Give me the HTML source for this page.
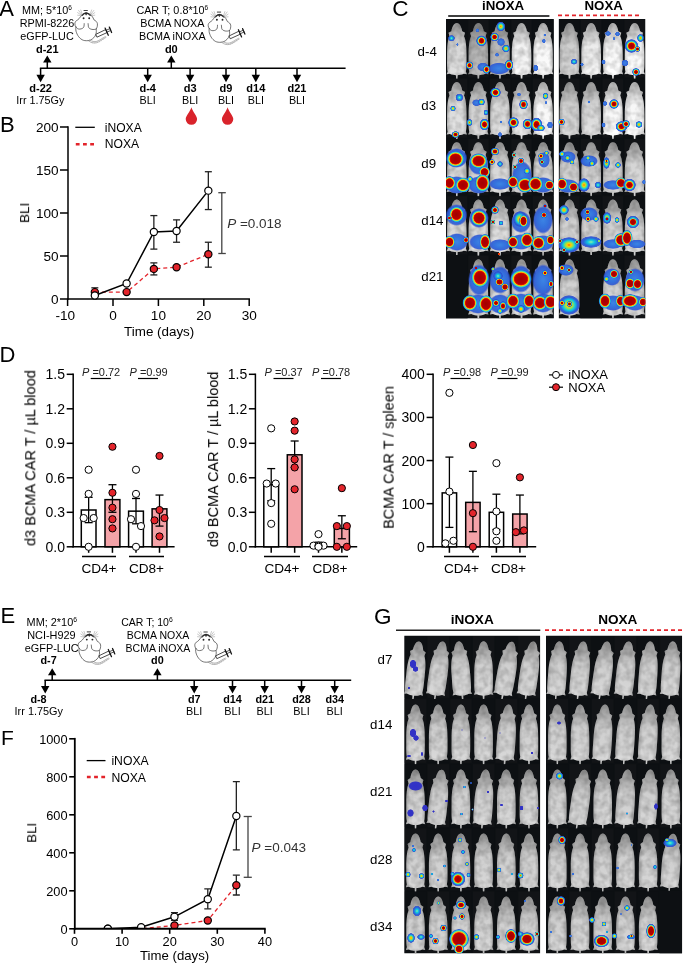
<!DOCTYPE html>
<html><head><meta charset="utf-8"><style>html,body{margin:0;padding:0;background:#fff;}svg{display:block;font-family:"Liberation Sans",sans-serif;-webkit-font-smoothing:antialiased;}text{will-change:transform;}</style></head><body>
<svg width="685" height="963" viewBox="0 0 685 963" font-family='"Liberation Sans", sans-serif'>
<rect width="685" height="963" fill="#fff"/>
<defs>
<filter id="tex" x="0" y="0" width="1" height="1"><feTurbulence type="fractalNoise" baseFrequency="0.16" numOctaves="2" seed="3" result="n"/><feColorMatrix in="n" type="matrix" values="0 0 0 0 0  0 0 0 0 0  0 0 0 0 0  0 0 0 -1.6 1.05" result="a"/><feComposite in="a" in2="SourceGraphic" operator="in"/></filter>
<radialGradient id="hr"><stop offset="0" stop-color="#980000"/><stop offset="0.36" stop-color="#c00000"/><stop offset="0.46" stop-color="#f02000"/><stop offset="0.54" stop-color="#ffd000"/><stop offset="0.61" stop-color="#80e060"/><stop offset="0.68" stop-color="#10c8e0"/><stop offset="0.8" stop-color="#2a60d8"/><stop offset="0.92" stop-color="#2a4ad0" stop-opacity="0.85"/><stop offset="1" stop-color="#2a4ad0" stop-opacity="0"/></radialGradient>
<radialGradient id="hy"><stop offset="0" stop-color="#ff6000"/><stop offset="0.18" stop-color="#ffd000"/><stop offset="0.38" stop-color="#80e060"/><stop offset="0.55" stop-color="#10c8e0"/><stop offset="0.78" stop-color="#2a60d8"/><stop offset="0.92" stop-color="#2a4ad0" stop-opacity="0.85"/><stop offset="1" stop-color="#2a4ad0" stop-opacity="0"/></radialGradient>
<radialGradient id="hc"><stop offset="0" stop-color="#90f0a0"/><stop offset="0.3" stop-color="#10c8e0"/><stop offset="0.7" stop-color="#2a60d8"/><stop offset="0.9" stop-color="#2a4ad0" stop-opacity="0.8"/><stop offset="1" stop-color="#2a4ad0" stop-opacity="0"/></radialGradient>
<radialGradient id="hb"><stop offset="0" stop-color="#3c84e4"/><stop offset="0.55" stop-color="#3470dc"/><stop offset="0.85" stop-color="#2c58d4" stop-opacity="0.9"/><stop offset="1" stop-color="#2a4ad0" stop-opacity="0"/></radialGradient>
<radialGradient id="hB"><stop offset="0" stop-color="#3030c8"/><stop offset="0.8" stop-color="#3234c4"/><stop offset="1" stop-color="#3234c4" stop-opacity="0"/></radialGradient>
<radialGradient id="hR"><stop offset="0" stop-color="#a00000"/><stop offset="0.55" stop-color="#b80000"/><stop offset="0.64" stop-color="#e81800"/><stop offset="0.71" stop-color="#ffc000"/><stop offset="0.79" stop-color="#80e070"/><stop offset="0.87" stop-color="#18c0e0"/><stop offset="0.95" stop-color="#2a60d8"/><stop offset="1" stop-color="#2a50d0" stop-opacity="0.4"/></radialGradient>
<linearGradient id="mg" x1="0" y1="0" x2="0" y2="1"><stop offset="0" stop-color="#000" stop-opacity="0.32"/><stop offset="0.2" stop-color="#000" stop-opacity="0.18"/><stop offset="0.4" stop-color="#000" stop-opacity="0.03"/><stop offset="0.85" stop-color="#fff" stop-opacity="0.06"/><stop offset="1" stop-color="#000" stop-opacity="0.15"/></linearGradient>
<linearGradient id="mh" x1="0" y1="0" x2="1" y2="0"><stop offset="0" stop-color="#000" stop-opacity="0.18"/><stop offset="0.2" stop-color="#000" stop-opacity="0"/><stop offset="0.8" stop-color="#000" stop-opacity="0"/><stop offset="1" stop-color="#000" stop-opacity="0.18"/></linearGradient>
</defs>
<text x="-0.80" y="16.00" font-size="22" text-anchor="start" font-weight="normal" font-style="normal" fill="#000" >A</text>
<text x="47.00" y="14.00" font-size="10.8" text-anchor="middle" font-weight="normal" font-style="normal" fill="#000" >MM; 5*10<tspan font-size="6.5" dy="-4">6</tspan></text>
<text x="47.00" y="26.80" font-size="10.8" text-anchor="middle" font-weight="normal" font-style="normal" fill="#000" >RPMI-8226</text>
<text x="47.00" y="39.60" font-size="10.8" text-anchor="middle" font-weight="normal" font-style="normal" fill="#000" >eGFP-LUC</text>
<text x="172.30" y="14.00" font-size="10.8" text-anchor="middle" font-weight="normal" font-style="normal" fill="#000" >CAR T; 0.8*10<tspan font-size="6.5" dy="-4">6</tspan></text>
<text x="172.30" y="26.80" font-size="10.8" text-anchor="middle" font-weight="normal" font-style="normal" fill="#000" >BCMA NOXA</text>
<text x="172.30" y="39.60" font-size="10.8" text-anchor="middle" font-weight="normal" font-style="normal" fill="#000" >BCMA iNOXA</text>
<g transform="translate(0.00,0.00)" fill="none" stroke="#2a2a2a" stroke-width="0.65" stroke-linecap="round" stroke-linejoin="round">
<path fill="#fff" d="M86.1,12.8 C84,12.8 81.8,15 80.3,17 C79.5,18.3 78.6,19.2 77.8,19.8 C75.6,20.8 74.8,22.5 74.9,23.8 C74.9,25.2 75.3,26.2 75.9,26.8 C75.6,29 75.8,31 76.5,32.6 C77.8,36.5 81,40.2 84.8,40.6 C87,40.9 89,40.6 90.6,40 C93,38.8 95,36.8 95.8,34.5 C96.5,32.5 96.4,30.5 96.1,29 C97.2,27.8 97.6,25.5 97.4,23.6 C97,21.8 95.6,20.6 94.2,20.1 C93.6,19 93.2,18 92.6,17 C90.8,14.6 88.4,12.8 86.1,12.8 Z"/>
<path d="M75.9,26.8 C76.6,28.3 78,29.2 79.7,29.1 C81.8,29 83.6,28 83.9,26.6 C84.2,25.5 84.2,24.4 84.2,23.6"/>
<path d="M96.1,29 C95,29.6 93.4,29.6 91.9,29.4 C90,29 88.6,28 88.4,26.8 C88.2,25.6 88.2,24.5 88.1,23.6"/>
<path d="M82.2,15.2 C83.5,13.8 84.8,13.1 86.1,13.1 C87.4,13.1 88.8,13.8 90.2,15.2" stroke-width="1.3"/>
<path d="M85.2,13.6 L86.1,15.2 L87,13.6 Z" fill="#222" stroke-width="0.5"/>
<path d="M84,10.5 L87.4,10.5" stroke-width="0.9"/>
<circle cx="83.6" cy="18.2" r="0.95" fill="#222" stroke="none"/>
<circle cx="89.2" cy="18.2" r="0.95" fill="#222" stroke="none"/>
<path stroke="#777" stroke-width="0.4" d="M82,15 L78.6,10.4 M81.6,15.3 L77.6,12.6 M81.4,15.6 L77.6,15.2 M82.4,14.6 L80.8,10"/>
<path stroke="#777" stroke-width="0.4" d="M90.4,15 L93.8,10.4 M90.8,15.3 L94.8,12.6 M91,15.6 L94.8,15.2 M90,14.6 L91.6,10"/>
<path d="M96.1,34.2 L105.6,29.6 L107.0,32.6 L97.3,37.0 Z" fill="#fff" stroke-width="0.85"/>
<path d="M105.1,28.1 L108.3,35.3 M109.3,27.1 L111.6,32.5" stroke-width="1.25" stroke="#111"/>
<path d="M106.4,30.2 L110.2,28.5 M107.2,32.0 L110.9,30.4" stroke-width="0.8"/>
<path stroke="#888" stroke-width="0.6" d="M88.2,40.6 C90.5,42.8 93.5,43.4 96.4,42.8 C99.5,42 102.5,39 106,37.4"/>
<path stroke="#888" stroke-width="0.6" d="M89.8,40.0 C92,41.6 94.5,41.9 96.6,41.4 C99.5,40.5 102,38.2 105.4,36.6"/>
<path stroke="#aaa" stroke-width="0.45" d="M93,41.6 L92.6,42.9 M95,41.6 L94.8,43 M97,41.3 L97.2,42.6 M99,40.6 L99.4,41.9 M101,39.6 L101.4,40.8 M103,38.3 L103.4,39.5"/>
</g>
<g transform="translate(133.30,1.60)" fill="none" stroke="#2a2a2a" stroke-width="0.65" stroke-linecap="round" stroke-linejoin="round">
<path fill="#fff" d="M86.1,12.8 C84,12.8 81.8,15 80.3,17 C79.5,18.3 78.6,19.2 77.8,19.8 C75.6,20.8 74.8,22.5 74.9,23.8 C74.9,25.2 75.3,26.2 75.9,26.8 C75.6,29 75.8,31 76.5,32.6 C77.8,36.5 81,40.2 84.8,40.6 C87,40.9 89,40.6 90.6,40 C93,38.8 95,36.8 95.8,34.5 C96.5,32.5 96.4,30.5 96.1,29 C97.2,27.8 97.6,25.5 97.4,23.6 C97,21.8 95.6,20.6 94.2,20.1 C93.6,19 93.2,18 92.6,17 C90.8,14.6 88.4,12.8 86.1,12.8 Z"/>
<path d="M75.9,26.8 C76.6,28.3 78,29.2 79.7,29.1 C81.8,29 83.6,28 83.9,26.6 C84.2,25.5 84.2,24.4 84.2,23.6"/>
<path d="M96.1,29 C95,29.6 93.4,29.6 91.9,29.4 C90,29 88.6,28 88.4,26.8 C88.2,25.6 88.2,24.5 88.1,23.6"/>
<path d="M82.2,15.2 C83.5,13.8 84.8,13.1 86.1,13.1 C87.4,13.1 88.8,13.8 90.2,15.2" stroke-width="1.3"/>
<path d="M85.2,13.6 L86.1,15.2 L87,13.6 Z" fill="#222" stroke-width="0.5"/>
<path d="M84,10.5 L87.4,10.5" stroke-width="0.9"/>
<circle cx="83.6" cy="18.2" r="0.95" fill="#222" stroke="none"/>
<circle cx="89.2" cy="18.2" r="0.95" fill="#222" stroke="none"/>
<path stroke="#777" stroke-width="0.4" d="M82,15 L78.6,10.4 M81.6,15.3 L77.6,12.6 M81.4,15.6 L77.6,15.2 M82.4,14.6 L80.8,10"/>
<path stroke="#777" stroke-width="0.4" d="M90.4,15 L93.8,10.4 M90.8,15.3 L94.8,12.6 M91,15.6 L94.8,15.2 M90,14.6 L91.6,10"/>
<path d="M96.1,34.2 L105.6,29.6 L107.0,32.6 L97.3,37.0 Z" fill="#fff" stroke-width="0.85"/>
<path d="M105.1,28.1 L108.3,35.3 M109.3,27.1 L111.6,32.5" stroke-width="1.25" stroke="#111"/>
<path d="M106.4,30.2 L110.2,28.5 M107.2,32.0 L110.9,30.4" stroke-width="0.8"/>
<path stroke="#888" stroke-width="0.6" d="M88.2,40.6 C90.5,42.8 93.5,43.4 96.4,42.8 C99.5,42 102.5,39 106,37.4"/>
<path stroke="#888" stroke-width="0.6" d="M89.8,40.0 C92,41.6 94.5,41.9 96.6,41.4 C99.5,40.5 102,38.2 105.4,36.6"/>
<path stroke="#aaa" stroke-width="0.45" d="M93,41.6 L92.6,42.9 M95,41.6 L94.8,43 M97,41.3 L97.2,42.6 M99,40.6 L99.4,41.9 M101,39.6 L101.4,40.8 M103,38.3 L103.4,39.5"/>
</g>
<line x1="39.85" y1="68.20" x2="345.60" y2="68.20" stroke="#000" stroke-width="1.5" />
<line x1="47.30" y1="68.20" x2="47.30" y2="61.40" stroke="#000" stroke-width="1.5" />
<path d="M43.10,62.40 L51.50,62.40 L47.30,55.40 Z" fill="#000"/>
<line x1="171.30" y1="68.20" x2="171.30" y2="61.40" stroke="#000" stroke-width="1.5" />
<path d="M167.10,62.40 L175.50,62.40 L171.30,55.40 Z" fill="#000"/>
<text x="47.30" y="53.10" font-size="11" text-anchor="middle" font-weight="bold" font-style="normal" fill="#000" >d-21</text>
<text x="171.30" y="53.10" font-size="11" text-anchor="middle" font-weight="bold" font-style="normal" fill="#000" >d0</text>
<line x1="40.60" y1="68.20" x2="40.60" y2="75.70" stroke="#000" stroke-width="1.5" />
<path d="M36.40,74.70 L44.80,74.70 L40.60,82.20 Z" fill="#000"/>
<text x="40.60" y="91.60" font-size="11" text-anchor="middle" font-weight="bold" font-style="normal" fill="#000" >d-22</text>
<text x="40.30" y="104.00" font-size="10.8" text-anchor="middle" font-weight="normal" font-style="normal" fill="#000" >Irr 1.75Gy</text>
<line x1="147.70" y1="68.20" x2="147.70" y2="75.70" stroke="#000" stroke-width="1.5" />
<path d="M143.50,74.70 L151.90,74.70 L147.70,82.20 Z" fill="#000"/>
<text x="147.70" y="91.60" font-size="11" text-anchor="middle" font-weight="bold" font-style="normal" fill="#000" >d-4</text>
<text x="147.70" y="104.00" font-size="10.8" text-anchor="middle" font-weight="normal" font-style="normal" fill="#000" >BLI</text>
<line x1="190.10" y1="68.20" x2="190.10" y2="75.70" stroke="#000" stroke-width="1.5" />
<path d="M185.90,74.70 L194.30,74.70 L190.10,82.20 Z" fill="#000"/>
<text x="190.10" y="91.60" font-size="11" text-anchor="middle" font-weight="bold" font-style="normal" fill="#000" >d3</text>
<text x="190.10" y="104.00" font-size="10.8" text-anchor="middle" font-weight="normal" font-style="normal" fill="#000" >BLI</text>
<line x1="226.00" y1="68.20" x2="226.00" y2="75.70" stroke="#000" stroke-width="1.5" />
<path d="M221.80,74.70 L230.20,74.70 L226.00,82.20 Z" fill="#000"/>
<text x="226.00" y="91.60" font-size="11" text-anchor="middle" font-weight="bold" font-style="normal" fill="#000" >d9</text>
<text x="226.00" y="104.00" font-size="10.8" text-anchor="middle" font-weight="normal" font-style="normal" fill="#000" >BLI</text>
<line x1="255.80" y1="68.20" x2="255.80" y2="75.70" stroke="#000" stroke-width="1.5" />
<path d="M251.60,74.70 L260.00,74.70 L255.80,82.20 Z" fill="#000"/>
<text x="255.80" y="91.60" font-size="11" text-anchor="middle" font-weight="bold" font-style="normal" fill="#000" >d14</text>
<text x="255.80" y="104.00" font-size="10.8" text-anchor="middle" font-weight="normal" font-style="normal" fill="#000" >BLI</text>
<line x1="297.00" y1="68.20" x2="297.00" y2="75.70" stroke="#000" stroke-width="1.5" />
<path d="M292.80,74.70 L301.20,74.70 L297.00,82.20 Z" fill="#000"/>
<text x="297.00" y="91.60" font-size="11" text-anchor="middle" font-weight="bold" font-style="normal" fill="#000" >d21</text>
<text x="297.00" y="104.00" font-size="10.8" text-anchor="middle" font-weight="normal" font-style="normal" fill="#000" >BLI</text>
<path d="M191.40,107.30 C192.40,111.30 197.10,116.10 197.10,119.10 A5.70,5.70 0 0 1 185.70,119.10 C185.70,116.10 190.40,111.30 191.40,107.30 Z" fill="#d9232b"/>
<path d="M227.60,107.30 C228.60,111.30 233.30,116.10 233.30,119.10 A5.70,5.70 0 0 1 221.90,119.10 C221.90,116.10 226.60,111.30 227.60,107.30 Z" fill="#d9232b"/>
<text x="0.00" y="131.60" font-size="22" text-anchor="start" font-weight="normal" font-style="normal" fill="#000" >B</text>
<line x1="68.00" y1="126.25" x2="68.00" y2="299.75" stroke="#000" stroke-width="1.5" />
<line x1="67.25" y1="299.00" x2="249.95" y2="299.00" stroke="#000" stroke-width="1.5" />
<line x1="60.00" y1="299.00" x2="68.00" y2="299.00" stroke="#000" stroke-width="1.5" />
<text x="58.60" y="303.90" font-size="13.6" text-anchor="end" font-weight="normal" font-style="normal" fill="#000" >0</text>
<line x1="60.00" y1="256.00" x2="68.00" y2="256.00" stroke="#000" stroke-width="1.5" />
<text x="58.60" y="260.90" font-size="13.6" text-anchor="end" font-weight="normal" font-style="normal" fill="#000" >50</text>
<line x1="60.00" y1="213.00" x2="68.00" y2="213.00" stroke="#000" stroke-width="1.5" />
<text x="58.60" y="217.90" font-size="13.6" text-anchor="end" font-weight="normal" font-style="normal" fill="#000" >100</text>
<line x1="60.00" y1="170.00" x2="68.00" y2="170.00" stroke="#000" stroke-width="1.5" />
<text x="58.60" y="174.90" font-size="13.6" text-anchor="end" font-weight="normal" font-style="normal" fill="#000" >150</text>
<line x1="60.00" y1="127.00" x2="68.00" y2="127.00" stroke="#000" stroke-width="1.5" />
<text x="58.60" y="131.90" font-size="13.6" text-anchor="end" font-weight="normal" font-style="normal" fill="#000" >200</text>
<line x1="67.60" y1="299.00" x2="67.60" y2="306.00" stroke="#000" stroke-width="1.5" />
<text x="65.30" y="319.70" font-size="13.6" text-anchor="middle" font-weight="normal" font-style="normal" fill="#000" >-10</text>
<line x1="113.00" y1="299.00" x2="113.00" y2="306.00" stroke="#000" stroke-width="1.5" />
<text x="113.00" y="319.70" font-size="13.6" text-anchor="middle" font-weight="normal" font-style="normal" fill="#000" >0</text>
<line x1="158.40" y1="299.00" x2="158.40" y2="306.00" stroke="#000" stroke-width="1.5" />
<text x="158.40" y="319.70" font-size="13.6" text-anchor="middle" font-weight="normal" font-style="normal" fill="#000" >10</text>
<line x1="203.80" y1="299.00" x2="203.80" y2="306.00" stroke="#000" stroke-width="1.5" />
<text x="203.80" y="319.70" font-size="13.6" text-anchor="middle" font-weight="normal" font-style="normal" fill="#000" >20</text>
<line x1="249.20" y1="299.00" x2="249.20" y2="306.00" stroke="#000" stroke-width="1.5" />
<text x="249.20" y="319.70" font-size="13.6" text-anchor="middle" font-weight="normal" font-style="normal" fill="#000" >30</text>
<text x="159.20" y="335.80" font-size="13.4" text-anchor="middle" font-weight="normal" font-style="normal" fill="#000" >Time (days)</text>
<text x="28.90" y="212.80" font-size="13.6" text-anchor="middle" font-weight="normal" font-style="normal" fill="#000" transform="rotate(-90 28.9 212.8)">BLI</text>
<line x1="75.30" y1="127.30" x2="94.80" y2="127.30" stroke="#000" stroke-width="1.3" />
<line x1="75.80" y1="144.30" x2="94.50" y2="144.30" stroke="#e3242b" stroke-width="2.6" stroke-dasharray="3.8 3.4"/>
<text x="104.80" y="132.40" font-size="12.1" text-anchor="start" font-weight="normal" font-style="normal" fill="#000" >iNOXA</text>
<text x="104.80" y="147.80" font-size="12.1" text-anchor="start" font-weight="normal" font-style="normal" fill="#000" >NOXA</text>
<line x1="94.84" y1="287.82" x2="94.84" y2="296.42" stroke="#222" stroke-width="1.3" />
<line x1="91.34" y1="287.82" x2="98.34" y2="287.82" stroke="#222" stroke-width="1.3" />
<line x1="91.34" y1="296.42" x2="98.34" y2="296.42" stroke="#222" stroke-width="1.3" />
<line x1="153.86" y1="262.88" x2="153.86" y2="274.92" stroke="#222" stroke-width="1.3" />
<line x1="150.36" y1="262.88" x2="157.36" y2="262.88" stroke="#222" stroke-width="1.3" />
<line x1="150.36" y1="274.92" x2="157.36" y2="274.92" stroke="#222" stroke-width="1.3" />
<line x1="208.34" y1="242.24" x2="208.34" y2="267.18" stroke="#222" stroke-width="1.3" />
<line x1="204.84" y1="242.24" x2="211.84" y2="242.24" stroke="#222" stroke-width="1.3" />
<line x1="204.84" y1="267.18" x2="211.84" y2="267.18" stroke="#222" stroke-width="1.3" />
<line x1="153.86" y1="215.58" x2="153.86" y2="249.12" stroke="#222" stroke-width="1.3" />
<line x1="150.36" y1="215.58" x2="157.36" y2="215.58" stroke="#222" stroke-width="1.3" />
<line x1="150.36" y1="249.12" x2="157.36" y2="249.12" stroke="#222" stroke-width="1.3" />
<line x1="176.56" y1="219.88" x2="176.56" y2="242.24" stroke="#222" stroke-width="1.3" />
<line x1="173.06" y1="219.88" x2="180.06" y2="219.88" stroke="#222" stroke-width="1.3" />
<line x1="173.06" y1="242.24" x2="180.06" y2="242.24" stroke="#222" stroke-width="1.3" />
<line x1="208.34" y1="171.72" x2="208.34" y2="209.56" stroke="#222" stroke-width="1.3" />
<line x1="204.84" y1="171.72" x2="211.84" y2="171.72" stroke="#222" stroke-width="1.3" />
<line x1="204.84" y1="209.56" x2="211.84" y2="209.56" stroke="#222" stroke-width="1.3" />
<polyline points="94.84,292.12 126.62,292.12 153.86,268.90 176.56,267.18 208.34,254.28" fill="none" stroke="#e3242b" stroke-width="1.3" stroke-dasharray="4 3"/>
<polyline points="94.84,295.56 126.62,283.52 153.86,231.92 176.56,231.06 208.34,190.64" fill="none" stroke="#000" stroke-width="1.5"/>
<circle cx="94.84" cy="292.12" r="3.6" fill="#e3242b" stroke="#000" stroke-width="1.2"/>
<circle cx="126.62" cy="292.12" r="3.6" fill="#e3242b" stroke="#000" stroke-width="1.2"/>
<circle cx="153.86" cy="268.90" r="3.6" fill="#e3242b" stroke="#000" stroke-width="1.2"/>
<circle cx="176.56" cy="267.18" r="3.6" fill="#e3242b" stroke="#000" stroke-width="1.2"/>
<circle cx="208.34" cy="254.28" r="3.6" fill="#e3242b" stroke="#000" stroke-width="1.2"/>
<circle cx="94.84" cy="295.56" r="3.6" fill="#fff" stroke="#000" stroke-width="1.2"/>
<circle cx="126.62" cy="283.52" r="3.6" fill="#fff" stroke="#000" stroke-width="1.2"/>
<circle cx="153.86" cy="231.92" r="3.6" fill="#fff" stroke="#000" stroke-width="1.2"/>
<circle cx="176.56" cy="231.06" r="3.6" fill="#fff" stroke="#000" stroke-width="1.2"/>
<circle cx="208.34" cy="190.64" r="3.6" fill="#fff" stroke="#000" stroke-width="1.2"/>
<line x1="221.80" y1="192.70" x2="221.80" y2="253.50" stroke="#444" stroke-width="1.3" />
<line x1="218.30" y1="192.70" x2="225.80" y2="192.70" stroke="#444" stroke-width="1.3" />
<line x1="218.30" y1="253.50" x2="225.80" y2="253.50" stroke="#444" stroke-width="1.3" />
<text x="227.20" y="228.20" font-size="13.5" text-anchor="start" font-weight="normal" font-style="normal" fill="#333" ><tspan font-style="italic">P</tspan> =0.018</text>
<text x="-0.60" y="361.60" font-size="22" text-anchor="start" font-weight="normal" font-style="normal" fill="#000" >D</text>
<line x1="73.20" y1="373.55" x2="73.20" y2="547.55" stroke="#000" stroke-width="1.5" />
<line x1="72.45" y1="546.80" x2="174.60" y2="546.80" stroke="#000" stroke-width="1.5" />
<line x1="66.70" y1="546.80" x2="73.20" y2="546.80" stroke="#000" stroke-width="1.5" />
<text x="65.00" y="551.80" font-size="14" text-anchor="end" font-weight="normal" font-style="normal" fill="#000" >0.0</text>
<line x1="66.70" y1="512.30" x2="73.20" y2="512.30" stroke="#000" stroke-width="1.5" />
<text x="65.00" y="517.30" font-size="14" text-anchor="end" font-weight="normal" font-style="normal" fill="#000" >0.3</text>
<line x1="66.70" y1="477.80" x2="73.20" y2="477.80" stroke="#000" stroke-width="1.5" />
<text x="65.00" y="482.80" font-size="14" text-anchor="end" font-weight="normal" font-style="normal" fill="#000" >0.6</text>
<line x1="66.70" y1="443.30" x2="73.20" y2="443.30" stroke="#000" stroke-width="1.5" />
<text x="65.00" y="448.30" font-size="14" text-anchor="end" font-weight="normal" font-style="normal" fill="#000" >0.9</text>
<line x1="66.70" y1="408.80" x2="73.20" y2="408.80" stroke="#000" stroke-width="1.5" />
<text x="65.00" y="413.80" font-size="14" text-anchor="end" font-weight="normal" font-style="normal" fill="#000" >1.2</text>
<line x1="66.70" y1="374.30" x2="73.20" y2="374.30" stroke="#000" stroke-width="1.5" />
<text x="65.00" y="379.30" font-size="14" text-anchor="end" font-weight="normal" font-style="normal" fill="#000" >1.5</text>
<text x="35.40" y="458.10" font-size="14.5" text-anchor="middle" font-weight="normal" font-style="normal" fill="#000" transform="rotate(-90 35.4 458.1)">d3 BCMA CAR T / µL blood</text>
<rect x="81.30" y="510.00" width="14.70" height="36.80" fill="#fff" stroke="#000" stroke-width="1.5" />
<line x1="88.65" y1="497.35" x2="88.65" y2="522.65" stroke="#000" stroke-width="1.3" />
<line x1="84.65" y1="497.35" x2="92.65" y2="497.35" stroke="#000" stroke-width="1.3" />
<line x1="84.65" y1="522.65" x2="92.65" y2="522.65" stroke="#000" stroke-width="1.3" />
<line x1="88.65" y1="546.80" x2="88.65" y2="552.80" stroke="#000" stroke-width="1.5" />
<circle cx="88.65" cy="469.75" r="3.6" fill="#fff" stroke="#000" stroke-width="1"/>
<circle cx="88.65" cy="493.90" r="3.6" fill="#fff" stroke="#000" stroke-width="1"/>
<circle cx="83.65" cy="518.05" r="3.6" fill="#fff" stroke="#000" stroke-width="1"/>
<circle cx="93.65" cy="518.05" r="3.6" fill="#fff" stroke="#000" stroke-width="1"/>
<circle cx="88.65" cy="546.80" r="3.6" fill="#fff" stroke="#000" stroke-width="1"/>
<rect x="105.00" y="499.65" width="14.90" height="47.15" fill="#f4a3a8" stroke="#000" stroke-width="1.5" />
<line x1="112.45" y1="484.70" x2="112.45" y2="512.30" stroke="#000" stroke-width="1.3" />
<line x1="108.45" y1="484.70" x2="116.45" y2="484.70" stroke="#000" stroke-width="1.3" />
<line x1="108.45" y1="512.30" x2="116.45" y2="512.30" stroke="#000" stroke-width="1.3" />
<line x1="112.45" y1="546.80" x2="112.45" y2="552.80" stroke="#000" stroke-width="1.5" />
<circle cx="112.45" cy="446.75" r="3.6" fill="#e3242b" stroke="#000" stroke-width="1"/>
<circle cx="112.45" cy="492.75" r="3.6" fill="#e3242b" stroke="#000" stroke-width="1"/>
<circle cx="112.45" cy="507.70" r="3.6" fill="#e3242b" stroke="#000" stroke-width="1"/>
<circle cx="112.45" cy="519.20" r="3.6" fill="#e3242b" stroke="#000" stroke-width="1"/>
<circle cx="112.45" cy="528.40" r="3.6" fill="#e3242b" stroke="#000" stroke-width="1"/>
<rect x="128.60" y="511.15" width="14.80" height="35.65" fill="#fff" stroke="#000" stroke-width="1.5" />
<line x1="136.00" y1="498.50" x2="136.00" y2="523.80" stroke="#000" stroke-width="1.3" />
<line x1="132.00" y1="498.50" x2="140.00" y2="498.50" stroke="#000" stroke-width="1.3" />
<line x1="132.00" y1="523.80" x2="140.00" y2="523.80" stroke="#000" stroke-width="1.3" />
<line x1="136.00" y1="546.80" x2="136.00" y2="552.80" stroke="#000" stroke-width="1.5" />
<circle cx="136.00" cy="469.75" r="3.6" fill="#fff" stroke="#000" stroke-width="1"/>
<circle cx="136.00" cy="493.90" r="3.6" fill="#fff" stroke="#000" stroke-width="1"/>
<circle cx="131.00" cy="519.20" r="3.6" fill="#fff" stroke="#000" stroke-width="1"/>
<circle cx="141.00" cy="526.10" r="3.6" fill="#fff" stroke="#000" stroke-width="1"/>
<circle cx="136.00" cy="546.80" r="3.6" fill="#fff" stroke="#000" stroke-width="1"/>
<rect x="152.10" y="508.85" width="14.80" height="37.95" fill="#f4a3a8" stroke="#000" stroke-width="1.5" />
<line x1="159.50" y1="495.05" x2="159.50" y2="526.10" stroke="#000" stroke-width="1.3" />
<line x1="155.50" y1="495.05" x2="163.50" y2="495.05" stroke="#000" stroke-width="1.3" />
<line x1="155.50" y1="526.10" x2="163.50" y2="526.10" stroke="#000" stroke-width="1.3" />
<line x1="159.50" y1="546.80" x2="159.50" y2="552.80" stroke="#000" stroke-width="1.5" />
<circle cx="159.50" cy="455.95" r="3.6" fill="#e3242b" stroke="#000" stroke-width="1"/>
<circle cx="159.50" cy="510.00" r="3.6" fill="#e3242b" stroke="#000" stroke-width="1"/>
<circle cx="154.50" cy="520.35" r="3.6" fill="#e3242b" stroke="#000" stroke-width="1"/>
<circle cx="164.50" cy="518.05" r="3.6" fill="#e3242b" stroke="#000" stroke-width="1"/>
<circle cx="159.50" cy="536.45" r="3.6" fill="#e3242b" stroke="#000" stroke-width="1"/>
<line x1="82.00" y1="556.60" x2="116.00" y2="556.60" stroke="#000" stroke-width="1.5" />
<text x="99.00" y="573.40" font-size="13.6" text-anchor="middle" font-weight="normal" font-style="normal" fill="#000" >CD4+</text>
<line x1="129.00" y1="556.60" x2="164.00" y2="556.60" stroke="#000" stroke-width="1.5" />
<text x="146.50" y="573.40" font-size="13.6" text-anchor="middle" font-weight="normal" font-style="normal" fill="#000" >CD8+</text>
<text x="82.00" y="376.30" font-size="11" text-anchor="start" font-weight="normal" font-style="normal" fill="#222" ><tspan font-style="italic">P</tspan> =0.72</text>
<line x1="90.70" y1="378.50" x2="110.80" y2="378.50" stroke="#000" stroke-width="1.2" />
<text x="129.50" y="376.30" font-size="11" text-anchor="start" font-weight="normal" font-style="normal" fill="#222" ><tspan font-style="italic">P</tspan> =0.99</text>
<line x1="138.00" y1="378.50" x2="158.00" y2="378.50" stroke="#000" stroke-width="1.2" />
<line x1="255.40" y1="373.55" x2="255.40" y2="547.55" stroke="#000" stroke-width="1.5" />
<line x1="254.65" y1="546.80" x2="357.20" y2="546.80" stroke="#000" stroke-width="1.5" />
<line x1="248.90" y1="546.80" x2="255.40" y2="546.80" stroke="#000" stroke-width="1.5" />
<text x="247.20" y="551.80" font-size="14" text-anchor="end" font-weight="normal" font-style="normal" fill="#000" >0.0</text>
<line x1="248.90" y1="512.30" x2="255.40" y2="512.30" stroke="#000" stroke-width="1.5" />
<text x="247.20" y="517.30" font-size="14" text-anchor="end" font-weight="normal" font-style="normal" fill="#000" >0.3</text>
<line x1="248.90" y1="477.80" x2="255.40" y2="477.80" stroke="#000" stroke-width="1.5" />
<text x="247.20" y="482.80" font-size="14" text-anchor="end" font-weight="normal" font-style="normal" fill="#000" >0.6</text>
<line x1="248.90" y1="443.30" x2="255.40" y2="443.30" stroke="#000" stroke-width="1.5" />
<text x="247.20" y="448.30" font-size="14" text-anchor="end" font-weight="normal" font-style="normal" fill="#000" >0.9</text>
<line x1="248.90" y1="408.80" x2="255.40" y2="408.80" stroke="#000" stroke-width="1.5" />
<text x="247.20" y="413.80" font-size="14" text-anchor="end" font-weight="normal" font-style="normal" fill="#000" >1.2</text>
<line x1="248.90" y1="374.30" x2="255.40" y2="374.30" stroke="#000" stroke-width="1.5" />
<text x="247.20" y="379.30" font-size="14" text-anchor="end" font-weight="normal" font-style="normal" fill="#000" >1.5</text>
<text x="218.50" y="459.40" font-size="14.5" text-anchor="middle" font-weight="normal" font-style="normal" fill="#000" transform="rotate(-90 218.5 459.4)">d9 BCMA CAR T / µL blood</text>
<rect x="263.80" y="484.70" width="14.80" height="62.10" fill="#fff" stroke="#000" stroke-width="1.5" />
<line x1="271.20" y1="468.60" x2="271.20" y2="500.80" stroke="#000" stroke-width="1.3" />
<line x1="267.20" y1="468.60" x2="275.20" y2="468.60" stroke="#000" stroke-width="1.3" />
<line x1="267.20" y1="500.80" x2="275.20" y2="500.80" stroke="#000" stroke-width="1.3" />
<line x1="271.20" y1="546.80" x2="271.20" y2="552.80" stroke="#000" stroke-width="1.5" />
<circle cx="271.20" cy="428.35" r="3.6" fill="#fff" stroke="#000" stroke-width="1"/>
<circle cx="266.70" cy="483.55" r="3.6" fill="#fff" stroke="#000" stroke-width="1"/>
<circle cx="275.70" cy="483.55" r="3.6" fill="#fff" stroke="#000" stroke-width="1"/>
<circle cx="271.20" cy="503.10" r="3.6" fill="#fff" stroke="#000" stroke-width="1"/>
<circle cx="271.20" cy="523.80" r="3.6" fill="#fff" stroke="#000" stroke-width="1"/>
<rect x="287.30" y="454.80" width="14.70" height="92.00" fill="#f4a3a8" stroke="#000" stroke-width="1.5" />
<line x1="294.65" y1="441.00" x2="294.65" y2="467.45" stroke="#000" stroke-width="1.3" />
<line x1="290.65" y1="441.00" x2="298.65" y2="441.00" stroke="#000" stroke-width="1.3" />
<line x1="290.65" y1="467.45" x2="298.65" y2="467.45" stroke="#000" stroke-width="1.3" />
<line x1="294.65" y1="546.80" x2="294.65" y2="552.80" stroke="#000" stroke-width="1.5" />
<circle cx="294.65" cy="421.45" r="3.6" fill="#e3242b" stroke="#000" stroke-width="1"/>
<circle cx="294.65" cy="430.65" r="3.6" fill="#e3242b" stroke="#000" stroke-width="1"/>
<circle cx="294.65" cy="459.40" r="3.6" fill="#e3242b" stroke="#000" stroke-width="1"/>
<circle cx="294.65" cy="467.45" r="3.6" fill="#e3242b" stroke="#000" stroke-width="1"/>
<circle cx="294.65" cy="489.30" r="3.6" fill="#e3242b" stroke="#000" stroke-width="1"/>
<rect x="311.00" y="544.50" width="15.00" height="2.30" fill="#fff" stroke="#000" stroke-width="1.5" />
<line x1="318.50" y1="542.20" x2="318.50" y2="546.80" stroke="#000" stroke-width="1.3" />
<line x1="314.50" y1="542.20" x2="322.50" y2="542.20" stroke="#000" stroke-width="1.3" />
<line x1="314.50" y1="546.80" x2="322.50" y2="546.80" stroke="#000" stroke-width="1.3" />
<line x1="318.50" y1="546.80" x2="318.50" y2="552.80" stroke="#000" stroke-width="1.5" />
<circle cx="318.50" cy="534.15" r="3.6" fill="#fff" stroke="#000" stroke-width="1"/>
<circle cx="313.50" cy="545.65" r="3.6" fill="#fff" stroke="#000" stroke-width="1"/>
<circle cx="323.50" cy="545.65" r="3.6" fill="#fff" stroke="#000" stroke-width="1"/>
<circle cx="318.50" cy="545.65" r="3.6" fill="#fff" stroke="#000" stroke-width="1"/>
<circle cx="318.50" cy="546.80" r="3.6" fill="#fff" stroke="#000" stroke-width="1"/>
<rect x="334.30" y="528.40" width="15.10" height="18.40" fill="#f4a3a8" stroke="#000" stroke-width="1.5" />
<line x1="341.85" y1="515.75" x2="341.85" y2="538.75" stroke="#000" stroke-width="1.3" />
<line x1="337.85" y1="515.75" x2="345.85" y2="515.75" stroke="#000" stroke-width="1.3" />
<line x1="337.85" y1="538.75" x2="345.85" y2="538.75" stroke="#000" stroke-width="1.3" />
<line x1="341.85" y1="546.80" x2="341.85" y2="552.80" stroke="#000" stroke-width="1.5" />
<circle cx="341.85" cy="488.15" r="3.6" fill="#e3242b" stroke="#000" stroke-width="1"/>
<circle cx="336.85" cy="526.10" r="3.6" fill="#e3242b" stroke="#000" stroke-width="1"/>
<circle cx="346.85" cy="526.10" r="3.6" fill="#e3242b" stroke="#000" stroke-width="1"/>
<circle cx="336.85" cy="546.80" r="3.6" fill="#e3242b" stroke="#000" stroke-width="1"/>
<circle cx="346.85" cy="546.80" r="3.6" fill="#e3242b" stroke="#000" stroke-width="1"/>
<line x1="264.00" y1="556.60" x2="300.00" y2="556.60" stroke="#000" stroke-width="1.5" />
<text x="282.00" y="573.40" font-size="13.6" text-anchor="middle" font-weight="normal" font-style="normal" fill="#000" >CD4+</text>
<line x1="312.00" y1="556.60" x2="348.00" y2="556.60" stroke="#000" stroke-width="1.5" />
<text x="330.00" y="573.40" font-size="13.6" text-anchor="middle" font-weight="normal" font-style="normal" fill="#000" >CD8+</text>
<text x="264.50" y="376.30" font-size="11" text-anchor="start" font-weight="normal" font-style="normal" fill="#222" ><tspan font-style="italic">P</tspan> =0.37</text>
<line x1="273.50" y1="378.50" x2="293.50" y2="378.50" stroke="#000" stroke-width="1.2" />
<text x="312.00" y="376.30" font-size="11" text-anchor="start" font-weight="normal" font-style="normal" fill="#222" ><tspan font-style="italic">P</tspan> =0.78</text>
<line x1="321.00" y1="378.50" x2="341.00" y2="378.50" stroke="#000" stroke-width="1.2" />
<line x1="433.10" y1="373.55" x2="433.10" y2="547.55" stroke="#000" stroke-width="1.5" />
<line x1="432.35" y1="546.80" x2="536.20" y2="546.80" stroke="#000" stroke-width="1.5" />
<line x1="426.60" y1="546.80" x2="433.10" y2="546.80" stroke="#000" stroke-width="1.5" />
<text x="424.90" y="551.80" font-size="14" text-anchor="end" font-weight="normal" font-style="normal" fill="#000" >0</text>
<line x1="426.60" y1="503.67" x2="433.10" y2="503.67" stroke="#000" stroke-width="1.5" />
<text x="424.90" y="508.67" font-size="14" text-anchor="end" font-weight="normal" font-style="normal" fill="#000" >100</text>
<line x1="426.60" y1="460.55" x2="433.10" y2="460.55" stroke="#000" stroke-width="1.5" />
<text x="424.90" y="465.55" font-size="14" text-anchor="end" font-weight="normal" font-style="normal" fill="#000" >200</text>
<line x1="426.60" y1="417.43" x2="433.10" y2="417.43" stroke="#000" stroke-width="1.5" />
<text x="424.90" y="422.43" font-size="14" text-anchor="end" font-weight="normal" font-style="normal" fill="#000" >300</text>
<line x1="426.60" y1="374.30" x2="433.10" y2="374.30" stroke="#000" stroke-width="1.5" />
<text x="424.90" y="379.30" font-size="14" text-anchor="end" font-weight="normal" font-style="normal" fill="#000" >400</text>
<text x="393.10" y="457.50" font-size="14.5" text-anchor="middle" font-weight="normal" font-style="normal" fill="#000" transform="rotate(-90 393.1 457.5)">BCMA CAR T / spleen</text>
<rect x="442.20" y="492.89" width="14.40" height="53.91" fill="#fff" stroke="#000" stroke-width="1.5" />
<line x1="449.40" y1="457.10" x2="449.40" y2="527.39" stroke="#000" stroke-width="1.3" />
<line x1="445.40" y1="457.10" x2="453.40" y2="457.10" stroke="#000" stroke-width="1.3" />
<line x1="445.40" y1="527.39" x2="453.40" y2="527.39" stroke="#000" stroke-width="1.3" />
<line x1="449.40" y1="546.80" x2="449.40" y2="552.80" stroke="#000" stroke-width="1.5" />
<circle cx="449.40" cy="392.84" r="3.6" fill="#fff" stroke="#000" stroke-width="1"/>
<circle cx="449.40" cy="491.60" r="3.6" fill="#fff" stroke="#000" stroke-width="1"/>
<circle cx="445.40" cy="543.35" r="3.6" fill="#fff" stroke="#000" stroke-width="1"/>
<circle cx="453.40" cy="540.76" r="3.6" fill="#fff" stroke="#000" stroke-width="1"/>
<rect x="465.70" y="502.38" width="14.40" height="44.42" fill="#f4a3a8" stroke="#000" stroke-width="1.5" />
<line x1="472.90" y1="471.33" x2="472.90" y2="531.71" stroke="#000" stroke-width="1.3" />
<line x1="468.90" y1="471.33" x2="476.90" y2="471.33" stroke="#000" stroke-width="1.3" />
<line x1="468.90" y1="531.71" x2="476.90" y2="531.71" stroke="#000" stroke-width="1.3" />
<line x1="472.90" y1="546.80" x2="472.90" y2="552.80" stroke="#000" stroke-width="1.5" />
<circle cx="472.90" cy="445.02" r="3.6" fill="#e3242b" stroke="#000" stroke-width="1"/>
<circle cx="472.90" cy="513.16" r="3.6" fill="#e3242b" stroke="#000" stroke-width="1"/>
<circle cx="472.90" cy="546.80" r="3.6" fill="#e3242b" stroke="#000" stroke-width="1"/>
<rect x="489.20" y="512.30" width="14.40" height="34.50" fill="#fff" stroke="#000" stroke-width="1.5" />
<line x1="496.40" y1="494.19" x2="496.40" y2="529.55" stroke="#000" stroke-width="1.3" />
<line x1="492.40" y1="494.19" x2="500.40" y2="494.19" stroke="#000" stroke-width="1.3" />
<line x1="492.40" y1="529.55" x2="500.40" y2="529.55" stroke="#000" stroke-width="1.3" />
<line x1="496.40" y1="546.80" x2="496.40" y2="552.80" stroke="#000" stroke-width="1.5" />
<circle cx="496.40" cy="463.14" r="3.6" fill="#fff" stroke="#000" stroke-width="1"/>
<circle cx="496.40" cy="511.44" r="3.6" fill="#fff" stroke="#000" stroke-width="1"/>
<circle cx="496.40" cy="531.27" r="3.6" fill="#fff" stroke="#000" stroke-width="1"/>
<circle cx="496.40" cy="540.76" r="3.6" fill="#fff" stroke="#000" stroke-width="1"/>
<rect x="512.70" y="514.02" width="14.40" height="32.77" fill="#f4a3a8" stroke="#000" stroke-width="1.5" />
<line x1="519.90" y1="495.05" x2="519.90" y2="533.86" stroke="#000" stroke-width="1.3" />
<line x1="515.90" y1="495.05" x2="523.90" y2="495.05" stroke="#000" stroke-width="1.3" />
<line x1="515.90" y1="533.86" x2="523.90" y2="533.86" stroke="#000" stroke-width="1.3" />
<line x1="519.90" y1="546.80" x2="519.90" y2="552.80" stroke="#000" stroke-width="1.5" />
<circle cx="519.90" cy="477.37" r="3.6" fill="#e3242b" stroke="#000" stroke-width="1"/>
<circle cx="515.90" cy="532.14" r="3.6" fill="#e3242b" stroke="#000" stroke-width="1"/>
<circle cx="523.90" cy="530.41" r="3.6" fill="#e3242b" stroke="#000" stroke-width="1"/>
<line x1="444.00" y1="556.60" x2="479.00" y2="556.60" stroke="#000" stroke-width="1.5" />
<text x="461.50" y="573.40" font-size="13.6" text-anchor="middle" font-weight="normal" font-style="normal" fill="#000" >CD4+</text>
<line x1="491.00" y1="556.60" x2="526.00" y2="556.60" stroke="#000" stroke-width="1.5" />
<text x="508.50" y="573.40" font-size="13.6" text-anchor="middle" font-weight="normal" font-style="normal" fill="#000" >CD8+</text>
<text x="443.00" y="376.30" font-size="11" text-anchor="start" font-weight="normal" font-style="normal" fill="#222" ><tspan font-style="italic">P</tspan> =0.98</text>
<line x1="450.50" y1="378.50" x2="470.50" y2="378.50" stroke="#000" stroke-width="1.2" />
<text x="490.50" y="376.30" font-size="11" text-anchor="start" font-weight="normal" font-style="normal" fill="#222" ><tspan font-style="italic">P</tspan> =0.99</text>
<line x1="497.50" y1="378.50" x2="517.50" y2="378.50" stroke="#000" stroke-width="1.2" />
<line x1="549.00" y1="374.90" x2="563.00" y2="374.90" stroke="#000" stroke-width="1.2" />
<circle cx="556.00" cy="374.90" r="3.5" fill="#fff" stroke="#000" stroke-width="1"/>
<line x1="549.00" y1="387.20" x2="563.00" y2="387.20" stroke="#000" stroke-width="1.2" />
<circle cx="556.00" cy="387.20" r="3.5" fill="#e3242b" stroke="#000" stroke-width="1"/>
<text x="568.30" y="379.40" font-size="13" text-anchor="start" font-weight="normal" font-style="normal" fill="#000" >iNOXA</text>
<text x="568.30" y="391.70" font-size="13" text-anchor="start" font-weight="normal" font-style="normal" fill="#000" >NOXA</text>
<text x="0.50" y="623.00" font-size="22" text-anchor="start" font-weight="normal" font-style="normal" fill="#000" >E</text>
<text x="51.80" y="626.20" font-size="10.9" text-anchor="middle" font-weight="normal" font-style="normal" fill="#000" >MM; 2*10<tspan font-size="6.8" dy="-4.2">6</tspan></text>
<text x="51.40" y="638.80" font-size="10.9" text-anchor="middle" font-weight="normal" font-style="normal" fill="#000" >NCI-H929</text>
<text x="51.70" y="652.00" font-size="10.9" text-anchor="middle" font-weight="normal" font-style="normal" fill="#000" >eGFP-LUC</text>
<text x="147.00" y="626.20" font-size="10.5" text-anchor="middle" font-weight="normal" font-style="normal" fill="#000" >CAR T; 10<tspan font-size="6.8" dy="-4.2">6</tspan></text>
<text x="158.00" y="638.80" font-size="10.5" text-anchor="middle" font-weight="normal" font-style="normal" fill="#000" >BCMA NOXA</text>
<text x="158.00" y="652.00" font-size="10.5" text-anchor="middle" font-weight="normal" font-style="normal" fill="#000" >BCMA iNOXA</text>
<g transform="translate(3.20,621.40)" fill="none" stroke="#2a2a2a" stroke-width="0.65" stroke-linecap="round" stroke-linejoin="round">
<path fill="#fff" d="M86.1,12.8 C84,12.8 81.8,15 80.3,17 C79.5,18.3 78.6,19.2 77.8,19.8 C75.6,20.8 74.8,22.5 74.9,23.8 C74.9,25.2 75.3,26.2 75.9,26.8 C75.6,29 75.8,31 76.5,32.6 C77.8,36.5 81,40.2 84.8,40.6 C87,40.9 89,40.6 90.6,40 C93,38.8 95,36.8 95.8,34.5 C96.5,32.5 96.4,30.5 96.1,29 C97.2,27.8 97.6,25.5 97.4,23.6 C97,21.8 95.6,20.6 94.2,20.1 C93.6,19 93.2,18 92.6,17 C90.8,14.6 88.4,12.8 86.1,12.8 Z"/>
<path d="M75.9,26.8 C76.6,28.3 78,29.2 79.7,29.1 C81.8,29 83.6,28 83.9,26.6 C84.2,25.5 84.2,24.4 84.2,23.6"/>
<path d="M96.1,29 C95,29.6 93.4,29.6 91.9,29.4 C90,29 88.6,28 88.4,26.8 C88.2,25.6 88.2,24.5 88.1,23.6"/>
<path d="M82.2,15.2 C83.5,13.8 84.8,13.1 86.1,13.1 C87.4,13.1 88.8,13.8 90.2,15.2" stroke-width="1.3"/>
<path d="M85.2,13.6 L86.1,15.2 L87,13.6 Z" fill="#222" stroke-width="0.5"/>
<path d="M84,10.5 L87.4,10.5" stroke-width="0.9"/>
<circle cx="83.6" cy="18.2" r="0.95" fill="#222" stroke="none"/>
<circle cx="89.2" cy="18.2" r="0.95" fill="#222" stroke="none"/>
<path stroke="#777" stroke-width="0.4" d="M82,15 L78.6,10.4 M81.6,15.3 L77.6,12.6 M81.4,15.6 L77.6,15.2 M82.4,14.6 L80.8,10"/>
<path stroke="#777" stroke-width="0.4" d="M90.4,15 L93.8,10.4 M90.8,15.3 L94.8,12.6 M91,15.6 L94.8,15.2 M90,14.6 L91.6,10"/>
<path d="M96.1,34.2 L105.6,29.6 L107.0,32.6 L97.3,37.0 Z" fill="#fff" stroke-width="0.85"/>
<path d="M105.1,28.1 L108.3,35.3 M109.3,27.1 L111.6,32.5" stroke-width="1.25" stroke="#111"/>
<path d="M106.4,30.2 L110.2,28.5 M107.2,32.0 L110.9,30.4" stroke-width="0.8"/>
<path stroke="#888" stroke-width="0.6" d="M88.2,40.6 C90.5,42.8 93.5,43.4 96.4,42.8 C99.5,42 102.5,39 106,37.4"/>
<path stroke="#888" stroke-width="0.6" d="M89.8,40.0 C92,41.6 94.5,41.9 96.6,41.4 C99.5,40.5 102,38.2 105.4,36.6"/>
<path stroke="#aaa" stroke-width="0.45" d="M93,41.6 L92.6,42.9 M95,41.6 L94.8,43 M97,41.3 L97.2,42.6 M99,40.6 L99.4,41.9 M101,39.6 L101.4,40.8 M103,38.3 L103.4,39.5"/>
</g>
<g transform="translate(119.90,621.50)" fill="none" stroke="#2a2a2a" stroke-width="0.65" stroke-linecap="round" stroke-linejoin="round">
<path fill="#fff" d="M86.1,12.8 C84,12.8 81.8,15 80.3,17 C79.5,18.3 78.6,19.2 77.8,19.8 C75.6,20.8 74.8,22.5 74.9,23.8 C74.9,25.2 75.3,26.2 75.9,26.8 C75.6,29 75.8,31 76.5,32.6 C77.8,36.5 81,40.2 84.8,40.6 C87,40.9 89,40.6 90.6,40 C93,38.8 95,36.8 95.8,34.5 C96.5,32.5 96.4,30.5 96.1,29 C97.2,27.8 97.6,25.5 97.4,23.6 C97,21.8 95.6,20.6 94.2,20.1 C93.6,19 93.2,18 92.6,17 C90.8,14.6 88.4,12.8 86.1,12.8 Z"/>
<path d="M75.9,26.8 C76.6,28.3 78,29.2 79.7,29.1 C81.8,29 83.6,28 83.9,26.6 C84.2,25.5 84.2,24.4 84.2,23.6"/>
<path d="M96.1,29 C95,29.6 93.4,29.6 91.9,29.4 C90,29 88.6,28 88.4,26.8 C88.2,25.6 88.2,24.5 88.1,23.6"/>
<path d="M82.2,15.2 C83.5,13.8 84.8,13.1 86.1,13.1 C87.4,13.1 88.8,13.8 90.2,15.2" stroke-width="1.3"/>
<path d="M85.2,13.6 L86.1,15.2 L87,13.6 Z" fill="#222" stroke-width="0.5"/>
<path d="M84,10.5 L87.4,10.5" stroke-width="0.9"/>
<circle cx="83.6" cy="18.2" r="0.95" fill="#222" stroke="none"/>
<circle cx="89.2" cy="18.2" r="0.95" fill="#222" stroke="none"/>
<path stroke="#777" stroke-width="0.4" d="M82,15 L78.6,10.4 M81.6,15.3 L77.6,12.6 M81.4,15.6 L77.6,15.2 M82.4,14.6 L80.8,10"/>
<path stroke="#777" stroke-width="0.4" d="M90.4,15 L93.8,10.4 M90.8,15.3 L94.8,12.6 M91,15.6 L94.8,15.2 M90,14.6 L91.6,10"/>
<path d="M96.1,34.2 L105.6,29.6 L107.0,32.6 L97.3,37.0 Z" fill="#fff" stroke-width="0.85"/>
<path d="M105.1,28.1 L108.3,35.3 M109.3,27.1 L111.6,32.5" stroke-width="1.25" stroke="#111"/>
<path d="M106.4,30.2 L110.2,28.5 M107.2,32.0 L110.9,30.4" stroke-width="0.8"/>
<path stroke="#888" stroke-width="0.6" d="M88.2,40.6 C90.5,42.8 93.5,43.4 96.4,42.8 C99.5,42 102.5,39 106,37.4"/>
<path stroke="#888" stroke-width="0.6" d="M89.8,40.0 C92,41.6 94.5,41.9 96.6,41.4 C99.5,40.5 102,38.2 105.4,36.6"/>
<path stroke="#aaa" stroke-width="0.45" d="M93,41.6 L92.6,42.9 M95,41.6 L94.8,43 M97,41.3 L97.2,42.6 M99,40.6 L99.4,41.9 M101,39.6 L101.4,40.8 M103,38.3 L103.4,39.5"/>
</g>
<line x1="44.45" y1="680.30" x2="351.20" y2="680.30" stroke="#000" stroke-width="1.5" />
<line x1="52.20" y1="680.30" x2="52.20" y2="674.20" stroke="#000" stroke-width="1.5" />
<path d="M48.00,675.20 L56.40,675.20 L52.20,668.20 Z" fill="#000"/>
<line x1="157.40" y1="680.30" x2="157.40" y2="674.20" stroke="#000" stroke-width="1.5" />
<path d="M153.20,675.20 L161.60,675.20 L157.40,668.20 Z" fill="#000"/>
<text x="48.60" y="664.20" font-size="10.8" text-anchor="middle" font-weight="bold" font-style="normal" fill="#000" >d-7</text>
<text x="157.40" y="664.20" font-size="10.8" text-anchor="middle" font-weight="bold" font-style="normal" fill="#000" >d0</text>
<line x1="45.20" y1="680.30" x2="45.20" y2="687.00" stroke="#000" stroke-width="1.5" />
<path d="M41.00,686.00 L49.40,686.00 L45.20,693.50 Z" fill="#000"/>
<text x="38.50" y="703.30" font-size="10.8" text-anchor="middle" font-weight="bold" font-style="normal" fill="#000" >d-8</text>
<text x="38.80" y="714.50" font-size="10.9" text-anchor="middle" font-weight="normal" font-style="normal" fill="#000" >Irr 1.75Gy</text>
<line x1="194.20" y1="680.30" x2="194.20" y2="687.00" stroke="#000" stroke-width="1.5" />
<path d="M190.00,686.00 L198.40,686.00 L194.20,693.50 Z" fill="#000"/>
<text x="194.20" y="703.30" font-size="10.8" text-anchor="middle" font-weight="bold" font-style="normal" fill="#000" >d7</text>
<text x="194.20" y="714.50" font-size="10.9" text-anchor="middle" font-weight="normal" font-style="normal" fill="#000" >BLI</text>
<line x1="232.50" y1="680.30" x2="232.50" y2="687.00" stroke="#000" stroke-width="1.5" />
<path d="M228.30,686.00 L236.70,686.00 L232.50,693.50 Z" fill="#000"/>
<text x="232.50" y="703.30" font-size="10.8" text-anchor="middle" font-weight="bold" font-style="normal" fill="#000" >d14</text>
<text x="232.50" y="714.50" font-size="10.9" text-anchor="middle" font-weight="normal" font-style="normal" fill="#000" >BLI</text>
<line x1="264.70" y1="680.30" x2="264.70" y2="687.00" stroke="#000" stroke-width="1.5" />
<path d="M260.50,686.00 L268.90,686.00 L264.70,693.50 Z" fill="#000"/>
<text x="264.70" y="703.30" font-size="10.8" text-anchor="middle" font-weight="bold" font-style="normal" fill="#000" >d21</text>
<text x="264.70" y="714.50" font-size="10.9" text-anchor="middle" font-weight="normal" font-style="normal" fill="#000" >BLI</text>
<line x1="301.50" y1="680.30" x2="301.50" y2="687.00" stroke="#000" stroke-width="1.5" />
<path d="M297.30,686.00 L305.70,686.00 L301.50,693.50 Z" fill="#000"/>
<text x="301.50" y="703.30" font-size="10.8" text-anchor="middle" font-weight="bold" font-style="normal" fill="#000" >d28</text>
<text x="301.50" y="714.50" font-size="10.9" text-anchor="middle" font-weight="normal" font-style="normal" fill="#000" >BLI</text>
<line x1="334.70" y1="680.30" x2="334.70" y2="687.00" stroke="#000" stroke-width="1.5" />
<path d="M330.50,686.00 L338.90,686.00 L334.70,693.50 Z" fill="#000"/>
<text x="334.70" y="703.30" font-size="10.8" text-anchor="middle" font-weight="bold" font-style="normal" fill="#000" >d34</text>
<text x="334.70" y="714.50" font-size="10.9" text-anchor="middle" font-weight="normal" font-style="normal" fill="#000" >BLI</text>
<text x="1.00" y="744.60" font-size="21" text-anchor="start" font-weight="normal" font-style="normal" fill="#000" >F</text>
<clipPath id="fclip"><rect x="60" y="700" width="300" height="228.2"/></clipPath>
<line x1="74.80" y1="737.90" x2="74.80" y2="929.70" stroke="#000" stroke-width="1.8" />
<line x1="69.20" y1="928.80" x2="74.80" y2="928.80" stroke="#000" stroke-width="1.6" />
<text x="67.60" y="933.50" font-size="12.8" text-anchor="end" font-weight="normal" font-style="normal" fill="#000" >0</text>
<line x1="69.20" y1="890.80" x2="74.80" y2="890.80" stroke="#000" stroke-width="1.6" />
<text x="67.60" y="895.50" font-size="12.8" text-anchor="end" font-weight="normal" font-style="normal" fill="#000" >200</text>
<line x1="69.20" y1="852.80" x2="74.80" y2="852.80" stroke="#000" stroke-width="1.6" />
<text x="67.60" y="857.50" font-size="12.8" text-anchor="end" font-weight="normal" font-style="normal" fill="#000" >400</text>
<line x1="69.20" y1="814.80" x2="74.80" y2="814.80" stroke="#000" stroke-width="1.6" />
<text x="67.60" y="819.50" font-size="12.8" text-anchor="end" font-weight="normal" font-style="normal" fill="#000" >600</text>
<line x1="69.20" y1="776.80" x2="74.80" y2="776.80" stroke="#000" stroke-width="1.6" />
<text x="67.60" y="781.50" font-size="12.8" text-anchor="end" font-weight="normal" font-style="normal" fill="#000" >800</text>
<line x1="69.20" y1="738.80" x2="74.80" y2="738.80" stroke="#000" stroke-width="1.6" />
<text x="67.60" y="743.50" font-size="12.8" text-anchor="end" font-weight="normal" font-style="normal" fill="#000" >1000</text>
<line x1="74.50" y1="928.80" x2="74.50" y2="933.80" stroke="#000" stroke-width="1.6" />
<text x="74.50" y="946.00" font-size="12.8" text-anchor="middle" font-weight="normal" font-style="normal" fill="#000" >0</text>
<line x1="122.10" y1="928.80" x2="122.10" y2="933.80" stroke="#000" stroke-width="1.6" />
<text x="122.10" y="946.00" font-size="12.8" text-anchor="middle" font-weight="normal" font-style="normal" fill="#000" >10</text>
<line x1="169.70" y1="928.80" x2="169.70" y2="933.80" stroke="#000" stroke-width="1.6" />
<text x="169.70" y="946.00" font-size="12.8" text-anchor="middle" font-weight="normal" font-style="normal" fill="#000" >20</text>
<line x1="217.30" y1="928.80" x2="217.30" y2="933.80" stroke="#000" stroke-width="1.6" />
<text x="217.30" y="946.00" font-size="12.8" text-anchor="middle" font-weight="normal" font-style="normal" fill="#000" >30</text>
<line x1="264.90" y1="928.80" x2="264.90" y2="933.80" stroke="#000" stroke-width="1.6" />
<text x="264.90" y="946.00" font-size="12.8" text-anchor="middle" font-weight="normal" font-style="normal" fill="#000" >40</text>
<text x="174.60" y="959.60" font-size="13.2" text-anchor="middle" font-weight="normal" font-style="normal" fill="#000" >Time (days)</text>
<text x="36.00" y="832.80" font-size="13.3" text-anchor="middle" font-weight="normal" font-style="normal" fill="#000" transform="rotate(-90 36 832.8)">BLI</text>
<line x1="86.70" y1="760.60" x2="105.50" y2="760.60" stroke="#000" stroke-width="1.3" />
<line x1="86.90" y1="777.00" x2="105.50" y2="777.00" stroke="#e3242b" stroke-width="2.6" stroke-dasharray="3.8 3.4"/>
<text x="111.40" y="765.20" font-size="12.2" text-anchor="start" font-weight="normal" font-style="normal" fill="#000" >iNOXA</text>
<text x="111.40" y="781.50" font-size="12.2" text-anchor="start" font-weight="normal" font-style="normal" fill="#000" >NOXA</text>
<g clip-path="url(#fclip)">
<line x1="236.34" y1="875.22" x2="236.34" y2="894.98" stroke="#222" stroke-width="1.3" />
<line x1="232.84" y1="875.22" x2="239.84" y2="875.22" stroke="#222" stroke-width="1.3" />
<line x1="232.84" y1="894.98" x2="239.84" y2="894.98" stroke="#222" stroke-width="1.3" />
<line x1="174.46" y1="912.65" x2="174.46" y2="920.25" stroke="#222" stroke-width="1.3" />
<line x1="170.96" y1="912.65" x2="177.96" y2="912.65" stroke="#222" stroke-width="1.3" />
<line x1="170.96" y1="920.25" x2="177.96" y2="920.25" stroke="#222" stroke-width="1.3" />
<line x1="207.78" y1="888.90" x2="207.78" y2="908.85" stroke="#222" stroke-width="1.3" />
<line x1="204.28" y1="888.90" x2="211.28" y2="888.90" stroke="#222" stroke-width="1.3" />
<line x1="204.28" y1="908.85" x2="211.28" y2="908.85" stroke="#222" stroke-width="1.3" />
<line x1="236.34" y1="781.55" x2="236.34" y2="849.95" stroke="#222" stroke-width="1.3" />
<line x1="232.84" y1="781.55" x2="239.84" y2="781.55" stroke="#222" stroke-width="1.3" />
<line x1="232.84" y1="849.95" x2="239.84" y2="849.95" stroke="#222" stroke-width="1.3" />
<polyline points="107.82,928.80 141.14,928.80 174.46,925.38 207.78,920.44 236.34,885.29" fill="none" stroke="#e3242b" stroke-width="1.3" stroke-dasharray="4 3"/>
<polyline points="107.82,928.80 141.14,927.28 174.46,916.83 207.78,899.16 236.34,815.94" fill="none" stroke="#000" stroke-width="1.5"/>
<circle cx="107.82" cy="928.80" r="3.6" fill="#e3242b" stroke="#000" stroke-width="1.2"/>
<circle cx="141.14" cy="928.80" r="3.6" fill="#e3242b" stroke="#000" stroke-width="1.2"/>
<circle cx="174.46" cy="925.38" r="3.6" fill="#e3242b" stroke="#000" stroke-width="1.2"/>
<circle cx="207.78" cy="920.44" r="3.6" fill="#e3242b" stroke="#000" stroke-width="1.2"/>
<circle cx="236.34" cy="885.29" r="3.6" fill="#e3242b" stroke="#000" stroke-width="1.2"/>
<circle cx="107.82" cy="928.80" r="3.6" fill="#fff" stroke="#000" stroke-width="1.2"/>
<circle cx="141.14" cy="927.28" r="3.6" fill="#fff" stroke="#000" stroke-width="1.2"/>
<circle cx="174.46" cy="916.83" r="3.6" fill="#fff" stroke="#000" stroke-width="1.2"/>
<circle cx="207.78" cy="899.16" r="3.6" fill="#fff" stroke="#000" stroke-width="1.2"/>
<circle cx="236.34" cy="815.94" r="3.6" fill="#fff" stroke="#000" stroke-width="1.2"/>
</g>
<line x1="73.90" y1="928.80" x2="265.70" y2="928.80" stroke="#000" stroke-width="1.9" />
<line x1="248.00" y1="816.50" x2="248.00" y2="877.30" stroke="#444" stroke-width="1.3" />
<line x1="243.70" y1="816.50" x2="251.80" y2="816.50" stroke="#444" stroke-width="1.3" />
<line x1="243.70" y1="877.30" x2="251.80" y2="877.30" stroke="#444" stroke-width="1.3" />
<text x="251.60" y="852.40" font-size="13.5" text-anchor="start" font-weight="normal" font-style="normal" fill="#333" ><tspan font-style="italic">P</tspan> =0.043</text>
<text x="392.20" y="16.40" font-size="22.5" text-anchor="start" font-weight="normal" font-style="normal" fill="#000" >C</text>
<text x="503.10" y="10.20" font-size="13.3" text-anchor="middle" font-weight="bold" font-style="normal" fill="#000" >iNOXA</text>
<text x="603.70" y="10.20" font-size="13.3" text-anchor="middle" font-weight="bold" font-style="normal" fill="#000" >NOXA</text>
<line x1="448.20" y1="15.90" x2="549.40" y2="15.90" stroke="#000" stroke-width="1.5" />
<line x1="558.00" y1="15.40" x2="642.00" y2="15.40" stroke="#e3242b" stroke-width="1.8" stroke-dasharray="4 3"/>
<clipPath id="blk1"><rect x="446.0" y="19.0" width="107.9" height="299.6"/></clipPath>
<g clip-path="url(#blk1)">
<rect x="446.0" y="19.0" width="107.9" height="299.6" fill="#0d1013"/>
<rect x="446.6" y="19.6" width="20.4" height="57.8" fill="#0d1013"/>
<g transform="rotate(0.0 456.8 54.7)">
<path d="M456.8,23.0 C459.7,23.0 461.3,26.7 462.2,31.2 L465.1,32.8 L464.0,36.2 C465.9,40.1 466.5,46.3 466.5,54.7 C466.5,63.1 466.7,68.1 465.9,71.5 L466.9,74.3 L463.8,73.8 C461.3,74.9 458.9,75.2 457.7,75.2 L457.4,80.5 L456.2,80.5 L455.9,75.2 C454.7,75.2 452.2,74.9 449.7,73.8 L446.6,74.3 L447.7,71.5 C446.8,68.1 447.1,63.1 447.1,54.7 C447.1,46.3 447.7,40.1 449.5,36.2 L448.5,32.8 L451.4,31.2 C452.2,26.7 453.9,23.0 456.8,23.0 Z" fill="#dedede"/>
<path d="M456.8,23.0 C459.7,23.0 461.3,26.7 462.2,31.2 L465.1,32.8 L464.0,36.2 C465.9,40.1 466.5,46.3 466.5,54.7 C466.5,63.1 466.7,68.1 465.9,71.5 L466.9,74.3 L463.8,73.8 C461.3,74.9 458.9,75.2 457.7,75.2 L457.4,80.5 L456.2,80.5 L455.9,75.2 C454.7,75.2 452.2,74.9 449.7,73.8 L446.6,74.3 L447.7,71.5 C446.8,68.1 447.1,63.1 447.1,54.7 C447.1,46.3 447.7,40.1 449.5,36.2 L448.5,32.8 L451.4,31.2 C452.2,26.7 453.9,23.0 456.8,23.0 Z" fill="url(#mg)"/>
<path d="M456.8,23.0 C459.7,23.0 461.3,26.7 462.2,31.2 L465.1,32.8 L464.0,36.2 C465.9,40.1 466.5,46.3 466.5,54.7 C466.5,63.1 466.7,68.1 465.9,71.5 L466.9,74.3 L463.8,73.8 C461.3,74.9 458.9,75.2 457.7,75.2 L457.4,80.5 L456.2,80.5 L455.9,75.2 C454.7,75.2 452.2,74.9 449.7,73.8 L446.6,74.3 L447.7,71.5 C446.8,68.1 447.1,63.1 447.1,54.7 C447.1,46.3 447.7,40.1 449.5,36.2 L448.5,32.8 L451.4,31.2 C452.2,26.7 453.9,23.0 456.8,23.0 Z" fill="url(#mh)"/>
<path d="M456.8,23.0 C459.7,23.0 461.3,26.7 462.2,31.2 L465.1,32.8 L464.0,36.2 C465.9,40.1 466.5,46.3 466.5,54.7 C466.5,63.1 466.7,68.1 465.9,71.5 L466.9,74.3 L463.8,73.8 C461.3,74.9 458.9,75.2 457.7,75.2 L457.4,80.5 L456.2,80.5 L455.9,75.2 C454.7,75.2 452.2,74.9 449.7,73.8 L446.6,74.3 L447.7,71.5 C446.8,68.1 447.1,63.1 447.1,54.7 C447.1,46.3 447.7,40.1 449.5,36.2 L448.5,32.8 L451.4,31.2 C452.2,26.7 453.9,23.0 456.8,23.0 Z" fill="#000" filter="url(#tex)" opacity="0.22"/>
</g>
<rect x="468.2" y="19.6" width="20.4" height="57.8" fill="#121417"/>
<g transform="rotate(0.0 478.4 54.7)">
<path d="M478.4,23.0 C481.3,23.0 482.9,26.7 483.8,31.2 L486.7,32.8 L485.6,36.2 C487.5,40.1 488.1,46.3 488.1,54.7 C488.1,63.1 488.3,68.1 487.5,71.5 L488.5,74.3 L485.4,73.8 C482.9,74.9 480.4,75.2 479.3,75.2 L479.0,80.5 L477.7,80.5 L477.4,75.2 C476.3,75.2 473.8,74.9 471.3,73.8 L468.2,74.3 L469.3,71.5 C468.4,68.1 468.6,63.1 468.6,54.7 C468.6,46.3 469.3,40.1 471.1,36.2 L470.1,32.8 L473.0,31.2 C473.8,26.7 475.5,23.0 478.4,23.0 Z" fill="#b8b8b8"/>
<path d="M478.4,23.0 C481.3,23.0 482.9,26.7 483.8,31.2 L486.7,32.8 L485.6,36.2 C487.5,40.1 488.1,46.3 488.1,54.7 C488.1,63.1 488.3,68.1 487.5,71.5 L488.5,74.3 L485.4,73.8 C482.9,74.9 480.4,75.2 479.3,75.2 L479.0,80.5 L477.7,80.5 L477.4,75.2 C476.3,75.2 473.8,74.9 471.3,73.8 L468.2,74.3 L469.3,71.5 C468.4,68.1 468.6,63.1 468.6,54.7 C468.6,46.3 469.3,40.1 471.1,36.2 L470.1,32.8 L473.0,31.2 C473.8,26.7 475.5,23.0 478.4,23.0 Z" fill="url(#mg)"/>
<path d="M478.4,23.0 C481.3,23.0 482.9,26.7 483.8,31.2 L486.7,32.8 L485.6,36.2 C487.5,40.1 488.1,46.3 488.1,54.7 C488.1,63.1 488.3,68.1 487.5,71.5 L488.5,74.3 L485.4,73.8 C482.9,74.9 480.4,75.2 479.3,75.2 L479.0,80.5 L477.7,80.5 L477.4,75.2 C476.3,75.2 473.8,74.9 471.3,73.8 L468.2,74.3 L469.3,71.5 C468.4,68.1 468.6,63.1 468.6,54.7 C468.6,46.3 469.3,40.1 471.1,36.2 L470.1,32.8 L473.0,31.2 C473.8,26.7 475.5,23.0 478.4,23.0 Z" fill="url(#mh)"/>
<path d="M478.4,23.0 C481.3,23.0 482.9,26.7 483.8,31.2 L486.7,32.8 L485.6,36.2 C487.5,40.1 488.1,46.3 488.1,54.7 C488.1,63.1 488.3,68.1 487.5,71.5 L488.5,74.3 L485.4,73.8 C482.9,74.9 480.4,75.2 479.3,75.2 L479.0,80.5 L477.7,80.5 L477.4,75.2 C476.3,75.2 473.8,74.9 471.3,73.8 L468.2,74.3 L469.3,71.5 C468.4,68.1 468.6,63.1 468.6,54.7 C468.6,46.3 469.3,40.1 471.1,36.2 L470.1,32.8 L473.0,31.2 C473.8,26.7 475.5,23.0 478.4,23.0 Z" fill="#000" filter="url(#tex)" opacity="0.22"/>
</g>
<rect x="489.8" y="19.6" width="20.4" height="57.8" fill="#0d1013"/>
<g transform="rotate(0.0 499.9 54.7)">
<path d="M499.9,23.0 C502.9,23.0 504.5,26.7 505.3,31.2 L508.2,32.8 L507.2,36.2 C509.1,40.1 509.7,46.3 509.7,54.7 C509.7,63.1 509.9,68.1 509.1,71.5 L510.1,74.3 L507.0,73.8 C504.5,74.9 502.0,75.2 500.9,75.2 L500.6,80.5 L499.3,80.5 L499.0,75.2 C497.9,75.2 495.4,74.9 492.9,73.8 L489.8,74.3 L490.8,71.5 C490.0,68.1 490.2,63.1 490.2,54.7 C490.2,46.3 490.8,40.1 492.7,36.2 L491.7,32.8 L494.6,31.2 C495.4,26.7 497.0,23.0 499.9,23.0 Z" fill="#c0c0c0"/>
<path d="M499.9,23.0 C502.9,23.0 504.5,26.7 505.3,31.2 L508.2,32.8 L507.2,36.2 C509.1,40.1 509.7,46.3 509.7,54.7 C509.7,63.1 509.9,68.1 509.1,71.5 L510.1,74.3 L507.0,73.8 C504.5,74.9 502.0,75.2 500.9,75.2 L500.6,80.5 L499.3,80.5 L499.0,75.2 C497.9,75.2 495.4,74.9 492.9,73.8 L489.8,74.3 L490.8,71.5 C490.0,68.1 490.2,63.1 490.2,54.7 C490.2,46.3 490.8,40.1 492.7,36.2 L491.7,32.8 L494.6,31.2 C495.4,26.7 497.0,23.0 499.9,23.0 Z" fill="url(#mg)"/>
<path d="M499.9,23.0 C502.9,23.0 504.5,26.7 505.3,31.2 L508.2,32.8 L507.2,36.2 C509.1,40.1 509.7,46.3 509.7,54.7 C509.7,63.1 509.9,68.1 509.1,71.5 L510.1,74.3 L507.0,73.8 C504.5,74.9 502.0,75.2 500.9,75.2 L500.6,80.5 L499.3,80.5 L499.0,75.2 C497.9,75.2 495.4,74.9 492.9,73.8 L489.8,74.3 L490.8,71.5 C490.0,68.1 490.2,63.1 490.2,54.7 C490.2,46.3 490.8,40.1 492.7,36.2 L491.7,32.8 L494.6,31.2 C495.4,26.7 497.0,23.0 499.9,23.0 Z" fill="url(#mh)"/>
<path d="M499.9,23.0 C502.9,23.0 504.5,26.7 505.3,31.2 L508.2,32.8 L507.2,36.2 C509.1,40.1 509.7,46.3 509.7,54.7 C509.7,63.1 509.9,68.1 509.1,71.5 L510.1,74.3 L507.0,73.8 C504.5,74.9 502.0,75.2 500.9,75.2 L500.6,80.5 L499.3,80.5 L499.0,75.2 C497.9,75.2 495.4,74.9 492.9,73.8 L489.8,74.3 L490.8,71.5 C490.0,68.1 490.2,63.1 490.2,54.7 C490.2,46.3 490.8,40.1 492.7,36.2 L491.7,32.8 L494.6,31.2 C495.4,26.7 497.0,23.0 499.9,23.0 Z" fill="#000" filter="url(#tex)" opacity="0.22"/>
</g>
<rect x="511.3" y="19.6" width="20.4" height="57.8" fill="#121417"/>
<g transform="rotate(0.0 521.5 54.7)">
<path d="M521.5,23.0 C524.4,23.0 526.1,26.7 526.9,31.2 L529.8,32.8 L528.8,36.2 C530.6,40.1 531.3,46.3 531.3,54.7 C531.3,63.1 531.5,68.1 530.6,71.5 L531.7,74.3 L528.6,73.8 C526.1,74.9 523.6,75.2 522.5,75.2 L522.2,80.5 L520.9,80.5 L520.6,75.2 C519.5,75.2 517.0,74.9 514.5,73.8 L511.4,74.3 L512.4,71.5 C511.6,68.1 511.8,63.1 511.8,54.7 C511.8,46.3 512.4,40.1 514.3,36.2 L513.2,32.8 L516.1,31.2 C517.0,26.7 518.6,23.0 521.5,23.0 Z" fill="#fafafa"/>
<path d="M521.5,23.0 C524.4,23.0 526.1,26.7 526.9,31.2 L529.8,32.8 L528.8,36.2 C530.6,40.1 531.3,46.3 531.3,54.7 C531.3,63.1 531.5,68.1 530.6,71.5 L531.7,74.3 L528.6,73.8 C526.1,74.9 523.6,75.2 522.5,75.2 L522.2,80.5 L520.9,80.5 L520.6,75.2 C519.5,75.2 517.0,74.9 514.5,73.8 L511.4,74.3 L512.4,71.5 C511.6,68.1 511.8,63.1 511.8,54.7 C511.8,46.3 512.4,40.1 514.3,36.2 L513.2,32.8 L516.1,31.2 C517.0,26.7 518.6,23.0 521.5,23.0 Z" fill="url(#mg)"/>
<path d="M521.5,23.0 C524.4,23.0 526.1,26.7 526.9,31.2 L529.8,32.8 L528.8,36.2 C530.6,40.1 531.3,46.3 531.3,54.7 C531.3,63.1 531.5,68.1 530.6,71.5 L531.7,74.3 L528.6,73.8 C526.1,74.9 523.6,75.2 522.5,75.2 L522.2,80.5 L520.9,80.5 L520.6,75.2 C519.5,75.2 517.0,74.9 514.5,73.8 L511.4,74.3 L512.4,71.5 C511.6,68.1 511.8,63.1 511.8,54.7 C511.8,46.3 512.4,40.1 514.3,36.2 L513.2,32.8 L516.1,31.2 C517.0,26.7 518.6,23.0 521.5,23.0 Z" fill="url(#mh)"/>
<path d="M521.5,23.0 C524.4,23.0 526.1,26.7 526.9,31.2 L529.8,32.8 L528.8,36.2 C530.6,40.1 531.3,46.3 531.3,54.7 C531.3,63.1 531.5,68.1 530.6,71.5 L531.7,74.3 L528.6,73.8 C526.1,74.9 523.6,75.2 522.5,75.2 L522.2,80.5 L520.9,80.5 L520.6,75.2 C519.5,75.2 517.0,74.9 514.5,73.8 L511.4,74.3 L512.4,71.5 C511.6,68.1 511.8,63.1 511.8,54.7 C511.8,46.3 512.4,40.1 514.3,36.2 L513.2,32.8 L516.1,31.2 C517.0,26.7 518.6,23.0 521.5,23.0 Z" fill="#000" filter="url(#tex)" opacity="0.22"/>
</g>
<rect x="532.9" y="19.6" width="20.4" height="57.8" fill="#0d1013"/>
<g transform="rotate(0.0 543.1 54.7)">
<path d="M543.1,23.0 C546.0,23.0 547.7,26.7 548.5,31.2 L551.4,32.8 L550.4,36.2 C552.2,40.1 552.8,46.3 552.8,54.7 C552.8,63.1 553.1,68.1 552.2,71.5 L553.3,74.3 L550.2,73.8 C547.7,74.9 545.2,75.2 544.0,75.2 L543.7,80.5 L542.5,80.5 L542.2,75.2 C541.0,75.2 538.6,74.9 536.1,73.8 L533.0,74.3 L534.0,71.5 C533.2,68.1 533.4,63.1 533.4,54.7 C533.4,46.3 534.0,40.1 535.9,36.2 L534.8,32.8 L537.7,31.2 C538.6,26.7 540.2,23.0 543.1,23.0 Z" fill="#ffffff"/>
<path d="M543.1,23.0 C546.0,23.0 547.7,26.7 548.5,31.2 L551.4,32.8 L550.4,36.2 C552.2,40.1 552.8,46.3 552.8,54.7 C552.8,63.1 553.1,68.1 552.2,71.5 L553.3,74.3 L550.2,73.8 C547.7,74.9 545.2,75.2 544.0,75.2 L543.7,80.5 L542.5,80.5 L542.2,75.2 C541.0,75.2 538.6,74.9 536.1,73.8 L533.0,74.3 L534.0,71.5 C533.2,68.1 533.4,63.1 533.4,54.7 C533.4,46.3 534.0,40.1 535.9,36.2 L534.8,32.8 L537.7,31.2 C538.6,26.7 540.2,23.0 543.1,23.0 Z" fill="url(#mg)"/>
<path d="M543.1,23.0 C546.0,23.0 547.7,26.7 548.5,31.2 L551.4,32.8 L550.4,36.2 C552.2,40.1 552.8,46.3 552.8,54.7 C552.8,63.1 553.1,68.1 552.2,71.5 L553.3,74.3 L550.2,73.8 C547.7,74.9 545.2,75.2 544.0,75.2 L543.7,80.5 L542.5,80.5 L542.2,75.2 C541.0,75.2 538.6,74.9 536.1,73.8 L533.0,74.3 L534.0,71.5 C533.2,68.1 533.4,63.1 533.4,54.7 C533.4,46.3 534.0,40.1 535.9,36.2 L534.8,32.8 L537.7,31.2 C538.6,26.7 540.2,23.0 543.1,23.0 Z" fill="url(#mh)"/>
<path d="M543.1,23.0 C546.0,23.0 547.7,26.7 548.5,31.2 L551.4,32.8 L550.4,36.2 C552.2,40.1 552.8,46.3 552.8,54.7 C552.8,63.1 553.1,68.1 552.2,71.5 L553.3,74.3 L550.2,73.8 C547.7,74.9 545.2,75.2 544.0,75.2 L543.7,80.5 L542.5,80.5 L542.2,75.2 C541.0,75.2 538.6,74.9 536.1,73.8 L533.0,74.3 L534.0,71.5 C533.2,68.1 533.4,63.1 533.4,54.7 C533.4,46.3 534.0,40.1 535.9,36.2 L534.8,32.8 L537.7,31.2 C538.6,26.7 540.2,23.0 543.1,23.0 Z" fill="#000" filter="url(#tex)" opacity="0.22"/>
</g>
<rect x="446.6" y="78.6" width="20.4" height="59.1" fill="#121417"/>
<g transform="rotate(0.0 456.8 114.5)">
<path d="M456.8,82.1 C459.7,82.1 461.3,85.8 462.2,90.4 L465.1,92.1 L464.0,95.6 C465.9,99.6 466.5,105.9 466.5,114.5 C466.5,123.1 466.7,128.2 465.9,131.7 L466.9,134.5 L463.8,134.0 C461.3,135.1 458.9,135.4 457.7,135.4 L457.4,140.8 L456.2,140.8 L455.9,135.4 C454.7,135.4 452.2,135.1 449.7,134.0 L446.6,134.5 L447.7,131.7 C446.8,128.2 447.1,123.1 447.1,114.5 C447.1,105.9 447.7,99.6 449.5,95.6 L448.5,92.1 L451.4,90.4 C452.2,85.8 453.9,82.1 456.8,82.1 Z" fill="#e4e4e4"/>
<path d="M456.8,82.1 C459.7,82.1 461.3,85.8 462.2,90.4 L465.1,92.1 L464.0,95.6 C465.9,99.6 466.5,105.9 466.5,114.5 C466.5,123.1 466.7,128.2 465.9,131.7 L466.9,134.5 L463.8,134.0 C461.3,135.1 458.9,135.4 457.7,135.4 L457.4,140.8 L456.2,140.8 L455.9,135.4 C454.7,135.4 452.2,135.1 449.7,134.0 L446.6,134.5 L447.7,131.7 C446.8,128.2 447.1,123.1 447.1,114.5 C447.1,105.9 447.7,99.6 449.5,95.6 L448.5,92.1 L451.4,90.4 C452.2,85.8 453.9,82.1 456.8,82.1 Z" fill="url(#mg)"/>
<path d="M456.8,82.1 C459.7,82.1 461.3,85.8 462.2,90.4 L465.1,92.1 L464.0,95.6 C465.9,99.6 466.5,105.9 466.5,114.5 C466.5,123.1 466.7,128.2 465.9,131.7 L466.9,134.5 L463.8,134.0 C461.3,135.1 458.9,135.4 457.7,135.4 L457.4,140.8 L456.2,140.8 L455.9,135.4 C454.7,135.4 452.2,135.1 449.7,134.0 L446.6,134.5 L447.7,131.7 C446.8,128.2 447.1,123.1 447.1,114.5 C447.1,105.9 447.7,99.6 449.5,95.6 L448.5,92.1 L451.4,90.4 C452.2,85.8 453.9,82.1 456.8,82.1 Z" fill="url(#mh)"/>
<path d="M456.8,82.1 C459.7,82.1 461.3,85.8 462.2,90.4 L465.1,92.1 L464.0,95.6 C465.9,99.6 466.5,105.9 466.5,114.5 C466.5,123.1 466.7,128.2 465.9,131.7 L466.9,134.5 L463.8,134.0 C461.3,135.1 458.9,135.4 457.7,135.4 L457.4,140.8 L456.2,140.8 L455.9,135.4 C454.7,135.4 452.2,135.1 449.7,134.0 L446.6,134.5 L447.7,131.7 C446.8,128.2 447.1,123.1 447.1,114.5 C447.1,105.9 447.7,99.6 449.5,95.6 L448.5,92.1 L451.4,90.4 C452.2,85.8 453.9,82.1 456.8,82.1 Z" fill="#000" filter="url(#tex)" opacity="0.22"/>
</g>
<rect x="468.2" y="78.6" width="20.4" height="59.1" fill="#0d1013"/>
<g transform="rotate(0.0 478.4 114.5)">
<path d="M478.4,82.1 C481.3,82.1 482.9,85.8 483.8,90.4 L486.7,92.1 L485.6,95.6 C487.5,99.6 488.1,105.9 488.1,114.5 C488.1,123.1 488.3,128.2 487.5,131.7 L488.5,134.5 L485.4,134.0 C482.9,135.1 480.4,135.4 479.3,135.4 L479.0,140.8 L477.7,140.8 L477.4,135.4 C476.3,135.4 473.8,135.1 471.3,134.0 L468.2,134.5 L469.3,131.7 C468.4,128.2 468.6,123.1 468.6,114.5 C468.6,105.9 469.3,99.6 471.1,95.6 L470.1,92.1 L473.0,90.4 C473.8,85.8 475.5,82.1 478.4,82.1 Z" fill="#d8d8d8"/>
<path d="M478.4,82.1 C481.3,82.1 482.9,85.8 483.8,90.4 L486.7,92.1 L485.6,95.6 C487.5,99.6 488.1,105.9 488.1,114.5 C488.1,123.1 488.3,128.2 487.5,131.7 L488.5,134.5 L485.4,134.0 C482.9,135.1 480.4,135.4 479.3,135.4 L479.0,140.8 L477.7,140.8 L477.4,135.4 C476.3,135.4 473.8,135.1 471.3,134.0 L468.2,134.5 L469.3,131.7 C468.4,128.2 468.6,123.1 468.6,114.5 C468.6,105.9 469.3,99.6 471.1,95.6 L470.1,92.1 L473.0,90.4 C473.8,85.8 475.5,82.1 478.4,82.1 Z" fill="url(#mg)"/>
<path d="M478.4,82.1 C481.3,82.1 482.9,85.8 483.8,90.4 L486.7,92.1 L485.6,95.6 C487.5,99.6 488.1,105.9 488.1,114.5 C488.1,123.1 488.3,128.2 487.5,131.7 L488.5,134.5 L485.4,134.0 C482.9,135.1 480.4,135.4 479.3,135.4 L479.0,140.8 L477.7,140.8 L477.4,135.4 C476.3,135.4 473.8,135.1 471.3,134.0 L468.2,134.5 L469.3,131.7 C468.4,128.2 468.6,123.1 468.6,114.5 C468.6,105.9 469.3,99.6 471.1,95.6 L470.1,92.1 L473.0,90.4 C473.8,85.8 475.5,82.1 478.4,82.1 Z" fill="url(#mh)"/>
<path d="M478.4,82.1 C481.3,82.1 482.9,85.8 483.8,90.4 L486.7,92.1 L485.6,95.6 C487.5,99.6 488.1,105.9 488.1,114.5 C488.1,123.1 488.3,128.2 487.5,131.7 L488.5,134.5 L485.4,134.0 C482.9,135.1 480.4,135.4 479.3,135.4 L479.0,140.8 L477.7,140.8 L477.4,135.4 C476.3,135.4 473.8,135.1 471.3,134.0 L468.2,134.5 L469.3,131.7 C468.4,128.2 468.6,123.1 468.6,114.5 C468.6,105.9 469.3,99.6 471.1,95.6 L470.1,92.1 L473.0,90.4 C473.8,85.8 475.5,82.1 478.4,82.1 Z" fill="#000" filter="url(#tex)" opacity="0.22"/>
</g>
<rect x="489.8" y="78.6" width="20.4" height="59.1" fill="#121417"/>
<g transform="rotate(0.0 499.9 114.5)">
<path d="M499.9,82.1 C502.9,82.1 504.5,85.8 505.3,90.4 L508.2,92.1 L507.2,95.6 C509.1,99.6 509.7,105.9 509.7,114.5 C509.7,123.1 509.9,128.2 509.1,131.7 L510.1,134.5 L507.0,134.0 C504.5,135.1 502.0,135.4 500.9,135.4 L500.6,140.8 L499.3,140.8 L499.0,135.4 C497.9,135.4 495.4,135.1 492.9,134.0 L489.8,134.5 L490.8,131.7 C490.0,128.2 490.2,123.1 490.2,114.5 C490.2,105.9 490.8,99.6 492.7,95.6 L491.7,92.1 L494.6,90.4 C495.4,85.8 497.0,82.1 499.9,82.1 Z" fill="#e0e0e0"/>
<path d="M499.9,82.1 C502.9,82.1 504.5,85.8 505.3,90.4 L508.2,92.1 L507.2,95.6 C509.1,99.6 509.7,105.9 509.7,114.5 C509.7,123.1 509.9,128.2 509.1,131.7 L510.1,134.5 L507.0,134.0 C504.5,135.1 502.0,135.4 500.9,135.4 L500.6,140.8 L499.3,140.8 L499.0,135.4 C497.9,135.4 495.4,135.1 492.9,134.0 L489.8,134.5 L490.8,131.7 C490.0,128.2 490.2,123.1 490.2,114.5 C490.2,105.9 490.8,99.6 492.7,95.6 L491.7,92.1 L494.6,90.4 C495.4,85.8 497.0,82.1 499.9,82.1 Z" fill="url(#mg)"/>
<path d="M499.9,82.1 C502.9,82.1 504.5,85.8 505.3,90.4 L508.2,92.1 L507.2,95.6 C509.1,99.6 509.7,105.9 509.7,114.5 C509.7,123.1 509.9,128.2 509.1,131.7 L510.1,134.5 L507.0,134.0 C504.5,135.1 502.0,135.4 500.9,135.4 L500.6,140.8 L499.3,140.8 L499.0,135.4 C497.9,135.4 495.4,135.1 492.9,134.0 L489.8,134.5 L490.8,131.7 C490.0,128.2 490.2,123.1 490.2,114.5 C490.2,105.9 490.8,99.6 492.7,95.6 L491.7,92.1 L494.6,90.4 C495.4,85.8 497.0,82.1 499.9,82.1 Z" fill="url(#mh)"/>
<path d="M499.9,82.1 C502.9,82.1 504.5,85.8 505.3,90.4 L508.2,92.1 L507.2,95.6 C509.1,99.6 509.7,105.9 509.7,114.5 C509.7,123.1 509.9,128.2 509.1,131.7 L510.1,134.5 L507.0,134.0 C504.5,135.1 502.0,135.4 500.9,135.4 L500.6,140.8 L499.3,140.8 L499.0,135.4 C497.9,135.4 495.4,135.1 492.9,134.0 L489.8,134.5 L490.8,131.7 C490.0,128.2 490.2,123.1 490.2,114.5 C490.2,105.9 490.8,99.6 492.7,95.6 L491.7,92.1 L494.6,90.4 C495.4,85.8 497.0,82.1 499.9,82.1 Z" fill="#000" filter="url(#tex)" opacity="0.22"/>
</g>
<rect x="511.3" y="78.6" width="20.4" height="59.1" fill="#0d1013"/>
<g transform="rotate(0.0 521.5 114.5)">
<path d="M521.5,82.1 C524.4,82.1 526.1,85.8 526.9,90.4 L529.8,92.1 L528.8,95.6 C530.6,99.6 531.3,105.9 531.3,114.5 C531.3,123.1 531.5,128.2 530.6,131.7 L531.7,134.5 L528.6,134.0 C526.1,135.1 523.6,135.4 522.5,135.4 L522.2,140.8 L520.9,140.8 L520.6,135.4 C519.5,135.4 517.0,135.1 514.5,134.0 L511.4,134.5 L512.4,131.7 C511.6,128.2 511.8,123.1 511.8,114.5 C511.8,105.9 512.4,99.6 514.3,95.6 L513.2,92.1 L516.1,90.4 C517.0,85.8 518.6,82.1 521.5,82.1 Z" fill="#e6e6e6"/>
<path d="M521.5,82.1 C524.4,82.1 526.1,85.8 526.9,90.4 L529.8,92.1 L528.8,95.6 C530.6,99.6 531.3,105.9 531.3,114.5 C531.3,123.1 531.5,128.2 530.6,131.7 L531.7,134.5 L528.6,134.0 C526.1,135.1 523.6,135.4 522.5,135.4 L522.2,140.8 L520.9,140.8 L520.6,135.4 C519.5,135.4 517.0,135.1 514.5,134.0 L511.4,134.5 L512.4,131.7 C511.6,128.2 511.8,123.1 511.8,114.5 C511.8,105.9 512.4,99.6 514.3,95.6 L513.2,92.1 L516.1,90.4 C517.0,85.8 518.6,82.1 521.5,82.1 Z" fill="url(#mg)"/>
<path d="M521.5,82.1 C524.4,82.1 526.1,85.8 526.9,90.4 L529.8,92.1 L528.8,95.6 C530.6,99.6 531.3,105.9 531.3,114.5 C531.3,123.1 531.5,128.2 530.6,131.7 L531.7,134.5 L528.6,134.0 C526.1,135.1 523.6,135.4 522.5,135.4 L522.2,140.8 L520.9,140.8 L520.6,135.4 C519.5,135.4 517.0,135.1 514.5,134.0 L511.4,134.5 L512.4,131.7 C511.6,128.2 511.8,123.1 511.8,114.5 C511.8,105.9 512.4,99.6 514.3,95.6 L513.2,92.1 L516.1,90.4 C517.0,85.8 518.6,82.1 521.5,82.1 Z" fill="url(#mh)"/>
<path d="M521.5,82.1 C524.4,82.1 526.1,85.8 526.9,90.4 L529.8,92.1 L528.8,95.6 C530.6,99.6 531.3,105.9 531.3,114.5 C531.3,123.1 531.5,128.2 530.6,131.7 L531.7,134.5 L528.6,134.0 C526.1,135.1 523.6,135.4 522.5,135.4 L522.2,140.8 L520.9,140.8 L520.6,135.4 C519.5,135.4 517.0,135.1 514.5,134.0 L511.4,134.5 L512.4,131.7 C511.6,128.2 511.8,123.1 511.8,114.5 C511.8,105.9 512.4,99.6 514.3,95.6 L513.2,92.1 L516.1,90.4 C517.0,85.8 518.6,82.1 521.5,82.1 Z" fill="#000" filter="url(#tex)" opacity="0.22"/>
</g>
<rect x="532.9" y="78.6" width="20.4" height="59.1" fill="#121417"/>
<g transform="rotate(0.0 543.1 114.5)">
<path d="M543.1,82.1 C546.0,82.1 547.7,85.8 548.5,90.4 L551.4,92.1 L550.4,95.6 C552.2,99.6 552.8,105.9 552.8,114.5 C552.8,123.1 553.1,128.2 552.2,131.7 L553.3,134.5 L550.2,134.0 C547.7,135.1 545.2,135.4 544.0,135.4 L543.7,140.8 L542.5,140.8 L542.2,135.4 C541.0,135.4 538.6,135.1 536.1,134.0 L533.0,134.5 L534.0,131.7 C533.2,128.2 533.4,123.1 533.4,114.5 C533.4,105.9 534.0,99.6 535.9,95.6 L534.8,92.1 L537.7,90.4 C538.6,85.8 540.2,82.1 543.1,82.1 Z" fill="#ffffff"/>
<path d="M543.1,82.1 C546.0,82.1 547.7,85.8 548.5,90.4 L551.4,92.1 L550.4,95.6 C552.2,99.6 552.8,105.9 552.8,114.5 C552.8,123.1 553.1,128.2 552.2,131.7 L553.3,134.5 L550.2,134.0 C547.7,135.1 545.2,135.4 544.0,135.4 L543.7,140.8 L542.5,140.8 L542.2,135.4 C541.0,135.4 538.6,135.1 536.1,134.0 L533.0,134.5 L534.0,131.7 C533.2,128.2 533.4,123.1 533.4,114.5 C533.4,105.9 534.0,99.6 535.9,95.6 L534.8,92.1 L537.7,90.4 C538.6,85.8 540.2,82.1 543.1,82.1 Z" fill="url(#mg)"/>
<path d="M543.1,82.1 C546.0,82.1 547.7,85.8 548.5,90.4 L551.4,92.1 L550.4,95.6 C552.2,99.6 552.8,105.9 552.8,114.5 C552.8,123.1 553.1,128.2 552.2,131.7 L553.3,134.5 L550.2,134.0 C547.7,135.1 545.2,135.4 544.0,135.4 L543.7,140.8 L542.5,140.8 L542.2,135.4 C541.0,135.4 538.6,135.1 536.1,134.0 L533.0,134.5 L534.0,131.7 C533.2,128.2 533.4,123.1 533.4,114.5 C533.4,105.9 534.0,99.6 535.9,95.6 L534.8,92.1 L537.7,90.4 C538.6,85.8 540.2,82.1 543.1,82.1 Z" fill="url(#mh)"/>
<path d="M543.1,82.1 C546.0,82.1 547.7,85.8 548.5,90.4 L551.4,92.1 L550.4,95.6 C552.2,99.6 552.8,105.9 552.8,114.5 C552.8,123.1 553.1,128.2 552.2,131.7 L553.3,134.5 L550.2,134.0 C547.7,135.1 545.2,135.4 544.0,135.4 L543.7,140.8 L542.5,140.8 L542.2,135.4 C541.0,135.4 538.6,135.1 536.1,134.0 L533.0,134.5 L534.0,131.7 C533.2,128.2 533.4,123.1 533.4,114.5 C533.4,105.9 534.0,99.6 535.9,95.6 L534.8,92.1 L537.7,90.4 C538.6,85.8 540.2,82.1 543.1,82.1 Z" fill="#000" filter="url(#tex)" opacity="0.22"/>
</g>
<rect x="446.6" y="138.9" width="20.4" height="56.0" fill="#0d1013"/>
<g transform="rotate(0.0 456.8 172.9)">
<path d="M456.8,142.2 C459.7,142.2 461.3,145.7 462.2,150.1 L465.1,151.7 L464.0,155.0 C465.9,158.8 466.5,164.8 466.5,172.9 C466.5,181.1 466.7,185.9 465.9,189.2 L466.9,191.9 L463.8,191.4 C461.3,192.5 458.9,192.7 457.7,192.7 L457.4,197.9 L456.2,197.9 L455.9,192.7 C454.7,192.7 452.2,192.5 449.7,191.4 L446.6,191.9 L447.7,189.2 C446.8,185.9 447.1,181.1 447.1,172.9 C447.1,164.8 447.7,158.8 449.5,155.0 L448.5,151.7 L451.4,150.1 C452.2,145.7 453.9,142.2 456.8,142.2 Z" fill="#dcdcdc"/>
<path d="M456.8,142.2 C459.7,142.2 461.3,145.7 462.2,150.1 L465.1,151.7 L464.0,155.0 C465.9,158.8 466.5,164.8 466.5,172.9 C466.5,181.1 466.7,185.9 465.9,189.2 L466.9,191.9 L463.8,191.4 C461.3,192.5 458.9,192.7 457.7,192.7 L457.4,197.9 L456.2,197.9 L455.9,192.7 C454.7,192.7 452.2,192.5 449.7,191.4 L446.6,191.9 L447.7,189.2 C446.8,185.9 447.1,181.1 447.1,172.9 C447.1,164.8 447.7,158.8 449.5,155.0 L448.5,151.7 L451.4,150.1 C452.2,145.7 453.9,142.2 456.8,142.2 Z" fill="url(#mg)"/>
<path d="M456.8,142.2 C459.7,142.2 461.3,145.7 462.2,150.1 L465.1,151.7 L464.0,155.0 C465.9,158.8 466.5,164.8 466.5,172.9 C466.5,181.1 466.7,185.9 465.9,189.2 L466.9,191.9 L463.8,191.4 C461.3,192.5 458.9,192.7 457.7,192.7 L457.4,197.9 L456.2,197.9 L455.9,192.7 C454.7,192.7 452.2,192.5 449.7,191.4 L446.6,191.9 L447.7,189.2 C446.8,185.9 447.1,181.1 447.1,172.9 C447.1,164.8 447.7,158.8 449.5,155.0 L448.5,151.7 L451.4,150.1 C452.2,145.7 453.9,142.2 456.8,142.2 Z" fill="url(#mh)"/>
<path d="M456.8,142.2 C459.7,142.2 461.3,145.7 462.2,150.1 L465.1,151.7 L464.0,155.0 C465.9,158.8 466.5,164.8 466.5,172.9 C466.5,181.1 466.7,185.9 465.9,189.2 L466.9,191.9 L463.8,191.4 C461.3,192.5 458.9,192.7 457.7,192.7 L457.4,197.9 L456.2,197.9 L455.9,192.7 C454.7,192.7 452.2,192.5 449.7,191.4 L446.6,191.9 L447.7,189.2 C446.8,185.9 447.1,181.1 447.1,172.9 C447.1,164.8 447.7,158.8 449.5,155.0 L448.5,151.7 L451.4,150.1 C452.2,145.7 453.9,142.2 456.8,142.2 Z" fill="#000" filter="url(#tex)" opacity="0.22"/>
</g>
<rect x="468.2" y="138.9" width="20.4" height="56.0" fill="#121417"/>
<g transform="rotate(0.0 478.4 172.9)">
<path d="M478.4,142.2 C481.3,142.2 482.9,145.7 483.8,150.1 L486.7,151.7 L485.6,155.0 C487.5,158.8 488.1,164.8 488.1,172.9 C488.1,181.1 488.3,185.9 487.5,189.2 L488.5,191.9 L485.4,191.4 C482.9,192.5 480.4,192.7 479.3,192.7 L479.0,197.9 L477.7,197.9 L477.4,192.7 C476.3,192.7 473.8,192.5 471.3,191.4 L468.2,191.9 L469.3,189.2 C468.4,185.9 468.6,181.1 468.6,172.9 C468.6,164.8 469.3,158.8 471.1,155.0 L470.1,151.7 L473.0,150.1 C473.8,145.7 475.5,142.2 478.4,142.2 Z" fill="#dadada"/>
<path d="M478.4,142.2 C481.3,142.2 482.9,145.7 483.8,150.1 L486.7,151.7 L485.6,155.0 C487.5,158.8 488.1,164.8 488.1,172.9 C488.1,181.1 488.3,185.9 487.5,189.2 L488.5,191.9 L485.4,191.4 C482.9,192.5 480.4,192.7 479.3,192.7 L479.0,197.9 L477.7,197.9 L477.4,192.7 C476.3,192.7 473.8,192.5 471.3,191.4 L468.2,191.9 L469.3,189.2 C468.4,185.9 468.6,181.1 468.6,172.9 C468.6,164.8 469.3,158.8 471.1,155.0 L470.1,151.7 L473.0,150.1 C473.8,145.7 475.5,142.2 478.4,142.2 Z" fill="url(#mg)"/>
<path d="M478.4,142.2 C481.3,142.2 482.9,145.7 483.8,150.1 L486.7,151.7 L485.6,155.0 C487.5,158.8 488.1,164.8 488.1,172.9 C488.1,181.1 488.3,185.9 487.5,189.2 L488.5,191.9 L485.4,191.4 C482.9,192.5 480.4,192.7 479.3,192.7 L479.0,197.9 L477.7,197.9 L477.4,192.7 C476.3,192.7 473.8,192.5 471.3,191.4 L468.2,191.9 L469.3,189.2 C468.4,185.9 468.6,181.1 468.6,172.9 C468.6,164.8 469.3,158.8 471.1,155.0 L470.1,151.7 L473.0,150.1 C473.8,145.7 475.5,142.2 478.4,142.2 Z" fill="url(#mh)"/>
<path d="M478.4,142.2 C481.3,142.2 482.9,145.7 483.8,150.1 L486.7,151.7 L485.6,155.0 C487.5,158.8 488.1,164.8 488.1,172.9 C488.1,181.1 488.3,185.9 487.5,189.2 L488.5,191.9 L485.4,191.4 C482.9,192.5 480.4,192.7 479.3,192.7 L479.0,197.9 L477.7,197.9 L477.4,192.7 C476.3,192.7 473.8,192.5 471.3,191.4 L468.2,191.9 L469.3,189.2 C468.4,185.9 468.6,181.1 468.6,172.9 C468.6,164.8 469.3,158.8 471.1,155.0 L470.1,151.7 L473.0,150.1 C473.8,145.7 475.5,142.2 478.4,142.2 Z" fill="#000" filter="url(#tex)" opacity="0.22"/>
</g>
<rect x="489.8" y="138.9" width="20.4" height="56.0" fill="#0d1013"/>
<g transform="rotate(0.0 499.9 172.9)">
<path d="M499.9,142.2 C502.9,142.2 504.5,145.7 505.3,150.1 L508.2,151.7 L507.2,155.0 C509.1,158.8 509.7,164.8 509.7,172.9 C509.7,181.1 509.9,185.9 509.1,189.2 L510.1,191.9 L507.0,191.4 C504.5,192.5 502.0,192.7 500.9,192.7 L500.6,197.9 L499.3,197.9 L499.0,192.7 C497.9,192.7 495.4,192.5 492.9,191.4 L489.8,191.9 L490.8,189.2 C490.0,185.9 490.2,181.1 490.2,172.9 C490.2,164.8 490.8,158.8 492.7,155.0 L491.7,151.7 L494.6,150.1 C495.4,145.7 497.0,142.2 499.9,142.2 Z" fill="#dedede"/>
<path d="M499.9,142.2 C502.9,142.2 504.5,145.7 505.3,150.1 L508.2,151.7 L507.2,155.0 C509.1,158.8 509.7,164.8 509.7,172.9 C509.7,181.1 509.9,185.9 509.1,189.2 L510.1,191.9 L507.0,191.4 C504.5,192.5 502.0,192.7 500.9,192.7 L500.6,197.9 L499.3,197.9 L499.0,192.7 C497.9,192.7 495.4,192.5 492.9,191.4 L489.8,191.9 L490.8,189.2 C490.0,185.9 490.2,181.1 490.2,172.9 C490.2,164.8 490.8,158.8 492.7,155.0 L491.7,151.7 L494.6,150.1 C495.4,145.7 497.0,142.2 499.9,142.2 Z" fill="url(#mg)"/>
<path d="M499.9,142.2 C502.9,142.2 504.5,145.7 505.3,150.1 L508.2,151.7 L507.2,155.0 C509.1,158.8 509.7,164.8 509.7,172.9 C509.7,181.1 509.9,185.9 509.1,189.2 L510.1,191.9 L507.0,191.4 C504.5,192.5 502.0,192.7 500.9,192.7 L500.6,197.9 L499.3,197.9 L499.0,192.7 C497.9,192.7 495.4,192.5 492.9,191.4 L489.8,191.9 L490.8,189.2 C490.0,185.9 490.2,181.1 490.2,172.9 C490.2,164.8 490.8,158.8 492.7,155.0 L491.7,151.7 L494.6,150.1 C495.4,145.7 497.0,142.2 499.9,142.2 Z" fill="url(#mh)"/>
<path d="M499.9,142.2 C502.9,142.2 504.5,145.7 505.3,150.1 L508.2,151.7 L507.2,155.0 C509.1,158.8 509.7,164.8 509.7,172.9 C509.7,181.1 509.9,185.9 509.1,189.2 L510.1,191.9 L507.0,191.4 C504.5,192.5 502.0,192.7 500.9,192.7 L500.6,197.9 L499.3,197.9 L499.0,192.7 C497.9,192.7 495.4,192.5 492.9,191.4 L489.8,191.9 L490.8,189.2 C490.0,185.9 490.2,181.1 490.2,172.9 C490.2,164.8 490.8,158.8 492.7,155.0 L491.7,151.7 L494.6,150.1 C495.4,145.7 497.0,142.2 499.9,142.2 Z" fill="#000" filter="url(#tex)" opacity="0.22"/>
</g>
<rect x="511.3" y="138.9" width="20.4" height="56.0" fill="#121417"/>
<g transform="rotate(0.0 521.5 172.9)">
<path d="M521.5,142.2 C524.4,142.2 526.1,145.7 526.9,150.1 L529.8,151.7 L528.8,155.0 C530.6,158.8 531.3,164.8 531.3,172.9 C531.3,181.1 531.5,185.9 530.6,189.2 L531.7,191.9 L528.6,191.4 C526.1,192.5 523.6,192.7 522.5,192.7 L522.2,197.9 L520.9,197.9 L520.6,192.7 C519.5,192.7 517.0,192.5 514.5,191.4 L511.4,191.9 L512.4,189.2 C511.6,185.9 511.8,181.1 511.8,172.9 C511.8,164.8 512.4,158.8 514.3,155.0 L513.2,151.7 L516.1,150.1 C517.0,145.7 518.6,142.2 521.5,142.2 Z" fill="#dadada"/>
<path d="M521.5,142.2 C524.4,142.2 526.1,145.7 526.9,150.1 L529.8,151.7 L528.8,155.0 C530.6,158.8 531.3,164.8 531.3,172.9 C531.3,181.1 531.5,185.9 530.6,189.2 L531.7,191.9 L528.6,191.4 C526.1,192.5 523.6,192.7 522.5,192.7 L522.2,197.9 L520.9,197.9 L520.6,192.7 C519.5,192.7 517.0,192.5 514.5,191.4 L511.4,191.9 L512.4,189.2 C511.6,185.9 511.8,181.1 511.8,172.9 C511.8,164.8 512.4,158.8 514.3,155.0 L513.2,151.7 L516.1,150.1 C517.0,145.7 518.6,142.2 521.5,142.2 Z" fill="url(#mg)"/>
<path d="M521.5,142.2 C524.4,142.2 526.1,145.7 526.9,150.1 L529.8,151.7 L528.8,155.0 C530.6,158.8 531.3,164.8 531.3,172.9 C531.3,181.1 531.5,185.9 530.6,189.2 L531.7,191.9 L528.6,191.4 C526.1,192.5 523.6,192.7 522.5,192.7 L522.2,197.9 L520.9,197.9 L520.6,192.7 C519.5,192.7 517.0,192.5 514.5,191.4 L511.4,191.9 L512.4,189.2 C511.6,185.9 511.8,181.1 511.8,172.9 C511.8,164.8 512.4,158.8 514.3,155.0 L513.2,151.7 L516.1,150.1 C517.0,145.7 518.6,142.2 521.5,142.2 Z" fill="url(#mh)"/>
<path d="M521.5,142.2 C524.4,142.2 526.1,145.7 526.9,150.1 L529.8,151.7 L528.8,155.0 C530.6,158.8 531.3,164.8 531.3,172.9 C531.3,181.1 531.5,185.9 530.6,189.2 L531.7,191.9 L528.6,191.4 C526.1,192.5 523.6,192.7 522.5,192.7 L522.2,197.9 L520.9,197.9 L520.6,192.7 C519.5,192.7 517.0,192.5 514.5,191.4 L511.4,191.9 L512.4,189.2 C511.6,185.9 511.8,181.1 511.8,172.9 C511.8,164.8 512.4,158.8 514.3,155.0 L513.2,151.7 L516.1,150.1 C517.0,145.7 518.6,142.2 521.5,142.2 Z" fill="#000" filter="url(#tex)" opacity="0.22"/>
</g>
<rect x="532.9" y="138.9" width="20.4" height="56.0" fill="#0d1013"/>
<g transform="rotate(0.0 543.1 172.9)">
<path d="M543.1,142.2 C546.0,142.2 547.7,145.7 548.5,150.1 L551.4,151.7 L550.4,155.0 C552.2,158.8 552.8,164.8 552.8,172.9 C552.8,181.1 553.1,185.9 552.2,189.2 L553.3,191.9 L550.2,191.4 C547.7,192.5 545.2,192.7 544.0,192.7 L543.7,197.9 L542.5,197.9 L542.2,192.7 C541.0,192.7 538.6,192.5 536.1,191.4 L533.0,191.9 L534.0,189.2 C533.2,185.9 533.4,181.1 533.4,172.9 C533.4,164.8 534.0,158.8 535.9,155.0 L534.8,151.7 L537.7,150.1 C538.6,145.7 540.2,142.2 543.1,142.2 Z" fill="#d8d8d8"/>
<path d="M543.1,142.2 C546.0,142.2 547.7,145.7 548.5,150.1 L551.4,151.7 L550.4,155.0 C552.2,158.8 552.8,164.8 552.8,172.9 C552.8,181.1 553.1,185.9 552.2,189.2 L553.3,191.9 L550.2,191.4 C547.7,192.5 545.2,192.7 544.0,192.7 L543.7,197.9 L542.5,197.9 L542.2,192.7 C541.0,192.7 538.6,192.5 536.1,191.4 L533.0,191.9 L534.0,189.2 C533.2,185.9 533.4,181.1 533.4,172.9 C533.4,164.8 534.0,158.8 535.9,155.0 L534.8,151.7 L537.7,150.1 C538.6,145.7 540.2,142.2 543.1,142.2 Z" fill="url(#mg)"/>
<path d="M543.1,142.2 C546.0,142.2 547.7,145.7 548.5,150.1 L551.4,151.7 L550.4,155.0 C552.2,158.8 552.8,164.8 552.8,172.9 C552.8,181.1 553.1,185.9 552.2,189.2 L553.3,191.9 L550.2,191.4 C547.7,192.5 545.2,192.7 544.0,192.7 L543.7,197.9 L542.5,197.9 L542.2,192.7 C541.0,192.7 538.6,192.5 536.1,191.4 L533.0,191.9 L534.0,189.2 C533.2,185.9 533.4,181.1 533.4,172.9 C533.4,164.8 534.0,158.8 535.9,155.0 L534.8,151.7 L537.7,150.1 C538.6,145.7 540.2,142.2 543.1,142.2 Z" fill="url(#mh)"/>
<path d="M543.1,142.2 C546.0,142.2 547.7,145.7 548.5,150.1 L551.4,151.7 L550.4,155.0 C552.2,158.8 552.8,164.8 552.8,172.9 C552.8,181.1 553.1,185.9 552.2,189.2 L553.3,191.9 L550.2,191.4 C547.7,192.5 545.2,192.7 544.0,192.7 L543.7,197.9 L542.5,197.9 L542.2,192.7 C541.0,192.7 538.6,192.5 536.1,191.4 L533.0,191.9 L534.0,189.2 C533.2,185.9 533.4,181.1 533.4,172.9 C533.4,164.8 534.0,158.8 535.9,155.0 L534.8,151.7 L537.7,150.1 C538.6,145.7 540.2,142.2 543.1,142.2 Z" fill="#000" filter="url(#tex)" opacity="0.22"/>
</g>
<rect x="446.6" y="196.1" width="20.4" height="58.3" fill="#121417"/>
<g transform="rotate(0.0 456.8 231.5)">
<path d="M456.8,199.6 C459.7,199.6 461.3,203.2 462.2,207.8 L465.1,209.5 L464.0,212.8 C465.9,216.8 466.5,223.0 466.5,231.5 C466.5,240.0 466.7,245.1 465.9,248.5 L466.9,251.3 L463.8,250.7 C461.3,251.8 458.9,252.1 457.7,252.1 L457.4,257.5 L456.2,257.5 L455.9,252.1 C454.7,252.1 452.2,251.8 449.7,250.7 L446.6,251.3 L447.7,248.5 C446.8,245.1 447.1,240.0 447.1,231.5 C447.1,223.0 447.7,216.8 449.5,212.8 L448.5,209.5 L451.4,207.8 C452.2,203.2 453.9,199.6 456.8,199.6 Z" fill="#dedede"/>
<path d="M456.8,199.6 C459.7,199.6 461.3,203.2 462.2,207.8 L465.1,209.5 L464.0,212.8 C465.9,216.8 466.5,223.0 466.5,231.5 C466.5,240.0 466.7,245.1 465.9,248.5 L466.9,251.3 L463.8,250.7 C461.3,251.8 458.9,252.1 457.7,252.1 L457.4,257.5 L456.2,257.5 L455.9,252.1 C454.7,252.1 452.2,251.8 449.7,250.7 L446.6,251.3 L447.7,248.5 C446.8,245.1 447.1,240.0 447.1,231.5 C447.1,223.0 447.7,216.8 449.5,212.8 L448.5,209.5 L451.4,207.8 C452.2,203.2 453.9,199.6 456.8,199.6 Z" fill="url(#mg)"/>
<path d="M456.8,199.6 C459.7,199.6 461.3,203.2 462.2,207.8 L465.1,209.5 L464.0,212.8 C465.9,216.8 466.5,223.0 466.5,231.5 C466.5,240.0 466.7,245.1 465.9,248.5 L466.9,251.3 L463.8,250.7 C461.3,251.8 458.9,252.1 457.7,252.1 L457.4,257.5 L456.2,257.5 L455.9,252.1 C454.7,252.1 452.2,251.8 449.7,250.7 L446.6,251.3 L447.7,248.5 C446.8,245.1 447.1,240.0 447.1,231.5 C447.1,223.0 447.7,216.8 449.5,212.8 L448.5,209.5 L451.4,207.8 C452.2,203.2 453.9,199.6 456.8,199.6 Z" fill="url(#mh)"/>
<path d="M456.8,199.6 C459.7,199.6 461.3,203.2 462.2,207.8 L465.1,209.5 L464.0,212.8 C465.9,216.8 466.5,223.0 466.5,231.5 C466.5,240.0 466.7,245.1 465.9,248.5 L466.9,251.3 L463.8,250.7 C461.3,251.8 458.9,252.1 457.7,252.1 L457.4,257.5 L456.2,257.5 L455.9,252.1 C454.7,252.1 452.2,251.8 449.7,250.7 L446.6,251.3 L447.7,248.5 C446.8,245.1 447.1,240.0 447.1,231.5 C447.1,223.0 447.7,216.8 449.5,212.8 L448.5,209.5 L451.4,207.8 C452.2,203.2 453.9,199.6 456.8,199.6 Z" fill="#000" filter="url(#tex)" opacity="0.22"/>
</g>
<rect x="468.2" y="196.1" width="20.4" height="58.3" fill="#0d1013"/>
<g transform="rotate(0.0 478.4 231.5)">
<path d="M478.4,199.6 C481.3,199.6 482.9,203.2 483.8,207.8 L486.7,209.5 L485.6,212.8 C487.5,216.8 488.1,223.0 488.1,231.5 C488.1,240.0 488.3,245.1 487.5,248.5 L488.5,251.3 L485.4,250.7 C482.9,251.8 480.4,252.1 479.3,252.1 L479.0,257.5 L477.7,257.5 L477.4,252.1 C476.3,252.1 473.8,251.8 471.3,250.7 L468.2,251.3 L469.3,248.5 C468.4,245.1 468.6,240.0 468.6,231.5 C468.6,223.0 469.3,216.8 471.1,212.8 L470.1,209.5 L473.0,207.8 C473.8,203.2 475.5,199.6 478.4,199.6 Z" fill="#dedede"/>
<path d="M478.4,199.6 C481.3,199.6 482.9,203.2 483.8,207.8 L486.7,209.5 L485.6,212.8 C487.5,216.8 488.1,223.0 488.1,231.5 C488.1,240.0 488.3,245.1 487.5,248.5 L488.5,251.3 L485.4,250.7 C482.9,251.8 480.4,252.1 479.3,252.1 L479.0,257.5 L477.7,257.5 L477.4,252.1 C476.3,252.1 473.8,251.8 471.3,250.7 L468.2,251.3 L469.3,248.5 C468.4,245.1 468.6,240.0 468.6,231.5 C468.6,223.0 469.3,216.8 471.1,212.8 L470.1,209.5 L473.0,207.8 C473.8,203.2 475.5,199.6 478.4,199.6 Z" fill="url(#mg)"/>
<path d="M478.4,199.6 C481.3,199.6 482.9,203.2 483.8,207.8 L486.7,209.5 L485.6,212.8 C487.5,216.8 488.1,223.0 488.1,231.5 C488.1,240.0 488.3,245.1 487.5,248.5 L488.5,251.3 L485.4,250.7 C482.9,251.8 480.4,252.1 479.3,252.1 L479.0,257.5 L477.7,257.5 L477.4,252.1 C476.3,252.1 473.8,251.8 471.3,250.7 L468.2,251.3 L469.3,248.5 C468.4,245.1 468.6,240.0 468.6,231.5 C468.6,223.0 469.3,216.8 471.1,212.8 L470.1,209.5 L473.0,207.8 C473.8,203.2 475.5,199.6 478.4,199.6 Z" fill="url(#mh)"/>
<path d="M478.4,199.6 C481.3,199.6 482.9,203.2 483.8,207.8 L486.7,209.5 L485.6,212.8 C487.5,216.8 488.1,223.0 488.1,231.5 C488.1,240.0 488.3,245.1 487.5,248.5 L488.5,251.3 L485.4,250.7 C482.9,251.8 480.4,252.1 479.3,252.1 L479.0,257.5 L477.7,257.5 L477.4,252.1 C476.3,252.1 473.8,251.8 471.3,250.7 L468.2,251.3 L469.3,248.5 C468.4,245.1 468.6,240.0 468.6,231.5 C468.6,223.0 469.3,216.8 471.1,212.8 L470.1,209.5 L473.0,207.8 C473.8,203.2 475.5,199.6 478.4,199.6 Z" fill="#000" filter="url(#tex)" opacity="0.22"/>
</g>
<rect x="489.8" y="196.1" width="20.4" height="58.3" fill="#121417"/>
<g transform="rotate(0.0 499.9 231.5)">
<path d="M499.9,199.6 C502.9,199.6 504.5,203.2 505.3,207.8 L508.2,209.5 L507.2,212.8 C509.1,216.8 509.7,223.0 509.7,231.5 C509.7,240.0 509.9,245.1 509.1,248.5 L510.1,251.3 L507.0,250.7 C504.5,251.8 502.0,252.1 500.9,252.1 L500.6,257.5 L499.3,257.5 L499.0,252.1 C497.9,252.1 495.4,251.8 492.9,250.7 L489.8,251.3 L490.8,248.5 C490.0,245.1 490.2,240.0 490.2,231.5 C490.2,223.0 490.8,216.8 492.7,212.8 L491.7,209.5 L494.6,207.8 C495.4,203.2 497.0,199.6 499.9,199.6 Z" fill="#e2e2e2"/>
<path d="M499.9,199.6 C502.9,199.6 504.5,203.2 505.3,207.8 L508.2,209.5 L507.2,212.8 C509.1,216.8 509.7,223.0 509.7,231.5 C509.7,240.0 509.9,245.1 509.1,248.5 L510.1,251.3 L507.0,250.7 C504.5,251.8 502.0,252.1 500.9,252.1 L500.6,257.5 L499.3,257.5 L499.0,252.1 C497.9,252.1 495.4,251.8 492.9,250.7 L489.8,251.3 L490.8,248.5 C490.0,245.1 490.2,240.0 490.2,231.5 C490.2,223.0 490.8,216.8 492.7,212.8 L491.7,209.5 L494.6,207.8 C495.4,203.2 497.0,199.6 499.9,199.6 Z" fill="url(#mg)"/>
<path d="M499.9,199.6 C502.9,199.6 504.5,203.2 505.3,207.8 L508.2,209.5 L507.2,212.8 C509.1,216.8 509.7,223.0 509.7,231.5 C509.7,240.0 509.9,245.1 509.1,248.5 L510.1,251.3 L507.0,250.7 C504.5,251.8 502.0,252.1 500.9,252.1 L500.6,257.5 L499.3,257.5 L499.0,252.1 C497.9,252.1 495.4,251.8 492.9,250.7 L489.8,251.3 L490.8,248.5 C490.0,245.1 490.2,240.0 490.2,231.5 C490.2,223.0 490.8,216.8 492.7,212.8 L491.7,209.5 L494.6,207.8 C495.4,203.2 497.0,199.6 499.9,199.6 Z" fill="url(#mh)"/>
<path d="M499.9,199.6 C502.9,199.6 504.5,203.2 505.3,207.8 L508.2,209.5 L507.2,212.8 C509.1,216.8 509.7,223.0 509.7,231.5 C509.7,240.0 509.9,245.1 509.1,248.5 L510.1,251.3 L507.0,250.7 C504.5,251.8 502.0,252.1 500.9,252.1 L500.6,257.5 L499.3,257.5 L499.0,252.1 C497.9,252.1 495.4,251.8 492.9,250.7 L489.8,251.3 L490.8,248.5 C490.0,245.1 490.2,240.0 490.2,231.5 C490.2,223.0 490.8,216.8 492.7,212.8 L491.7,209.5 L494.6,207.8 C495.4,203.2 497.0,199.6 499.9,199.6 Z" fill="#000" filter="url(#tex)" opacity="0.22"/>
</g>
<rect x="511.3" y="196.1" width="20.4" height="58.3" fill="#0d1013"/>
<g transform="rotate(0.0 521.5 231.5)">
<path d="M521.5,199.6 C524.4,199.6 526.1,203.2 526.9,207.8 L529.8,209.5 L528.8,212.8 C530.6,216.8 531.3,223.0 531.3,231.5 C531.3,240.0 531.5,245.1 530.6,248.5 L531.7,251.3 L528.6,250.7 C526.1,251.8 523.6,252.1 522.5,252.1 L522.2,257.5 L520.9,257.5 L520.6,252.1 C519.5,252.1 517.0,251.8 514.5,250.7 L511.4,251.3 L512.4,248.5 C511.6,245.1 511.8,240.0 511.8,231.5 C511.8,223.0 512.4,216.8 514.3,212.8 L513.2,209.5 L516.1,207.8 C517.0,203.2 518.6,199.6 521.5,199.6 Z" fill="#dedede"/>
<path d="M521.5,199.6 C524.4,199.6 526.1,203.2 526.9,207.8 L529.8,209.5 L528.8,212.8 C530.6,216.8 531.3,223.0 531.3,231.5 C531.3,240.0 531.5,245.1 530.6,248.5 L531.7,251.3 L528.6,250.7 C526.1,251.8 523.6,252.1 522.5,252.1 L522.2,257.5 L520.9,257.5 L520.6,252.1 C519.5,252.1 517.0,251.8 514.5,250.7 L511.4,251.3 L512.4,248.5 C511.6,245.1 511.8,240.0 511.8,231.5 C511.8,223.0 512.4,216.8 514.3,212.8 L513.2,209.5 L516.1,207.8 C517.0,203.2 518.6,199.6 521.5,199.6 Z" fill="url(#mg)"/>
<path d="M521.5,199.6 C524.4,199.6 526.1,203.2 526.9,207.8 L529.8,209.5 L528.8,212.8 C530.6,216.8 531.3,223.0 531.3,231.5 C531.3,240.0 531.5,245.1 530.6,248.5 L531.7,251.3 L528.6,250.7 C526.1,251.8 523.6,252.1 522.5,252.1 L522.2,257.5 L520.9,257.5 L520.6,252.1 C519.5,252.1 517.0,251.8 514.5,250.7 L511.4,251.3 L512.4,248.5 C511.6,245.1 511.8,240.0 511.8,231.5 C511.8,223.0 512.4,216.8 514.3,212.8 L513.2,209.5 L516.1,207.8 C517.0,203.2 518.6,199.6 521.5,199.6 Z" fill="url(#mh)"/>
<path d="M521.5,199.6 C524.4,199.6 526.1,203.2 526.9,207.8 L529.8,209.5 L528.8,212.8 C530.6,216.8 531.3,223.0 531.3,231.5 C531.3,240.0 531.5,245.1 530.6,248.5 L531.7,251.3 L528.6,250.7 C526.1,251.8 523.6,252.1 522.5,252.1 L522.2,257.5 L520.9,257.5 L520.6,252.1 C519.5,252.1 517.0,251.8 514.5,250.7 L511.4,251.3 L512.4,248.5 C511.6,245.1 511.8,240.0 511.8,231.5 C511.8,223.0 512.4,216.8 514.3,212.8 L513.2,209.5 L516.1,207.8 C517.0,203.2 518.6,199.6 521.5,199.6 Z" fill="#000" filter="url(#tex)" opacity="0.22"/>
</g>
<rect x="532.9" y="196.1" width="20.4" height="58.3" fill="#121417"/>
<g transform="rotate(0.0 543.1 231.5)">
<path d="M543.1,199.6 C546.0,199.6 547.7,203.2 548.5,207.8 L551.4,209.5 L550.4,212.8 C552.2,216.8 552.8,223.0 552.8,231.5 C552.8,240.0 553.1,245.1 552.2,248.5 L553.3,251.3 L550.2,250.7 C547.7,251.8 545.2,252.1 544.0,252.1 L543.7,257.5 L542.5,257.5 L542.2,252.1 C541.0,252.1 538.6,251.8 536.1,250.7 L533.0,251.3 L534.0,248.5 C533.2,245.1 533.4,240.0 533.4,231.5 C533.4,223.0 534.0,216.8 535.9,212.8 L534.8,209.5 L537.7,207.8 C538.6,203.2 540.2,199.6 543.1,199.6 Z" fill="#dadada"/>
<path d="M543.1,199.6 C546.0,199.6 547.7,203.2 548.5,207.8 L551.4,209.5 L550.4,212.8 C552.2,216.8 552.8,223.0 552.8,231.5 C552.8,240.0 553.1,245.1 552.2,248.5 L553.3,251.3 L550.2,250.7 C547.7,251.8 545.2,252.1 544.0,252.1 L543.7,257.5 L542.5,257.5 L542.2,252.1 C541.0,252.1 538.6,251.8 536.1,250.7 L533.0,251.3 L534.0,248.5 C533.2,245.1 533.4,240.0 533.4,231.5 C533.4,223.0 534.0,216.8 535.9,212.8 L534.8,209.5 L537.7,207.8 C538.6,203.2 540.2,199.6 543.1,199.6 Z" fill="url(#mg)"/>
<path d="M543.1,199.6 C546.0,199.6 547.7,203.2 548.5,207.8 L551.4,209.5 L550.4,212.8 C552.2,216.8 552.8,223.0 552.8,231.5 C552.8,240.0 553.1,245.1 552.2,248.5 L553.3,251.3 L550.2,250.7 C547.7,251.8 545.2,252.1 544.0,252.1 L543.7,257.5 L542.5,257.5 L542.2,252.1 C541.0,252.1 538.6,251.8 536.1,250.7 L533.0,251.3 L534.0,248.5 C533.2,245.1 533.4,240.0 533.4,231.5 C533.4,223.0 534.0,216.8 535.9,212.8 L534.8,209.5 L537.7,207.8 C538.6,203.2 540.2,199.6 543.1,199.6 Z" fill="url(#mh)"/>
<path d="M543.1,199.6 C546.0,199.6 547.7,203.2 548.5,207.8 L551.4,209.5 L550.4,212.8 C552.2,216.8 552.8,223.0 552.8,231.5 C552.8,240.0 553.1,245.1 552.2,248.5 L553.3,251.3 L550.2,250.7 C547.7,251.8 545.2,252.1 544.0,252.1 L543.7,257.5 L542.5,257.5 L542.2,252.1 C541.0,252.1 538.6,251.8 536.1,250.7 L533.0,251.3 L534.0,248.5 C533.2,245.1 533.4,240.0 533.4,231.5 C533.4,223.0 534.0,216.8 535.9,212.8 L534.8,209.5 L537.7,207.8 C538.6,203.2 540.2,199.6 543.1,199.6 Z" fill="#000" filter="url(#tex)" opacity="0.22"/>
</g>
<rect x="446.6" y="255.6" width="20.4" height="62.4" fill="#0d1013"/>
<rect x="446.0" y="255.0" width="21.6" height="63.6" fill="#0d1013"/>
<rect x="468.2" y="255.6" width="20.4" height="62.4" fill="#121417"/>
<g transform="rotate(0.0 478.4 293.5)">
<path d="M478.4,259.3 C481.3,259.3 482.9,263.3 483.8,268.1 L486.7,269.9 L485.6,273.5 C487.5,277.8 488.1,284.4 488.1,293.5 C488.1,302.5 488.3,308.0 487.5,311.6 L488.5,314.6 L485.4,314.0 C482.9,315.2 480.4,315.5 479.3,315.5 L479.0,321.3 L477.7,321.3 L477.4,315.5 C476.3,315.5 473.8,315.2 471.3,314.0 L468.2,314.6 L469.3,311.6 C468.4,308.0 468.6,302.5 468.6,293.5 C468.6,284.4 469.3,277.8 471.1,273.5 L470.1,269.9 L473.0,268.1 C473.8,263.3 475.5,259.3 478.4,259.3 Z" fill="#dcdcdc"/>
<path d="M478.4,259.3 C481.3,259.3 482.9,263.3 483.8,268.1 L486.7,269.9 L485.6,273.5 C487.5,277.8 488.1,284.4 488.1,293.5 C488.1,302.5 488.3,308.0 487.5,311.6 L488.5,314.6 L485.4,314.0 C482.9,315.2 480.4,315.5 479.3,315.5 L479.0,321.3 L477.7,321.3 L477.4,315.5 C476.3,315.5 473.8,315.2 471.3,314.0 L468.2,314.6 L469.3,311.6 C468.4,308.0 468.6,302.5 468.6,293.5 C468.6,284.4 469.3,277.8 471.1,273.5 L470.1,269.9 L473.0,268.1 C473.8,263.3 475.5,259.3 478.4,259.3 Z" fill="url(#mg)"/>
<path d="M478.4,259.3 C481.3,259.3 482.9,263.3 483.8,268.1 L486.7,269.9 L485.6,273.5 C487.5,277.8 488.1,284.4 488.1,293.5 C488.1,302.5 488.3,308.0 487.5,311.6 L488.5,314.6 L485.4,314.0 C482.9,315.2 480.4,315.5 479.3,315.5 L479.0,321.3 L477.7,321.3 L477.4,315.5 C476.3,315.5 473.8,315.2 471.3,314.0 L468.2,314.6 L469.3,311.6 C468.4,308.0 468.6,302.5 468.6,293.5 C468.6,284.4 469.3,277.8 471.1,273.5 L470.1,269.9 L473.0,268.1 C473.8,263.3 475.5,259.3 478.4,259.3 Z" fill="url(#mh)"/>
<path d="M478.4,259.3 C481.3,259.3 482.9,263.3 483.8,268.1 L486.7,269.9 L485.6,273.5 C487.5,277.8 488.1,284.4 488.1,293.5 C488.1,302.5 488.3,308.0 487.5,311.6 L488.5,314.6 L485.4,314.0 C482.9,315.2 480.4,315.5 479.3,315.5 L479.0,321.3 L477.7,321.3 L477.4,315.5 C476.3,315.5 473.8,315.2 471.3,314.0 L468.2,314.6 L469.3,311.6 C468.4,308.0 468.6,302.5 468.6,293.5 C468.6,284.4 469.3,277.8 471.1,273.5 L470.1,269.9 L473.0,268.1 C473.8,263.3 475.5,259.3 478.4,259.3 Z" fill="#000" filter="url(#tex)" opacity="0.22"/>
</g>
<rect x="489.8" y="255.6" width="20.4" height="62.4" fill="#0d1013"/>
<g transform="rotate(0.0 499.9 293.5)">
<path d="M499.9,259.3 C502.9,259.3 504.5,263.3 505.3,268.1 L508.2,269.9 L507.2,273.5 C509.1,277.8 509.7,284.4 509.7,293.5 C509.7,302.5 509.9,308.0 509.1,311.6 L510.1,314.6 L507.0,314.0 C504.5,315.2 502.0,315.5 500.9,315.5 L500.6,321.3 L499.3,321.3 L499.0,315.5 C497.9,315.5 495.4,315.2 492.9,314.0 L489.8,314.6 L490.8,311.6 C490.0,308.0 490.2,302.5 490.2,293.5 C490.2,284.4 490.8,277.8 492.7,273.5 L491.7,269.9 L494.6,268.1 C495.4,263.3 497.0,259.3 499.9,259.3 Z" fill="#dcdcdc"/>
<path d="M499.9,259.3 C502.9,259.3 504.5,263.3 505.3,268.1 L508.2,269.9 L507.2,273.5 C509.1,277.8 509.7,284.4 509.7,293.5 C509.7,302.5 509.9,308.0 509.1,311.6 L510.1,314.6 L507.0,314.0 C504.5,315.2 502.0,315.5 500.9,315.5 L500.6,321.3 L499.3,321.3 L499.0,315.5 C497.9,315.5 495.4,315.2 492.9,314.0 L489.8,314.6 L490.8,311.6 C490.0,308.0 490.2,302.5 490.2,293.5 C490.2,284.4 490.8,277.8 492.7,273.5 L491.7,269.9 L494.6,268.1 C495.4,263.3 497.0,259.3 499.9,259.3 Z" fill="url(#mg)"/>
<path d="M499.9,259.3 C502.9,259.3 504.5,263.3 505.3,268.1 L508.2,269.9 L507.2,273.5 C509.1,277.8 509.7,284.4 509.7,293.5 C509.7,302.5 509.9,308.0 509.1,311.6 L510.1,314.6 L507.0,314.0 C504.5,315.2 502.0,315.5 500.9,315.5 L500.6,321.3 L499.3,321.3 L499.0,315.5 C497.9,315.5 495.4,315.2 492.9,314.0 L489.8,314.6 L490.8,311.6 C490.0,308.0 490.2,302.5 490.2,293.5 C490.2,284.4 490.8,277.8 492.7,273.5 L491.7,269.9 L494.6,268.1 C495.4,263.3 497.0,259.3 499.9,259.3 Z" fill="url(#mh)"/>
<path d="M499.9,259.3 C502.9,259.3 504.5,263.3 505.3,268.1 L508.2,269.9 L507.2,273.5 C509.1,277.8 509.7,284.4 509.7,293.5 C509.7,302.5 509.9,308.0 509.1,311.6 L510.1,314.6 L507.0,314.0 C504.5,315.2 502.0,315.5 500.9,315.5 L500.6,321.3 L499.3,321.3 L499.0,315.5 C497.9,315.5 495.4,315.2 492.9,314.0 L489.8,314.6 L490.8,311.6 C490.0,308.0 490.2,302.5 490.2,293.5 C490.2,284.4 490.8,277.8 492.7,273.5 L491.7,269.9 L494.6,268.1 C495.4,263.3 497.0,259.3 499.9,259.3 Z" fill="#000" filter="url(#tex)" opacity="0.22"/>
</g>
<rect x="511.3" y="255.6" width="20.4" height="62.4" fill="#121417"/>
<g transform="rotate(0.0 521.5 293.5)">
<path d="M521.5,259.3 C524.4,259.3 526.1,263.3 526.9,268.1 L529.8,269.9 L528.8,273.5 C530.6,277.8 531.3,284.4 531.3,293.5 C531.3,302.5 531.5,308.0 530.6,311.6 L531.7,314.6 L528.6,314.0 C526.1,315.2 523.6,315.5 522.5,315.5 L522.2,321.3 L520.9,321.3 L520.6,315.5 C519.5,315.5 517.0,315.2 514.5,314.0 L511.4,314.6 L512.4,311.6 C511.6,308.0 511.8,302.5 511.8,293.5 C511.8,284.4 512.4,277.8 514.3,273.5 L513.2,269.9 L516.1,268.1 C517.0,263.3 518.6,259.3 521.5,259.3 Z" fill="#dcdcdc"/>
<path d="M521.5,259.3 C524.4,259.3 526.1,263.3 526.9,268.1 L529.8,269.9 L528.8,273.5 C530.6,277.8 531.3,284.4 531.3,293.5 C531.3,302.5 531.5,308.0 530.6,311.6 L531.7,314.6 L528.6,314.0 C526.1,315.2 523.6,315.5 522.5,315.5 L522.2,321.3 L520.9,321.3 L520.6,315.5 C519.5,315.5 517.0,315.2 514.5,314.0 L511.4,314.6 L512.4,311.6 C511.6,308.0 511.8,302.5 511.8,293.5 C511.8,284.4 512.4,277.8 514.3,273.5 L513.2,269.9 L516.1,268.1 C517.0,263.3 518.6,259.3 521.5,259.3 Z" fill="url(#mg)"/>
<path d="M521.5,259.3 C524.4,259.3 526.1,263.3 526.9,268.1 L529.8,269.9 L528.8,273.5 C530.6,277.8 531.3,284.4 531.3,293.5 C531.3,302.5 531.5,308.0 530.6,311.6 L531.7,314.6 L528.6,314.0 C526.1,315.2 523.6,315.5 522.5,315.5 L522.2,321.3 L520.9,321.3 L520.6,315.5 C519.5,315.5 517.0,315.2 514.5,314.0 L511.4,314.6 L512.4,311.6 C511.6,308.0 511.8,302.5 511.8,293.5 C511.8,284.4 512.4,277.8 514.3,273.5 L513.2,269.9 L516.1,268.1 C517.0,263.3 518.6,259.3 521.5,259.3 Z" fill="url(#mh)"/>
<path d="M521.5,259.3 C524.4,259.3 526.1,263.3 526.9,268.1 L529.8,269.9 L528.8,273.5 C530.6,277.8 531.3,284.4 531.3,293.5 C531.3,302.5 531.5,308.0 530.6,311.6 L531.7,314.6 L528.6,314.0 C526.1,315.2 523.6,315.5 522.5,315.5 L522.2,321.3 L520.9,321.3 L520.6,315.5 C519.5,315.5 517.0,315.2 514.5,314.0 L511.4,314.6 L512.4,311.6 C511.6,308.0 511.8,302.5 511.8,293.5 C511.8,284.4 512.4,277.8 514.3,273.5 L513.2,269.9 L516.1,268.1 C517.0,263.3 518.6,259.3 521.5,259.3 Z" fill="#000" filter="url(#tex)" opacity="0.22"/>
</g>
<rect x="532.9" y="255.6" width="20.4" height="62.4" fill="#0d1013"/>
<g transform="rotate(0.0 543.1 293.5)">
<path d="M543.1,259.3 C546.0,259.3 547.7,263.3 548.5,268.1 L551.4,269.9 L550.4,273.5 C552.2,277.8 552.8,284.4 552.8,293.5 C552.8,302.5 553.1,308.0 552.2,311.6 L553.3,314.6 L550.2,314.0 C547.7,315.2 545.2,315.5 544.0,315.5 L543.7,321.3 L542.5,321.3 L542.2,315.5 C541.0,315.5 538.6,315.2 536.1,314.0 L533.0,314.6 L534.0,311.6 C533.2,308.0 533.4,302.5 533.4,293.5 C533.4,284.4 534.0,277.8 535.9,273.5 L534.8,269.9 L537.7,268.1 C538.6,263.3 540.2,259.3 543.1,259.3 Z" fill="#dadada"/>
<path d="M543.1,259.3 C546.0,259.3 547.7,263.3 548.5,268.1 L551.4,269.9 L550.4,273.5 C552.2,277.8 552.8,284.4 552.8,293.5 C552.8,302.5 553.1,308.0 552.2,311.6 L553.3,314.6 L550.2,314.0 C547.7,315.2 545.2,315.5 544.0,315.5 L543.7,321.3 L542.5,321.3 L542.2,315.5 C541.0,315.5 538.6,315.2 536.1,314.0 L533.0,314.6 L534.0,311.6 C533.2,308.0 533.4,302.5 533.4,293.5 C533.4,284.4 534.0,277.8 535.9,273.5 L534.8,269.9 L537.7,268.1 C538.6,263.3 540.2,259.3 543.1,259.3 Z" fill="url(#mg)"/>
<path d="M543.1,259.3 C546.0,259.3 547.7,263.3 548.5,268.1 L551.4,269.9 L550.4,273.5 C552.2,277.8 552.8,284.4 552.8,293.5 C552.8,302.5 553.1,308.0 552.2,311.6 L553.3,314.6 L550.2,314.0 C547.7,315.2 545.2,315.5 544.0,315.5 L543.7,321.3 L542.5,321.3 L542.2,315.5 C541.0,315.5 538.6,315.2 536.1,314.0 L533.0,314.6 L534.0,311.6 C533.2,308.0 533.4,302.5 533.4,293.5 C533.4,284.4 534.0,277.8 535.9,273.5 L534.8,269.9 L537.7,268.1 C538.6,263.3 540.2,259.3 543.1,259.3 Z" fill="url(#mh)"/>
<path d="M543.1,259.3 C546.0,259.3 547.7,263.3 548.5,268.1 L551.4,269.9 L550.4,273.5 C552.2,277.8 552.8,284.4 552.8,293.5 C552.8,302.5 553.1,308.0 552.2,311.6 L553.3,314.6 L550.2,314.0 C547.7,315.2 545.2,315.5 544.0,315.5 L543.7,321.3 L542.5,321.3 L542.2,315.5 C541.0,315.5 538.6,315.2 536.1,314.0 L533.0,314.6 L534.0,311.6 C533.2,308.0 533.4,302.5 533.4,293.5 C533.4,284.4 534.0,277.8 535.9,273.5 L534.8,269.9 L537.7,268.1 C538.6,263.3 540.2,259.3 543.1,259.3 Z" fill="#000" filter="url(#tex)" opacity="0.22"/>
</g>
<ellipse cx="451.5" cy="38.2" rx="3.5" ry="3.2" fill="url(#hc)"/>
<ellipse cx="457.4" cy="44.5" rx="1.2" ry="1.5" fill="url(#hb)"/>
<ellipse cx="477.4" cy="30.3" rx="2.0" ry="2.0" fill="url(#hb)"/>
<ellipse cx="481.5" cy="40.8" rx="5.5" ry="5.5" fill="url(#hr)"/>
<ellipse cx="469.5" cy="65.3" rx="4.0" ry="4.0" fill="url(#hr)"/>
<ellipse cx="483.0" cy="67.0" rx="6.0" ry="4.5" fill="url(#hb)"/>
<ellipse cx="486.5" cy="69.4" rx="4.0" ry="4.5" fill="url(#hr)"/>
<ellipse cx="500.8" cy="26.5" rx="4.5" ry="5.0" fill="url(#hy)"/>
<ellipse cx="494.6" cy="37.0" rx="4.5" ry="4.5" fill="url(#hr)"/>
<ellipse cx="501.0" cy="42.0" rx="4.0" ry="4.0" fill="url(#hb)"/>
<ellipse cx="506.0" cy="48.5" rx="4.0" ry="4.0" fill="url(#hy)"/>
<ellipse cx="497.0" cy="54.7" rx="2.0" ry="2.0" fill="url(#hb)"/>
<ellipse cx="499.0" cy="68.5" rx="11.0" ry="6.0" fill="url(#hb)"/>
<ellipse cx="509.0" cy="65.0" rx="4.5" ry="5.5" fill="url(#hr)"/>
<ellipse cx="544.8" cy="35.0" rx="1.5" ry="1.2" fill="url(#hb)"/>
<ellipse cx="543.8" cy="41.0" rx="2.0" ry="2.2" fill="url(#hb)"/>
<ellipse cx="535.7" cy="68.0" rx="2.5" ry="3.5" fill="url(#hb)"/>
<ellipse cx="459.4" cy="97.5" rx="4.0" ry="4.0" fill="url(#hc)"/>
<ellipse cx="453.0" cy="108.5" rx="2.8" ry="2.8" fill="url(#hy)"/>
<ellipse cx="455.5" cy="134.5" rx="4.0" ry="3.5" fill="url(#hr)"/>
<ellipse cx="476.5" cy="102.7" rx="4.5" ry="3.5" fill="url(#hb)"/>
<ellipse cx="481.5" cy="102.0" rx="3.5" ry="3.5" fill="url(#hy)"/>
<ellipse cx="486.0" cy="112.5" rx="2.5" ry="3.0" fill="url(#hc)"/>
<ellipse cx="469.5" cy="122.5" rx="3.0" ry="3.5" fill="url(#hy)"/>
<ellipse cx="484.5" cy="124.5" rx="5.0" ry="6.0" fill="url(#hr)"/>
<ellipse cx="495.5" cy="92.5" rx="5.5" ry="5.0" fill="url(#hr)"/>
<ellipse cx="501.0" cy="122.0" rx="1.5" ry="1.5" fill="url(#hb)"/>
<ellipse cx="500.0" cy="134.5" rx="2.0" ry="2.5" fill="url(#hb)"/>
<ellipse cx="519.0" cy="94.5" rx="2.0" ry="2.0" fill="url(#hb)"/>
<ellipse cx="523.5" cy="104.5" rx="4.5" ry="5.0" fill="url(#hr)"/>
<ellipse cx="513.5" cy="122.5" rx="5.5" ry="5.5" fill="url(#hr)"/>
<ellipse cx="527.5" cy="124.0" rx="5.0" ry="5.5" fill="url(#hr)"/>
<ellipse cx="545.5" cy="96.0" rx="3.0" ry="3.5" fill="url(#hy)"/>
<ellipse cx="546.0" cy="102.5" rx="1.5" ry="1.5" fill="url(#hb)"/>
<ellipse cx="536.5" cy="124.5" rx="6.0" ry="7.0" fill="url(#hr)"/>
<ellipse cx="541.0" cy="128.0" rx="4.0" ry="3.5" fill="url(#hy)"/>
<ellipse cx="550.0" cy="125.0" rx="3.0" ry="3.5" fill="url(#hb)"/>
<ellipse cx="456.5" cy="158.0" rx="11.0" ry="10.0" fill="url(#hb)"/>
<ellipse cx="456.5" cy="185.0" rx="11.0" ry="9.0" fill="url(#hb)"/>
<ellipse cx="478.5" cy="164.0" rx="10.0" ry="11.0" fill="url(#hb)"/>
<ellipse cx="479.0" cy="185.0" rx="11.0" ry="9.0" fill="url(#hb)"/>
<ellipse cx="500.0" cy="184.0" rx="11.0" ry="6.0" fill="url(#hb)"/>
<ellipse cx="522.0" cy="175.0" rx="10.0" ry="14.0" fill="url(#hb)"/>
<ellipse cx="543.0" cy="185.0" rx="11.0" ry="8.0" fill="url(#hb)"/>
<ellipse cx="544.0" cy="160.0" rx="6.0" ry="8.0" fill="url(#hb)"/>
<ellipse cx="455.5" cy="159.0" rx="8.8" ry="8.1" fill="url(#hR)"/>
<ellipse cx="449.5" cy="183.0" rx="6.2" ry="6.9" fill="url(#hR)"/>
<ellipse cx="463.0" cy="185.0" rx="7.5" ry="7.5" fill="url(#hR)"/>
<ellipse cx="478.5" cy="161.0" rx="8.8" ry="7.5" fill="url(#hR)"/>
<ellipse cx="484.5" cy="172.0" rx="5.6" ry="5.6" fill="url(#hR)"/>
<ellipse cx="482.5" cy="183.0" rx="7.5" ry="8.8" fill="url(#hR)"/>
<ellipse cx="470.0" cy="179.0" rx="3.0" ry="3.0" fill="url(#hy)"/>
<ellipse cx="495.0" cy="151.5" rx="4.5" ry="4.0" fill="url(#hr)"/>
<ellipse cx="492.0" cy="162.0" rx="3.0" ry="3.0" fill="url(#hr)"/>
<ellipse cx="500.0" cy="164.0" rx="3.0" ry="3.0" fill="url(#hc)"/>
<ellipse cx="514.0" cy="155.0" rx="2.5" ry="2.5" fill="url(#hr)"/>
<ellipse cx="521.0" cy="161.0" rx="3.5" ry="3.5" fill="url(#hr)"/>
<ellipse cx="515.0" cy="167.0" rx="2.5" ry="2.5" fill="url(#hr)"/>
<ellipse cx="527.0" cy="171.0" rx="3.5" ry="3.5" fill="url(#hy)"/>
<ellipse cx="513.0" cy="182.0" rx="5.6" ry="6.2" fill="url(#hR)"/>
<ellipse cx="525.0" cy="185.0" rx="8.1" ry="7.5" fill="url(#hR)"/>
<ellipse cx="541.0" cy="156.0" rx="3.0" ry="3.0" fill="url(#hr)"/>
<ellipse cx="542.0" cy="162.0" rx="2.5" ry="2.5" fill="url(#hr)"/>
<ellipse cx="546.5" cy="153.0" rx="2.5" ry="2.5" fill="url(#hy)"/>
<ellipse cx="535.5" cy="184.0" rx="7.5" ry="7.5" fill="url(#hR)"/>
<ellipse cx="549.5" cy="185.0" rx="5.0" ry="5.0" fill="url(#hR)"/>
<ellipse cx="456.5" cy="215.0" rx="11.0" ry="11.0" fill="url(#hb)"/>
<ellipse cx="457.0" cy="242.0" rx="11.0" ry="9.0" fill="url(#hb)"/>
<ellipse cx="479.0" cy="218.0" rx="10.0" ry="10.0" fill="url(#hb)"/>
<ellipse cx="480.0" cy="242.0" rx="11.0" ry="8.0" fill="url(#hb)"/>
<ellipse cx="500.0" cy="245.0" rx="11.0" ry="6.0" fill="url(#hb)"/>
<ellipse cx="521.0" cy="222.0" rx="10.0" ry="11.0" fill="url(#hb)"/>
<ellipse cx="521.0" cy="242.0" rx="11.0" ry="8.0" fill="url(#hb)"/>
<ellipse cx="543.0" cy="220.0" rx="10.0" ry="14.0" fill="url(#hb)"/>
<ellipse cx="543.0" cy="243.0" rx="11.0" ry="8.0" fill="url(#hb)"/>
<ellipse cx="456.5" cy="214.5" rx="7.5" ry="8.1" fill="url(#hR)"/>
<ellipse cx="449.5" cy="218.0" rx="2.5" ry="2.5" fill="url(#hr)"/>
<ellipse cx="449.5" cy="242.0" rx="5.6" ry="6.2" fill="url(#hR)"/>
<ellipse cx="466.0" cy="240.0" rx="3.5" ry="3.5" fill="url(#hr)"/>
<ellipse cx="479.0" cy="218.0" rx="8.1" ry="8.1" fill="url(#hR)"/>
<ellipse cx="485.0" cy="242.0" rx="5.6" ry="8.1" fill="url(#hR)"/>
<ellipse cx="495.0" cy="210.0" rx="4.0" ry="4.0" fill="url(#hr)"/>
<ellipse cx="493.0" cy="222.0" rx="2.5" ry="2.5" fill="url(#hr)"/>
<ellipse cx="501.0" cy="223.0" rx="2.5" ry="2.5" fill="url(#hc)"/>
<ellipse cx="499.0" cy="254.0" rx="1.5" ry="1.5" fill="url(#hr)"/>
<ellipse cx="520.0" cy="219.0" rx="7.0" ry="8.0" fill="url(#hy)"/>
<ellipse cx="523.5" cy="221.0" rx="4.4" ry="6.2" fill="url(#hR)"/>
<ellipse cx="513.0" cy="242.0" rx="5.6" ry="6.2" fill="url(#hR)"/>
<ellipse cx="527.0" cy="240.0" rx="6.9" ry="7.5" fill="url(#hR)"/>
<ellipse cx="545.0" cy="206.0" rx="2.0" ry="2.0" fill="url(#hr)"/>
<ellipse cx="544.0" cy="215.0" rx="3.5" ry="3.5" fill="url(#hr)"/>
<ellipse cx="538.5" cy="243.0" rx="6.9" ry="6.9" fill="url(#hR)"/>
<ellipse cx="550.5" cy="240.0" rx="4.4" ry="5.0" fill="url(#hR)"/>
<ellipse cx="479.0" cy="280.0" rx="11.0" ry="16.0" fill="url(#hb)"/>
<ellipse cx="478.0" cy="304.0" rx="12.0" ry="10.0" fill="url(#hb)"/>
<ellipse cx="500.0" cy="280.0" rx="11.0" ry="14.0" fill="url(#hb)"/>
<ellipse cx="500.0" cy="304.0" rx="11.0" ry="10.0" fill="url(#hb)"/>
<ellipse cx="521.0" cy="279.0" rx="11.0" ry="14.0" fill="url(#hb)"/>
<ellipse cx="521.0" cy="303.0" rx="11.0" ry="10.0" fill="url(#hb)"/>
<ellipse cx="543.0" cy="280.0" rx="11.0" ry="16.0" fill="url(#hb)"/>
<ellipse cx="543.0" cy="303.0" rx="11.0" ry="10.0" fill="url(#hb)"/>
<ellipse cx="480.0" cy="277.5" rx="8.8" ry="10.0" fill="url(#hR)"/>
<ellipse cx="470.0" cy="303.0" rx="7.5" ry="8.1" fill="url(#hR)"/>
<ellipse cx="486.0" cy="304.0" rx="7.5" ry="8.8" fill="url(#hR)"/>
<ellipse cx="476.0" cy="268.0" rx="2.0" ry="2.0" fill="url(#hr)"/>
<ellipse cx="498.0" cy="276.0" rx="5.0" ry="5.0" fill="url(#hc)"/>
<ellipse cx="499.5" cy="282.0" rx="4.4" ry="3.8" fill="url(#hR)"/>
<ellipse cx="493.0" cy="269.0" rx="2.0" ry="2.0" fill="url(#hy)"/>
<ellipse cx="505.0" cy="287.0" rx="3.8" ry="3.8" fill="url(#hR)"/>
<ellipse cx="496.0" cy="303.0" rx="4.0" ry="4.0" fill="url(#hr)"/>
<ellipse cx="503.0" cy="306.0" rx="4.0" ry="5.0" fill="url(#hr)"/>
<ellipse cx="500.0" cy="311.0" rx="3.0" ry="3.0" fill="url(#hy)"/>
<ellipse cx="521.0" cy="279.0" rx="10.6" ry="9.4" fill="url(#hR)"/>
<ellipse cx="513.0" cy="301.0" rx="6.9" ry="7.5" fill="url(#hR)"/>
<ellipse cx="529.0" cy="301.0" rx="6.2" ry="7.5" fill="url(#hR)"/>
<ellipse cx="521.0" cy="309.0" rx="4.0" ry="4.0" fill="url(#hy)"/>
<ellipse cx="545.0" cy="273.0" rx="3.0" ry="3.0" fill="url(#hr)"/>
<ellipse cx="551.0" cy="284.0" rx="3.0" ry="4.0" fill="url(#hr)"/>
<ellipse cx="540.0" cy="303.0" rx="7.5" ry="7.5" fill="url(#hR)"/>
<ellipse cx="550.5" cy="302.0" rx="6.9" ry="7.5" fill="url(#hR)"/>
</g>
<clipPath id="blk2"><rect x="558.6" y="19.0" width="86.9" height="299.6"/></clipPath>
<g clip-path="url(#blk2)">
<rect x="558.6" y="19.0" width="86.9" height="299.6" fill="#0d1013"/>
<rect x="559.2" y="19.6" width="20.5" height="57.8" fill="#0d1013"/>
<g transform="rotate(0.0 569.5 54.7)">
<path d="M569.5,23.0 C572.4,23.0 574.1,26.7 574.9,31.2 L577.8,32.8 L576.8,36.2 C578.6,40.1 579.3,46.3 579.3,54.7 C579.3,63.1 579.5,68.1 578.6,71.5 L579.7,74.3 L576.6,73.8 C574.1,74.9 571.5,75.2 570.4,75.2 L570.1,80.5 L568.8,80.5 L568.5,75.2 C567.4,75.2 564.9,74.9 562.4,73.8 L559.2,74.3 L560.3,71.5 C559.5,68.1 559.7,63.1 559.7,54.7 C559.7,46.3 560.3,40.1 562.2,36.2 L561.1,32.8 L564.0,31.2 C564.9,26.7 566.5,23.0 569.5,23.0 Z" fill="#d6d6d6"/>
<path d="M569.5,23.0 C572.4,23.0 574.1,26.7 574.9,31.2 L577.8,32.8 L576.8,36.2 C578.6,40.1 579.3,46.3 579.3,54.7 C579.3,63.1 579.5,68.1 578.6,71.5 L579.7,74.3 L576.6,73.8 C574.1,74.9 571.5,75.2 570.4,75.2 L570.1,80.5 L568.8,80.5 L568.5,75.2 C567.4,75.2 564.9,74.9 562.4,73.8 L559.2,74.3 L560.3,71.5 C559.5,68.1 559.7,63.1 559.7,54.7 C559.7,46.3 560.3,40.1 562.2,36.2 L561.1,32.8 L564.0,31.2 C564.9,26.7 566.5,23.0 569.5,23.0 Z" fill="url(#mg)"/>
<path d="M569.5,23.0 C572.4,23.0 574.1,26.7 574.9,31.2 L577.8,32.8 L576.8,36.2 C578.6,40.1 579.3,46.3 579.3,54.7 C579.3,63.1 579.5,68.1 578.6,71.5 L579.7,74.3 L576.6,73.8 C574.1,74.9 571.5,75.2 570.4,75.2 L570.1,80.5 L568.8,80.5 L568.5,75.2 C567.4,75.2 564.9,74.9 562.4,73.8 L559.2,74.3 L560.3,71.5 C559.5,68.1 559.7,63.1 559.7,54.7 C559.7,46.3 560.3,40.1 562.2,36.2 L561.1,32.8 L564.0,31.2 C564.9,26.7 566.5,23.0 569.5,23.0 Z" fill="url(#mh)"/>
<path d="M569.5,23.0 C572.4,23.0 574.1,26.7 574.9,31.2 L577.8,32.8 L576.8,36.2 C578.6,40.1 579.3,46.3 579.3,54.7 C579.3,63.1 579.5,68.1 578.6,71.5 L579.7,74.3 L576.6,73.8 C574.1,74.9 571.5,75.2 570.4,75.2 L570.1,80.5 L568.8,80.5 L568.5,75.2 C567.4,75.2 564.9,74.9 562.4,73.8 L559.2,74.3 L560.3,71.5 C559.5,68.1 559.7,63.1 559.7,54.7 C559.7,46.3 560.3,40.1 562.2,36.2 L561.1,32.8 L564.0,31.2 C564.9,26.7 566.5,23.0 569.5,23.0 Z" fill="#000" filter="url(#tex)" opacity="0.22"/>
</g>
<rect x="580.9" y="19.6" width="20.5" height="57.8" fill="#121417"/>
<g transform="rotate(0.0 591.2 54.7)">
<path d="M591.2,23.0 C594.1,23.0 595.8,26.7 596.6,31.2 L599.5,32.8 L598.5,36.2 C600.4,40.1 601.0,46.3 601.0,54.7 C601.0,63.1 601.2,68.1 600.4,71.5 L601.4,74.3 L598.3,73.8 C595.8,74.9 593.3,75.2 592.1,75.2 L591.8,80.5 L590.6,80.5 L590.2,75.2 C589.1,75.2 586.6,74.9 584.1,73.8 L581.0,74.3 L582.0,71.5 C581.2,68.1 581.4,63.1 581.4,54.7 C581.4,46.3 582.0,40.1 583.9,36.2 L582.8,32.8 L585.8,31.2 C586.6,26.7 588.3,23.0 591.2,23.0 Z" fill="#f4f4f4"/>
<path d="M591.2,23.0 C594.1,23.0 595.8,26.7 596.6,31.2 L599.5,32.8 L598.5,36.2 C600.4,40.1 601.0,46.3 601.0,54.7 C601.0,63.1 601.2,68.1 600.4,71.5 L601.4,74.3 L598.3,73.8 C595.8,74.9 593.3,75.2 592.1,75.2 L591.8,80.5 L590.6,80.5 L590.2,75.2 C589.1,75.2 586.6,74.9 584.1,73.8 L581.0,74.3 L582.0,71.5 C581.2,68.1 581.4,63.1 581.4,54.7 C581.4,46.3 582.0,40.1 583.9,36.2 L582.8,32.8 L585.8,31.2 C586.6,26.7 588.3,23.0 591.2,23.0 Z" fill="url(#mg)"/>
<path d="M591.2,23.0 C594.1,23.0 595.8,26.7 596.6,31.2 L599.5,32.8 L598.5,36.2 C600.4,40.1 601.0,46.3 601.0,54.7 C601.0,63.1 601.2,68.1 600.4,71.5 L601.4,74.3 L598.3,73.8 C595.8,74.9 593.3,75.2 592.1,75.2 L591.8,80.5 L590.6,80.5 L590.2,75.2 C589.1,75.2 586.6,74.9 584.1,73.8 L581.0,74.3 L582.0,71.5 C581.2,68.1 581.4,63.1 581.4,54.7 C581.4,46.3 582.0,40.1 583.9,36.2 L582.8,32.8 L585.8,31.2 C586.6,26.7 588.3,23.0 591.2,23.0 Z" fill="url(#mh)"/>
<path d="M591.2,23.0 C594.1,23.0 595.8,26.7 596.6,31.2 L599.5,32.8 L598.5,36.2 C600.4,40.1 601.0,46.3 601.0,54.7 C601.0,63.1 601.2,68.1 600.4,71.5 L601.4,74.3 L598.3,73.8 C595.8,74.9 593.3,75.2 592.1,75.2 L591.8,80.5 L590.6,80.5 L590.2,75.2 C589.1,75.2 586.6,74.9 584.1,73.8 L581.0,74.3 L582.0,71.5 C581.2,68.1 581.4,63.1 581.4,54.7 C581.4,46.3 582.0,40.1 583.9,36.2 L582.8,32.8 L585.8,31.2 C586.6,26.7 588.3,23.0 591.2,23.0 Z" fill="#000" filter="url(#tex)" opacity="0.22"/>
</g>
<rect x="602.6" y="19.6" width="20.5" height="57.8" fill="#0d1013"/>
<g transform="rotate(0.0 612.9 54.7)">
<path d="M612.9,23.0 C615.8,23.0 617.5,26.7 618.3,31.2 L621.3,32.8 L620.2,36.2 C622.1,40.1 622.7,46.3 622.7,54.7 C622.7,63.1 622.9,68.1 622.1,71.5 L623.1,74.3 L620.0,73.8 C617.5,74.9 615.0,75.2 613.9,75.2 L613.5,80.5 L612.3,80.5 L612.0,75.2 C610.8,75.2 608.3,74.9 605.8,73.8 L602.7,74.3 L603.7,71.5 C602.9,68.1 603.1,63.1 603.1,54.7 C603.1,46.3 603.7,40.1 605.6,36.2 L604.6,32.8 L607.5,31.2 C608.3,26.7 610.0,23.0 612.9,23.0 Z" fill="#ffffff"/>
<path d="M612.9,23.0 C615.8,23.0 617.5,26.7 618.3,31.2 L621.3,32.8 L620.2,36.2 C622.1,40.1 622.7,46.3 622.7,54.7 C622.7,63.1 622.9,68.1 622.1,71.5 L623.1,74.3 L620.0,73.8 C617.5,74.9 615.0,75.2 613.9,75.2 L613.5,80.5 L612.3,80.5 L612.0,75.2 C610.8,75.2 608.3,74.9 605.8,73.8 L602.7,74.3 L603.7,71.5 C602.9,68.1 603.1,63.1 603.1,54.7 C603.1,46.3 603.7,40.1 605.6,36.2 L604.6,32.8 L607.5,31.2 C608.3,26.7 610.0,23.0 612.9,23.0 Z" fill="url(#mg)"/>
<path d="M612.9,23.0 C615.8,23.0 617.5,26.7 618.3,31.2 L621.3,32.8 L620.2,36.2 C622.1,40.1 622.7,46.3 622.7,54.7 C622.7,63.1 622.9,68.1 622.1,71.5 L623.1,74.3 L620.0,73.8 C617.5,74.9 615.0,75.2 613.9,75.2 L613.5,80.5 L612.3,80.5 L612.0,75.2 C610.8,75.2 608.3,74.9 605.8,73.8 L602.7,74.3 L603.7,71.5 C602.9,68.1 603.1,63.1 603.1,54.7 C603.1,46.3 603.7,40.1 605.6,36.2 L604.6,32.8 L607.5,31.2 C608.3,26.7 610.0,23.0 612.9,23.0 Z" fill="url(#mh)"/>
<path d="M612.9,23.0 C615.8,23.0 617.5,26.7 618.3,31.2 L621.3,32.8 L620.2,36.2 C622.1,40.1 622.7,46.3 622.7,54.7 C622.7,63.1 622.9,68.1 622.1,71.5 L623.1,74.3 L620.0,73.8 C617.5,74.9 615.0,75.2 613.9,75.2 L613.5,80.5 L612.3,80.5 L612.0,75.2 C610.8,75.2 608.3,74.9 605.8,73.8 L602.7,74.3 L603.7,71.5 C602.9,68.1 603.1,63.1 603.1,54.7 C603.1,46.3 603.7,40.1 605.6,36.2 L604.6,32.8 L607.5,31.2 C608.3,26.7 610.0,23.0 612.9,23.0 Z" fill="#000" filter="url(#tex)" opacity="0.22"/>
</g>
<rect x="624.4" y="19.6" width="20.5" height="57.8" fill="#121417"/>
<g transform="rotate(0.0 634.6 54.7)">
<path d="M634.6,23.0 C637.6,23.0 639.2,26.7 640.1,31.2 L643.0,32.8 L641.9,36.2 C643.8,40.1 644.4,46.3 644.4,54.7 C644.4,63.1 644.6,68.1 643.8,71.5 L644.9,74.3 L641.7,73.8 C639.2,74.9 636.7,75.2 635.6,75.2 L635.3,80.5 L634.0,80.5 L633.7,75.2 C632.6,75.2 630.0,74.9 627.5,73.8 L624.4,74.3 L625.5,71.5 C624.6,68.1 624.8,63.1 624.8,54.7 C624.8,46.3 625.5,40.1 627.3,36.2 L626.3,32.8 L629.2,31.2 C630.0,26.7 631.7,23.0 634.6,23.0 Z" fill="#ffffff"/>
<path d="M634.6,23.0 C637.6,23.0 639.2,26.7 640.1,31.2 L643.0,32.8 L641.9,36.2 C643.8,40.1 644.4,46.3 644.4,54.7 C644.4,63.1 644.6,68.1 643.8,71.5 L644.9,74.3 L641.7,73.8 C639.2,74.9 636.7,75.2 635.6,75.2 L635.3,80.5 L634.0,80.5 L633.7,75.2 C632.6,75.2 630.0,74.9 627.5,73.8 L624.4,74.3 L625.5,71.5 C624.6,68.1 624.8,63.1 624.8,54.7 C624.8,46.3 625.5,40.1 627.3,36.2 L626.3,32.8 L629.2,31.2 C630.0,26.7 631.7,23.0 634.6,23.0 Z" fill="url(#mg)"/>
<path d="M634.6,23.0 C637.6,23.0 639.2,26.7 640.1,31.2 L643.0,32.8 L641.9,36.2 C643.8,40.1 644.4,46.3 644.4,54.7 C644.4,63.1 644.6,68.1 643.8,71.5 L644.9,74.3 L641.7,73.8 C639.2,74.9 636.7,75.2 635.6,75.2 L635.3,80.5 L634.0,80.5 L633.7,75.2 C632.6,75.2 630.0,74.9 627.5,73.8 L624.4,74.3 L625.5,71.5 C624.6,68.1 624.8,63.1 624.8,54.7 C624.8,46.3 625.5,40.1 627.3,36.2 L626.3,32.8 L629.2,31.2 C630.0,26.7 631.7,23.0 634.6,23.0 Z" fill="url(#mh)"/>
<path d="M634.6,23.0 C637.6,23.0 639.2,26.7 640.1,31.2 L643.0,32.8 L641.9,36.2 C643.8,40.1 644.4,46.3 644.4,54.7 C644.4,63.1 644.6,68.1 643.8,71.5 L644.9,74.3 L641.7,73.8 C639.2,74.9 636.7,75.2 635.6,75.2 L635.3,80.5 L634.0,80.5 L633.7,75.2 C632.6,75.2 630.0,74.9 627.5,73.8 L624.4,74.3 L625.5,71.5 C624.6,68.1 624.8,63.1 624.8,54.7 C624.8,46.3 625.5,40.1 627.3,36.2 L626.3,32.8 L629.2,31.2 C630.0,26.7 631.7,23.0 634.6,23.0 Z" fill="#000" filter="url(#tex)" opacity="0.22"/>
</g>
<rect x="559.2" y="78.6" width="20.5" height="59.1" fill="#121417"/>
<g transform="rotate(0.0 569.5 114.5)">
<path d="M569.5,82.1 C572.4,82.1 574.1,85.8 574.9,90.4 L577.8,92.1 L576.8,95.6 C578.6,99.6 579.3,105.9 579.3,114.5 C579.3,123.1 579.5,128.2 578.6,131.7 L579.7,134.5 L576.6,134.0 C574.1,135.1 571.5,135.4 570.4,135.4 L570.1,140.8 L568.8,140.8 L568.5,135.4 C567.4,135.4 564.9,135.1 562.4,134.0 L559.2,134.5 L560.3,131.7 C559.5,128.2 559.7,123.1 559.7,114.5 C559.7,105.9 560.3,99.6 562.2,95.6 L561.1,92.1 L564.0,90.4 C564.9,85.8 566.5,82.1 569.5,82.1 Z" fill="#d8d8d8"/>
<path d="M569.5,82.1 C572.4,82.1 574.1,85.8 574.9,90.4 L577.8,92.1 L576.8,95.6 C578.6,99.6 579.3,105.9 579.3,114.5 C579.3,123.1 579.5,128.2 578.6,131.7 L579.7,134.5 L576.6,134.0 C574.1,135.1 571.5,135.4 570.4,135.4 L570.1,140.8 L568.8,140.8 L568.5,135.4 C567.4,135.4 564.9,135.1 562.4,134.0 L559.2,134.5 L560.3,131.7 C559.5,128.2 559.7,123.1 559.7,114.5 C559.7,105.9 560.3,99.6 562.2,95.6 L561.1,92.1 L564.0,90.4 C564.9,85.8 566.5,82.1 569.5,82.1 Z" fill="url(#mg)"/>
<path d="M569.5,82.1 C572.4,82.1 574.1,85.8 574.9,90.4 L577.8,92.1 L576.8,95.6 C578.6,99.6 579.3,105.9 579.3,114.5 C579.3,123.1 579.5,128.2 578.6,131.7 L579.7,134.5 L576.6,134.0 C574.1,135.1 571.5,135.4 570.4,135.4 L570.1,140.8 L568.8,140.8 L568.5,135.4 C567.4,135.4 564.9,135.1 562.4,134.0 L559.2,134.5 L560.3,131.7 C559.5,128.2 559.7,123.1 559.7,114.5 C559.7,105.9 560.3,99.6 562.2,95.6 L561.1,92.1 L564.0,90.4 C564.9,85.8 566.5,82.1 569.5,82.1 Z" fill="url(#mh)"/>
<path d="M569.5,82.1 C572.4,82.1 574.1,85.8 574.9,90.4 L577.8,92.1 L576.8,95.6 C578.6,99.6 579.3,105.9 579.3,114.5 C579.3,123.1 579.5,128.2 578.6,131.7 L579.7,134.5 L576.6,134.0 C574.1,135.1 571.5,135.4 570.4,135.4 L570.1,140.8 L568.8,140.8 L568.5,135.4 C567.4,135.4 564.9,135.1 562.4,134.0 L559.2,134.5 L560.3,131.7 C559.5,128.2 559.7,123.1 559.7,114.5 C559.7,105.9 560.3,99.6 562.2,95.6 L561.1,92.1 L564.0,90.4 C564.9,85.8 566.5,82.1 569.5,82.1 Z" fill="#000" filter="url(#tex)" opacity="0.22"/>
</g>
<rect x="580.9" y="78.6" width="20.5" height="59.1" fill="#0d1013"/>
<g transform="rotate(0.0 591.2 114.5)">
<path d="M591.2,82.1 C594.1,82.1 595.8,85.8 596.6,90.4 L599.5,92.1 L598.5,95.6 C600.4,99.6 601.0,105.9 601.0,114.5 C601.0,123.1 601.2,128.2 600.4,131.7 L601.4,134.5 L598.3,134.0 C595.8,135.1 593.3,135.4 592.1,135.4 L591.8,140.8 L590.6,140.8 L590.2,135.4 C589.1,135.4 586.6,135.1 584.1,134.0 L581.0,134.5 L582.0,131.7 C581.2,128.2 581.4,123.1 581.4,114.5 C581.4,105.9 582.0,99.6 583.9,95.6 L582.8,92.1 L585.8,90.4 C586.6,85.8 588.3,82.1 591.2,82.1 Z" fill="#e0e0e0"/>
<path d="M591.2,82.1 C594.1,82.1 595.8,85.8 596.6,90.4 L599.5,92.1 L598.5,95.6 C600.4,99.6 601.0,105.9 601.0,114.5 C601.0,123.1 601.2,128.2 600.4,131.7 L601.4,134.5 L598.3,134.0 C595.8,135.1 593.3,135.4 592.1,135.4 L591.8,140.8 L590.6,140.8 L590.2,135.4 C589.1,135.4 586.6,135.1 584.1,134.0 L581.0,134.5 L582.0,131.7 C581.2,128.2 581.4,123.1 581.4,114.5 C581.4,105.9 582.0,99.6 583.9,95.6 L582.8,92.1 L585.8,90.4 C586.6,85.8 588.3,82.1 591.2,82.1 Z" fill="url(#mg)"/>
<path d="M591.2,82.1 C594.1,82.1 595.8,85.8 596.6,90.4 L599.5,92.1 L598.5,95.6 C600.4,99.6 601.0,105.9 601.0,114.5 C601.0,123.1 601.2,128.2 600.4,131.7 L601.4,134.5 L598.3,134.0 C595.8,135.1 593.3,135.4 592.1,135.4 L591.8,140.8 L590.6,140.8 L590.2,135.4 C589.1,135.4 586.6,135.1 584.1,134.0 L581.0,134.5 L582.0,131.7 C581.2,128.2 581.4,123.1 581.4,114.5 C581.4,105.9 582.0,99.6 583.9,95.6 L582.8,92.1 L585.8,90.4 C586.6,85.8 588.3,82.1 591.2,82.1 Z" fill="url(#mh)"/>
<path d="M591.2,82.1 C594.1,82.1 595.8,85.8 596.6,90.4 L599.5,92.1 L598.5,95.6 C600.4,99.6 601.0,105.9 601.0,114.5 C601.0,123.1 601.2,128.2 600.4,131.7 L601.4,134.5 L598.3,134.0 C595.8,135.1 593.3,135.4 592.1,135.4 L591.8,140.8 L590.6,140.8 L590.2,135.4 C589.1,135.4 586.6,135.1 584.1,134.0 L581.0,134.5 L582.0,131.7 C581.2,128.2 581.4,123.1 581.4,114.5 C581.4,105.9 582.0,99.6 583.9,95.6 L582.8,92.1 L585.8,90.4 C586.6,85.8 588.3,82.1 591.2,82.1 Z" fill="#000" filter="url(#tex)" opacity="0.22"/>
</g>
<rect x="602.6" y="78.6" width="20.5" height="59.1" fill="#121417"/>
<g transform="rotate(0.0 612.9 114.5)">
<path d="M612.9,82.1 C615.8,82.1 617.5,85.8 618.3,90.4 L621.3,92.1 L620.2,95.6 C622.1,99.6 622.7,105.9 622.7,114.5 C622.7,123.1 622.9,128.2 622.1,131.7 L623.1,134.5 L620.0,134.0 C617.5,135.1 615.0,135.4 613.9,135.4 L613.5,140.8 L612.3,140.8 L612.0,135.4 C610.8,135.4 608.3,135.1 605.8,134.0 L602.7,134.5 L603.7,131.7 C602.9,128.2 603.1,123.1 603.1,114.5 C603.1,105.9 603.7,99.6 605.6,95.6 L604.6,92.1 L607.5,90.4 C608.3,85.8 610.0,82.1 612.9,82.1 Z" fill="#ffffff"/>
<path d="M612.9,82.1 C615.8,82.1 617.5,85.8 618.3,90.4 L621.3,92.1 L620.2,95.6 C622.1,99.6 622.7,105.9 622.7,114.5 C622.7,123.1 622.9,128.2 622.1,131.7 L623.1,134.5 L620.0,134.0 C617.5,135.1 615.0,135.4 613.9,135.4 L613.5,140.8 L612.3,140.8 L612.0,135.4 C610.8,135.4 608.3,135.1 605.8,134.0 L602.7,134.5 L603.7,131.7 C602.9,128.2 603.1,123.1 603.1,114.5 C603.1,105.9 603.7,99.6 605.6,95.6 L604.6,92.1 L607.5,90.4 C608.3,85.8 610.0,82.1 612.9,82.1 Z" fill="url(#mg)"/>
<path d="M612.9,82.1 C615.8,82.1 617.5,85.8 618.3,90.4 L621.3,92.1 L620.2,95.6 C622.1,99.6 622.7,105.9 622.7,114.5 C622.7,123.1 622.9,128.2 622.1,131.7 L623.1,134.5 L620.0,134.0 C617.5,135.1 615.0,135.4 613.9,135.4 L613.5,140.8 L612.3,140.8 L612.0,135.4 C610.8,135.4 608.3,135.1 605.8,134.0 L602.7,134.5 L603.7,131.7 C602.9,128.2 603.1,123.1 603.1,114.5 C603.1,105.9 603.7,99.6 605.6,95.6 L604.6,92.1 L607.5,90.4 C608.3,85.8 610.0,82.1 612.9,82.1 Z" fill="url(#mh)"/>
<path d="M612.9,82.1 C615.8,82.1 617.5,85.8 618.3,90.4 L621.3,92.1 L620.2,95.6 C622.1,99.6 622.7,105.9 622.7,114.5 C622.7,123.1 622.9,128.2 622.1,131.7 L623.1,134.5 L620.0,134.0 C617.5,135.1 615.0,135.4 613.9,135.4 L613.5,140.8 L612.3,140.8 L612.0,135.4 C610.8,135.4 608.3,135.1 605.8,134.0 L602.7,134.5 L603.7,131.7 C602.9,128.2 603.1,123.1 603.1,114.5 C603.1,105.9 603.7,99.6 605.6,95.6 L604.6,92.1 L607.5,90.4 C608.3,85.8 610.0,82.1 612.9,82.1 Z" fill="#000" filter="url(#tex)" opacity="0.22"/>
</g>
<rect x="624.4" y="78.6" width="20.5" height="59.1" fill="#0d1013"/>
<g transform="rotate(0.0 634.6 114.5)">
<path d="M634.6,82.1 C637.6,82.1 639.2,85.8 640.1,90.4 L643.0,92.1 L641.9,95.6 C643.8,99.6 644.4,105.9 644.4,114.5 C644.4,123.1 644.6,128.2 643.8,131.7 L644.9,134.5 L641.7,134.0 C639.2,135.1 636.7,135.4 635.6,135.4 L635.3,140.8 L634.0,140.8 L633.7,135.4 C632.6,135.4 630.0,135.1 627.5,134.0 L624.4,134.5 L625.5,131.7 C624.6,128.2 624.8,123.1 624.8,114.5 C624.8,105.9 625.5,99.6 627.3,95.6 L626.3,92.1 L629.2,90.4 C630.0,85.8 631.7,82.1 634.6,82.1 Z" fill="#ffffff"/>
<path d="M634.6,82.1 C637.6,82.1 639.2,85.8 640.1,90.4 L643.0,92.1 L641.9,95.6 C643.8,99.6 644.4,105.9 644.4,114.5 C644.4,123.1 644.6,128.2 643.8,131.7 L644.9,134.5 L641.7,134.0 C639.2,135.1 636.7,135.4 635.6,135.4 L635.3,140.8 L634.0,140.8 L633.7,135.4 C632.6,135.4 630.0,135.1 627.5,134.0 L624.4,134.5 L625.5,131.7 C624.6,128.2 624.8,123.1 624.8,114.5 C624.8,105.9 625.5,99.6 627.3,95.6 L626.3,92.1 L629.2,90.4 C630.0,85.8 631.7,82.1 634.6,82.1 Z" fill="url(#mg)"/>
<path d="M634.6,82.1 C637.6,82.1 639.2,85.8 640.1,90.4 L643.0,92.1 L641.9,95.6 C643.8,99.6 644.4,105.9 644.4,114.5 C644.4,123.1 644.6,128.2 643.8,131.7 L644.9,134.5 L641.7,134.0 C639.2,135.1 636.7,135.4 635.6,135.4 L635.3,140.8 L634.0,140.8 L633.7,135.4 C632.6,135.4 630.0,135.1 627.5,134.0 L624.4,134.5 L625.5,131.7 C624.6,128.2 624.8,123.1 624.8,114.5 C624.8,105.9 625.5,99.6 627.3,95.6 L626.3,92.1 L629.2,90.4 C630.0,85.8 631.7,82.1 634.6,82.1 Z" fill="url(#mh)"/>
<path d="M634.6,82.1 C637.6,82.1 639.2,85.8 640.1,90.4 L643.0,92.1 L641.9,95.6 C643.8,99.6 644.4,105.9 644.4,114.5 C644.4,123.1 644.6,128.2 643.8,131.7 L644.9,134.5 L641.7,134.0 C639.2,135.1 636.7,135.4 635.6,135.4 L635.3,140.8 L634.0,140.8 L633.7,135.4 C632.6,135.4 630.0,135.1 627.5,134.0 L624.4,134.5 L625.5,131.7 C624.6,128.2 624.8,123.1 624.8,114.5 C624.8,105.9 625.5,99.6 627.3,95.6 L626.3,92.1 L629.2,90.4 C630.0,85.8 631.7,82.1 634.6,82.1 Z" fill="#000" filter="url(#tex)" opacity="0.22"/>
</g>
<rect x="559.2" y="138.9" width="20.5" height="56.0" fill="#0d1013"/>
<g transform="rotate(0.0 569.5 172.9)">
<path d="M569.5,142.2 C572.4,142.2 574.1,145.7 574.9,150.1 L577.8,151.7 L576.8,155.0 C578.6,158.8 579.3,164.8 579.3,172.9 C579.3,181.1 579.5,185.9 578.6,189.2 L579.7,191.9 L576.6,191.4 C574.1,192.5 571.5,192.7 570.4,192.7 L570.1,197.9 L568.8,197.9 L568.5,192.7 C567.4,192.7 564.9,192.5 562.4,191.4 L559.2,191.9 L560.3,189.2 C559.5,185.9 559.7,181.1 559.7,172.9 C559.7,164.8 560.3,158.8 562.2,155.0 L561.1,151.7 L564.0,150.1 C564.9,145.7 566.5,142.2 569.5,142.2 Z" fill="#d4d4d4"/>
<path d="M569.5,142.2 C572.4,142.2 574.1,145.7 574.9,150.1 L577.8,151.7 L576.8,155.0 C578.6,158.8 579.3,164.8 579.3,172.9 C579.3,181.1 579.5,185.9 578.6,189.2 L579.7,191.9 L576.6,191.4 C574.1,192.5 571.5,192.7 570.4,192.7 L570.1,197.9 L568.8,197.9 L568.5,192.7 C567.4,192.7 564.9,192.5 562.4,191.4 L559.2,191.9 L560.3,189.2 C559.5,185.9 559.7,181.1 559.7,172.9 C559.7,164.8 560.3,158.8 562.2,155.0 L561.1,151.7 L564.0,150.1 C564.9,145.7 566.5,142.2 569.5,142.2 Z" fill="url(#mg)"/>
<path d="M569.5,142.2 C572.4,142.2 574.1,145.7 574.9,150.1 L577.8,151.7 L576.8,155.0 C578.6,158.8 579.3,164.8 579.3,172.9 C579.3,181.1 579.5,185.9 578.6,189.2 L579.7,191.9 L576.6,191.4 C574.1,192.5 571.5,192.7 570.4,192.7 L570.1,197.9 L568.8,197.9 L568.5,192.7 C567.4,192.7 564.9,192.5 562.4,191.4 L559.2,191.9 L560.3,189.2 C559.5,185.9 559.7,181.1 559.7,172.9 C559.7,164.8 560.3,158.8 562.2,155.0 L561.1,151.7 L564.0,150.1 C564.9,145.7 566.5,142.2 569.5,142.2 Z" fill="url(#mh)"/>
<path d="M569.5,142.2 C572.4,142.2 574.1,145.7 574.9,150.1 L577.8,151.7 L576.8,155.0 C578.6,158.8 579.3,164.8 579.3,172.9 C579.3,181.1 579.5,185.9 578.6,189.2 L579.7,191.9 L576.6,191.4 C574.1,192.5 571.5,192.7 570.4,192.7 L570.1,197.9 L568.8,197.9 L568.5,192.7 C567.4,192.7 564.9,192.5 562.4,191.4 L559.2,191.9 L560.3,189.2 C559.5,185.9 559.7,181.1 559.7,172.9 C559.7,164.8 560.3,158.8 562.2,155.0 L561.1,151.7 L564.0,150.1 C564.9,145.7 566.5,142.2 569.5,142.2 Z" fill="#000" filter="url(#tex)" opacity="0.22"/>
</g>
<rect x="580.9" y="138.9" width="20.5" height="56.0" fill="#121417"/>
<g transform="rotate(0.0 591.2 172.9)">
<path d="M591.2,142.2 C594.1,142.2 595.8,145.7 596.6,150.1 L599.5,151.7 L598.5,155.0 C600.4,158.8 601.0,164.8 601.0,172.9 C601.0,181.1 601.2,185.9 600.4,189.2 L601.4,191.9 L598.3,191.4 C595.8,192.5 593.3,192.7 592.1,192.7 L591.8,197.9 L590.6,197.9 L590.2,192.7 C589.1,192.7 586.6,192.5 584.1,191.4 L581.0,191.9 L582.0,189.2 C581.2,185.9 581.4,181.1 581.4,172.9 C581.4,164.8 582.0,158.8 583.9,155.0 L582.8,151.7 L585.8,150.1 C586.6,145.7 588.3,142.2 591.2,142.2 Z" fill="#d4d4d4"/>
<path d="M591.2,142.2 C594.1,142.2 595.8,145.7 596.6,150.1 L599.5,151.7 L598.5,155.0 C600.4,158.8 601.0,164.8 601.0,172.9 C601.0,181.1 601.2,185.9 600.4,189.2 L601.4,191.9 L598.3,191.4 C595.8,192.5 593.3,192.7 592.1,192.7 L591.8,197.9 L590.6,197.9 L590.2,192.7 C589.1,192.7 586.6,192.5 584.1,191.4 L581.0,191.9 L582.0,189.2 C581.2,185.9 581.4,181.1 581.4,172.9 C581.4,164.8 582.0,158.8 583.9,155.0 L582.8,151.7 L585.8,150.1 C586.6,145.7 588.3,142.2 591.2,142.2 Z" fill="url(#mg)"/>
<path d="M591.2,142.2 C594.1,142.2 595.8,145.7 596.6,150.1 L599.5,151.7 L598.5,155.0 C600.4,158.8 601.0,164.8 601.0,172.9 C601.0,181.1 601.2,185.9 600.4,189.2 L601.4,191.9 L598.3,191.4 C595.8,192.5 593.3,192.7 592.1,192.7 L591.8,197.9 L590.6,197.9 L590.2,192.7 C589.1,192.7 586.6,192.5 584.1,191.4 L581.0,191.9 L582.0,189.2 C581.2,185.9 581.4,181.1 581.4,172.9 C581.4,164.8 582.0,158.8 583.9,155.0 L582.8,151.7 L585.8,150.1 C586.6,145.7 588.3,142.2 591.2,142.2 Z" fill="url(#mh)"/>
<path d="M591.2,142.2 C594.1,142.2 595.8,145.7 596.6,150.1 L599.5,151.7 L598.5,155.0 C600.4,158.8 601.0,164.8 601.0,172.9 C601.0,181.1 601.2,185.9 600.4,189.2 L601.4,191.9 L598.3,191.4 C595.8,192.5 593.3,192.7 592.1,192.7 L591.8,197.9 L590.6,197.9 L590.2,192.7 C589.1,192.7 586.6,192.5 584.1,191.4 L581.0,191.9 L582.0,189.2 C581.2,185.9 581.4,181.1 581.4,172.9 C581.4,164.8 582.0,158.8 583.9,155.0 L582.8,151.7 L585.8,150.1 C586.6,145.7 588.3,142.2 591.2,142.2 Z" fill="#000" filter="url(#tex)" opacity="0.22"/>
</g>
<rect x="602.6" y="138.9" width="20.5" height="56.0" fill="#0d1013"/>
<g transform="rotate(0.0 612.9 172.9)">
<path d="M612.9,142.2 C615.8,142.2 617.5,145.7 618.3,150.1 L621.3,151.7 L620.2,155.0 C622.1,158.8 622.7,164.8 622.7,172.9 C622.7,181.1 622.9,185.9 622.1,189.2 L623.1,191.9 L620.0,191.4 C617.5,192.5 615.0,192.7 613.9,192.7 L613.5,197.9 L612.3,197.9 L612.0,192.7 C610.8,192.7 608.3,192.5 605.8,191.4 L602.7,191.9 L603.7,189.2 C602.9,185.9 603.1,181.1 603.1,172.9 C603.1,164.8 603.7,158.8 605.6,155.0 L604.6,151.7 L607.5,150.1 C608.3,145.7 610.0,142.2 612.9,142.2 Z" fill="#d6d6d6"/>
<path d="M612.9,142.2 C615.8,142.2 617.5,145.7 618.3,150.1 L621.3,151.7 L620.2,155.0 C622.1,158.8 622.7,164.8 622.7,172.9 C622.7,181.1 622.9,185.9 622.1,189.2 L623.1,191.9 L620.0,191.4 C617.5,192.5 615.0,192.7 613.9,192.7 L613.5,197.9 L612.3,197.9 L612.0,192.7 C610.8,192.7 608.3,192.5 605.8,191.4 L602.7,191.9 L603.7,189.2 C602.9,185.9 603.1,181.1 603.1,172.9 C603.1,164.8 603.7,158.8 605.6,155.0 L604.6,151.7 L607.5,150.1 C608.3,145.7 610.0,142.2 612.9,142.2 Z" fill="url(#mg)"/>
<path d="M612.9,142.2 C615.8,142.2 617.5,145.7 618.3,150.1 L621.3,151.7 L620.2,155.0 C622.1,158.8 622.7,164.8 622.7,172.9 C622.7,181.1 622.9,185.9 622.1,189.2 L623.1,191.9 L620.0,191.4 C617.5,192.5 615.0,192.7 613.9,192.7 L613.5,197.9 L612.3,197.9 L612.0,192.7 C610.8,192.7 608.3,192.5 605.8,191.4 L602.7,191.9 L603.7,189.2 C602.9,185.9 603.1,181.1 603.1,172.9 C603.1,164.8 603.7,158.8 605.6,155.0 L604.6,151.7 L607.5,150.1 C608.3,145.7 610.0,142.2 612.9,142.2 Z" fill="url(#mh)"/>
<path d="M612.9,142.2 C615.8,142.2 617.5,145.7 618.3,150.1 L621.3,151.7 L620.2,155.0 C622.1,158.8 622.7,164.8 622.7,172.9 C622.7,181.1 622.9,185.9 622.1,189.2 L623.1,191.9 L620.0,191.4 C617.5,192.5 615.0,192.7 613.9,192.7 L613.5,197.9 L612.3,197.9 L612.0,192.7 C610.8,192.7 608.3,192.5 605.8,191.4 L602.7,191.9 L603.7,189.2 C602.9,185.9 603.1,181.1 603.1,172.9 C603.1,164.8 603.7,158.8 605.6,155.0 L604.6,151.7 L607.5,150.1 C608.3,145.7 610.0,142.2 612.9,142.2 Z" fill="#000" filter="url(#tex)" opacity="0.22"/>
</g>
<rect x="624.4" y="138.9" width="20.5" height="56.0" fill="#121417"/>
<g transform="rotate(0.0 634.6 172.9)">
<path d="M634.6,142.2 C637.6,142.2 639.2,145.7 640.1,150.1 L643.0,151.7 L641.9,155.0 C643.8,158.8 644.4,164.8 644.4,172.9 C644.4,181.1 644.6,185.9 643.8,189.2 L644.9,191.9 L641.7,191.4 C639.2,192.5 636.7,192.7 635.6,192.7 L635.3,197.9 L634.0,197.9 L633.7,192.7 C632.6,192.7 630.0,192.5 627.5,191.4 L624.4,191.9 L625.5,189.2 C624.6,185.9 624.8,181.1 624.8,172.9 C624.8,164.8 625.5,158.8 627.3,155.0 L626.3,151.7 L629.2,150.1 C630.0,145.7 631.7,142.2 634.6,142.2 Z" fill="#dcdcdc"/>
<path d="M634.6,142.2 C637.6,142.2 639.2,145.7 640.1,150.1 L643.0,151.7 L641.9,155.0 C643.8,158.8 644.4,164.8 644.4,172.9 C644.4,181.1 644.6,185.9 643.8,189.2 L644.9,191.9 L641.7,191.4 C639.2,192.5 636.7,192.7 635.6,192.7 L635.3,197.9 L634.0,197.9 L633.7,192.7 C632.6,192.7 630.0,192.5 627.5,191.4 L624.4,191.9 L625.5,189.2 C624.6,185.9 624.8,181.1 624.8,172.9 C624.8,164.8 625.5,158.8 627.3,155.0 L626.3,151.7 L629.2,150.1 C630.0,145.7 631.7,142.2 634.6,142.2 Z" fill="url(#mg)"/>
<path d="M634.6,142.2 C637.6,142.2 639.2,145.7 640.1,150.1 L643.0,151.7 L641.9,155.0 C643.8,158.8 644.4,164.8 644.4,172.9 C644.4,181.1 644.6,185.9 643.8,189.2 L644.9,191.9 L641.7,191.4 C639.2,192.5 636.7,192.7 635.6,192.7 L635.3,197.9 L634.0,197.9 L633.7,192.7 C632.6,192.7 630.0,192.5 627.5,191.4 L624.4,191.9 L625.5,189.2 C624.6,185.9 624.8,181.1 624.8,172.9 C624.8,164.8 625.5,158.8 627.3,155.0 L626.3,151.7 L629.2,150.1 C630.0,145.7 631.7,142.2 634.6,142.2 Z" fill="url(#mh)"/>
<path d="M634.6,142.2 C637.6,142.2 639.2,145.7 640.1,150.1 L643.0,151.7 L641.9,155.0 C643.8,158.8 644.4,164.8 644.4,172.9 C644.4,181.1 644.6,185.9 643.8,189.2 L644.9,191.9 L641.7,191.4 C639.2,192.5 636.7,192.7 635.6,192.7 L635.3,197.9 L634.0,197.9 L633.7,192.7 C632.6,192.7 630.0,192.5 627.5,191.4 L624.4,191.9 L625.5,189.2 C624.6,185.9 624.8,181.1 624.8,172.9 C624.8,164.8 625.5,158.8 627.3,155.0 L626.3,151.7 L629.2,150.1 C630.0,145.7 631.7,142.2 634.6,142.2 Z" fill="#000" filter="url(#tex)" opacity="0.22"/>
</g>
<rect x="559.2" y="196.1" width="20.5" height="58.3" fill="#121417"/>
<g transform="rotate(0.0 569.5 231.5)">
<path d="M569.5,199.6 C572.4,199.6 574.1,203.2 574.9,207.8 L577.8,209.5 L576.8,212.8 C578.6,216.8 579.3,223.0 579.3,231.5 C579.3,240.0 579.5,245.1 578.6,248.5 L579.7,251.3 L576.6,250.7 C574.1,251.8 571.5,252.1 570.4,252.1 L570.1,257.5 L568.8,257.5 L568.5,252.1 C567.4,252.1 564.9,251.8 562.4,250.7 L559.2,251.3 L560.3,248.5 C559.5,245.1 559.7,240.0 559.7,231.5 C559.7,223.0 560.3,216.8 562.2,212.8 L561.1,209.5 L564.0,207.8 C564.9,203.2 566.5,199.6 569.5,199.6 Z" fill="#d8d8d8"/>
<path d="M569.5,199.6 C572.4,199.6 574.1,203.2 574.9,207.8 L577.8,209.5 L576.8,212.8 C578.6,216.8 579.3,223.0 579.3,231.5 C579.3,240.0 579.5,245.1 578.6,248.5 L579.7,251.3 L576.6,250.7 C574.1,251.8 571.5,252.1 570.4,252.1 L570.1,257.5 L568.8,257.5 L568.5,252.1 C567.4,252.1 564.9,251.8 562.4,250.7 L559.2,251.3 L560.3,248.5 C559.5,245.1 559.7,240.0 559.7,231.5 C559.7,223.0 560.3,216.8 562.2,212.8 L561.1,209.5 L564.0,207.8 C564.9,203.2 566.5,199.6 569.5,199.6 Z" fill="url(#mg)"/>
<path d="M569.5,199.6 C572.4,199.6 574.1,203.2 574.9,207.8 L577.8,209.5 L576.8,212.8 C578.6,216.8 579.3,223.0 579.3,231.5 C579.3,240.0 579.5,245.1 578.6,248.5 L579.7,251.3 L576.6,250.7 C574.1,251.8 571.5,252.1 570.4,252.1 L570.1,257.5 L568.8,257.5 L568.5,252.1 C567.4,252.1 564.9,251.8 562.4,250.7 L559.2,251.3 L560.3,248.5 C559.5,245.1 559.7,240.0 559.7,231.5 C559.7,223.0 560.3,216.8 562.2,212.8 L561.1,209.5 L564.0,207.8 C564.9,203.2 566.5,199.6 569.5,199.6 Z" fill="url(#mh)"/>
<path d="M569.5,199.6 C572.4,199.6 574.1,203.2 574.9,207.8 L577.8,209.5 L576.8,212.8 C578.6,216.8 579.3,223.0 579.3,231.5 C579.3,240.0 579.5,245.1 578.6,248.5 L579.7,251.3 L576.6,250.7 C574.1,251.8 571.5,252.1 570.4,252.1 L570.1,257.5 L568.8,257.5 L568.5,252.1 C567.4,252.1 564.9,251.8 562.4,250.7 L559.2,251.3 L560.3,248.5 C559.5,245.1 559.7,240.0 559.7,231.5 C559.7,223.0 560.3,216.8 562.2,212.8 L561.1,209.5 L564.0,207.8 C564.9,203.2 566.5,199.6 569.5,199.6 Z" fill="#000" filter="url(#tex)" opacity="0.22"/>
</g>
<rect x="580.9" y="196.1" width="20.5" height="58.3" fill="#0d1013"/>
<g transform="rotate(0.0 591.2 231.5)">
<path d="M591.2,199.6 C594.1,199.6 595.8,203.2 596.6,207.8 L599.5,209.5 L598.5,212.8 C600.4,216.8 601.0,223.0 601.0,231.5 C601.0,240.0 601.2,245.1 600.4,248.5 L601.4,251.3 L598.3,250.7 C595.8,251.8 593.3,252.1 592.1,252.1 L591.8,257.5 L590.6,257.5 L590.2,252.1 C589.1,252.1 586.6,251.8 584.1,250.7 L581.0,251.3 L582.0,248.5 C581.2,245.1 581.4,240.0 581.4,231.5 C581.4,223.0 582.0,216.8 583.9,212.8 L582.8,209.5 L585.8,207.8 C586.6,203.2 588.3,199.6 591.2,199.6 Z" fill="#d8d8d8"/>
<path d="M591.2,199.6 C594.1,199.6 595.8,203.2 596.6,207.8 L599.5,209.5 L598.5,212.8 C600.4,216.8 601.0,223.0 601.0,231.5 C601.0,240.0 601.2,245.1 600.4,248.5 L601.4,251.3 L598.3,250.7 C595.8,251.8 593.3,252.1 592.1,252.1 L591.8,257.5 L590.6,257.5 L590.2,252.1 C589.1,252.1 586.6,251.8 584.1,250.7 L581.0,251.3 L582.0,248.5 C581.2,245.1 581.4,240.0 581.4,231.5 C581.4,223.0 582.0,216.8 583.9,212.8 L582.8,209.5 L585.8,207.8 C586.6,203.2 588.3,199.6 591.2,199.6 Z" fill="url(#mg)"/>
<path d="M591.2,199.6 C594.1,199.6 595.8,203.2 596.6,207.8 L599.5,209.5 L598.5,212.8 C600.4,216.8 601.0,223.0 601.0,231.5 C601.0,240.0 601.2,245.1 600.4,248.5 L601.4,251.3 L598.3,250.7 C595.8,251.8 593.3,252.1 592.1,252.1 L591.8,257.5 L590.6,257.5 L590.2,252.1 C589.1,252.1 586.6,251.8 584.1,250.7 L581.0,251.3 L582.0,248.5 C581.2,245.1 581.4,240.0 581.4,231.5 C581.4,223.0 582.0,216.8 583.9,212.8 L582.8,209.5 L585.8,207.8 C586.6,203.2 588.3,199.6 591.2,199.6 Z" fill="url(#mh)"/>
<path d="M591.2,199.6 C594.1,199.6 595.8,203.2 596.6,207.8 L599.5,209.5 L598.5,212.8 C600.4,216.8 601.0,223.0 601.0,231.5 C601.0,240.0 601.2,245.1 600.4,248.5 L601.4,251.3 L598.3,250.7 C595.8,251.8 593.3,252.1 592.1,252.1 L591.8,257.5 L590.6,257.5 L590.2,252.1 C589.1,252.1 586.6,251.8 584.1,250.7 L581.0,251.3 L582.0,248.5 C581.2,245.1 581.4,240.0 581.4,231.5 C581.4,223.0 582.0,216.8 583.9,212.8 L582.8,209.5 L585.8,207.8 C586.6,203.2 588.3,199.6 591.2,199.6 Z" fill="#000" filter="url(#tex)" opacity="0.22"/>
</g>
<rect x="602.6" y="196.1" width="20.5" height="58.3" fill="#121417"/>
<g transform="rotate(0.0 612.9 231.5)">
<path d="M612.9,199.6 C615.8,199.6 617.5,203.2 618.3,207.8 L621.3,209.5 L620.2,212.8 C622.1,216.8 622.7,223.0 622.7,231.5 C622.7,240.0 622.9,245.1 622.1,248.5 L623.1,251.3 L620.0,250.7 C617.5,251.8 615.0,252.1 613.9,252.1 L613.5,257.5 L612.3,257.5 L612.0,252.1 C610.8,252.1 608.3,251.8 605.8,250.7 L602.7,251.3 L603.7,248.5 C602.9,245.1 603.1,240.0 603.1,231.5 C603.1,223.0 603.7,216.8 605.6,212.8 L604.6,209.5 L607.5,207.8 C608.3,203.2 610.0,199.6 612.9,199.6 Z" fill="#d8d8d8"/>
<path d="M612.9,199.6 C615.8,199.6 617.5,203.2 618.3,207.8 L621.3,209.5 L620.2,212.8 C622.1,216.8 622.7,223.0 622.7,231.5 C622.7,240.0 622.9,245.1 622.1,248.5 L623.1,251.3 L620.0,250.7 C617.5,251.8 615.0,252.1 613.9,252.1 L613.5,257.5 L612.3,257.5 L612.0,252.1 C610.8,252.1 608.3,251.8 605.8,250.7 L602.7,251.3 L603.7,248.5 C602.9,245.1 603.1,240.0 603.1,231.5 C603.1,223.0 603.7,216.8 605.6,212.8 L604.6,209.5 L607.5,207.8 C608.3,203.2 610.0,199.6 612.9,199.6 Z" fill="url(#mg)"/>
<path d="M612.9,199.6 C615.8,199.6 617.5,203.2 618.3,207.8 L621.3,209.5 L620.2,212.8 C622.1,216.8 622.7,223.0 622.7,231.5 C622.7,240.0 622.9,245.1 622.1,248.5 L623.1,251.3 L620.0,250.7 C617.5,251.8 615.0,252.1 613.9,252.1 L613.5,257.5 L612.3,257.5 L612.0,252.1 C610.8,252.1 608.3,251.8 605.8,250.7 L602.7,251.3 L603.7,248.5 C602.9,245.1 603.1,240.0 603.1,231.5 C603.1,223.0 603.7,216.8 605.6,212.8 L604.6,209.5 L607.5,207.8 C608.3,203.2 610.0,199.6 612.9,199.6 Z" fill="url(#mh)"/>
<path d="M612.9,199.6 C615.8,199.6 617.5,203.2 618.3,207.8 L621.3,209.5 L620.2,212.8 C622.1,216.8 622.7,223.0 622.7,231.5 C622.7,240.0 622.9,245.1 622.1,248.5 L623.1,251.3 L620.0,250.7 C617.5,251.8 615.0,252.1 613.9,252.1 L613.5,257.5 L612.3,257.5 L612.0,252.1 C610.8,252.1 608.3,251.8 605.8,250.7 L602.7,251.3 L603.7,248.5 C602.9,245.1 603.1,240.0 603.1,231.5 C603.1,223.0 603.7,216.8 605.6,212.8 L604.6,209.5 L607.5,207.8 C608.3,203.2 610.0,199.6 612.9,199.6 Z" fill="#000" filter="url(#tex)" opacity="0.22"/>
</g>
<rect x="624.4" y="196.1" width="20.5" height="58.3" fill="#0d1013"/>
<g transform="rotate(0.0 634.6 231.5)">
<path d="M634.6,199.6 C637.6,199.6 639.2,203.2 640.1,207.8 L643.0,209.5 L641.9,212.8 C643.8,216.8 644.4,223.0 644.4,231.5 C644.4,240.0 644.6,245.1 643.8,248.5 L644.9,251.3 L641.7,250.7 C639.2,251.8 636.7,252.1 635.6,252.1 L635.3,257.5 L634.0,257.5 L633.7,252.1 C632.6,252.1 630.0,251.8 627.5,250.7 L624.4,251.3 L625.5,248.5 C624.6,245.1 624.8,240.0 624.8,231.5 C624.8,223.0 625.5,216.8 627.3,212.8 L626.3,209.5 L629.2,207.8 C630.0,203.2 631.7,199.6 634.6,199.6 Z" fill="#dcdcdc"/>
<path d="M634.6,199.6 C637.6,199.6 639.2,203.2 640.1,207.8 L643.0,209.5 L641.9,212.8 C643.8,216.8 644.4,223.0 644.4,231.5 C644.4,240.0 644.6,245.1 643.8,248.5 L644.9,251.3 L641.7,250.7 C639.2,251.8 636.7,252.1 635.6,252.1 L635.3,257.5 L634.0,257.5 L633.7,252.1 C632.6,252.1 630.0,251.8 627.5,250.7 L624.4,251.3 L625.5,248.5 C624.6,245.1 624.8,240.0 624.8,231.5 C624.8,223.0 625.5,216.8 627.3,212.8 L626.3,209.5 L629.2,207.8 C630.0,203.2 631.7,199.6 634.6,199.6 Z" fill="url(#mg)"/>
<path d="M634.6,199.6 C637.6,199.6 639.2,203.2 640.1,207.8 L643.0,209.5 L641.9,212.8 C643.8,216.8 644.4,223.0 644.4,231.5 C644.4,240.0 644.6,245.1 643.8,248.5 L644.9,251.3 L641.7,250.7 C639.2,251.8 636.7,252.1 635.6,252.1 L635.3,257.5 L634.0,257.5 L633.7,252.1 C632.6,252.1 630.0,251.8 627.5,250.7 L624.4,251.3 L625.5,248.5 C624.6,245.1 624.8,240.0 624.8,231.5 C624.8,223.0 625.5,216.8 627.3,212.8 L626.3,209.5 L629.2,207.8 C630.0,203.2 631.7,199.6 634.6,199.6 Z" fill="url(#mh)"/>
<path d="M634.6,199.6 C637.6,199.6 639.2,203.2 640.1,207.8 L643.0,209.5 L641.9,212.8 C643.8,216.8 644.4,223.0 644.4,231.5 C644.4,240.0 644.6,245.1 643.8,248.5 L644.9,251.3 L641.7,250.7 C639.2,251.8 636.7,252.1 635.6,252.1 L635.3,257.5 L634.0,257.5 L633.7,252.1 C632.6,252.1 630.0,251.8 627.5,250.7 L624.4,251.3 L625.5,248.5 C624.6,245.1 624.8,240.0 624.8,231.5 C624.8,223.0 625.5,216.8 627.3,212.8 L626.3,209.5 L629.2,207.8 C630.0,203.2 631.7,199.6 634.6,199.6 Z" fill="#000" filter="url(#tex)" opacity="0.22"/>
</g>
<rect x="559.2" y="255.6" width="20.5" height="62.4" fill="#0d1013"/>
<g transform="rotate(0.0 569.5 293.5)">
<path d="M569.5,259.3 C572.4,259.3 574.1,263.3 574.9,268.1 L577.8,269.9 L576.8,273.5 C578.6,277.8 579.3,284.4 579.3,293.5 C579.3,302.5 579.5,308.0 578.6,311.6 L579.7,314.6 L576.6,314.0 C574.1,315.2 571.5,315.5 570.4,315.5 L570.1,321.3 L568.8,321.3 L568.5,315.5 C567.4,315.5 564.9,315.2 562.4,314.0 L559.2,314.6 L560.3,311.6 C559.5,308.0 559.7,302.5 559.7,293.5 C559.7,284.4 560.3,277.8 562.2,273.5 L561.1,269.9 L564.0,268.1 C564.9,263.3 566.5,259.3 569.5,259.3 Z" fill="#d8d8d8"/>
<path d="M569.5,259.3 C572.4,259.3 574.1,263.3 574.9,268.1 L577.8,269.9 L576.8,273.5 C578.6,277.8 579.3,284.4 579.3,293.5 C579.3,302.5 579.5,308.0 578.6,311.6 L579.7,314.6 L576.6,314.0 C574.1,315.2 571.5,315.5 570.4,315.5 L570.1,321.3 L568.8,321.3 L568.5,315.5 C567.4,315.5 564.9,315.2 562.4,314.0 L559.2,314.6 L560.3,311.6 C559.5,308.0 559.7,302.5 559.7,293.5 C559.7,284.4 560.3,277.8 562.2,273.5 L561.1,269.9 L564.0,268.1 C564.9,263.3 566.5,259.3 569.5,259.3 Z" fill="url(#mg)"/>
<path d="M569.5,259.3 C572.4,259.3 574.1,263.3 574.9,268.1 L577.8,269.9 L576.8,273.5 C578.6,277.8 579.3,284.4 579.3,293.5 C579.3,302.5 579.5,308.0 578.6,311.6 L579.7,314.6 L576.6,314.0 C574.1,315.2 571.5,315.5 570.4,315.5 L570.1,321.3 L568.8,321.3 L568.5,315.5 C567.4,315.5 564.9,315.2 562.4,314.0 L559.2,314.6 L560.3,311.6 C559.5,308.0 559.7,302.5 559.7,293.5 C559.7,284.4 560.3,277.8 562.2,273.5 L561.1,269.9 L564.0,268.1 C564.9,263.3 566.5,259.3 569.5,259.3 Z" fill="url(#mh)"/>
<path d="M569.5,259.3 C572.4,259.3 574.1,263.3 574.9,268.1 L577.8,269.9 L576.8,273.5 C578.6,277.8 579.3,284.4 579.3,293.5 C579.3,302.5 579.5,308.0 578.6,311.6 L579.7,314.6 L576.6,314.0 C574.1,315.2 571.5,315.5 570.4,315.5 L570.1,321.3 L568.8,321.3 L568.5,315.5 C567.4,315.5 564.9,315.2 562.4,314.0 L559.2,314.6 L560.3,311.6 C559.5,308.0 559.7,302.5 559.7,293.5 C559.7,284.4 560.3,277.8 562.2,273.5 L561.1,269.9 L564.0,268.1 C564.9,263.3 566.5,259.3 569.5,259.3 Z" fill="#000" filter="url(#tex)" opacity="0.22"/>
</g>
<rect x="580.9" y="255.6" width="20.5" height="62.4" fill="#121417"/>
<rect x="580.3" y="255.0" width="21.7" height="63.6" fill="#0d1013"/>
<rect x="602.6" y="255.6" width="20.5" height="62.4" fill="#0d1013"/>
<g transform="rotate(0.0 612.9 293.5)">
<path d="M612.9,259.3 C615.8,259.3 617.5,263.3 618.3,268.1 L621.3,269.9 L620.2,273.5 C622.1,277.8 622.7,284.4 622.7,293.5 C622.7,302.5 622.9,308.0 622.1,311.6 L623.1,314.6 L620.0,314.0 C617.5,315.2 615.0,315.5 613.9,315.5 L613.5,321.3 L612.3,321.3 L612.0,315.5 C610.8,315.5 608.3,315.2 605.8,314.0 L602.7,314.6 L603.7,311.6 C602.9,308.0 603.1,302.5 603.1,293.5 C603.1,284.4 603.7,277.8 605.6,273.5 L604.6,269.9 L607.5,268.1 C608.3,263.3 610.0,259.3 612.9,259.3 Z" fill="#d8d8d8"/>
<path d="M612.9,259.3 C615.8,259.3 617.5,263.3 618.3,268.1 L621.3,269.9 L620.2,273.5 C622.1,277.8 622.7,284.4 622.7,293.5 C622.7,302.5 622.9,308.0 622.1,311.6 L623.1,314.6 L620.0,314.0 C617.5,315.2 615.0,315.5 613.9,315.5 L613.5,321.3 L612.3,321.3 L612.0,315.5 C610.8,315.5 608.3,315.2 605.8,314.0 L602.7,314.6 L603.7,311.6 C602.9,308.0 603.1,302.5 603.1,293.5 C603.1,284.4 603.7,277.8 605.6,273.5 L604.6,269.9 L607.5,268.1 C608.3,263.3 610.0,259.3 612.9,259.3 Z" fill="url(#mg)"/>
<path d="M612.9,259.3 C615.8,259.3 617.5,263.3 618.3,268.1 L621.3,269.9 L620.2,273.5 C622.1,277.8 622.7,284.4 622.7,293.5 C622.7,302.5 622.9,308.0 622.1,311.6 L623.1,314.6 L620.0,314.0 C617.5,315.2 615.0,315.5 613.9,315.5 L613.5,321.3 L612.3,321.3 L612.0,315.5 C610.8,315.5 608.3,315.2 605.8,314.0 L602.7,314.6 L603.7,311.6 C602.9,308.0 603.1,302.5 603.1,293.5 C603.1,284.4 603.7,277.8 605.6,273.5 L604.6,269.9 L607.5,268.1 C608.3,263.3 610.0,259.3 612.9,259.3 Z" fill="url(#mh)"/>
<path d="M612.9,259.3 C615.8,259.3 617.5,263.3 618.3,268.1 L621.3,269.9 L620.2,273.5 C622.1,277.8 622.7,284.4 622.7,293.5 C622.7,302.5 622.9,308.0 622.1,311.6 L623.1,314.6 L620.0,314.0 C617.5,315.2 615.0,315.5 613.9,315.5 L613.5,321.3 L612.3,321.3 L612.0,315.5 C610.8,315.5 608.3,315.2 605.8,314.0 L602.7,314.6 L603.7,311.6 C602.9,308.0 603.1,302.5 603.1,293.5 C603.1,284.4 603.7,277.8 605.6,273.5 L604.6,269.9 L607.5,268.1 C608.3,263.3 610.0,259.3 612.9,259.3 Z" fill="#000" filter="url(#tex)" opacity="0.22"/>
</g>
<rect x="624.4" y="255.6" width="20.5" height="62.4" fill="#121417"/>
<g transform="rotate(0.0 634.6 293.5)">
<path d="M634.6,259.3 C637.6,259.3 639.2,263.3 640.1,268.1 L643.0,269.9 L641.9,273.5 C643.8,277.8 644.4,284.4 644.4,293.5 C644.4,302.5 644.6,308.0 643.8,311.6 L644.9,314.6 L641.7,314.0 C639.2,315.2 636.7,315.5 635.6,315.5 L635.3,321.3 L634.0,321.3 L633.7,315.5 C632.6,315.5 630.0,315.2 627.5,314.0 L624.4,314.6 L625.5,311.6 C624.6,308.0 624.8,302.5 624.8,293.5 C624.8,284.4 625.5,277.8 627.3,273.5 L626.3,269.9 L629.2,268.1 C630.0,263.3 631.7,259.3 634.6,259.3 Z" fill="#d8d8d8"/>
<path d="M634.6,259.3 C637.6,259.3 639.2,263.3 640.1,268.1 L643.0,269.9 L641.9,273.5 C643.8,277.8 644.4,284.4 644.4,293.5 C644.4,302.5 644.6,308.0 643.8,311.6 L644.9,314.6 L641.7,314.0 C639.2,315.2 636.7,315.5 635.6,315.5 L635.3,321.3 L634.0,321.3 L633.7,315.5 C632.6,315.5 630.0,315.2 627.5,314.0 L624.4,314.6 L625.5,311.6 C624.6,308.0 624.8,302.5 624.8,293.5 C624.8,284.4 625.5,277.8 627.3,273.5 L626.3,269.9 L629.2,268.1 C630.0,263.3 631.7,259.3 634.6,259.3 Z" fill="url(#mg)"/>
<path d="M634.6,259.3 C637.6,259.3 639.2,263.3 640.1,268.1 L643.0,269.9 L641.9,273.5 C643.8,277.8 644.4,284.4 644.4,293.5 C644.4,302.5 644.6,308.0 643.8,311.6 L644.9,314.6 L641.7,314.0 C639.2,315.2 636.7,315.5 635.6,315.5 L635.3,321.3 L634.0,321.3 L633.7,315.5 C632.6,315.5 630.0,315.2 627.5,314.0 L624.4,314.6 L625.5,311.6 C624.6,308.0 624.8,302.5 624.8,293.5 C624.8,284.4 625.5,277.8 627.3,273.5 L626.3,269.9 L629.2,268.1 C630.0,263.3 631.7,259.3 634.6,259.3 Z" fill="url(#mh)"/>
<path d="M634.6,259.3 C637.6,259.3 639.2,263.3 640.1,268.1 L643.0,269.9 L641.9,273.5 C643.8,277.8 644.4,284.4 644.4,293.5 C644.4,302.5 644.6,308.0 643.8,311.6 L644.9,314.6 L641.7,314.0 C639.2,315.2 636.7,315.5 635.6,315.5 L635.3,321.3 L634.0,321.3 L633.7,315.5 C632.6,315.5 630.0,315.2 627.5,314.0 L624.4,314.6 L625.5,311.6 C624.6,308.0 624.8,302.5 624.8,293.5 C624.8,284.4 625.5,277.8 627.3,273.5 L626.3,269.9 L629.2,268.1 C630.0,263.3 631.7,259.3 634.6,259.3 Z" fill="#000" filter="url(#tex)" opacity="0.22"/>
</g>
<ellipse cx="574.0" cy="61.7" rx="3.5" ry="3.0" fill="url(#hc)"/>
<ellipse cx="582.0" cy="64.5" rx="1.8" ry="1.8" fill="url(#hb)"/>
<ellipse cx="608.0" cy="33.5" rx="3.0" ry="2.5" fill="url(#hb)"/>
<ellipse cx="617.5" cy="34.0" rx="2.5" ry="2.5" fill="url(#hb)"/>
<ellipse cx="614.0" cy="38.5" rx="1.5" ry="1.5" fill="url(#hb)"/>
<ellipse cx="603.5" cy="62.0" rx="2.2" ry="2.5" fill="url(#hb)"/>
<ellipse cx="631.5" cy="46.0" rx="7.0" ry="7.0" fill="url(#hr)"/>
<ellipse cx="640.5" cy="38.0" rx="3.5" ry="4.0" fill="url(#hy)"/>
<ellipse cx="637.5" cy="49.0" rx="3.0" ry="3.0" fill="url(#hr)"/>
<ellipse cx="625.0" cy="63.0" rx="3.5" ry="3.5" fill="url(#hb)"/>
<ellipse cx="636.0" cy="72.0" rx="4.0" ry="4.0" fill="url(#hr)"/>
<ellipse cx="561.5" cy="122.0" rx="3.5" ry="3.5" fill="url(#hr)"/>
<ellipse cx="589.0" cy="102.0" rx="1.6" ry="1.6" fill="url(#hb)"/>
<ellipse cx="614.0" cy="104.0" rx="5.0" ry="5.0" fill="url(#hr)"/>
<ellipse cx="605.0" cy="103.5" rx="2.5" ry="2.5" fill="url(#hb)"/>
<ellipse cx="621.5" cy="126.5" rx="6.0" ry="5.5" fill="url(#hr)"/>
<ellipse cx="603.5" cy="125.0" rx="2.2" ry="2.5" fill="url(#hb)"/>
<ellipse cx="626.0" cy="124.0" rx="4.0" ry="4.0" fill="url(#hr)"/>
<ellipse cx="639.0" cy="124.5" rx="3.5" ry="3.5" fill="url(#hy)"/>
<ellipse cx="568.0" cy="157.0" rx="8.0" ry="6.0" fill="url(#hb)"/>
<ellipse cx="562.0" cy="154.0" rx="3.0" ry="3.0" fill="url(#hy)"/>
<ellipse cx="567.5" cy="158.0" rx="3.0" ry="3.0" fill="url(#hy)"/>
<ellipse cx="572.0" cy="162.0" rx="2.5" ry="2.5" fill="url(#hy)"/>
<ellipse cx="568.0" cy="186.0" rx="11.0" ry="7.0" fill="url(#hb)"/>
<ellipse cx="562.0" cy="184.0" rx="5.6" ry="6.2" fill="url(#hR)"/>
<ellipse cx="573.5" cy="187.0" rx="5.0" ry="5.0" fill="url(#hR)"/>
<ellipse cx="589.0" cy="161.0" rx="9.0" ry="6.0" fill="url(#hb)"/>
<ellipse cx="592.0" cy="163.5" rx="3.0" ry="3.0" fill="url(#hy)"/>
<ellipse cx="588.0" cy="158.0" rx="2.5" ry="2.5" fill="url(#hy)"/>
<ellipse cx="584.0" cy="185.0" rx="6.0" ry="7.0" fill="url(#hy)"/>
<ellipse cx="598.0" cy="185.0" rx="3.5" ry="3.5" fill="url(#hc)"/>
<ellipse cx="606.5" cy="163.0" rx="3.5" ry="6.0" fill="url(#hy)"/>
<ellipse cx="606.5" cy="161.0" rx="2.0" ry="2.0" fill="url(#hr)"/>
<ellipse cx="618.0" cy="165.0" rx="3.0" ry="3.0" fill="url(#hy)"/>
<ellipse cx="613.0" cy="185.0" rx="10.0" ry="5.0" fill="url(#hb)"/>
<ellipse cx="621.0" cy="183.0" rx="5.6" ry="5.6" fill="url(#hR)"/>
<ellipse cx="629.5" cy="185.0" rx="6.5" ry="6.5" fill="url(#hr)"/>
<ellipse cx="644.0" cy="182.0" rx="2.0" ry="2.5" fill="url(#hb)"/>
<ellipse cx="564.0" cy="210.0" rx="5.0" ry="5.0" fill="url(#hy)"/>
<ellipse cx="567.0" cy="219.0" rx="2.0" ry="2.0" fill="url(#hb)"/>
<ellipse cx="569.0" cy="245.0" rx="11.0" ry="8.0" fill="url(#hy)"/>
<ellipse cx="560.0" cy="241.0" rx="2.5" ry="2.5" fill="url(#hr)"/>
<ellipse cx="577.0" cy="242.0" rx="2.5" ry="2.5" fill="url(#hr)"/>
<ellipse cx="564.0" cy="250.0" rx="2.5" ry="2.5" fill="url(#hr)"/>
<ellipse cx="589.0" cy="214.0" rx="9.0" ry="7.0" fill="url(#hb)"/>
<ellipse cx="587.5" cy="212.0" rx="3.0" ry="3.0" fill="url(#hr)"/>
<ellipse cx="588.0" cy="219.0" rx="3.0" ry="3.0" fill="url(#hr)"/>
<ellipse cx="596.0" cy="219.0" rx="3.0" ry="3.0" fill="url(#hy)"/>
<ellipse cx="591.0" cy="242.0" rx="11.0" ry="6.0" fill="url(#hc)"/>
<ellipse cx="599.0" cy="241.0" rx="2.0" ry="2.0" fill="url(#hy)"/>
<ellipse cx="607.0" cy="218.0" rx="4.5" ry="6.0" fill="url(#hy)"/>
<ellipse cx="607.0" cy="219.0" rx="2.0" ry="2.0" fill="url(#hr)"/>
<ellipse cx="617.0" cy="220.0" rx="2.5" ry="3.0" fill="url(#hy)"/>
<ellipse cx="613.0" cy="244.0" rx="10.0" ry="5.0" fill="url(#hb)"/>
<ellipse cx="621.0" cy="240.0" rx="6.9" ry="6.9" fill="url(#hR)"/>
<ellipse cx="633.0" cy="222.0" rx="6.5" ry="6.5" fill="url(#hr)"/>
<ellipse cx="633.0" cy="222.0" rx="4.4" ry="4.4" fill="url(#hR)"/>
<ellipse cx="627.0" cy="238.0" rx="5.6" ry="8.1" fill="url(#hR)"/>
<ellipse cx="637.0" cy="244.0" rx="9.0" ry="4.5" fill="url(#hb)"/>
<ellipse cx="566.0" cy="270.0" rx="8.0" ry="6.0" fill="url(#hb)"/>
<ellipse cx="562.0" cy="268.0" rx="3.0" ry="3.0" fill="url(#hr)"/>
<ellipse cx="569.0" cy="270.0" rx="2.5" ry="2.5" fill="url(#hr)"/>
<ellipse cx="569.0" cy="305.0" rx="11.0" ry="10.0" fill="url(#hy)"/>
<ellipse cx="562.0" cy="303.0" rx="3.0" ry="3.0" fill="url(#hr)"/>
<ellipse cx="569.5" cy="304.0" rx="3.0" ry="3.0" fill="url(#hr)"/>
<ellipse cx="612.0" cy="277.0" rx="9.0" ry="9.0" fill="url(#hb)"/>
<ellipse cx="614.0" cy="274.0" rx="4.4" ry="4.4" fill="url(#hR)"/>
<ellipse cx="606.5" cy="279.0" rx="3.0" ry="3.0" fill="url(#hy)"/>
<ellipse cx="613.0" cy="303.0" rx="11.0" ry="8.0" fill="url(#hb)"/>
<ellipse cx="605.0" cy="301.0" rx="6.2" ry="7.5" fill="url(#hR)"/>
<ellipse cx="620.5" cy="301.0" rx="5.0" ry="6.2" fill="url(#hR)"/>
<ellipse cx="635.0" cy="280.0" rx="10.0" ry="12.0" fill="url(#hb)"/>
<ellipse cx="631.0" cy="272.0" rx="2.5" ry="2.5" fill="url(#hr)"/>
<ellipse cx="630.0" cy="283.5" rx="5.0" ry="5.6" fill="url(#hR)"/>
<ellipse cx="637.5" cy="284.0" rx="5.0" ry="5.6" fill="url(#hR)"/>
<ellipse cx="635.0" cy="303.0" rx="11.0" ry="8.0" fill="url(#hb)"/>
<ellipse cx="630.0" cy="301.0" rx="8.8" ry="6.9" fill="url(#hR)"/>
<ellipse cx="643.0" cy="302.0" rx="4.4" ry="5.0" fill="url(#hR)"/>
</g>
<text x="417.60" y="55.80" font-size="13.3" text-anchor="start" font-weight="normal" font-style="normal" fill="#000" >d-4</text>
<text x="421.30" y="109.90" font-size="13.3" text-anchor="start" font-weight="normal" font-style="normal" fill="#000" >d3</text>
<text x="421.30" y="167.90" font-size="13.3" text-anchor="start" font-weight="normal" font-style="normal" fill="#000" >d9</text>
<text x="421.30" y="224.80" font-size="13.3" text-anchor="start" font-weight="normal" font-style="normal" fill="#000" >d14</text>
<text x="421.30" y="280.90" font-size="13.3" text-anchor="start" font-weight="normal" font-style="normal" fill="#000" >d21</text>
<text x="374.00" y="623.60" font-size="22.5" text-anchor="start" font-weight="normal" font-style="normal" fill="#000" >G</text>
<text x="472.20" y="623.60" font-size="13.6" text-anchor="middle" font-weight="bold" font-style="normal" fill="#000" >iNOXA</text>
<text x="617.80" y="623.60" font-size="13.6" text-anchor="middle" font-weight="bold" font-style="normal" fill="#000" >NOXA</text>
<line x1="396.00" y1="630.20" x2="540.30" y2="630.20" stroke="#222" stroke-width="1.5" />
<line x1="545.00" y1="630.20" x2="685.00" y2="630.20" stroke="#e3242b" stroke-width="1.8" stroke-dasharray="4 3"/>
<clipPath id="blk3"><rect x="404.2" y="635.5" width="136.1" height="318.0"/></clipPath>
<g clip-path="url(#blk3)">
<rect x="404.2" y="635.5" width="136.1" height="318.0" fill="#0d1013"/>
<rect x="404.8" y="636.1" width="21.5" height="61.7" fill="#0d1013"/>
<g transform="rotate(6.0 415.5 674.4)">
<path d="M415.5,641.3 C418.3,641.3 419.9,645.1 420.7,649.8 L423.4,651.6 L422.4,655.1 C424.2,659.2 424.8,665.6 424.8,674.4 C424.8,683.1 425.0,688.4 424.2,691.9 L425.2,694.8 L422.3,694.3 C419.9,695.4 417.5,695.7 416.4,695.7 L416.1,701.3 L414.9,701.3 L414.7,695.7 C413.6,695.7 411.2,695.4 408.8,694.3 L405.9,694.8 L406.9,691.9 C406.1,688.4 406.3,683.1 406.3,674.4 C406.3,665.6 406.9,659.2 408.6,655.1 L407.6,651.6 L410.4,649.8 C411.2,645.1 412.8,641.3 415.5,641.3 Z" fill="#d6d6d6"/>
<path d="M415.5,641.3 C418.3,641.3 419.9,645.1 420.7,649.8 L423.4,651.6 L422.4,655.1 C424.2,659.2 424.8,665.6 424.8,674.4 C424.8,683.1 425.0,688.4 424.2,691.9 L425.2,694.8 L422.3,694.3 C419.9,695.4 417.5,695.7 416.4,695.7 L416.1,701.3 L414.9,701.3 L414.7,695.7 C413.6,695.7 411.2,695.4 408.8,694.3 L405.9,694.8 L406.9,691.9 C406.1,688.4 406.3,683.1 406.3,674.4 C406.3,665.6 406.9,659.2 408.6,655.1 L407.6,651.6 L410.4,649.8 C411.2,645.1 412.8,641.3 415.5,641.3 Z" fill="url(#mg)"/>
<path d="M415.5,641.3 C418.3,641.3 419.9,645.1 420.7,649.8 L423.4,651.6 L422.4,655.1 C424.2,659.2 424.8,665.6 424.8,674.4 C424.8,683.1 425.0,688.4 424.2,691.9 L425.2,694.8 L422.3,694.3 C419.9,695.4 417.5,695.7 416.4,695.7 L416.1,701.3 L414.9,701.3 L414.7,695.7 C413.6,695.7 411.2,695.4 408.8,694.3 L405.9,694.8 L406.9,691.9 C406.1,688.4 406.3,683.1 406.3,674.4 C406.3,665.6 406.9,659.2 408.6,655.1 L407.6,651.6 L410.4,649.8 C411.2,645.1 412.8,641.3 415.5,641.3 Z" fill="url(#mh)"/>
<path d="M415.5,641.3 C418.3,641.3 419.9,645.1 420.7,649.8 L423.4,651.6 L422.4,655.1 C424.2,659.2 424.8,665.6 424.8,674.4 C424.8,683.1 425.0,688.4 424.2,691.9 L425.2,694.8 L422.3,694.3 C419.9,695.4 417.5,695.7 416.4,695.7 L416.1,701.3 L414.9,701.3 L414.7,695.7 C413.6,695.7 411.2,695.4 408.8,694.3 L405.9,694.8 L406.9,691.9 C406.1,688.4 406.3,683.1 406.3,674.4 C406.3,665.6 406.9,659.2 408.6,655.1 L407.6,651.6 L410.4,649.8 C411.2,645.1 412.8,641.3 415.5,641.3 Z" fill="#000" filter="url(#tex)" opacity="0.22"/>
</g>
<rect x="427.5" y="636.1" width="21.5" height="61.7" fill="#121417"/>
<g transform="rotate(8.0 438.2 674.4)">
<path d="M438.2,641.3 C441.0,641.3 442.6,645.1 443.4,649.8 L446.1,651.6 L445.1,655.1 C446.9,659.2 447.5,665.6 447.5,674.4 C447.5,683.1 447.7,688.4 446.9,691.9 L447.9,694.8 L444.9,694.3 C442.6,695.4 440.2,695.7 439.1,695.7 L438.8,701.3 L437.6,701.3 L437.3,695.7 C436.3,695.7 433.9,695.4 431.5,694.3 L428.6,694.8 L429.5,691.9 C428.8,688.4 428.9,683.1 428.9,674.4 C428.9,665.6 429.5,659.2 431.3,655.1 L430.3,651.6 L433.1,649.8 C433.9,645.1 435.5,641.3 438.2,641.3 Z" fill="#d6d6d6"/>
<path d="M438.2,641.3 C441.0,641.3 442.6,645.1 443.4,649.8 L446.1,651.6 L445.1,655.1 C446.9,659.2 447.5,665.6 447.5,674.4 C447.5,683.1 447.7,688.4 446.9,691.9 L447.9,694.8 L444.9,694.3 C442.6,695.4 440.2,695.7 439.1,695.7 L438.8,701.3 L437.6,701.3 L437.3,695.7 C436.3,695.7 433.9,695.4 431.5,694.3 L428.6,694.8 L429.5,691.9 C428.8,688.4 428.9,683.1 428.9,674.4 C428.9,665.6 429.5,659.2 431.3,655.1 L430.3,651.6 L433.1,649.8 C433.9,645.1 435.5,641.3 438.2,641.3 Z" fill="url(#mg)"/>
<path d="M438.2,641.3 C441.0,641.3 442.6,645.1 443.4,649.8 L446.1,651.6 L445.1,655.1 C446.9,659.2 447.5,665.6 447.5,674.4 C447.5,683.1 447.7,688.4 446.9,691.9 L447.9,694.8 L444.9,694.3 C442.6,695.4 440.2,695.7 439.1,695.7 L438.8,701.3 L437.6,701.3 L437.3,695.7 C436.3,695.7 433.9,695.4 431.5,694.3 L428.6,694.8 L429.5,691.9 C428.8,688.4 428.9,683.1 428.9,674.4 C428.9,665.6 429.5,659.2 431.3,655.1 L430.3,651.6 L433.1,649.8 C433.9,645.1 435.5,641.3 438.2,641.3 Z" fill="url(#mh)"/>
<path d="M438.2,641.3 C441.0,641.3 442.6,645.1 443.4,649.8 L446.1,651.6 L445.1,655.1 C446.9,659.2 447.5,665.6 447.5,674.4 C447.5,683.1 447.7,688.4 446.9,691.9 L447.9,694.8 L444.9,694.3 C442.6,695.4 440.2,695.7 439.1,695.7 L438.8,701.3 L437.6,701.3 L437.3,695.7 C436.3,695.7 433.9,695.4 431.5,694.3 L428.6,694.8 L429.5,691.9 C428.8,688.4 428.9,683.1 428.9,674.4 C428.9,665.6 429.5,659.2 431.3,655.1 L430.3,651.6 L433.1,649.8 C433.9,645.1 435.5,641.3 438.2,641.3 Z" fill="#000" filter="url(#tex)" opacity="0.22"/>
</g>
<rect x="450.2" y="636.1" width="21.5" height="61.7" fill="#0d1013"/>
<g transform="rotate(-4.0 460.9 674.4)">
<path d="M460.9,641.3 C463.7,641.3 465.2,645.1 466.0,649.8 L468.8,651.6 L467.8,655.1 C469.6,659.2 470.2,665.6 470.2,674.4 C470.2,683.1 470.4,688.4 469.6,691.9 L470.6,694.8 L467.6,694.3 C465.2,695.4 462.9,695.7 461.8,695.7 L461.5,701.3 L460.3,701.3 L460.0,695.7 C458.9,695.7 456.6,695.4 454.2,694.3 L451.2,694.8 L452.2,691.9 C451.4,688.4 451.6,683.1 451.6,674.4 C451.6,665.6 452.2,659.2 454.0,655.1 L453.0,651.6 L455.8,649.8 C456.6,645.1 458.1,641.3 460.9,641.3 Z" fill="#d6d6d6"/>
<path d="M460.9,641.3 C463.7,641.3 465.2,645.1 466.0,649.8 L468.8,651.6 L467.8,655.1 C469.6,659.2 470.2,665.6 470.2,674.4 C470.2,683.1 470.4,688.4 469.6,691.9 L470.6,694.8 L467.6,694.3 C465.2,695.4 462.9,695.7 461.8,695.7 L461.5,701.3 L460.3,701.3 L460.0,695.7 C458.9,695.7 456.6,695.4 454.2,694.3 L451.2,694.8 L452.2,691.9 C451.4,688.4 451.6,683.1 451.6,674.4 C451.6,665.6 452.2,659.2 454.0,655.1 L453.0,651.6 L455.8,649.8 C456.6,645.1 458.1,641.3 460.9,641.3 Z" fill="url(#mg)"/>
<path d="M460.9,641.3 C463.7,641.3 465.2,645.1 466.0,649.8 L468.8,651.6 L467.8,655.1 C469.6,659.2 470.2,665.6 470.2,674.4 C470.2,683.1 470.4,688.4 469.6,691.9 L470.6,694.8 L467.6,694.3 C465.2,695.4 462.9,695.7 461.8,695.7 L461.5,701.3 L460.3,701.3 L460.0,695.7 C458.9,695.7 456.6,695.4 454.2,694.3 L451.2,694.8 L452.2,691.9 C451.4,688.4 451.6,683.1 451.6,674.4 C451.6,665.6 452.2,659.2 454.0,655.1 L453.0,651.6 L455.8,649.8 C456.6,645.1 458.1,641.3 460.9,641.3 Z" fill="url(#mh)"/>
<path d="M460.9,641.3 C463.7,641.3 465.2,645.1 466.0,649.8 L468.8,651.6 L467.8,655.1 C469.6,659.2 470.2,665.6 470.2,674.4 C470.2,683.1 470.4,688.4 469.6,691.9 L470.6,694.8 L467.6,694.3 C465.2,695.4 462.9,695.7 461.8,695.7 L461.5,701.3 L460.3,701.3 L460.0,695.7 C458.9,695.7 456.6,695.4 454.2,694.3 L451.2,694.8 L452.2,691.9 C451.4,688.4 451.6,683.1 451.6,674.4 C451.6,665.6 452.2,659.2 454.0,655.1 L453.0,651.6 L455.8,649.8 C456.6,645.1 458.1,641.3 460.9,641.3 Z" fill="#000" filter="url(#tex)" opacity="0.22"/>
</g>
<rect x="472.9" y="636.1" width="21.5" height="61.7" fill="#121417"/>
<g transform="rotate(0.0 483.6 674.4)">
<path d="M483.6,641.3 C486.4,641.3 487.9,645.1 488.7,649.8 L491.5,651.6 L490.5,655.1 C492.3,659.2 492.9,665.6 492.9,674.4 C492.9,683.1 493.1,688.4 492.3,691.9 L493.3,694.8 L490.3,694.3 C487.9,695.4 485.6,695.7 484.5,695.7 L484.2,701.3 L483.0,701.3 L482.7,695.7 C481.6,695.7 479.3,695.4 476.9,694.3 L473.9,694.8 L474.9,691.9 C474.1,688.4 474.3,683.1 474.3,674.4 C474.3,665.6 474.9,659.2 476.7,655.1 L475.7,651.6 L478.5,649.8 C479.3,645.1 480.8,641.3 483.6,641.3 Z" fill="#d6d6d6"/>
<path d="M483.6,641.3 C486.4,641.3 487.9,645.1 488.7,649.8 L491.5,651.6 L490.5,655.1 C492.3,659.2 492.9,665.6 492.9,674.4 C492.9,683.1 493.1,688.4 492.3,691.9 L493.3,694.8 L490.3,694.3 C487.9,695.4 485.6,695.7 484.5,695.7 L484.2,701.3 L483.0,701.3 L482.7,695.7 C481.6,695.7 479.3,695.4 476.9,694.3 L473.9,694.8 L474.9,691.9 C474.1,688.4 474.3,683.1 474.3,674.4 C474.3,665.6 474.9,659.2 476.7,655.1 L475.7,651.6 L478.5,649.8 C479.3,645.1 480.8,641.3 483.6,641.3 Z" fill="url(#mg)"/>
<path d="M483.6,641.3 C486.4,641.3 487.9,645.1 488.7,649.8 L491.5,651.6 L490.5,655.1 C492.3,659.2 492.9,665.6 492.9,674.4 C492.9,683.1 493.1,688.4 492.3,691.9 L493.3,694.8 L490.3,694.3 C487.9,695.4 485.6,695.7 484.5,695.7 L484.2,701.3 L483.0,701.3 L482.7,695.7 C481.6,695.7 479.3,695.4 476.9,694.3 L473.9,694.8 L474.9,691.9 C474.1,688.4 474.3,683.1 474.3,674.4 C474.3,665.6 474.9,659.2 476.7,655.1 L475.7,651.6 L478.5,649.8 C479.3,645.1 480.8,641.3 483.6,641.3 Z" fill="url(#mh)"/>
<path d="M483.6,641.3 C486.4,641.3 487.9,645.1 488.7,649.8 L491.5,651.6 L490.5,655.1 C492.3,659.2 492.9,665.6 492.9,674.4 C492.9,683.1 493.1,688.4 492.3,691.9 L493.3,694.8 L490.3,694.3 C487.9,695.4 485.6,695.7 484.5,695.7 L484.2,701.3 L483.0,701.3 L482.7,695.7 C481.6,695.7 479.3,695.4 476.9,694.3 L473.9,694.8 L474.9,691.9 C474.1,688.4 474.3,683.1 474.3,674.4 C474.3,665.6 474.9,659.2 476.7,655.1 L475.7,651.6 L478.5,649.8 C479.3,645.1 480.8,641.3 483.6,641.3 Z" fill="#000" filter="url(#tex)" opacity="0.22"/>
</g>
<rect x="495.5" y="636.1" width="21.5" height="61.7" fill="#0d1013"/>
<g transform="rotate(10.0 506.3 674.4)">
<path d="M506.3,641.3 C509.0,641.3 510.6,645.1 511.4,649.8 L514.2,651.6 L513.2,655.1 C515.0,659.2 515.6,665.6 515.6,674.4 C515.6,683.1 515.7,688.4 515.0,691.9 L515.9,694.8 L513.0,694.3 C510.6,695.4 508.2,695.7 507.2,695.7 L506.9,701.3 L505.7,701.3 L505.4,695.7 C504.3,695.7 501.9,695.4 499.6,694.3 L496.6,694.8 L497.6,691.9 C496.8,688.4 497.0,683.1 497.0,674.4 C497.0,665.6 497.6,659.2 499.4,655.1 L498.4,651.6 L501.1,649.8 C501.9,645.1 503.5,641.3 506.3,641.3 Z" fill="#d6d6d6"/>
<path d="M506.3,641.3 C509.0,641.3 510.6,645.1 511.4,649.8 L514.2,651.6 L513.2,655.1 C515.0,659.2 515.6,665.6 515.6,674.4 C515.6,683.1 515.7,688.4 515.0,691.9 L515.9,694.8 L513.0,694.3 C510.6,695.4 508.2,695.7 507.2,695.7 L506.9,701.3 L505.7,701.3 L505.4,695.7 C504.3,695.7 501.9,695.4 499.6,694.3 L496.6,694.8 L497.6,691.9 C496.8,688.4 497.0,683.1 497.0,674.4 C497.0,665.6 497.6,659.2 499.4,655.1 L498.4,651.6 L501.1,649.8 C501.9,645.1 503.5,641.3 506.3,641.3 Z" fill="url(#mg)"/>
<path d="M506.3,641.3 C509.0,641.3 510.6,645.1 511.4,649.8 L514.2,651.6 L513.2,655.1 C515.0,659.2 515.6,665.6 515.6,674.4 C515.6,683.1 515.7,688.4 515.0,691.9 L515.9,694.8 L513.0,694.3 C510.6,695.4 508.2,695.7 507.2,695.7 L506.9,701.3 L505.7,701.3 L505.4,695.7 C504.3,695.7 501.9,695.4 499.6,694.3 L496.6,694.8 L497.6,691.9 C496.8,688.4 497.0,683.1 497.0,674.4 C497.0,665.6 497.6,659.2 499.4,655.1 L498.4,651.6 L501.1,649.8 C501.9,645.1 503.5,641.3 506.3,641.3 Z" fill="url(#mh)"/>
<path d="M506.3,641.3 C509.0,641.3 510.6,645.1 511.4,649.8 L514.2,651.6 L513.2,655.1 C515.0,659.2 515.6,665.6 515.6,674.4 C515.6,683.1 515.7,688.4 515.0,691.9 L515.9,694.8 L513.0,694.3 C510.6,695.4 508.2,695.7 507.2,695.7 L506.9,701.3 L505.7,701.3 L505.4,695.7 C504.3,695.7 501.9,695.4 499.6,694.3 L496.6,694.8 L497.6,691.9 C496.8,688.4 497.0,683.1 497.0,674.4 C497.0,665.6 497.6,659.2 499.4,655.1 L498.4,651.6 L501.1,649.8 C501.9,645.1 503.5,641.3 506.3,641.3 Z" fill="#000" filter="url(#tex)" opacity="0.22"/>
</g>
<rect x="518.2" y="636.1" width="21.5" height="61.7" fill="#121417"/>
<g transform="rotate(8.0 529.0 674.4)">
<path d="M529.0,641.3 C531.7,641.3 533.3,645.1 534.1,649.8 L536.9,651.6 L535.9,655.1 C537.6,659.2 538.2,665.6 538.2,674.4 C538.2,683.1 538.4,688.4 537.6,691.9 L538.6,694.8 L535.7,694.3 C533.3,695.4 530.9,695.7 529.8,695.7 L529.6,701.3 L528.4,701.3 L528.1,695.7 C527.0,695.7 524.6,695.4 522.2,694.3 L519.3,694.8 L520.3,691.9 C519.5,688.4 519.7,683.1 519.7,674.4 C519.7,665.6 520.3,659.2 522.1,655.1 L521.1,651.6 L523.8,649.8 C524.6,645.1 526.2,641.3 529.0,641.3 Z" fill="#d6d6d6"/>
<path d="M529.0,641.3 C531.7,641.3 533.3,645.1 534.1,649.8 L536.9,651.6 L535.9,655.1 C537.6,659.2 538.2,665.6 538.2,674.4 C538.2,683.1 538.4,688.4 537.6,691.9 L538.6,694.8 L535.7,694.3 C533.3,695.4 530.9,695.7 529.8,695.7 L529.6,701.3 L528.4,701.3 L528.1,695.7 C527.0,695.7 524.6,695.4 522.2,694.3 L519.3,694.8 L520.3,691.9 C519.5,688.4 519.7,683.1 519.7,674.4 C519.7,665.6 520.3,659.2 522.1,655.1 L521.1,651.6 L523.8,649.8 C524.6,645.1 526.2,641.3 529.0,641.3 Z" fill="url(#mg)"/>
<path d="M529.0,641.3 C531.7,641.3 533.3,645.1 534.1,649.8 L536.9,651.6 L535.9,655.1 C537.6,659.2 538.2,665.6 538.2,674.4 C538.2,683.1 538.4,688.4 537.6,691.9 L538.6,694.8 L535.7,694.3 C533.3,695.4 530.9,695.7 529.8,695.7 L529.6,701.3 L528.4,701.3 L528.1,695.7 C527.0,695.7 524.6,695.4 522.2,694.3 L519.3,694.8 L520.3,691.9 C519.5,688.4 519.7,683.1 519.7,674.4 C519.7,665.6 520.3,659.2 522.1,655.1 L521.1,651.6 L523.8,649.8 C524.6,645.1 526.2,641.3 529.0,641.3 Z" fill="url(#mh)"/>
<path d="M529.0,641.3 C531.7,641.3 533.3,645.1 534.1,649.8 L536.9,651.6 L535.9,655.1 C537.6,659.2 538.2,665.6 538.2,674.4 C538.2,683.1 538.4,688.4 537.6,691.9 L538.6,694.8 L535.7,694.3 C533.3,695.4 530.9,695.7 529.8,695.7 L529.6,701.3 L528.4,701.3 L528.1,695.7 C527.0,695.7 524.6,695.4 522.2,694.3 L519.3,694.8 L520.3,691.9 C519.5,688.4 519.7,683.1 519.7,674.4 C519.7,665.6 520.3,659.2 522.1,655.1 L521.1,651.6 L523.8,649.8 C524.6,645.1 526.2,641.3 529.0,641.3 Z" fill="#000" filter="url(#tex)" opacity="0.22"/>
</g>
<rect x="404.8" y="699.0" width="21.5" height="63.9" fill="#121417"/>
<g transform="rotate(0.0 415.5 738.6)">
<path d="M415.5,704.4 C418.3,704.4 419.9,708.4 420.7,713.2 L423.4,715.0 L422.4,718.7 C424.2,722.9 424.8,729.6 424.8,738.6 C424.8,747.7 425.0,753.2 424.2,756.8 L425.2,759.8 L422.3,759.2 C419.9,760.4 417.5,760.7 416.4,760.7 L416.1,766.5 L414.9,766.5 L414.7,760.7 C413.6,760.7 411.2,760.4 408.8,759.2 L405.9,759.8 L406.9,756.8 C406.1,753.2 406.3,747.7 406.3,738.6 C406.3,729.6 406.9,722.9 408.6,718.7 L407.6,715.0 L410.4,713.2 C411.2,708.4 412.8,704.4 415.5,704.4 Z" fill="#d6d6d6"/>
<path d="M415.5,704.4 C418.3,704.4 419.9,708.4 420.7,713.2 L423.4,715.0 L422.4,718.7 C424.2,722.9 424.8,729.6 424.8,738.6 C424.8,747.7 425.0,753.2 424.2,756.8 L425.2,759.8 L422.3,759.2 C419.9,760.4 417.5,760.7 416.4,760.7 L416.1,766.5 L414.9,766.5 L414.7,760.7 C413.6,760.7 411.2,760.4 408.8,759.2 L405.9,759.8 L406.9,756.8 C406.1,753.2 406.3,747.7 406.3,738.6 C406.3,729.6 406.9,722.9 408.6,718.7 L407.6,715.0 L410.4,713.2 C411.2,708.4 412.8,704.4 415.5,704.4 Z" fill="url(#mg)"/>
<path d="M415.5,704.4 C418.3,704.4 419.9,708.4 420.7,713.2 L423.4,715.0 L422.4,718.7 C424.2,722.9 424.8,729.6 424.8,738.6 C424.8,747.7 425.0,753.2 424.2,756.8 L425.2,759.8 L422.3,759.2 C419.9,760.4 417.5,760.7 416.4,760.7 L416.1,766.5 L414.9,766.5 L414.7,760.7 C413.6,760.7 411.2,760.4 408.8,759.2 L405.9,759.8 L406.9,756.8 C406.1,753.2 406.3,747.7 406.3,738.6 C406.3,729.6 406.9,722.9 408.6,718.7 L407.6,715.0 L410.4,713.2 C411.2,708.4 412.8,704.4 415.5,704.4 Z" fill="url(#mh)"/>
<path d="M415.5,704.4 C418.3,704.4 419.9,708.4 420.7,713.2 L423.4,715.0 L422.4,718.7 C424.2,722.9 424.8,729.6 424.8,738.6 C424.8,747.7 425.0,753.2 424.2,756.8 L425.2,759.8 L422.3,759.2 C419.9,760.4 417.5,760.7 416.4,760.7 L416.1,766.5 L414.9,766.5 L414.7,760.7 C413.6,760.7 411.2,760.4 408.8,759.2 L405.9,759.8 L406.9,756.8 C406.1,753.2 406.3,747.7 406.3,738.6 C406.3,729.6 406.9,722.9 408.6,718.7 L407.6,715.0 L410.4,713.2 C411.2,708.4 412.8,704.4 415.5,704.4 Z" fill="#000" filter="url(#tex)" opacity="0.22"/>
</g>
<rect x="427.5" y="699.0" width="21.5" height="63.9" fill="#0d1013"/>
<g transform="rotate(0.0 438.2 738.6)">
<path d="M438.2,704.4 C441.0,704.4 442.6,708.4 443.4,713.2 L446.1,715.0 L445.1,718.7 C446.9,722.9 447.5,729.6 447.5,738.6 C447.5,747.7 447.7,753.2 446.9,756.8 L447.9,759.8 L444.9,759.2 C442.6,760.4 440.2,760.7 439.1,760.7 L438.8,766.5 L437.6,766.5 L437.3,760.7 C436.3,760.7 433.9,760.4 431.5,759.2 L428.6,759.8 L429.5,756.8 C428.8,753.2 428.9,747.7 428.9,738.6 C428.9,729.6 429.5,722.9 431.3,718.7 L430.3,715.0 L433.1,713.2 C433.9,708.4 435.5,704.4 438.2,704.4 Z" fill="#d6d6d6"/>
<path d="M438.2,704.4 C441.0,704.4 442.6,708.4 443.4,713.2 L446.1,715.0 L445.1,718.7 C446.9,722.9 447.5,729.6 447.5,738.6 C447.5,747.7 447.7,753.2 446.9,756.8 L447.9,759.8 L444.9,759.2 C442.6,760.4 440.2,760.7 439.1,760.7 L438.8,766.5 L437.6,766.5 L437.3,760.7 C436.3,760.7 433.9,760.4 431.5,759.2 L428.6,759.8 L429.5,756.8 C428.8,753.2 428.9,747.7 428.9,738.6 C428.9,729.6 429.5,722.9 431.3,718.7 L430.3,715.0 L433.1,713.2 C433.9,708.4 435.5,704.4 438.2,704.4 Z" fill="url(#mg)"/>
<path d="M438.2,704.4 C441.0,704.4 442.6,708.4 443.4,713.2 L446.1,715.0 L445.1,718.7 C446.9,722.9 447.5,729.6 447.5,738.6 C447.5,747.7 447.7,753.2 446.9,756.8 L447.9,759.8 L444.9,759.2 C442.6,760.4 440.2,760.7 439.1,760.7 L438.8,766.5 L437.6,766.5 L437.3,760.7 C436.3,760.7 433.9,760.4 431.5,759.2 L428.6,759.8 L429.5,756.8 C428.8,753.2 428.9,747.7 428.9,738.6 C428.9,729.6 429.5,722.9 431.3,718.7 L430.3,715.0 L433.1,713.2 C433.9,708.4 435.5,704.4 438.2,704.4 Z" fill="url(#mh)"/>
<path d="M438.2,704.4 C441.0,704.4 442.6,708.4 443.4,713.2 L446.1,715.0 L445.1,718.7 C446.9,722.9 447.5,729.6 447.5,738.6 C447.5,747.7 447.7,753.2 446.9,756.8 L447.9,759.8 L444.9,759.2 C442.6,760.4 440.2,760.7 439.1,760.7 L438.8,766.5 L437.6,766.5 L437.3,760.7 C436.3,760.7 433.9,760.4 431.5,759.2 L428.6,759.8 L429.5,756.8 C428.8,753.2 428.9,747.7 428.9,738.6 C428.9,729.6 429.5,722.9 431.3,718.7 L430.3,715.0 L433.1,713.2 C433.9,708.4 435.5,704.4 438.2,704.4 Z" fill="#000" filter="url(#tex)" opacity="0.22"/>
</g>
<rect x="450.2" y="699.0" width="21.5" height="63.9" fill="#121417"/>
<g transform="rotate(0.0 460.9 738.6)">
<path d="M460.9,704.4 C463.7,704.4 465.2,708.4 466.0,713.2 L468.8,715.0 L467.8,718.7 C469.6,722.9 470.2,729.6 470.2,738.6 C470.2,747.7 470.4,753.2 469.6,756.8 L470.6,759.8 L467.6,759.2 C465.2,760.4 462.9,760.7 461.8,760.7 L461.5,766.5 L460.3,766.5 L460.0,760.7 C458.9,760.7 456.6,760.4 454.2,759.2 L451.2,759.8 L452.2,756.8 C451.4,753.2 451.6,747.7 451.6,738.6 C451.6,729.6 452.2,722.9 454.0,718.7 L453.0,715.0 L455.8,713.2 C456.6,708.4 458.1,704.4 460.9,704.4 Z" fill="#d6d6d6"/>
<path d="M460.9,704.4 C463.7,704.4 465.2,708.4 466.0,713.2 L468.8,715.0 L467.8,718.7 C469.6,722.9 470.2,729.6 470.2,738.6 C470.2,747.7 470.4,753.2 469.6,756.8 L470.6,759.8 L467.6,759.2 C465.2,760.4 462.9,760.7 461.8,760.7 L461.5,766.5 L460.3,766.5 L460.0,760.7 C458.9,760.7 456.6,760.4 454.2,759.2 L451.2,759.8 L452.2,756.8 C451.4,753.2 451.6,747.7 451.6,738.6 C451.6,729.6 452.2,722.9 454.0,718.7 L453.0,715.0 L455.8,713.2 C456.6,708.4 458.1,704.4 460.9,704.4 Z" fill="url(#mg)"/>
<path d="M460.9,704.4 C463.7,704.4 465.2,708.4 466.0,713.2 L468.8,715.0 L467.8,718.7 C469.6,722.9 470.2,729.6 470.2,738.6 C470.2,747.7 470.4,753.2 469.6,756.8 L470.6,759.8 L467.6,759.2 C465.2,760.4 462.9,760.7 461.8,760.7 L461.5,766.5 L460.3,766.5 L460.0,760.7 C458.9,760.7 456.6,760.4 454.2,759.2 L451.2,759.8 L452.2,756.8 C451.4,753.2 451.6,747.7 451.6,738.6 C451.6,729.6 452.2,722.9 454.0,718.7 L453.0,715.0 L455.8,713.2 C456.6,708.4 458.1,704.4 460.9,704.4 Z" fill="url(#mh)"/>
<path d="M460.9,704.4 C463.7,704.4 465.2,708.4 466.0,713.2 L468.8,715.0 L467.8,718.7 C469.6,722.9 470.2,729.6 470.2,738.6 C470.2,747.7 470.4,753.2 469.6,756.8 L470.6,759.8 L467.6,759.2 C465.2,760.4 462.9,760.7 461.8,760.7 L461.5,766.5 L460.3,766.5 L460.0,760.7 C458.9,760.7 456.6,760.4 454.2,759.2 L451.2,759.8 L452.2,756.8 C451.4,753.2 451.6,747.7 451.6,738.6 C451.6,729.6 452.2,722.9 454.0,718.7 L453.0,715.0 L455.8,713.2 C456.6,708.4 458.1,704.4 460.9,704.4 Z" fill="#000" filter="url(#tex)" opacity="0.22"/>
</g>
<rect x="472.9" y="699.0" width="21.5" height="63.9" fill="#0d1013"/>
<g transform="rotate(0.0 483.6 738.6)">
<path d="M483.6,704.4 C486.4,704.4 487.9,708.4 488.7,713.2 L491.5,715.0 L490.5,718.7 C492.3,722.9 492.9,729.6 492.9,738.6 C492.9,747.7 493.1,753.2 492.3,756.8 L493.3,759.8 L490.3,759.2 C487.9,760.4 485.6,760.7 484.5,760.7 L484.2,766.5 L483.0,766.5 L482.7,760.7 C481.6,760.7 479.3,760.4 476.9,759.2 L473.9,759.8 L474.9,756.8 C474.1,753.2 474.3,747.7 474.3,738.6 C474.3,729.6 474.9,722.9 476.7,718.7 L475.7,715.0 L478.5,713.2 C479.3,708.4 480.8,704.4 483.6,704.4 Z" fill="#d6d6d6"/>
<path d="M483.6,704.4 C486.4,704.4 487.9,708.4 488.7,713.2 L491.5,715.0 L490.5,718.7 C492.3,722.9 492.9,729.6 492.9,738.6 C492.9,747.7 493.1,753.2 492.3,756.8 L493.3,759.8 L490.3,759.2 C487.9,760.4 485.6,760.7 484.5,760.7 L484.2,766.5 L483.0,766.5 L482.7,760.7 C481.6,760.7 479.3,760.4 476.9,759.2 L473.9,759.8 L474.9,756.8 C474.1,753.2 474.3,747.7 474.3,738.6 C474.3,729.6 474.9,722.9 476.7,718.7 L475.7,715.0 L478.5,713.2 C479.3,708.4 480.8,704.4 483.6,704.4 Z" fill="url(#mg)"/>
<path d="M483.6,704.4 C486.4,704.4 487.9,708.4 488.7,713.2 L491.5,715.0 L490.5,718.7 C492.3,722.9 492.9,729.6 492.9,738.6 C492.9,747.7 493.1,753.2 492.3,756.8 L493.3,759.8 L490.3,759.2 C487.9,760.4 485.6,760.7 484.5,760.7 L484.2,766.5 L483.0,766.5 L482.7,760.7 C481.6,760.7 479.3,760.4 476.9,759.2 L473.9,759.8 L474.9,756.8 C474.1,753.2 474.3,747.7 474.3,738.6 C474.3,729.6 474.9,722.9 476.7,718.7 L475.7,715.0 L478.5,713.2 C479.3,708.4 480.8,704.4 483.6,704.4 Z" fill="url(#mh)"/>
<path d="M483.6,704.4 C486.4,704.4 487.9,708.4 488.7,713.2 L491.5,715.0 L490.5,718.7 C492.3,722.9 492.9,729.6 492.9,738.6 C492.9,747.7 493.1,753.2 492.3,756.8 L493.3,759.8 L490.3,759.2 C487.9,760.4 485.6,760.7 484.5,760.7 L484.2,766.5 L483.0,766.5 L482.7,760.7 C481.6,760.7 479.3,760.4 476.9,759.2 L473.9,759.8 L474.9,756.8 C474.1,753.2 474.3,747.7 474.3,738.6 C474.3,729.6 474.9,722.9 476.7,718.7 L475.7,715.0 L478.5,713.2 C479.3,708.4 480.8,704.4 483.6,704.4 Z" fill="#000" filter="url(#tex)" opacity="0.22"/>
</g>
<rect x="495.5" y="699.0" width="21.5" height="63.9" fill="#121417"/>
<g transform="rotate(4.0 506.3 738.6)">
<path d="M506.3,704.4 C509.0,704.4 510.6,708.4 511.4,713.2 L514.2,715.0 L513.2,718.7 C515.0,722.9 515.6,729.6 515.6,738.6 C515.6,747.7 515.7,753.2 515.0,756.8 L515.9,759.8 L513.0,759.2 C510.6,760.4 508.2,760.7 507.2,760.7 L506.9,766.5 L505.7,766.5 L505.4,760.7 C504.3,760.7 501.9,760.4 499.6,759.2 L496.6,759.8 L497.6,756.8 C496.8,753.2 497.0,747.7 497.0,738.6 C497.0,729.6 497.6,722.9 499.4,718.7 L498.4,715.0 L501.1,713.2 C501.9,708.4 503.5,704.4 506.3,704.4 Z" fill="#d6d6d6"/>
<path d="M506.3,704.4 C509.0,704.4 510.6,708.4 511.4,713.2 L514.2,715.0 L513.2,718.7 C515.0,722.9 515.6,729.6 515.6,738.6 C515.6,747.7 515.7,753.2 515.0,756.8 L515.9,759.8 L513.0,759.2 C510.6,760.4 508.2,760.7 507.2,760.7 L506.9,766.5 L505.7,766.5 L505.4,760.7 C504.3,760.7 501.9,760.4 499.6,759.2 L496.6,759.8 L497.6,756.8 C496.8,753.2 497.0,747.7 497.0,738.6 C497.0,729.6 497.6,722.9 499.4,718.7 L498.4,715.0 L501.1,713.2 C501.9,708.4 503.5,704.4 506.3,704.4 Z" fill="url(#mg)"/>
<path d="M506.3,704.4 C509.0,704.4 510.6,708.4 511.4,713.2 L514.2,715.0 L513.2,718.7 C515.0,722.9 515.6,729.6 515.6,738.6 C515.6,747.7 515.7,753.2 515.0,756.8 L515.9,759.8 L513.0,759.2 C510.6,760.4 508.2,760.7 507.2,760.7 L506.9,766.5 L505.7,766.5 L505.4,760.7 C504.3,760.7 501.9,760.4 499.6,759.2 L496.6,759.8 L497.6,756.8 C496.8,753.2 497.0,747.7 497.0,738.6 C497.0,729.6 497.6,722.9 499.4,718.7 L498.4,715.0 L501.1,713.2 C501.9,708.4 503.5,704.4 506.3,704.4 Z" fill="url(#mh)"/>
<path d="M506.3,704.4 C509.0,704.4 510.6,708.4 511.4,713.2 L514.2,715.0 L513.2,718.7 C515.0,722.9 515.6,729.6 515.6,738.6 C515.6,747.7 515.7,753.2 515.0,756.8 L515.9,759.8 L513.0,759.2 C510.6,760.4 508.2,760.7 507.2,760.7 L506.9,766.5 L505.7,766.5 L505.4,760.7 C504.3,760.7 501.9,760.4 499.6,759.2 L496.6,759.8 L497.6,756.8 C496.8,753.2 497.0,747.7 497.0,738.6 C497.0,729.6 497.6,722.9 499.4,718.7 L498.4,715.0 L501.1,713.2 C501.9,708.4 503.5,704.4 506.3,704.4 Z" fill="#000" filter="url(#tex)" opacity="0.22"/>
</g>
<rect x="518.2" y="699.0" width="21.5" height="63.9" fill="#0d1013"/>
<g transform="rotate(0.0 529.0 738.6)">
<path d="M529.0,704.4 C531.7,704.4 533.3,708.4 534.1,713.2 L536.9,715.0 L535.9,718.7 C537.6,722.9 538.2,729.6 538.2,738.6 C538.2,747.7 538.4,753.2 537.6,756.8 L538.6,759.8 L535.7,759.2 C533.3,760.4 530.9,760.7 529.8,760.7 L529.6,766.5 L528.4,766.5 L528.1,760.7 C527.0,760.7 524.6,760.4 522.2,759.2 L519.3,759.8 L520.3,756.8 C519.5,753.2 519.7,747.7 519.7,738.6 C519.7,729.6 520.3,722.9 522.1,718.7 L521.1,715.0 L523.8,713.2 C524.6,708.4 526.2,704.4 529.0,704.4 Z" fill="#d6d6d6"/>
<path d="M529.0,704.4 C531.7,704.4 533.3,708.4 534.1,713.2 L536.9,715.0 L535.9,718.7 C537.6,722.9 538.2,729.6 538.2,738.6 C538.2,747.7 538.4,753.2 537.6,756.8 L538.6,759.8 L535.7,759.2 C533.3,760.4 530.9,760.7 529.8,760.7 L529.6,766.5 L528.4,766.5 L528.1,760.7 C527.0,760.7 524.6,760.4 522.2,759.2 L519.3,759.8 L520.3,756.8 C519.5,753.2 519.7,747.7 519.7,738.6 C519.7,729.6 520.3,722.9 522.1,718.7 L521.1,715.0 L523.8,713.2 C524.6,708.4 526.2,704.4 529.0,704.4 Z" fill="url(#mg)"/>
<path d="M529.0,704.4 C531.7,704.4 533.3,708.4 534.1,713.2 L536.9,715.0 L535.9,718.7 C537.6,722.9 538.2,729.6 538.2,738.6 C538.2,747.7 538.4,753.2 537.6,756.8 L538.6,759.8 L535.7,759.2 C533.3,760.4 530.9,760.7 529.8,760.7 L529.6,766.5 L528.4,766.5 L528.1,760.7 C527.0,760.7 524.6,760.4 522.2,759.2 L519.3,759.8 L520.3,756.8 C519.5,753.2 519.7,747.7 519.7,738.6 C519.7,729.6 520.3,722.9 522.1,718.7 L521.1,715.0 L523.8,713.2 C524.6,708.4 526.2,704.4 529.0,704.4 Z" fill="url(#mh)"/>
<path d="M529.0,704.4 C531.7,704.4 533.3,708.4 534.1,713.2 L536.9,715.0 L535.9,718.7 C537.6,722.9 538.2,729.6 538.2,738.6 C538.2,747.7 538.4,753.2 537.6,756.8 L538.6,759.8 L535.7,759.2 C533.3,760.4 530.9,760.7 529.8,760.7 L529.6,766.5 L528.4,766.5 L528.1,760.7 C527.0,760.7 524.6,760.4 522.2,759.2 L519.3,759.8 L520.3,756.8 C519.5,753.2 519.7,747.7 519.7,738.6 C519.7,729.6 520.3,722.9 522.1,718.7 L521.1,715.0 L523.8,713.2 C524.6,708.4 526.2,704.4 529.0,704.4 Z" fill="#000" filter="url(#tex)" opacity="0.22"/>
</g>
<rect x="404.8" y="764.1" width="21.5" height="63.1" fill="#0d1013"/>
<g transform="rotate(0.0 415.5 803.2)">
<path d="M415.5,769.5 C418.3,769.5 419.9,773.3 420.7,778.1 L423.4,779.9 L422.4,783.5 C424.2,787.7 424.8,794.3 424.8,803.2 C424.8,812.2 425.0,817.6 424.2,821.2 L425.2,824.2 L422.3,823.6 C419.9,824.8 417.5,825.1 416.4,825.1 L416.1,830.7 L414.9,830.7 L414.7,825.1 C413.6,825.1 411.2,824.8 408.8,823.6 L405.9,824.2 L406.9,821.2 C406.1,817.6 406.3,812.2 406.3,803.2 C406.3,794.3 406.9,787.7 408.6,783.5 L407.6,779.9 L410.4,778.1 C411.2,773.3 412.8,769.5 415.5,769.5 Z" fill="#d6d6d6"/>
<path d="M415.5,769.5 C418.3,769.5 419.9,773.3 420.7,778.1 L423.4,779.9 L422.4,783.5 C424.2,787.7 424.8,794.3 424.8,803.2 C424.8,812.2 425.0,817.6 424.2,821.2 L425.2,824.2 L422.3,823.6 C419.9,824.8 417.5,825.1 416.4,825.1 L416.1,830.7 L414.9,830.7 L414.7,825.1 C413.6,825.1 411.2,824.8 408.8,823.6 L405.9,824.2 L406.9,821.2 C406.1,817.6 406.3,812.2 406.3,803.2 C406.3,794.3 406.9,787.7 408.6,783.5 L407.6,779.9 L410.4,778.1 C411.2,773.3 412.8,769.5 415.5,769.5 Z" fill="url(#mg)"/>
<path d="M415.5,769.5 C418.3,769.5 419.9,773.3 420.7,778.1 L423.4,779.9 L422.4,783.5 C424.2,787.7 424.8,794.3 424.8,803.2 C424.8,812.2 425.0,817.6 424.2,821.2 L425.2,824.2 L422.3,823.6 C419.9,824.8 417.5,825.1 416.4,825.1 L416.1,830.7 L414.9,830.7 L414.7,825.1 C413.6,825.1 411.2,824.8 408.8,823.6 L405.9,824.2 L406.9,821.2 C406.1,817.6 406.3,812.2 406.3,803.2 C406.3,794.3 406.9,787.7 408.6,783.5 L407.6,779.9 L410.4,778.1 C411.2,773.3 412.8,769.5 415.5,769.5 Z" fill="url(#mh)"/>
<path d="M415.5,769.5 C418.3,769.5 419.9,773.3 420.7,778.1 L423.4,779.9 L422.4,783.5 C424.2,787.7 424.8,794.3 424.8,803.2 C424.8,812.2 425.0,817.6 424.2,821.2 L425.2,824.2 L422.3,823.6 C419.9,824.8 417.5,825.1 416.4,825.1 L416.1,830.7 L414.9,830.7 L414.7,825.1 C413.6,825.1 411.2,824.8 408.8,823.6 L405.9,824.2 L406.9,821.2 C406.1,817.6 406.3,812.2 406.3,803.2 C406.3,794.3 406.9,787.7 408.6,783.5 L407.6,779.9 L410.4,778.1 C411.2,773.3 412.8,769.5 415.5,769.5 Z" fill="#000" filter="url(#tex)" opacity="0.22"/>
</g>
<rect x="427.5" y="764.1" width="21.5" height="63.1" fill="#121417"/>
<g transform="rotate(6.0 438.2 803.2)">
<path d="M438.2,769.5 C441.0,769.5 442.6,773.3 443.4,778.1 L446.1,779.9 L445.1,783.5 C446.9,787.7 447.5,794.3 447.5,803.2 C447.5,812.2 447.7,817.6 446.9,821.2 L447.9,824.2 L444.9,823.6 C442.6,824.8 440.2,825.1 439.1,825.1 L438.8,830.7 L437.6,830.7 L437.3,825.1 C436.3,825.1 433.9,824.8 431.5,823.6 L428.6,824.2 L429.5,821.2 C428.8,817.6 428.9,812.2 428.9,803.2 C428.9,794.3 429.5,787.7 431.3,783.5 L430.3,779.9 L433.1,778.1 C433.9,773.3 435.5,769.5 438.2,769.5 Z" fill="#d6d6d6"/>
<path d="M438.2,769.5 C441.0,769.5 442.6,773.3 443.4,778.1 L446.1,779.9 L445.1,783.5 C446.9,787.7 447.5,794.3 447.5,803.2 C447.5,812.2 447.7,817.6 446.9,821.2 L447.9,824.2 L444.9,823.6 C442.6,824.8 440.2,825.1 439.1,825.1 L438.8,830.7 L437.6,830.7 L437.3,825.1 C436.3,825.1 433.9,824.8 431.5,823.6 L428.6,824.2 L429.5,821.2 C428.8,817.6 428.9,812.2 428.9,803.2 C428.9,794.3 429.5,787.7 431.3,783.5 L430.3,779.9 L433.1,778.1 C433.9,773.3 435.5,769.5 438.2,769.5 Z" fill="url(#mg)"/>
<path d="M438.2,769.5 C441.0,769.5 442.6,773.3 443.4,778.1 L446.1,779.9 L445.1,783.5 C446.9,787.7 447.5,794.3 447.5,803.2 C447.5,812.2 447.7,817.6 446.9,821.2 L447.9,824.2 L444.9,823.6 C442.6,824.8 440.2,825.1 439.1,825.1 L438.8,830.7 L437.6,830.7 L437.3,825.1 C436.3,825.1 433.9,824.8 431.5,823.6 L428.6,824.2 L429.5,821.2 C428.8,817.6 428.9,812.2 428.9,803.2 C428.9,794.3 429.5,787.7 431.3,783.5 L430.3,779.9 L433.1,778.1 C433.9,773.3 435.5,769.5 438.2,769.5 Z" fill="url(#mh)"/>
<path d="M438.2,769.5 C441.0,769.5 442.6,773.3 443.4,778.1 L446.1,779.9 L445.1,783.5 C446.9,787.7 447.5,794.3 447.5,803.2 C447.5,812.2 447.7,817.6 446.9,821.2 L447.9,824.2 L444.9,823.6 C442.6,824.8 440.2,825.1 439.1,825.1 L438.8,830.7 L437.6,830.7 L437.3,825.1 C436.3,825.1 433.9,824.8 431.5,823.6 L428.6,824.2 L429.5,821.2 C428.8,817.6 428.9,812.2 428.9,803.2 C428.9,794.3 429.5,787.7 431.3,783.5 L430.3,779.9 L433.1,778.1 C433.9,773.3 435.5,769.5 438.2,769.5 Z" fill="#000" filter="url(#tex)" opacity="0.22"/>
</g>
<rect x="450.2" y="764.1" width="21.5" height="63.1" fill="#0d1013"/>
<g transform="rotate(0.0 460.9 803.2)">
<path d="M460.9,769.5 C463.7,769.5 465.2,773.3 466.0,778.1 L468.8,779.9 L467.8,783.5 C469.6,787.7 470.2,794.3 470.2,803.2 C470.2,812.2 470.4,817.6 469.6,821.2 L470.6,824.2 L467.6,823.6 C465.2,824.8 462.9,825.1 461.8,825.1 L461.5,830.7 L460.3,830.7 L460.0,825.1 C458.9,825.1 456.6,824.8 454.2,823.6 L451.2,824.2 L452.2,821.2 C451.4,817.6 451.6,812.2 451.6,803.2 C451.6,794.3 452.2,787.7 454.0,783.5 L453.0,779.9 L455.8,778.1 C456.6,773.3 458.1,769.5 460.9,769.5 Z" fill="#d6d6d6"/>
<path d="M460.9,769.5 C463.7,769.5 465.2,773.3 466.0,778.1 L468.8,779.9 L467.8,783.5 C469.6,787.7 470.2,794.3 470.2,803.2 C470.2,812.2 470.4,817.6 469.6,821.2 L470.6,824.2 L467.6,823.6 C465.2,824.8 462.9,825.1 461.8,825.1 L461.5,830.7 L460.3,830.7 L460.0,825.1 C458.9,825.1 456.6,824.8 454.2,823.6 L451.2,824.2 L452.2,821.2 C451.4,817.6 451.6,812.2 451.6,803.2 C451.6,794.3 452.2,787.7 454.0,783.5 L453.0,779.9 L455.8,778.1 C456.6,773.3 458.1,769.5 460.9,769.5 Z" fill="url(#mg)"/>
<path d="M460.9,769.5 C463.7,769.5 465.2,773.3 466.0,778.1 L468.8,779.9 L467.8,783.5 C469.6,787.7 470.2,794.3 470.2,803.2 C470.2,812.2 470.4,817.6 469.6,821.2 L470.6,824.2 L467.6,823.6 C465.2,824.8 462.9,825.1 461.8,825.1 L461.5,830.7 L460.3,830.7 L460.0,825.1 C458.9,825.1 456.6,824.8 454.2,823.6 L451.2,824.2 L452.2,821.2 C451.4,817.6 451.6,812.2 451.6,803.2 C451.6,794.3 452.2,787.7 454.0,783.5 L453.0,779.9 L455.8,778.1 C456.6,773.3 458.1,769.5 460.9,769.5 Z" fill="url(#mh)"/>
<path d="M460.9,769.5 C463.7,769.5 465.2,773.3 466.0,778.1 L468.8,779.9 L467.8,783.5 C469.6,787.7 470.2,794.3 470.2,803.2 C470.2,812.2 470.4,817.6 469.6,821.2 L470.6,824.2 L467.6,823.6 C465.2,824.8 462.9,825.1 461.8,825.1 L461.5,830.7 L460.3,830.7 L460.0,825.1 C458.9,825.1 456.6,824.8 454.2,823.6 L451.2,824.2 L452.2,821.2 C451.4,817.6 451.6,812.2 451.6,803.2 C451.6,794.3 452.2,787.7 454.0,783.5 L453.0,779.9 L455.8,778.1 C456.6,773.3 458.1,769.5 460.9,769.5 Z" fill="#000" filter="url(#tex)" opacity="0.22"/>
</g>
<rect x="472.9" y="764.1" width="21.5" height="63.1" fill="#121417"/>
<g transform="rotate(4.0 483.6 803.2)">
<path d="M483.6,769.5 C486.4,769.5 487.9,773.3 488.7,778.1 L491.5,779.9 L490.5,783.5 C492.3,787.7 492.9,794.3 492.9,803.2 C492.9,812.2 493.1,817.6 492.3,821.2 L493.3,824.2 L490.3,823.6 C487.9,824.8 485.6,825.1 484.5,825.1 L484.2,830.7 L483.0,830.7 L482.7,825.1 C481.6,825.1 479.3,824.8 476.9,823.6 L473.9,824.2 L474.9,821.2 C474.1,817.6 474.3,812.2 474.3,803.2 C474.3,794.3 474.9,787.7 476.7,783.5 L475.7,779.9 L478.5,778.1 C479.3,773.3 480.8,769.5 483.6,769.5 Z" fill="#d6d6d6"/>
<path d="M483.6,769.5 C486.4,769.5 487.9,773.3 488.7,778.1 L491.5,779.9 L490.5,783.5 C492.3,787.7 492.9,794.3 492.9,803.2 C492.9,812.2 493.1,817.6 492.3,821.2 L493.3,824.2 L490.3,823.6 C487.9,824.8 485.6,825.1 484.5,825.1 L484.2,830.7 L483.0,830.7 L482.7,825.1 C481.6,825.1 479.3,824.8 476.9,823.6 L473.9,824.2 L474.9,821.2 C474.1,817.6 474.3,812.2 474.3,803.2 C474.3,794.3 474.9,787.7 476.7,783.5 L475.7,779.9 L478.5,778.1 C479.3,773.3 480.8,769.5 483.6,769.5 Z" fill="url(#mg)"/>
<path d="M483.6,769.5 C486.4,769.5 487.9,773.3 488.7,778.1 L491.5,779.9 L490.5,783.5 C492.3,787.7 492.9,794.3 492.9,803.2 C492.9,812.2 493.1,817.6 492.3,821.2 L493.3,824.2 L490.3,823.6 C487.9,824.8 485.6,825.1 484.5,825.1 L484.2,830.7 L483.0,830.7 L482.7,825.1 C481.6,825.1 479.3,824.8 476.9,823.6 L473.9,824.2 L474.9,821.2 C474.1,817.6 474.3,812.2 474.3,803.2 C474.3,794.3 474.9,787.7 476.7,783.5 L475.7,779.9 L478.5,778.1 C479.3,773.3 480.8,769.5 483.6,769.5 Z" fill="url(#mh)"/>
<path d="M483.6,769.5 C486.4,769.5 487.9,773.3 488.7,778.1 L491.5,779.9 L490.5,783.5 C492.3,787.7 492.9,794.3 492.9,803.2 C492.9,812.2 493.1,817.6 492.3,821.2 L493.3,824.2 L490.3,823.6 C487.9,824.8 485.6,825.1 484.5,825.1 L484.2,830.7 L483.0,830.7 L482.7,825.1 C481.6,825.1 479.3,824.8 476.9,823.6 L473.9,824.2 L474.9,821.2 C474.1,817.6 474.3,812.2 474.3,803.2 C474.3,794.3 474.9,787.7 476.7,783.5 L475.7,779.9 L478.5,778.1 C479.3,773.3 480.8,769.5 483.6,769.5 Z" fill="#000" filter="url(#tex)" opacity="0.22"/>
</g>
<rect x="495.5" y="764.1" width="21.5" height="63.1" fill="#0d1013"/>
<g transform="rotate(0.0 506.3 803.2)">
<path d="M506.3,769.5 C509.0,769.5 510.6,773.3 511.4,778.1 L514.2,779.9 L513.2,783.5 C515.0,787.7 515.6,794.3 515.6,803.2 C515.6,812.2 515.7,817.6 515.0,821.2 L515.9,824.2 L513.0,823.6 C510.6,824.8 508.2,825.1 507.2,825.1 L506.9,830.7 L505.7,830.7 L505.4,825.1 C504.3,825.1 501.9,824.8 499.6,823.6 L496.6,824.2 L497.6,821.2 C496.8,817.6 497.0,812.2 497.0,803.2 C497.0,794.3 497.6,787.7 499.4,783.5 L498.4,779.9 L501.1,778.1 C501.9,773.3 503.5,769.5 506.3,769.5 Z" fill="#d6d6d6"/>
<path d="M506.3,769.5 C509.0,769.5 510.6,773.3 511.4,778.1 L514.2,779.9 L513.2,783.5 C515.0,787.7 515.6,794.3 515.6,803.2 C515.6,812.2 515.7,817.6 515.0,821.2 L515.9,824.2 L513.0,823.6 C510.6,824.8 508.2,825.1 507.2,825.1 L506.9,830.7 L505.7,830.7 L505.4,825.1 C504.3,825.1 501.9,824.8 499.6,823.6 L496.6,824.2 L497.6,821.2 C496.8,817.6 497.0,812.2 497.0,803.2 C497.0,794.3 497.6,787.7 499.4,783.5 L498.4,779.9 L501.1,778.1 C501.9,773.3 503.5,769.5 506.3,769.5 Z" fill="url(#mg)"/>
<path d="M506.3,769.5 C509.0,769.5 510.6,773.3 511.4,778.1 L514.2,779.9 L513.2,783.5 C515.0,787.7 515.6,794.3 515.6,803.2 C515.6,812.2 515.7,817.6 515.0,821.2 L515.9,824.2 L513.0,823.6 C510.6,824.8 508.2,825.1 507.2,825.1 L506.9,830.7 L505.7,830.7 L505.4,825.1 C504.3,825.1 501.9,824.8 499.6,823.6 L496.6,824.2 L497.6,821.2 C496.8,817.6 497.0,812.2 497.0,803.2 C497.0,794.3 497.6,787.7 499.4,783.5 L498.4,779.9 L501.1,778.1 C501.9,773.3 503.5,769.5 506.3,769.5 Z" fill="url(#mh)"/>
<path d="M506.3,769.5 C509.0,769.5 510.6,773.3 511.4,778.1 L514.2,779.9 L513.2,783.5 C515.0,787.7 515.6,794.3 515.6,803.2 C515.6,812.2 515.7,817.6 515.0,821.2 L515.9,824.2 L513.0,823.6 C510.6,824.8 508.2,825.1 507.2,825.1 L506.9,830.7 L505.7,830.7 L505.4,825.1 C504.3,825.1 501.9,824.8 499.6,823.6 L496.6,824.2 L497.6,821.2 C496.8,817.6 497.0,812.2 497.0,803.2 C497.0,794.3 497.6,787.7 499.4,783.5 L498.4,779.9 L501.1,778.1 C501.9,773.3 503.5,769.5 506.3,769.5 Z" fill="#000" filter="url(#tex)" opacity="0.22"/>
</g>
<rect x="518.2" y="764.1" width="21.5" height="63.1" fill="#121417"/>
<g transform="rotate(0.0 529.0 803.2)">
<path d="M529.0,769.5 C531.7,769.5 533.3,773.3 534.1,778.1 L536.9,779.9 L535.9,783.5 C537.6,787.7 538.2,794.3 538.2,803.2 C538.2,812.2 538.4,817.6 537.6,821.2 L538.6,824.2 L535.7,823.6 C533.3,824.8 530.9,825.1 529.8,825.1 L529.6,830.7 L528.4,830.7 L528.1,825.1 C527.0,825.1 524.6,824.8 522.2,823.6 L519.3,824.2 L520.3,821.2 C519.5,817.6 519.7,812.2 519.7,803.2 C519.7,794.3 520.3,787.7 522.1,783.5 L521.1,779.9 L523.8,778.1 C524.6,773.3 526.2,769.5 529.0,769.5 Z" fill="#d6d6d6"/>
<path d="M529.0,769.5 C531.7,769.5 533.3,773.3 534.1,778.1 L536.9,779.9 L535.9,783.5 C537.6,787.7 538.2,794.3 538.2,803.2 C538.2,812.2 538.4,817.6 537.6,821.2 L538.6,824.2 L535.7,823.6 C533.3,824.8 530.9,825.1 529.8,825.1 L529.6,830.7 L528.4,830.7 L528.1,825.1 C527.0,825.1 524.6,824.8 522.2,823.6 L519.3,824.2 L520.3,821.2 C519.5,817.6 519.7,812.2 519.7,803.2 C519.7,794.3 520.3,787.7 522.1,783.5 L521.1,779.9 L523.8,778.1 C524.6,773.3 526.2,769.5 529.0,769.5 Z" fill="url(#mg)"/>
<path d="M529.0,769.5 C531.7,769.5 533.3,773.3 534.1,778.1 L536.9,779.9 L535.9,783.5 C537.6,787.7 538.2,794.3 538.2,803.2 C538.2,812.2 538.4,817.6 537.6,821.2 L538.6,824.2 L535.7,823.6 C533.3,824.8 530.9,825.1 529.8,825.1 L529.6,830.7 L528.4,830.7 L528.1,825.1 C527.0,825.1 524.6,824.8 522.2,823.6 L519.3,824.2 L520.3,821.2 C519.5,817.6 519.7,812.2 519.7,803.2 C519.7,794.3 520.3,787.7 522.1,783.5 L521.1,779.9 L523.8,778.1 C524.6,773.3 526.2,769.5 529.0,769.5 Z" fill="url(#mh)"/>
<path d="M529.0,769.5 C531.7,769.5 533.3,773.3 534.1,778.1 L536.9,779.9 L535.9,783.5 C537.6,787.7 538.2,794.3 538.2,803.2 C538.2,812.2 538.4,817.6 537.6,821.2 L538.6,824.2 L535.7,823.6 C533.3,824.8 530.9,825.1 529.8,825.1 L529.6,830.7 L528.4,830.7 L528.1,825.1 C527.0,825.1 524.6,824.8 522.2,823.6 L519.3,824.2 L520.3,821.2 C519.5,817.6 519.7,812.2 519.7,803.2 C519.7,794.3 520.3,787.7 522.1,783.5 L521.1,779.9 L523.8,778.1 C524.6,773.3 526.2,769.5 529.0,769.5 Z" fill="#000" filter="url(#tex)" opacity="0.22"/>
</g>
<rect x="404.8" y="828.4" width="21.5" height="61.8" fill="#121417"/>
<g transform="rotate(0.0 415.5 866.7)">
<path d="M415.5,833.6 C418.3,833.6 419.9,837.4 420.7,842.1 L423.4,843.9 L422.4,847.4 C424.2,851.5 424.8,857.9 424.8,866.7 C424.8,875.5 425.0,880.8 424.2,884.3 L425.2,887.2 L422.3,886.7 C419.9,887.8 417.5,888.1 416.4,888.1 L416.1,893.7 L414.9,893.7 L414.7,888.1 C413.6,888.1 411.2,887.8 408.8,886.7 L405.9,887.2 L406.9,884.3 C406.1,880.8 406.3,875.5 406.3,866.7 C406.3,857.9 406.9,851.5 408.6,847.4 L407.6,843.9 L410.4,842.1 C411.2,837.4 412.8,833.6 415.5,833.6 Z" fill="#d6d6d6"/>
<path d="M415.5,833.6 C418.3,833.6 419.9,837.4 420.7,842.1 L423.4,843.9 L422.4,847.4 C424.2,851.5 424.8,857.9 424.8,866.7 C424.8,875.5 425.0,880.8 424.2,884.3 L425.2,887.2 L422.3,886.7 C419.9,887.8 417.5,888.1 416.4,888.1 L416.1,893.7 L414.9,893.7 L414.7,888.1 C413.6,888.1 411.2,887.8 408.8,886.7 L405.9,887.2 L406.9,884.3 C406.1,880.8 406.3,875.5 406.3,866.7 C406.3,857.9 406.9,851.5 408.6,847.4 L407.6,843.9 L410.4,842.1 C411.2,837.4 412.8,833.6 415.5,833.6 Z" fill="url(#mg)"/>
<path d="M415.5,833.6 C418.3,833.6 419.9,837.4 420.7,842.1 L423.4,843.9 L422.4,847.4 C424.2,851.5 424.8,857.9 424.8,866.7 C424.8,875.5 425.0,880.8 424.2,884.3 L425.2,887.2 L422.3,886.7 C419.9,887.8 417.5,888.1 416.4,888.1 L416.1,893.7 L414.9,893.7 L414.7,888.1 C413.6,888.1 411.2,887.8 408.8,886.7 L405.9,887.2 L406.9,884.3 C406.1,880.8 406.3,875.5 406.3,866.7 C406.3,857.9 406.9,851.5 408.6,847.4 L407.6,843.9 L410.4,842.1 C411.2,837.4 412.8,833.6 415.5,833.6 Z" fill="url(#mh)"/>
<path d="M415.5,833.6 C418.3,833.6 419.9,837.4 420.7,842.1 L423.4,843.9 L422.4,847.4 C424.2,851.5 424.8,857.9 424.8,866.7 C424.8,875.5 425.0,880.8 424.2,884.3 L425.2,887.2 L422.3,886.7 C419.9,887.8 417.5,888.1 416.4,888.1 L416.1,893.7 L414.9,893.7 L414.7,888.1 C413.6,888.1 411.2,887.8 408.8,886.7 L405.9,887.2 L406.9,884.3 C406.1,880.8 406.3,875.5 406.3,866.7 C406.3,857.9 406.9,851.5 408.6,847.4 L407.6,843.9 L410.4,842.1 C411.2,837.4 412.8,833.6 415.5,833.6 Z" fill="#000" filter="url(#tex)" opacity="0.22"/>
</g>
<rect x="427.5" y="828.4" width="21.5" height="61.8" fill="#0d1013"/>
<g transform="rotate(0.0 438.2 866.7)">
<path d="M438.2,833.6 C441.0,833.6 442.6,837.4 443.4,842.1 L446.1,843.9 L445.1,847.4 C446.9,851.5 447.5,857.9 447.5,866.7 C447.5,875.5 447.7,880.8 446.9,884.3 L447.9,887.2 L444.9,886.7 C442.6,887.8 440.2,888.1 439.1,888.1 L438.8,893.7 L437.6,893.7 L437.3,888.1 C436.3,888.1 433.9,887.8 431.5,886.7 L428.6,887.2 L429.5,884.3 C428.8,880.8 428.9,875.5 428.9,866.7 C428.9,857.9 429.5,851.5 431.3,847.4 L430.3,843.9 L433.1,842.1 C433.9,837.4 435.5,833.6 438.2,833.6 Z" fill="#d6d6d6"/>
<path d="M438.2,833.6 C441.0,833.6 442.6,837.4 443.4,842.1 L446.1,843.9 L445.1,847.4 C446.9,851.5 447.5,857.9 447.5,866.7 C447.5,875.5 447.7,880.8 446.9,884.3 L447.9,887.2 L444.9,886.7 C442.6,887.8 440.2,888.1 439.1,888.1 L438.8,893.7 L437.6,893.7 L437.3,888.1 C436.3,888.1 433.9,887.8 431.5,886.7 L428.6,887.2 L429.5,884.3 C428.8,880.8 428.9,875.5 428.9,866.7 C428.9,857.9 429.5,851.5 431.3,847.4 L430.3,843.9 L433.1,842.1 C433.9,837.4 435.5,833.6 438.2,833.6 Z" fill="url(#mg)"/>
<path d="M438.2,833.6 C441.0,833.6 442.6,837.4 443.4,842.1 L446.1,843.9 L445.1,847.4 C446.9,851.5 447.5,857.9 447.5,866.7 C447.5,875.5 447.7,880.8 446.9,884.3 L447.9,887.2 L444.9,886.7 C442.6,887.8 440.2,888.1 439.1,888.1 L438.8,893.7 L437.6,893.7 L437.3,888.1 C436.3,888.1 433.9,887.8 431.5,886.7 L428.6,887.2 L429.5,884.3 C428.8,880.8 428.9,875.5 428.9,866.7 C428.9,857.9 429.5,851.5 431.3,847.4 L430.3,843.9 L433.1,842.1 C433.9,837.4 435.5,833.6 438.2,833.6 Z" fill="url(#mh)"/>
<path d="M438.2,833.6 C441.0,833.6 442.6,837.4 443.4,842.1 L446.1,843.9 L445.1,847.4 C446.9,851.5 447.5,857.9 447.5,866.7 C447.5,875.5 447.7,880.8 446.9,884.3 L447.9,887.2 L444.9,886.7 C442.6,887.8 440.2,888.1 439.1,888.1 L438.8,893.7 L437.6,893.7 L437.3,888.1 C436.3,888.1 433.9,887.8 431.5,886.7 L428.6,887.2 L429.5,884.3 C428.8,880.8 428.9,875.5 428.9,866.7 C428.9,857.9 429.5,851.5 431.3,847.4 L430.3,843.9 L433.1,842.1 C433.9,837.4 435.5,833.6 438.2,833.6 Z" fill="#000" filter="url(#tex)" opacity="0.22"/>
</g>
<rect x="450.2" y="828.4" width="21.5" height="61.8" fill="#121417"/>
<g transform="rotate(0.0 460.9 866.7)">
<path d="M460.9,833.6 C463.7,833.6 465.2,837.4 466.0,842.1 L468.8,843.9 L467.8,847.4 C469.6,851.5 470.2,857.9 470.2,866.7 C470.2,875.5 470.4,880.8 469.6,884.3 L470.6,887.2 L467.6,886.7 C465.2,887.8 462.9,888.1 461.8,888.1 L461.5,893.7 L460.3,893.7 L460.0,888.1 C458.9,888.1 456.6,887.8 454.2,886.7 L451.2,887.2 L452.2,884.3 C451.4,880.8 451.6,875.5 451.6,866.7 C451.6,857.9 452.2,851.5 454.0,847.4 L453.0,843.9 L455.8,842.1 C456.6,837.4 458.1,833.6 460.9,833.6 Z" fill="#d6d6d6"/>
<path d="M460.9,833.6 C463.7,833.6 465.2,837.4 466.0,842.1 L468.8,843.9 L467.8,847.4 C469.6,851.5 470.2,857.9 470.2,866.7 C470.2,875.5 470.4,880.8 469.6,884.3 L470.6,887.2 L467.6,886.7 C465.2,887.8 462.9,888.1 461.8,888.1 L461.5,893.7 L460.3,893.7 L460.0,888.1 C458.9,888.1 456.6,887.8 454.2,886.7 L451.2,887.2 L452.2,884.3 C451.4,880.8 451.6,875.5 451.6,866.7 C451.6,857.9 452.2,851.5 454.0,847.4 L453.0,843.9 L455.8,842.1 C456.6,837.4 458.1,833.6 460.9,833.6 Z" fill="url(#mg)"/>
<path d="M460.9,833.6 C463.7,833.6 465.2,837.4 466.0,842.1 L468.8,843.9 L467.8,847.4 C469.6,851.5 470.2,857.9 470.2,866.7 C470.2,875.5 470.4,880.8 469.6,884.3 L470.6,887.2 L467.6,886.7 C465.2,887.8 462.9,888.1 461.8,888.1 L461.5,893.7 L460.3,893.7 L460.0,888.1 C458.9,888.1 456.6,887.8 454.2,886.7 L451.2,887.2 L452.2,884.3 C451.4,880.8 451.6,875.5 451.6,866.7 C451.6,857.9 452.2,851.5 454.0,847.4 L453.0,843.9 L455.8,842.1 C456.6,837.4 458.1,833.6 460.9,833.6 Z" fill="url(#mh)"/>
<path d="M460.9,833.6 C463.7,833.6 465.2,837.4 466.0,842.1 L468.8,843.9 L467.8,847.4 C469.6,851.5 470.2,857.9 470.2,866.7 C470.2,875.5 470.4,880.8 469.6,884.3 L470.6,887.2 L467.6,886.7 C465.2,887.8 462.9,888.1 461.8,888.1 L461.5,893.7 L460.3,893.7 L460.0,888.1 C458.9,888.1 456.6,887.8 454.2,886.7 L451.2,887.2 L452.2,884.3 C451.4,880.8 451.6,875.5 451.6,866.7 C451.6,857.9 452.2,851.5 454.0,847.4 L453.0,843.9 L455.8,842.1 C456.6,837.4 458.1,833.6 460.9,833.6 Z" fill="#000" filter="url(#tex)" opacity="0.22"/>
</g>
<rect x="472.9" y="828.4" width="21.5" height="61.8" fill="#0d1013"/>
<g transform="rotate(0.0 483.6 866.7)">
<path d="M483.6,833.6 C486.4,833.6 487.9,837.4 488.7,842.1 L491.5,843.9 L490.5,847.4 C492.3,851.5 492.9,857.9 492.9,866.7 C492.9,875.5 493.1,880.8 492.3,884.3 L493.3,887.2 L490.3,886.7 C487.9,887.8 485.6,888.1 484.5,888.1 L484.2,893.7 L483.0,893.7 L482.7,888.1 C481.6,888.1 479.3,887.8 476.9,886.7 L473.9,887.2 L474.9,884.3 C474.1,880.8 474.3,875.5 474.3,866.7 C474.3,857.9 474.9,851.5 476.7,847.4 L475.7,843.9 L478.5,842.1 C479.3,837.4 480.8,833.6 483.6,833.6 Z" fill="#d6d6d6"/>
<path d="M483.6,833.6 C486.4,833.6 487.9,837.4 488.7,842.1 L491.5,843.9 L490.5,847.4 C492.3,851.5 492.9,857.9 492.9,866.7 C492.9,875.5 493.1,880.8 492.3,884.3 L493.3,887.2 L490.3,886.7 C487.9,887.8 485.6,888.1 484.5,888.1 L484.2,893.7 L483.0,893.7 L482.7,888.1 C481.6,888.1 479.3,887.8 476.9,886.7 L473.9,887.2 L474.9,884.3 C474.1,880.8 474.3,875.5 474.3,866.7 C474.3,857.9 474.9,851.5 476.7,847.4 L475.7,843.9 L478.5,842.1 C479.3,837.4 480.8,833.6 483.6,833.6 Z" fill="url(#mg)"/>
<path d="M483.6,833.6 C486.4,833.6 487.9,837.4 488.7,842.1 L491.5,843.9 L490.5,847.4 C492.3,851.5 492.9,857.9 492.9,866.7 C492.9,875.5 493.1,880.8 492.3,884.3 L493.3,887.2 L490.3,886.7 C487.9,887.8 485.6,888.1 484.5,888.1 L484.2,893.7 L483.0,893.7 L482.7,888.1 C481.6,888.1 479.3,887.8 476.9,886.7 L473.9,887.2 L474.9,884.3 C474.1,880.8 474.3,875.5 474.3,866.7 C474.3,857.9 474.9,851.5 476.7,847.4 L475.7,843.9 L478.5,842.1 C479.3,837.4 480.8,833.6 483.6,833.6 Z" fill="url(#mh)"/>
<path d="M483.6,833.6 C486.4,833.6 487.9,837.4 488.7,842.1 L491.5,843.9 L490.5,847.4 C492.3,851.5 492.9,857.9 492.9,866.7 C492.9,875.5 493.1,880.8 492.3,884.3 L493.3,887.2 L490.3,886.7 C487.9,887.8 485.6,888.1 484.5,888.1 L484.2,893.7 L483.0,893.7 L482.7,888.1 C481.6,888.1 479.3,887.8 476.9,886.7 L473.9,887.2 L474.9,884.3 C474.1,880.8 474.3,875.5 474.3,866.7 C474.3,857.9 474.9,851.5 476.7,847.4 L475.7,843.9 L478.5,842.1 C479.3,837.4 480.8,833.6 483.6,833.6 Z" fill="#000" filter="url(#tex)" opacity="0.22"/>
</g>
<rect x="495.5" y="828.4" width="21.5" height="61.8" fill="#121417"/>
<g transform="rotate(0.0 506.3 866.7)">
<path d="M506.3,833.6 C509.0,833.6 510.6,837.4 511.4,842.1 L514.2,843.9 L513.2,847.4 C515.0,851.5 515.6,857.9 515.6,866.7 C515.6,875.5 515.7,880.8 515.0,884.3 L515.9,887.2 L513.0,886.7 C510.6,887.8 508.2,888.1 507.2,888.1 L506.9,893.7 L505.7,893.7 L505.4,888.1 C504.3,888.1 501.9,887.8 499.6,886.7 L496.6,887.2 L497.6,884.3 C496.8,880.8 497.0,875.5 497.0,866.7 C497.0,857.9 497.6,851.5 499.4,847.4 L498.4,843.9 L501.1,842.1 C501.9,837.4 503.5,833.6 506.3,833.6 Z" fill="#d6d6d6"/>
<path d="M506.3,833.6 C509.0,833.6 510.6,837.4 511.4,842.1 L514.2,843.9 L513.2,847.4 C515.0,851.5 515.6,857.9 515.6,866.7 C515.6,875.5 515.7,880.8 515.0,884.3 L515.9,887.2 L513.0,886.7 C510.6,887.8 508.2,888.1 507.2,888.1 L506.9,893.7 L505.7,893.7 L505.4,888.1 C504.3,888.1 501.9,887.8 499.6,886.7 L496.6,887.2 L497.6,884.3 C496.8,880.8 497.0,875.5 497.0,866.7 C497.0,857.9 497.6,851.5 499.4,847.4 L498.4,843.9 L501.1,842.1 C501.9,837.4 503.5,833.6 506.3,833.6 Z" fill="url(#mg)"/>
<path d="M506.3,833.6 C509.0,833.6 510.6,837.4 511.4,842.1 L514.2,843.9 L513.2,847.4 C515.0,851.5 515.6,857.9 515.6,866.7 C515.6,875.5 515.7,880.8 515.0,884.3 L515.9,887.2 L513.0,886.7 C510.6,887.8 508.2,888.1 507.2,888.1 L506.9,893.7 L505.7,893.7 L505.4,888.1 C504.3,888.1 501.9,887.8 499.6,886.7 L496.6,887.2 L497.6,884.3 C496.8,880.8 497.0,875.5 497.0,866.7 C497.0,857.9 497.6,851.5 499.4,847.4 L498.4,843.9 L501.1,842.1 C501.9,837.4 503.5,833.6 506.3,833.6 Z" fill="url(#mh)"/>
<path d="M506.3,833.6 C509.0,833.6 510.6,837.4 511.4,842.1 L514.2,843.9 L513.2,847.4 C515.0,851.5 515.6,857.9 515.6,866.7 C515.6,875.5 515.7,880.8 515.0,884.3 L515.9,887.2 L513.0,886.7 C510.6,887.8 508.2,888.1 507.2,888.1 L506.9,893.7 L505.7,893.7 L505.4,888.1 C504.3,888.1 501.9,887.8 499.6,886.7 L496.6,887.2 L497.6,884.3 C496.8,880.8 497.0,875.5 497.0,866.7 C497.0,857.9 497.6,851.5 499.4,847.4 L498.4,843.9 L501.1,842.1 C501.9,837.4 503.5,833.6 506.3,833.6 Z" fill="#000" filter="url(#tex)" opacity="0.22"/>
</g>
<rect x="518.2" y="828.4" width="21.5" height="61.8" fill="#0d1013"/>
<g transform="rotate(0.0 529.0 866.7)">
<path d="M529.0,833.6 C531.7,833.6 533.3,837.4 534.1,842.1 L536.9,843.9 L535.9,847.4 C537.6,851.5 538.2,857.9 538.2,866.7 C538.2,875.5 538.4,880.8 537.6,884.3 L538.6,887.2 L535.7,886.7 C533.3,887.8 530.9,888.1 529.8,888.1 L529.6,893.7 L528.4,893.7 L528.1,888.1 C527.0,888.1 524.6,887.8 522.2,886.7 L519.3,887.2 L520.3,884.3 C519.5,880.8 519.7,875.5 519.7,866.7 C519.7,857.9 520.3,851.5 522.1,847.4 L521.1,843.9 L523.8,842.1 C524.6,837.4 526.2,833.6 529.0,833.6 Z" fill="#d6d6d6"/>
<path d="M529.0,833.6 C531.7,833.6 533.3,837.4 534.1,842.1 L536.9,843.9 L535.9,847.4 C537.6,851.5 538.2,857.9 538.2,866.7 C538.2,875.5 538.4,880.8 537.6,884.3 L538.6,887.2 L535.7,886.7 C533.3,887.8 530.9,888.1 529.8,888.1 L529.6,893.7 L528.4,893.7 L528.1,888.1 C527.0,888.1 524.6,887.8 522.2,886.7 L519.3,887.2 L520.3,884.3 C519.5,880.8 519.7,875.5 519.7,866.7 C519.7,857.9 520.3,851.5 522.1,847.4 L521.1,843.9 L523.8,842.1 C524.6,837.4 526.2,833.6 529.0,833.6 Z" fill="url(#mg)"/>
<path d="M529.0,833.6 C531.7,833.6 533.3,837.4 534.1,842.1 L536.9,843.9 L535.9,847.4 C537.6,851.5 538.2,857.9 538.2,866.7 C538.2,875.5 538.4,880.8 537.6,884.3 L538.6,887.2 L535.7,886.7 C533.3,887.8 530.9,888.1 529.8,888.1 L529.6,893.7 L528.4,893.7 L528.1,888.1 C527.0,888.1 524.6,887.8 522.2,886.7 L519.3,887.2 L520.3,884.3 C519.5,880.8 519.7,875.5 519.7,866.7 C519.7,857.9 520.3,851.5 522.1,847.4 L521.1,843.9 L523.8,842.1 C524.6,837.4 526.2,833.6 529.0,833.6 Z" fill="url(#mh)"/>
<path d="M529.0,833.6 C531.7,833.6 533.3,837.4 534.1,842.1 L536.9,843.9 L535.9,847.4 C537.6,851.5 538.2,857.9 538.2,866.7 C538.2,875.5 538.4,880.8 537.6,884.3 L538.6,887.2 L535.7,886.7 C533.3,887.8 530.9,888.1 529.8,888.1 L529.6,893.7 L528.4,893.7 L528.1,888.1 C527.0,888.1 524.6,887.8 522.2,886.7 L519.3,887.2 L520.3,884.3 C519.5,880.8 519.7,875.5 519.7,866.7 C519.7,857.9 520.3,851.5 522.1,847.4 L521.1,843.9 L523.8,842.1 C524.6,837.4 526.2,833.6 529.0,833.6 Z" fill="#000" filter="url(#tex)" opacity="0.22"/>
</g>
<rect x="404.8" y="891.4" width="21.5" height="61.5" fill="#0d1013"/>
<g transform="rotate(0.0 415.5 929.5)">
<path d="M415.5,896.6 C418.3,896.6 419.9,900.4 420.7,905.1 L423.4,906.8 L422.4,910.3 C424.2,914.4 424.8,920.8 424.8,929.5 C424.8,938.3 425.0,943.5 424.2,947.0 L425.2,950.0 L422.3,949.4 C419.9,950.5 417.5,950.8 416.4,950.8 L416.1,956.4 L414.9,956.4 L414.7,950.8 C413.6,950.8 411.2,950.5 408.8,949.4 L405.9,950.0 L406.9,947.0 C406.1,943.5 406.3,938.3 406.3,929.5 C406.3,920.8 406.9,914.4 408.6,910.3 L407.6,906.8 L410.4,905.1 C411.2,900.4 412.8,896.6 415.5,896.6 Z" fill="#d6d6d6"/>
<path d="M415.5,896.6 C418.3,896.6 419.9,900.4 420.7,905.1 L423.4,906.8 L422.4,910.3 C424.2,914.4 424.8,920.8 424.8,929.5 C424.8,938.3 425.0,943.5 424.2,947.0 L425.2,950.0 L422.3,949.4 C419.9,950.5 417.5,950.8 416.4,950.8 L416.1,956.4 L414.9,956.4 L414.7,950.8 C413.6,950.8 411.2,950.5 408.8,949.4 L405.9,950.0 L406.9,947.0 C406.1,943.5 406.3,938.3 406.3,929.5 C406.3,920.8 406.9,914.4 408.6,910.3 L407.6,906.8 L410.4,905.1 C411.2,900.4 412.8,896.6 415.5,896.6 Z" fill="url(#mg)"/>
<path d="M415.5,896.6 C418.3,896.6 419.9,900.4 420.7,905.1 L423.4,906.8 L422.4,910.3 C424.2,914.4 424.8,920.8 424.8,929.5 C424.8,938.3 425.0,943.5 424.2,947.0 L425.2,950.0 L422.3,949.4 C419.9,950.5 417.5,950.8 416.4,950.8 L416.1,956.4 L414.9,956.4 L414.7,950.8 C413.6,950.8 411.2,950.5 408.8,949.4 L405.9,950.0 L406.9,947.0 C406.1,943.5 406.3,938.3 406.3,929.5 C406.3,920.8 406.9,914.4 408.6,910.3 L407.6,906.8 L410.4,905.1 C411.2,900.4 412.8,896.6 415.5,896.6 Z" fill="url(#mh)"/>
<path d="M415.5,896.6 C418.3,896.6 419.9,900.4 420.7,905.1 L423.4,906.8 L422.4,910.3 C424.2,914.4 424.8,920.8 424.8,929.5 C424.8,938.3 425.0,943.5 424.2,947.0 L425.2,950.0 L422.3,949.4 C419.9,950.5 417.5,950.8 416.4,950.8 L416.1,956.4 L414.9,956.4 L414.7,950.8 C413.6,950.8 411.2,950.5 408.8,949.4 L405.9,950.0 L406.9,947.0 C406.1,943.5 406.3,938.3 406.3,929.5 C406.3,920.8 406.9,914.4 408.6,910.3 L407.6,906.8 L410.4,905.1 C411.2,900.4 412.8,896.6 415.5,896.6 Z" fill="#000" filter="url(#tex)" opacity="0.22"/>
</g>
<rect x="427.5" y="891.4" width="21.5" height="61.5" fill="#121417"/>
<g transform="rotate(0.0 438.2 929.5)">
<path d="M438.2,896.6 C441.0,896.6 442.6,900.4 443.4,905.1 L446.1,906.8 L445.1,910.3 C446.9,914.4 447.5,920.8 447.5,929.5 C447.5,938.3 447.7,943.5 446.9,947.0 L447.9,950.0 L444.9,949.4 C442.6,950.5 440.2,950.8 439.1,950.8 L438.8,956.4 L437.6,956.4 L437.3,950.8 C436.3,950.8 433.9,950.5 431.5,949.4 L428.6,950.0 L429.5,947.0 C428.8,943.5 428.9,938.3 428.9,929.5 C428.9,920.8 429.5,914.4 431.3,910.3 L430.3,906.8 L433.1,905.1 C433.9,900.4 435.5,896.6 438.2,896.6 Z" fill="#d6d6d6"/>
<path d="M438.2,896.6 C441.0,896.6 442.6,900.4 443.4,905.1 L446.1,906.8 L445.1,910.3 C446.9,914.4 447.5,920.8 447.5,929.5 C447.5,938.3 447.7,943.5 446.9,947.0 L447.9,950.0 L444.9,949.4 C442.6,950.5 440.2,950.8 439.1,950.8 L438.8,956.4 L437.6,956.4 L437.3,950.8 C436.3,950.8 433.9,950.5 431.5,949.4 L428.6,950.0 L429.5,947.0 C428.8,943.5 428.9,938.3 428.9,929.5 C428.9,920.8 429.5,914.4 431.3,910.3 L430.3,906.8 L433.1,905.1 C433.9,900.4 435.5,896.6 438.2,896.6 Z" fill="url(#mg)"/>
<path d="M438.2,896.6 C441.0,896.6 442.6,900.4 443.4,905.1 L446.1,906.8 L445.1,910.3 C446.9,914.4 447.5,920.8 447.5,929.5 C447.5,938.3 447.7,943.5 446.9,947.0 L447.9,950.0 L444.9,949.4 C442.6,950.5 440.2,950.8 439.1,950.8 L438.8,956.4 L437.6,956.4 L437.3,950.8 C436.3,950.8 433.9,950.5 431.5,949.4 L428.6,950.0 L429.5,947.0 C428.8,943.5 428.9,938.3 428.9,929.5 C428.9,920.8 429.5,914.4 431.3,910.3 L430.3,906.8 L433.1,905.1 C433.9,900.4 435.5,896.6 438.2,896.6 Z" fill="url(#mh)"/>
<path d="M438.2,896.6 C441.0,896.6 442.6,900.4 443.4,905.1 L446.1,906.8 L445.1,910.3 C446.9,914.4 447.5,920.8 447.5,929.5 C447.5,938.3 447.7,943.5 446.9,947.0 L447.9,950.0 L444.9,949.4 C442.6,950.5 440.2,950.8 439.1,950.8 L438.8,956.4 L437.6,956.4 L437.3,950.8 C436.3,950.8 433.9,950.5 431.5,949.4 L428.6,950.0 L429.5,947.0 C428.8,943.5 428.9,938.3 428.9,929.5 C428.9,920.8 429.5,914.4 431.3,910.3 L430.3,906.8 L433.1,905.1 C433.9,900.4 435.5,896.6 438.2,896.6 Z" fill="#000" filter="url(#tex)" opacity="0.22"/>
</g>
<rect x="450.2" y="891.4" width="21.5" height="61.5" fill="#0d1013"/>
<g transform="rotate(0.0 460.9 929.5)">
<path d="M460.9,896.6 C463.7,896.6 465.2,900.4 466.0,905.1 L468.8,906.8 L467.8,910.3 C469.6,914.4 470.2,920.8 470.2,929.5 C470.2,938.3 470.4,943.5 469.6,947.0 L470.6,950.0 L467.6,949.4 C465.2,950.5 462.9,950.8 461.8,950.8 L461.5,956.4 L460.3,956.4 L460.0,950.8 C458.9,950.8 456.6,950.5 454.2,949.4 L451.2,950.0 L452.2,947.0 C451.4,943.5 451.6,938.3 451.6,929.5 C451.6,920.8 452.2,914.4 454.0,910.3 L453.0,906.8 L455.8,905.1 C456.6,900.4 458.1,896.6 460.9,896.6 Z" fill="#d6d6d6"/>
<path d="M460.9,896.6 C463.7,896.6 465.2,900.4 466.0,905.1 L468.8,906.8 L467.8,910.3 C469.6,914.4 470.2,920.8 470.2,929.5 C470.2,938.3 470.4,943.5 469.6,947.0 L470.6,950.0 L467.6,949.4 C465.2,950.5 462.9,950.8 461.8,950.8 L461.5,956.4 L460.3,956.4 L460.0,950.8 C458.9,950.8 456.6,950.5 454.2,949.4 L451.2,950.0 L452.2,947.0 C451.4,943.5 451.6,938.3 451.6,929.5 C451.6,920.8 452.2,914.4 454.0,910.3 L453.0,906.8 L455.8,905.1 C456.6,900.4 458.1,896.6 460.9,896.6 Z" fill="url(#mg)"/>
<path d="M460.9,896.6 C463.7,896.6 465.2,900.4 466.0,905.1 L468.8,906.8 L467.8,910.3 C469.6,914.4 470.2,920.8 470.2,929.5 C470.2,938.3 470.4,943.5 469.6,947.0 L470.6,950.0 L467.6,949.4 C465.2,950.5 462.9,950.8 461.8,950.8 L461.5,956.4 L460.3,956.4 L460.0,950.8 C458.9,950.8 456.6,950.5 454.2,949.4 L451.2,950.0 L452.2,947.0 C451.4,943.5 451.6,938.3 451.6,929.5 C451.6,920.8 452.2,914.4 454.0,910.3 L453.0,906.8 L455.8,905.1 C456.6,900.4 458.1,896.6 460.9,896.6 Z" fill="url(#mh)"/>
<path d="M460.9,896.6 C463.7,896.6 465.2,900.4 466.0,905.1 L468.8,906.8 L467.8,910.3 C469.6,914.4 470.2,920.8 470.2,929.5 C470.2,938.3 470.4,943.5 469.6,947.0 L470.6,950.0 L467.6,949.4 C465.2,950.5 462.9,950.8 461.8,950.8 L461.5,956.4 L460.3,956.4 L460.0,950.8 C458.9,950.8 456.6,950.5 454.2,949.4 L451.2,950.0 L452.2,947.0 C451.4,943.5 451.6,938.3 451.6,929.5 C451.6,920.8 452.2,914.4 454.0,910.3 L453.0,906.8 L455.8,905.1 C456.6,900.4 458.1,896.6 460.9,896.6 Z" fill="#000" filter="url(#tex)" opacity="0.22"/>
</g>
<rect x="472.9" y="891.4" width="21.5" height="61.5" fill="#121417"/>
<g transform="rotate(0.0 483.6 929.5)">
<path d="M483.6,896.6 C486.4,896.6 487.9,900.4 488.7,905.1 L491.5,906.8 L490.5,910.3 C492.3,914.4 492.9,920.8 492.9,929.5 C492.9,938.3 493.1,943.5 492.3,947.0 L493.3,950.0 L490.3,949.4 C487.9,950.5 485.6,950.8 484.5,950.8 L484.2,956.4 L483.0,956.4 L482.7,950.8 C481.6,950.8 479.3,950.5 476.9,949.4 L473.9,950.0 L474.9,947.0 C474.1,943.5 474.3,938.3 474.3,929.5 C474.3,920.8 474.9,914.4 476.7,910.3 L475.7,906.8 L478.5,905.1 C479.3,900.4 480.8,896.6 483.6,896.6 Z" fill="#d6d6d6"/>
<path d="M483.6,896.6 C486.4,896.6 487.9,900.4 488.7,905.1 L491.5,906.8 L490.5,910.3 C492.3,914.4 492.9,920.8 492.9,929.5 C492.9,938.3 493.1,943.5 492.3,947.0 L493.3,950.0 L490.3,949.4 C487.9,950.5 485.6,950.8 484.5,950.8 L484.2,956.4 L483.0,956.4 L482.7,950.8 C481.6,950.8 479.3,950.5 476.9,949.4 L473.9,950.0 L474.9,947.0 C474.1,943.5 474.3,938.3 474.3,929.5 C474.3,920.8 474.9,914.4 476.7,910.3 L475.7,906.8 L478.5,905.1 C479.3,900.4 480.8,896.6 483.6,896.6 Z" fill="url(#mg)"/>
<path d="M483.6,896.6 C486.4,896.6 487.9,900.4 488.7,905.1 L491.5,906.8 L490.5,910.3 C492.3,914.4 492.9,920.8 492.9,929.5 C492.9,938.3 493.1,943.5 492.3,947.0 L493.3,950.0 L490.3,949.4 C487.9,950.5 485.6,950.8 484.5,950.8 L484.2,956.4 L483.0,956.4 L482.7,950.8 C481.6,950.8 479.3,950.5 476.9,949.4 L473.9,950.0 L474.9,947.0 C474.1,943.5 474.3,938.3 474.3,929.5 C474.3,920.8 474.9,914.4 476.7,910.3 L475.7,906.8 L478.5,905.1 C479.3,900.4 480.8,896.6 483.6,896.6 Z" fill="url(#mh)"/>
<path d="M483.6,896.6 C486.4,896.6 487.9,900.4 488.7,905.1 L491.5,906.8 L490.5,910.3 C492.3,914.4 492.9,920.8 492.9,929.5 C492.9,938.3 493.1,943.5 492.3,947.0 L493.3,950.0 L490.3,949.4 C487.9,950.5 485.6,950.8 484.5,950.8 L484.2,956.4 L483.0,956.4 L482.7,950.8 C481.6,950.8 479.3,950.5 476.9,949.4 L473.9,950.0 L474.9,947.0 C474.1,943.5 474.3,938.3 474.3,929.5 C474.3,920.8 474.9,914.4 476.7,910.3 L475.7,906.8 L478.5,905.1 C479.3,900.4 480.8,896.6 483.6,896.6 Z" fill="#000" filter="url(#tex)" opacity="0.22"/>
</g>
<rect x="495.5" y="891.4" width="21.5" height="61.5" fill="#0d1013"/>
<g transform="rotate(0.0 506.3 929.5)">
<path d="M506.3,896.6 C509.0,896.6 510.6,900.4 511.4,905.1 L514.2,906.8 L513.2,910.3 C515.0,914.4 515.6,920.8 515.6,929.5 C515.6,938.3 515.7,943.5 515.0,947.0 L515.9,950.0 L513.0,949.4 C510.6,950.5 508.2,950.8 507.2,950.8 L506.9,956.4 L505.7,956.4 L505.4,950.8 C504.3,950.8 501.9,950.5 499.6,949.4 L496.6,950.0 L497.6,947.0 C496.8,943.5 497.0,938.3 497.0,929.5 C497.0,920.8 497.6,914.4 499.4,910.3 L498.4,906.8 L501.1,905.1 C501.9,900.4 503.5,896.6 506.3,896.6 Z" fill="#d6d6d6"/>
<path d="M506.3,896.6 C509.0,896.6 510.6,900.4 511.4,905.1 L514.2,906.8 L513.2,910.3 C515.0,914.4 515.6,920.8 515.6,929.5 C515.6,938.3 515.7,943.5 515.0,947.0 L515.9,950.0 L513.0,949.4 C510.6,950.5 508.2,950.8 507.2,950.8 L506.9,956.4 L505.7,956.4 L505.4,950.8 C504.3,950.8 501.9,950.5 499.6,949.4 L496.6,950.0 L497.6,947.0 C496.8,943.5 497.0,938.3 497.0,929.5 C497.0,920.8 497.6,914.4 499.4,910.3 L498.4,906.8 L501.1,905.1 C501.9,900.4 503.5,896.6 506.3,896.6 Z" fill="url(#mg)"/>
<path d="M506.3,896.6 C509.0,896.6 510.6,900.4 511.4,905.1 L514.2,906.8 L513.2,910.3 C515.0,914.4 515.6,920.8 515.6,929.5 C515.6,938.3 515.7,943.5 515.0,947.0 L515.9,950.0 L513.0,949.4 C510.6,950.5 508.2,950.8 507.2,950.8 L506.9,956.4 L505.7,956.4 L505.4,950.8 C504.3,950.8 501.9,950.5 499.6,949.4 L496.6,950.0 L497.6,947.0 C496.8,943.5 497.0,938.3 497.0,929.5 C497.0,920.8 497.6,914.4 499.4,910.3 L498.4,906.8 L501.1,905.1 C501.9,900.4 503.5,896.6 506.3,896.6 Z" fill="url(#mh)"/>
<path d="M506.3,896.6 C509.0,896.6 510.6,900.4 511.4,905.1 L514.2,906.8 L513.2,910.3 C515.0,914.4 515.6,920.8 515.6,929.5 C515.6,938.3 515.7,943.5 515.0,947.0 L515.9,950.0 L513.0,949.4 C510.6,950.5 508.2,950.8 507.2,950.8 L506.9,956.4 L505.7,956.4 L505.4,950.8 C504.3,950.8 501.9,950.5 499.6,949.4 L496.6,950.0 L497.6,947.0 C496.8,943.5 497.0,938.3 497.0,929.5 C497.0,920.8 497.6,914.4 499.4,910.3 L498.4,906.8 L501.1,905.1 C501.9,900.4 503.5,896.6 506.3,896.6 Z" fill="#000" filter="url(#tex)" opacity="0.22"/>
</g>
<rect x="518.2" y="891.4" width="21.5" height="61.5" fill="#121417"/>
<g transform="rotate(0.0 529.0 929.5)">
<path d="M529.0,896.6 C531.7,896.6 533.3,900.4 534.1,905.1 L536.9,906.8 L535.9,910.3 C537.6,914.4 538.2,920.8 538.2,929.5 C538.2,938.3 538.4,943.5 537.6,947.0 L538.6,950.0 L535.7,949.4 C533.3,950.5 530.9,950.8 529.8,950.8 L529.6,956.4 L528.4,956.4 L528.1,950.8 C527.0,950.8 524.6,950.5 522.2,949.4 L519.3,950.0 L520.3,947.0 C519.5,943.5 519.7,938.3 519.7,929.5 C519.7,920.8 520.3,914.4 522.1,910.3 L521.1,906.8 L523.8,905.1 C524.6,900.4 526.2,896.6 529.0,896.6 Z" fill="#d6d6d6"/>
<path d="M529.0,896.6 C531.7,896.6 533.3,900.4 534.1,905.1 L536.9,906.8 L535.9,910.3 C537.6,914.4 538.2,920.8 538.2,929.5 C538.2,938.3 538.4,943.5 537.6,947.0 L538.6,950.0 L535.7,949.4 C533.3,950.5 530.9,950.8 529.8,950.8 L529.6,956.4 L528.4,956.4 L528.1,950.8 C527.0,950.8 524.6,950.5 522.2,949.4 L519.3,950.0 L520.3,947.0 C519.5,943.5 519.7,938.3 519.7,929.5 C519.7,920.8 520.3,914.4 522.1,910.3 L521.1,906.8 L523.8,905.1 C524.6,900.4 526.2,896.6 529.0,896.6 Z" fill="url(#mg)"/>
<path d="M529.0,896.6 C531.7,896.6 533.3,900.4 534.1,905.1 L536.9,906.8 L535.9,910.3 C537.6,914.4 538.2,920.8 538.2,929.5 C538.2,938.3 538.4,943.5 537.6,947.0 L538.6,950.0 L535.7,949.4 C533.3,950.5 530.9,950.8 529.8,950.8 L529.6,956.4 L528.4,956.4 L528.1,950.8 C527.0,950.8 524.6,950.5 522.2,949.4 L519.3,950.0 L520.3,947.0 C519.5,943.5 519.7,938.3 519.7,929.5 C519.7,920.8 520.3,914.4 522.1,910.3 L521.1,906.8 L523.8,905.1 C524.6,900.4 526.2,896.6 529.0,896.6 Z" fill="url(#mh)"/>
<path d="M529.0,896.6 C531.7,896.6 533.3,900.4 534.1,905.1 L536.9,906.8 L535.9,910.3 C537.6,914.4 538.2,920.8 538.2,929.5 C538.2,938.3 538.4,943.5 537.6,947.0 L538.6,950.0 L535.7,949.4 C533.3,950.5 530.9,950.8 529.8,950.8 L529.6,956.4 L528.4,956.4 L528.1,950.8 C527.0,950.8 524.6,950.5 522.2,949.4 L519.3,950.0 L520.3,947.0 C519.5,943.5 519.7,938.3 519.7,929.5 C519.7,920.8 520.3,914.4 522.1,910.3 L521.1,906.8 L523.8,905.1 C524.6,900.4 526.2,896.6 529.0,896.6 Z" fill="#000" filter="url(#tex)" opacity="0.22"/>
</g>
<ellipse cx="413.0" cy="664.0" rx="3.5" ry="4.5" fill="url(#hB)"/>
<ellipse cx="415.5" cy="669.0" rx="3.0" ry="3.0" fill="url(#hB)"/>
<ellipse cx="409.0" cy="688.0" rx="1.5" ry="1.5" fill="url(#hB)"/>
<ellipse cx="413.0" cy="733.0" rx="3.5" ry="4.5" fill="url(#hB)"/>
<ellipse cx="416.0" cy="738.0" rx="3.0" ry="3.0" fill="url(#hB)"/>
<ellipse cx="409.0" cy="756.0" rx="2.0" ry="1.5" fill="url(#hB)"/>
<ellipse cx="422.0" cy="754.0" rx="1.5" ry="2.0" fill="url(#hB)"/>
<ellipse cx="532.0" cy="753.0" rx="1.5" ry="1.5" fill="url(#hB)"/>
<ellipse cx="462.0" cy="730.0" rx="0.8" ry="0.8" fill="url(#hB)"/>
<ellipse cx="485.0" cy="738.0" rx="0.8" ry="0.8" fill="url(#hB)"/>
<ellipse cx="500.0" cy="733.0" rx="0.8" ry="0.8" fill="url(#hB)"/>
<ellipse cx="415.5" cy="786.0" rx="7.5" ry="5.0" fill="url(#hB)"/>
<ellipse cx="410.5" cy="813.0" rx="3.5" ry="4.0" fill="url(#hB)"/>
<ellipse cx="425.0" cy="808.0" rx="3.0" ry="3.5" fill="url(#hB)"/>
<ellipse cx="446.5" cy="801.0" rx="1.5" ry="1.5" fill="url(#hB)"/>
<ellipse cx="433.5" cy="811.5" rx="1.2" ry="1.2" fill="url(#hB)"/>
<ellipse cx="464.5" cy="787.0" rx="1.5" ry="1.5" fill="url(#hc)"/>
<ellipse cx="471.0" cy="783.0" rx="1.0" ry="1.0" fill="url(#hc)"/>
<ellipse cx="472.5" cy="809.5" rx="1.2" ry="1.2" fill="url(#hc)"/>
<ellipse cx="461.5" cy="814.0" rx="1.5" ry="1.5" fill="url(#hc)"/>
<ellipse cx="488.0" cy="792.0" rx="1.2" ry="1.2" fill="url(#hB)"/>
<ellipse cx="501.5" cy="805.0" rx="1.5" ry="1.5" fill="url(#hB)"/>
<ellipse cx="521.5" cy="808.0" rx="2.0" ry="2.5" fill="url(#hB)"/>
<ellipse cx="538.0" cy="808.0" rx="1.0" ry="1.2" fill="url(#hB)"/>
<ellipse cx="414.0" cy="850.0" rx="2.0" ry="2.5" fill="url(#hc)"/>
<ellipse cx="408.0" cy="874.5" rx="2.8" ry="3.0" fill="url(#hy)"/>
<ellipse cx="421.5" cy="876.0" rx="3.0" ry="3.0" fill="url(#hy)"/>
<ellipse cx="413.0" cy="846.0" rx="1.2" ry="1.2" fill="url(#hb)"/>
<ellipse cx="444.5" cy="866.0" rx="1.6" ry="1.6" fill="url(#hc)"/>
<ellipse cx="432.0" cy="874.0" rx="1.6" ry="1.6" fill="url(#hc)"/>
<ellipse cx="438.0" cy="880.0" rx="1.2" ry="1.2" fill="url(#hb)"/>
<ellipse cx="460.0" cy="840.0" rx="2.3" ry="2.3" fill="url(#hy)"/>
<ellipse cx="463.0" cy="852.0" rx="2.2" ry="2.2" fill="url(#hc)"/>
<ellipse cx="467.0" cy="864.0" rx="2.2" ry="2.2" fill="url(#hy)"/>
<ellipse cx="458.0" cy="879.0" rx="7.5" ry="7.5" fill="url(#hr)"/>
<ellipse cx="452.5" cy="874.0" rx="2.2" ry="2.5" fill="url(#hc)"/>
<ellipse cx="468.5" cy="875.0" rx="2.2" ry="2.5" fill="url(#hc)"/>
<ellipse cx="499.0" cy="870.0" rx="2.4" ry="2.4" fill="url(#hy)"/>
<ellipse cx="512.0" cy="874.0" rx="1.6" ry="1.6" fill="url(#hc)"/>
<ellipse cx="520.5" cy="875.5" rx="3.2" ry="3.2" fill="url(#hy)"/>
<ellipse cx="417.0" cy="911.0" rx="4.5" ry="5.5" fill="url(#hc)"/>
<ellipse cx="411.0" cy="938.0" rx="4.0" ry="5.0" fill="url(#hy)"/>
<ellipse cx="421.0" cy="937.0" rx="4.0" ry="3.0" fill="url(#hc)"/>
<ellipse cx="438.5" cy="903.0" rx="1.8" ry="1.8" fill="url(#hy)"/>
<ellipse cx="443.5" cy="928.0" rx="3.5" ry="3.5" fill="url(#hr)"/>
<ellipse cx="431.0" cy="936.0" rx="2.2" ry="2.2" fill="url(#hc)"/>
<ellipse cx="435.5" cy="941.0" rx="3.5" ry="3.5" fill="url(#hr)"/>
<ellipse cx="461.0" cy="905.0" rx="5.5" ry="4.5" fill="url(#hr)"/>
<ellipse cx="462.0" cy="916.5" rx="3.0" ry="3.5" fill="url(#hr)"/>
<ellipse cx="455.0" cy="918.0" rx="1.8" ry="1.8" fill="url(#hc)"/>
<ellipse cx="459.0" cy="939.0" rx="10.0" ry="9.0" fill="url(#hb)"/>
<ellipse cx="459.0" cy="939.0" rx="10.0" ry="10.0" fill="url(#hR)"/>
<ellipse cx="459.0" cy="949.0" rx="5.0" ry="5.0" fill="url(#hR)"/>
<ellipse cx="476.5" cy="937.0" rx="3.0" ry="3.0" fill="url(#hy)"/>
<ellipse cx="498.0" cy="937.0" rx="2.2" ry="2.2" fill="url(#hc)"/>
<ellipse cx="511.0" cy="936.0" rx="6.0" ry="7.0" fill="url(#hr)"/>
<ellipse cx="511.0" cy="936.0" rx="5.6" ry="6.9" fill="url(#hR)"/>
<ellipse cx="527.0" cy="939.0" rx="8.0" ry="7.0" fill="url(#hr)"/>
<ellipse cx="527.0" cy="939.0" rx="6.9" ry="6.2" fill="url(#hR)"/>
<ellipse cx="537.0" cy="934.0" rx="2.5" ry="2.5" fill="url(#hr)"/>
<ellipse cx="520.5" cy="934.0" rx="2.8" ry="2.8" fill="url(#hc)"/>
<ellipse cx="525.0" cy="901.0" rx="1.2" ry="1.2" fill="url(#hb)"/>
</g>
<clipPath id="blk4"><rect x="546.0" y="635.5" width="136.2" height="318.0"/></clipPath>
<g clip-path="url(#blk4)">
<rect x="546.0" y="635.5" width="136.2" height="318.0" fill="#0d1013"/>
<rect x="546.6" y="636.1" width="21.5" height="61.7" fill="#0d1013"/>
<g transform="rotate(4.0 557.4 674.4)">
<path d="M557.4,641.3 C560.1,641.3 561.7,645.1 562.5,649.8 L565.2,651.6 L564.3,655.1 C566.0,659.2 566.6,665.6 566.6,674.4 C566.6,683.1 566.8,688.4 566.0,691.9 L567.0,694.8 L564.1,694.3 C561.7,695.4 559.3,695.7 558.2,695.7 L557.9,701.3 L556.8,701.3 L556.5,695.7 C555.4,695.7 553.0,695.4 550.6,694.3 L547.7,694.8 L548.7,691.9 C547.9,688.4 548.1,683.1 548.1,674.4 C548.1,665.6 548.7,659.2 550.4,655.1 L549.5,651.6 L552.2,649.8 C553.0,645.1 554.6,641.3 557.4,641.3 Z" fill="#d6d6d6"/>
<path d="M557.4,641.3 C560.1,641.3 561.7,645.1 562.5,649.8 L565.2,651.6 L564.3,655.1 C566.0,659.2 566.6,665.6 566.6,674.4 C566.6,683.1 566.8,688.4 566.0,691.9 L567.0,694.8 L564.1,694.3 C561.7,695.4 559.3,695.7 558.2,695.7 L557.9,701.3 L556.8,701.3 L556.5,695.7 C555.4,695.7 553.0,695.4 550.6,694.3 L547.7,694.8 L548.7,691.9 C547.9,688.4 548.1,683.1 548.1,674.4 C548.1,665.6 548.7,659.2 550.4,655.1 L549.5,651.6 L552.2,649.8 C553.0,645.1 554.6,641.3 557.4,641.3 Z" fill="url(#mg)"/>
<path d="M557.4,641.3 C560.1,641.3 561.7,645.1 562.5,649.8 L565.2,651.6 L564.3,655.1 C566.0,659.2 566.6,665.6 566.6,674.4 C566.6,683.1 566.8,688.4 566.0,691.9 L567.0,694.8 L564.1,694.3 C561.7,695.4 559.3,695.7 558.2,695.7 L557.9,701.3 L556.8,701.3 L556.5,695.7 C555.4,695.7 553.0,695.4 550.6,694.3 L547.7,694.8 L548.7,691.9 C547.9,688.4 548.1,683.1 548.1,674.4 C548.1,665.6 548.7,659.2 550.4,655.1 L549.5,651.6 L552.2,649.8 C553.0,645.1 554.6,641.3 557.4,641.3 Z" fill="url(#mh)"/>
<path d="M557.4,641.3 C560.1,641.3 561.7,645.1 562.5,649.8 L565.2,651.6 L564.3,655.1 C566.0,659.2 566.6,665.6 566.6,674.4 C566.6,683.1 566.8,688.4 566.0,691.9 L567.0,694.8 L564.1,694.3 C561.7,695.4 559.3,695.7 558.2,695.7 L557.9,701.3 L556.8,701.3 L556.5,695.7 C555.4,695.7 553.0,695.4 550.6,694.3 L547.7,694.8 L548.7,691.9 C547.9,688.4 548.1,683.1 548.1,674.4 C548.1,665.6 548.7,659.2 550.4,655.1 L549.5,651.6 L552.2,649.8 C553.0,645.1 554.6,641.3 557.4,641.3 Z" fill="#000" filter="url(#tex)" opacity="0.22"/>
</g>
<rect x="569.3" y="636.1" width="21.5" height="61.7" fill="#121417"/>
<g transform="rotate(6.0 580.1 674.4)">
<path d="M580.1,641.3 C582.8,641.3 584.4,645.1 585.2,649.8 L587.9,651.6 L587.0,655.1 C588.7,659.2 589.3,665.6 589.3,674.4 C589.3,683.1 589.5,688.4 588.7,691.9 L589.7,694.8 L586.8,694.3 C584.4,695.4 582.0,695.7 580.9,695.7 L580.6,701.3 L579.5,701.3 L579.2,695.7 C578.1,695.7 575.7,695.4 573.3,694.3 L570.4,694.8 L571.4,691.9 C570.6,688.4 570.8,683.1 570.8,674.4 C570.8,665.6 571.4,659.2 573.1,655.1 L572.2,651.6 L574.9,649.8 C575.7,645.1 577.3,641.3 580.1,641.3 Z" fill="#d6d6d6"/>
<path d="M580.1,641.3 C582.8,641.3 584.4,645.1 585.2,649.8 L587.9,651.6 L587.0,655.1 C588.7,659.2 589.3,665.6 589.3,674.4 C589.3,683.1 589.5,688.4 588.7,691.9 L589.7,694.8 L586.8,694.3 C584.4,695.4 582.0,695.7 580.9,695.7 L580.6,701.3 L579.5,701.3 L579.2,695.7 C578.1,695.7 575.7,695.4 573.3,694.3 L570.4,694.8 L571.4,691.9 C570.6,688.4 570.8,683.1 570.8,674.4 C570.8,665.6 571.4,659.2 573.1,655.1 L572.2,651.6 L574.9,649.8 C575.7,645.1 577.3,641.3 580.1,641.3 Z" fill="url(#mg)"/>
<path d="M580.1,641.3 C582.8,641.3 584.4,645.1 585.2,649.8 L587.9,651.6 L587.0,655.1 C588.7,659.2 589.3,665.6 589.3,674.4 C589.3,683.1 589.5,688.4 588.7,691.9 L589.7,694.8 L586.8,694.3 C584.4,695.4 582.0,695.7 580.9,695.7 L580.6,701.3 L579.5,701.3 L579.2,695.7 C578.1,695.7 575.7,695.4 573.3,694.3 L570.4,694.8 L571.4,691.9 C570.6,688.4 570.8,683.1 570.8,674.4 C570.8,665.6 571.4,659.2 573.1,655.1 L572.2,651.6 L574.9,649.8 C575.7,645.1 577.3,641.3 580.1,641.3 Z" fill="url(#mh)"/>
<path d="M580.1,641.3 C582.8,641.3 584.4,645.1 585.2,649.8 L587.9,651.6 L587.0,655.1 C588.7,659.2 589.3,665.6 589.3,674.4 C589.3,683.1 589.5,688.4 588.7,691.9 L589.7,694.8 L586.8,694.3 C584.4,695.4 582.0,695.7 580.9,695.7 L580.6,701.3 L579.5,701.3 L579.2,695.7 C578.1,695.7 575.7,695.4 573.3,694.3 L570.4,694.8 L571.4,691.9 C570.6,688.4 570.8,683.1 570.8,674.4 C570.8,665.6 571.4,659.2 573.1,655.1 L572.2,651.6 L574.9,649.8 C575.7,645.1 577.3,641.3 580.1,641.3 Z" fill="#000" filter="url(#tex)" opacity="0.22"/>
</g>
<rect x="592.0" y="636.1" width="21.5" height="61.7" fill="#0d1013"/>
<g transform="rotate(8.0 602.8 674.4)">
<path d="M602.8,641.3 C605.5,641.3 607.1,645.1 607.9,649.8 L610.6,651.6 L609.7,655.1 C611.4,659.2 612.0,665.6 612.0,674.4 C612.0,683.1 612.2,688.4 611.4,691.9 L612.4,694.8 L609.5,694.3 C607.1,695.4 604.7,695.7 603.6,695.7 L603.3,701.3 L602.2,701.3 L601.9,695.7 C600.8,695.7 598.4,695.4 596.0,694.3 L593.1,694.8 L594.1,691.9 C593.3,688.4 593.5,683.1 593.5,674.4 C593.5,665.6 594.1,659.2 595.8,655.1 L594.9,651.6 L597.6,649.8 C598.4,645.1 600.0,641.3 602.8,641.3 Z" fill="#d6d6d6"/>
<path d="M602.8,641.3 C605.5,641.3 607.1,645.1 607.9,649.8 L610.6,651.6 L609.7,655.1 C611.4,659.2 612.0,665.6 612.0,674.4 C612.0,683.1 612.2,688.4 611.4,691.9 L612.4,694.8 L609.5,694.3 C607.1,695.4 604.7,695.7 603.6,695.7 L603.3,701.3 L602.2,701.3 L601.9,695.7 C600.8,695.7 598.4,695.4 596.0,694.3 L593.1,694.8 L594.1,691.9 C593.3,688.4 593.5,683.1 593.5,674.4 C593.5,665.6 594.1,659.2 595.8,655.1 L594.9,651.6 L597.6,649.8 C598.4,645.1 600.0,641.3 602.8,641.3 Z" fill="url(#mg)"/>
<path d="M602.8,641.3 C605.5,641.3 607.1,645.1 607.9,649.8 L610.6,651.6 L609.7,655.1 C611.4,659.2 612.0,665.6 612.0,674.4 C612.0,683.1 612.2,688.4 611.4,691.9 L612.4,694.8 L609.5,694.3 C607.1,695.4 604.7,695.7 603.6,695.7 L603.3,701.3 L602.2,701.3 L601.9,695.7 C600.8,695.7 598.4,695.4 596.0,694.3 L593.1,694.8 L594.1,691.9 C593.3,688.4 593.5,683.1 593.5,674.4 C593.5,665.6 594.1,659.2 595.8,655.1 L594.9,651.6 L597.6,649.8 C598.4,645.1 600.0,641.3 602.8,641.3 Z" fill="url(#mh)"/>
<path d="M602.8,641.3 C605.5,641.3 607.1,645.1 607.9,649.8 L610.6,651.6 L609.7,655.1 C611.4,659.2 612.0,665.6 612.0,674.4 C612.0,683.1 612.2,688.4 611.4,691.9 L612.4,694.8 L609.5,694.3 C607.1,695.4 604.7,695.7 603.6,695.7 L603.3,701.3 L602.2,701.3 L601.9,695.7 C600.8,695.7 598.4,695.4 596.0,694.3 L593.1,694.8 L594.1,691.9 C593.3,688.4 593.5,683.1 593.5,674.4 C593.5,665.6 594.1,659.2 595.8,655.1 L594.9,651.6 L597.6,649.8 C598.4,645.1 600.0,641.3 602.8,641.3 Z" fill="#000" filter="url(#tex)" opacity="0.22"/>
</g>
<rect x="614.7" y="636.1" width="21.5" height="61.7" fill="#121417"/>
<g transform="rotate(6.0 625.5 674.4)">
<path d="M625.5,641.3 C628.2,641.3 629.8,645.1 630.6,649.8 L633.3,651.6 L632.4,655.1 C634.1,659.2 634.7,665.6 634.7,674.4 C634.7,683.1 634.9,688.4 634.1,691.9 L635.1,694.8 L632.2,694.3 C629.8,695.4 627.4,695.7 626.3,695.7 L626.0,701.3 L624.9,701.3 L624.6,695.7 C623.5,695.7 621.1,695.4 618.7,694.3 L615.8,694.8 L616.8,691.9 C616.0,688.4 616.2,683.1 616.2,674.4 C616.2,665.6 616.8,659.2 618.5,655.1 L617.6,651.6 L620.3,649.8 C621.1,645.1 622.7,641.3 625.5,641.3 Z" fill="#d6d6d6"/>
<path d="M625.5,641.3 C628.2,641.3 629.8,645.1 630.6,649.8 L633.3,651.6 L632.4,655.1 C634.1,659.2 634.7,665.6 634.7,674.4 C634.7,683.1 634.9,688.4 634.1,691.9 L635.1,694.8 L632.2,694.3 C629.8,695.4 627.4,695.7 626.3,695.7 L626.0,701.3 L624.9,701.3 L624.6,695.7 C623.5,695.7 621.1,695.4 618.7,694.3 L615.8,694.8 L616.8,691.9 C616.0,688.4 616.2,683.1 616.2,674.4 C616.2,665.6 616.8,659.2 618.5,655.1 L617.6,651.6 L620.3,649.8 C621.1,645.1 622.7,641.3 625.5,641.3 Z" fill="url(#mg)"/>
<path d="M625.5,641.3 C628.2,641.3 629.8,645.1 630.6,649.8 L633.3,651.6 L632.4,655.1 C634.1,659.2 634.7,665.6 634.7,674.4 C634.7,683.1 634.9,688.4 634.1,691.9 L635.1,694.8 L632.2,694.3 C629.8,695.4 627.4,695.7 626.3,695.7 L626.0,701.3 L624.9,701.3 L624.6,695.7 C623.5,695.7 621.1,695.4 618.7,694.3 L615.8,694.8 L616.8,691.9 C616.0,688.4 616.2,683.1 616.2,674.4 C616.2,665.6 616.8,659.2 618.5,655.1 L617.6,651.6 L620.3,649.8 C621.1,645.1 622.7,641.3 625.5,641.3 Z" fill="url(#mh)"/>
<path d="M625.5,641.3 C628.2,641.3 629.8,645.1 630.6,649.8 L633.3,651.6 L632.4,655.1 C634.1,659.2 634.7,665.6 634.7,674.4 C634.7,683.1 634.9,688.4 634.1,691.9 L635.1,694.8 L632.2,694.3 C629.8,695.4 627.4,695.7 626.3,695.7 L626.0,701.3 L624.9,701.3 L624.6,695.7 C623.5,695.7 621.1,695.4 618.7,694.3 L615.8,694.8 L616.8,691.9 C616.0,688.4 616.2,683.1 616.2,674.4 C616.2,665.6 616.8,659.2 618.5,655.1 L617.6,651.6 L620.3,649.8 C621.1,645.1 622.7,641.3 625.5,641.3 Z" fill="#000" filter="url(#tex)" opacity="0.22"/>
</g>
<rect x="637.4" y="636.1" width="21.5" height="61.7" fill="#0d1013"/>
<g transform="rotate(4.0 648.2 674.4)">
<path d="M648.2,641.3 C650.9,641.3 652.5,645.1 653.3,649.8 L656.0,651.6 L655.1,655.1 C656.8,659.2 657.4,665.6 657.4,674.4 C657.4,683.1 657.6,688.4 656.8,691.9 L657.8,694.8 L654.9,694.3 C652.5,695.4 650.1,695.7 649.0,695.7 L648.7,701.3 L647.6,701.3 L647.3,695.7 C646.2,695.7 643.8,695.4 641.4,694.3 L638.5,694.8 L639.5,691.9 C638.7,688.4 638.9,683.1 638.9,674.4 C638.9,665.6 639.5,659.2 641.2,655.1 L640.3,651.6 L643.0,649.8 C643.8,645.1 645.4,641.3 648.2,641.3 Z" fill="#d6d6d6"/>
<path d="M648.2,641.3 C650.9,641.3 652.5,645.1 653.3,649.8 L656.0,651.6 L655.1,655.1 C656.8,659.2 657.4,665.6 657.4,674.4 C657.4,683.1 657.6,688.4 656.8,691.9 L657.8,694.8 L654.9,694.3 C652.5,695.4 650.1,695.7 649.0,695.7 L648.7,701.3 L647.6,701.3 L647.3,695.7 C646.2,695.7 643.8,695.4 641.4,694.3 L638.5,694.8 L639.5,691.9 C638.7,688.4 638.9,683.1 638.9,674.4 C638.9,665.6 639.5,659.2 641.2,655.1 L640.3,651.6 L643.0,649.8 C643.8,645.1 645.4,641.3 648.2,641.3 Z" fill="url(#mg)"/>
<path d="M648.2,641.3 C650.9,641.3 652.5,645.1 653.3,649.8 L656.0,651.6 L655.1,655.1 C656.8,659.2 657.4,665.6 657.4,674.4 C657.4,683.1 657.6,688.4 656.8,691.9 L657.8,694.8 L654.9,694.3 C652.5,695.4 650.1,695.7 649.0,695.7 L648.7,701.3 L647.6,701.3 L647.3,695.7 C646.2,695.7 643.8,695.4 641.4,694.3 L638.5,694.8 L639.5,691.9 C638.7,688.4 638.9,683.1 638.9,674.4 C638.9,665.6 639.5,659.2 641.2,655.1 L640.3,651.6 L643.0,649.8 C643.8,645.1 645.4,641.3 648.2,641.3 Z" fill="url(#mh)"/>
<path d="M648.2,641.3 C650.9,641.3 652.5,645.1 653.3,649.8 L656.0,651.6 L655.1,655.1 C656.8,659.2 657.4,665.6 657.4,674.4 C657.4,683.1 657.6,688.4 656.8,691.9 L657.8,694.8 L654.9,694.3 C652.5,695.4 650.1,695.7 649.0,695.7 L648.7,701.3 L647.6,701.3 L647.3,695.7 C646.2,695.7 643.8,695.4 641.4,694.3 L638.5,694.8 L639.5,691.9 C638.7,688.4 638.9,683.1 638.9,674.4 C638.9,665.6 639.5,659.2 641.2,655.1 L640.3,651.6 L643.0,649.8 C643.8,645.1 645.4,641.3 648.2,641.3 Z" fill="#000" filter="url(#tex)" opacity="0.22"/>
</g>
<rect x="660.1" y="636.1" width="21.5" height="61.7" fill="#121417"/>
<g transform="rotate(4.0 670.9 674.4)">
<path d="M670.9,641.3 C673.6,641.3 675.2,645.1 676.0,649.8 L678.7,651.6 L677.8,655.1 C679.5,659.2 680.1,665.6 680.1,674.4 C680.1,683.1 680.3,688.4 679.5,691.9 L680.5,694.8 L677.6,694.3 C675.2,695.4 672.8,695.7 671.7,695.7 L671.4,701.3 L670.3,701.3 L670.0,695.7 C668.9,695.7 666.5,695.4 664.1,694.3 L661.2,694.8 L662.2,691.9 C661.4,688.4 661.6,683.1 661.6,674.4 C661.6,665.6 662.2,659.2 663.9,655.1 L663.0,651.6 L665.7,649.8 C666.5,645.1 668.1,641.3 670.9,641.3 Z" fill="#d6d6d6"/>
<path d="M670.9,641.3 C673.6,641.3 675.2,645.1 676.0,649.8 L678.7,651.6 L677.8,655.1 C679.5,659.2 680.1,665.6 680.1,674.4 C680.1,683.1 680.3,688.4 679.5,691.9 L680.5,694.8 L677.6,694.3 C675.2,695.4 672.8,695.7 671.7,695.7 L671.4,701.3 L670.3,701.3 L670.0,695.7 C668.9,695.7 666.5,695.4 664.1,694.3 L661.2,694.8 L662.2,691.9 C661.4,688.4 661.6,683.1 661.6,674.4 C661.6,665.6 662.2,659.2 663.9,655.1 L663.0,651.6 L665.7,649.8 C666.5,645.1 668.1,641.3 670.9,641.3 Z" fill="url(#mg)"/>
<path d="M670.9,641.3 C673.6,641.3 675.2,645.1 676.0,649.8 L678.7,651.6 L677.8,655.1 C679.5,659.2 680.1,665.6 680.1,674.4 C680.1,683.1 680.3,688.4 679.5,691.9 L680.5,694.8 L677.6,694.3 C675.2,695.4 672.8,695.7 671.7,695.7 L671.4,701.3 L670.3,701.3 L670.0,695.7 C668.9,695.7 666.5,695.4 664.1,694.3 L661.2,694.8 L662.2,691.9 C661.4,688.4 661.6,683.1 661.6,674.4 C661.6,665.6 662.2,659.2 663.9,655.1 L663.0,651.6 L665.7,649.8 C666.5,645.1 668.1,641.3 670.9,641.3 Z" fill="url(#mh)"/>
<path d="M670.9,641.3 C673.6,641.3 675.2,645.1 676.0,649.8 L678.7,651.6 L677.8,655.1 C679.5,659.2 680.1,665.6 680.1,674.4 C680.1,683.1 680.3,688.4 679.5,691.9 L680.5,694.8 L677.6,694.3 C675.2,695.4 672.8,695.7 671.7,695.7 L671.4,701.3 L670.3,701.3 L670.0,695.7 C668.9,695.7 666.5,695.4 664.1,694.3 L661.2,694.8 L662.2,691.9 C661.4,688.4 661.6,683.1 661.6,674.4 C661.6,665.6 662.2,659.2 663.9,655.1 L663.0,651.6 L665.7,649.8 C666.5,645.1 668.1,641.3 670.9,641.3 Z" fill="#000" filter="url(#tex)" opacity="0.22"/>
</g>
<rect x="546.6" y="699.0" width="21.5" height="63.9" fill="#121417"/>
<g transform="rotate(0.0 557.4 738.6)">
<path d="M557.4,704.4 C560.1,704.4 561.7,708.4 562.5,713.2 L565.2,715.0 L564.3,718.7 C566.0,722.9 566.6,729.6 566.6,738.6 C566.6,747.7 566.8,753.2 566.0,756.8 L567.0,759.8 L564.1,759.2 C561.7,760.4 559.3,760.7 558.2,760.7 L557.9,766.5 L556.8,766.5 L556.5,760.7 C555.4,760.7 553.0,760.4 550.6,759.2 L547.7,759.8 L548.7,756.8 C547.9,753.2 548.1,747.7 548.1,738.6 C548.1,729.6 548.7,722.9 550.4,718.7 L549.5,715.0 L552.2,713.2 C553.0,708.4 554.6,704.4 557.4,704.4 Z" fill="#d6d6d6"/>
<path d="M557.4,704.4 C560.1,704.4 561.7,708.4 562.5,713.2 L565.2,715.0 L564.3,718.7 C566.0,722.9 566.6,729.6 566.6,738.6 C566.6,747.7 566.8,753.2 566.0,756.8 L567.0,759.8 L564.1,759.2 C561.7,760.4 559.3,760.7 558.2,760.7 L557.9,766.5 L556.8,766.5 L556.5,760.7 C555.4,760.7 553.0,760.4 550.6,759.2 L547.7,759.8 L548.7,756.8 C547.9,753.2 548.1,747.7 548.1,738.6 C548.1,729.6 548.7,722.9 550.4,718.7 L549.5,715.0 L552.2,713.2 C553.0,708.4 554.6,704.4 557.4,704.4 Z" fill="url(#mg)"/>
<path d="M557.4,704.4 C560.1,704.4 561.7,708.4 562.5,713.2 L565.2,715.0 L564.3,718.7 C566.0,722.9 566.6,729.6 566.6,738.6 C566.6,747.7 566.8,753.2 566.0,756.8 L567.0,759.8 L564.1,759.2 C561.7,760.4 559.3,760.7 558.2,760.7 L557.9,766.5 L556.8,766.5 L556.5,760.7 C555.4,760.7 553.0,760.4 550.6,759.2 L547.7,759.8 L548.7,756.8 C547.9,753.2 548.1,747.7 548.1,738.6 C548.1,729.6 548.7,722.9 550.4,718.7 L549.5,715.0 L552.2,713.2 C553.0,708.4 554.6,704.4 557.4,704.4 Z" fill="url(#mh)"/>
<path d="M557.4,704.4 C560.1,704.4 561.7,708.4 562.5,713.2 L565.2,715.0 L564.3,718.7 C566.0,722.9 566.6,729.6 566.6,738.6 C566.6,747.7 566.8,753.2 566.0,756.8 L567.0,759.8 L564.1,759.2 C561.7,760.4 559.3,760.7 558.2,760.7 L557.9,766.5 L556.8,766.5 L556.5,760.7 C555.4,760.7 553.0,760.4 550.6,759.2 L547.7,759.8 L548.7,756.8 C547.9,753.2 548.1,747.7 548.1,738.6 C548.1,729.6 548.7,722.9 550.4,718.7 L549.5,715.0 L552.2,713.2 C553.0,708.4 554.6,704.4 557.4,704.4 Z" fill="#000" filter="url(#tex)" opacity="0.22"/>
</g>
<rect x="569.3" y="699.0" width="21.5" height="63.9" fill="#0d1013"/>
<g transform="rotate(0.0 580.1 738.6)">
<path d="M580.1,704.4 C582.8,704.4 584.4,708.4 585.2,713.2 L587.9,715.0 L587.0,718.7 C588.7,722.9 589.3,729.6 589.3,738.6 C589.3,747.7 589.5,753.2 588.7,756.8 L589.7,759.8 L586.8,759.2 C584.4,760.4 582.0,760.7 580.9,760.7 L580.6,766.5 L579.5,766.5 L579.2,760.7 C578.1,760.7 575.7,760.4 573.3,759.2 L570.4,759.8 L571.4,756.8 C570.6,753.2 570.8,747.7 570.8,738.6 C570.8,729.6 571.4,722.9 573.1,718.7 L572.2,715.0 L574.9,713.2 C575.7,708.4 577.3,704.4 580.1,704.4 Z" fill="#d6d6d6"/>
<path d="M580.1,704.4 C582.8,704.4 584.4,708.4 585.2,713.2 L587.9,715.0 L587.0,718.7 C588.7,722.9 589.3,729.6 589.3,738.6 C589.3,747.7 589.5,753.2 588.7,756.8 L589.7,759.8 L586.8,759.2 C584.4,760.4 582.0,760.7 580.9,760.7 L580.6,766.5 L579.5,766.5 L579.2,760.7 C578.1,760.7 575.7,760.4 573.3,759.2 L570.4,759.8 L571.4,756.8 C570.6,753.2 570.8,747.7 570.8,738.6 C570.8,729.6 571.4,722.9 573.1,718.7 L572.2,715.0 L574.9,713.2 C575.7,708.4 577.3,704.4 580.1,704.4 Z" fill="url(#mg)"/>
<path d="M580.1,704.4 C582.8,704.4 584.4,708.4 585.2,713.2 L587.9,715.0 L587.0,718.7 C588.7,722.9 589.3,729.6 589.3,738.6 C589.3,747.7 589.5,753.2 588.7,756.8 L589.7,759.8 L586.8,759.2 C584.4,760.4 582.0,760.7 580.9,760.7 L580.6,766.5 L579.5,766.5 L579.2,760.7 C578.1,760.7 575.7,760.4 573.3,759.2 L570.4,759.8 L571.4,756.8 C570.6,753.2 570.8,747.7 570.8,738.6 C570.8,729.6 571.4,722.9 573.1,718.7 L572.2,715.0 L574.9,713.2 C575.7,708.4 577.3,704.4 580.1,704.4 Z" fill="url(#mh)"/>
<path d="M580.1,704.4 C582.8,704.4 584.4,708.4 585.2,713.2 L587.9,715.0 L587.0,718.7 C588.7,722.9 589.3,729.6 589.3,738.6 C589.3,747.7 589.5,753.2 588.7,756.8 L589.7,759.8 L586.8,759.2 C584.4,760.4 582.0,760.7 580.9,760.7 L580.6,766.5 L579.5,766.5 L579.2,760.7 C578.1,760.7 575.7,760.4 573.3,759.2 L570.4,759.8 L571.4,756.8 C570.6,753.2 570.8,747.7 570.8,738.6 C570.8,729.6 571.4,722.9 573.1,718.7 L572.2,715.0 L574.9,713.2 C575.7,708.4 577.3,704.4 580.1,704.4 Z" fill="#000" filter="url(#tex)" opacity="0.22"/>
</g>
<rect x="592.0" y="699.0" width="21.5" height="63.9" fill="#121417"/>
<g transform="rotate(4.0 602.8 738.6)">
<path d="M602.8,704.4 C605.5,704.4 607.1,708.4 607.9,713.2 L610.6,715.0 L609.7,718.7 C611.4,722.9 612.0,729.6 612.0,738.6 C612.0,747.7 612.2,753.2 611.4,756.8 L612.4,759.8 L609.5,759.2 C607.1,760.4 604.7,760.7 603.6,760.7 L603.3,766.5 L602.2,766.5 L601.9,760.7 C600.8,760.7 598.4,760.4 596.0,759.2 L593.1,759.8 L594.1,756.8 C593.3,753.2 593.5,747.7 593.5,738.6 C593.5,729.6 594.1,722.9 595.8,718.7 L594.9,715.0 L597.6,713.2 C598.4,708.4 600.0,704.4 602.8,704.4 Z" fill="#d6d6d6"/>
<path d="M602.8,704.4 C605.5,704.4 607.1,708.4 607.9,713.2 L610.6,715.0 L609.7,718.7 C611.4,722.9 612.0,729.6 612.0,738.6 C612.0,747.7 612.2,753.2 611.4,756.8 L612.4,759.8 L609.5,759.2 C607.1,760.4 604.7,760.7 603.6,760.7 L603.3,766.5 L602.2,766.5 L601.9,760.7 C600.8,760.7 598.4,760.4 596.0,759.2 L593.1,759.8 L594.1,756.8 C593.3,753.2 593.5,747.7 593.5,738.6 C593.5,729.6 594.1,722.9 595.8,718.7 L594.9,715.0 L597.6,713.2 C598.4,708.4 600.0,704.4 602.8,704.4 Z" fill="url(#mg)"/>
<path d="M602.8,704.4 C605.5,704.4 607.1,708.4 607.9,713.2 L610.6,715.0 L609.7,718.7 C611.4,722.9 612.0,729.6 612.0,738.6 C612.0,747.7 612.2,753.2 611.4,756.8 L612.4,759.8 L609.5,759.2 C607.1,760.4 604.7,760.7 603.6,760.7 L603.3,766.5 L602.2,766.5 L601.9,760.7 C600.8,760.7 598.4,760.4 596.0,759.2 L593.1,759.8 L594.1,756.8 C593.3,753.2 593.5,747.7 593.5,738.6 C593.5,729.6 594.1,722.9 595.8,718.7 L594.9,715.0 L597.6,713.2 C598.4,708.4 600.0,704.4 602.8,704.4 Z" fill="url(#mh)"/>
<path d="M602.8,704.4 C605.5,704.4 607.1,708.4 607.9,713.2 L610.6,715.0 L609.7,718.7 C611.4,722.9 612.0,729.6 612.0,738.6 C612.0,747.7 612.2,753.2 611.4,756.8 L612.4,759.8 L609.5,759.2 C607.1,760.4 604.7,760.7 603.6,760.7 L603.3,766.5 L602.2,766.5 L601.9,760.7 C600.8,760.7 598.4,760.4 596.0,759.2 L593.1,759.8 L594.1,756.8 C593.3,753.2 593.5,747.7 593.5,738.6 C593.5,729.6 594.1,722.9 595.8,718.7 L594.9,715.0 L597.6,713.2 C598.4,708.4 600.0,704.4 602.8,704.4 Z" fill="#000" filter="url(#tex)" opacity="0.22"/>
</g>
<rect x="614.7" y="699.0" width="21.5" height="63.9" fill="#0d1013"/>
<g transform="rotate(4.0 625.5 738.6)">
<path d="M625.5,704.4 C628.2,704.4 629.8,708.4 630.6,713.2 L633.3,715.0 L632.4,718.7 C634.1,722.9 634.7,729.6 634.7,738.6 C634.7,747.7 634.9,753.2 634.1,756.8 L635.1,759.8 L632.2,759.2 C629.8,760.4 627.4,760.7 626.3,760.7 L626.0,766.5 L624.9,766.5 L624.6,760.7 C623.5,760.7 621.1,760.4 618.7,759.2 L615.8,759.8 L616.8,756.8 C616.0,753.2 616.2,747.7 616.2,738.6 C616.2,729.6 616.8,722.9 618.5,718.7 L617.6,715.0 L620.3,713.2 C621.1,708.4 622.7,704.4 625.5,704.4 Z" fill="#d6d6d6"/>
<path d="M625.5,704.4 C628.2,704.4 629.8,708.4 630.6,713.2 L633.3,715.0 L632.4,718.7 C634.1,722.9 634.7,729.6 634.7,738.6 C634.7,747.7 634.9,753.2 634.1,756.8 L635.1,759.8 L632.2,759.2 C629.8,760.4 627.4,760.7 626.3,760.7 L626.0,766.5 L624.9,766.5 L624.6,760.7 C623.5,760.7 621.1,760.4 618.7,759.2 L615.8,759.8 L616.8,756.8 C616.0,753.2 616.2,747.7 616.2,738.6 C616.2,729.6 616.8,722.9 618.5,718.7 L617.6,715.0 L620.3,713.2 C621.1,708.4 622.7,704.4 625.5,704.4 Z" fill="url(#mg)"/>
<path d="M625.5,704.4 C628.2,704.4 629.8,708.4 630.6,713.2 L633.3,715.0 L632.4,718.7 C634.1,722.9 634.7,729.6 634.7,738.6 C634.7,747.7 634.9,753.2 634.1,756.8 L635.1,759.8 L632.2,759.2 C629.8,760.4 627.4,760.7 626.3,760.7 L626.0,766.5 L624.9,766.5 L624.6,760.7 C623.5,760.7 621.1,760.4 618.7,759.2 L615.8,759.8 L616.8,756.8 C616.0,753.2 616.2,747.7 616.2,738.6 C616.2,729.6 616.8,722.9 618.5,718.7 L617.6,715.0 L620.3,713.2 C621.1,708.4 622.7,704.4 625.5,704.4 Z" fill="url(#mh)"/>
<path d="M625.5,704.4 C628.2,704.4 629.8,708.4 630.6,713.2 L633.3,715.0 L632.4,718.7 C634.1,722.9 634.7,729.6 634.7,738.6 C634.7,747.7 634.9,753.2 634.1,756.8 L635.1,759.8 L632.2,759.2 C629.8,760.4 627.4,760.7 626.3,760.7 L626.0,766.5 L624.9,766.5 L624.6,760.7 C623.5,760.7 621.1,760.4 618.7,759.2 L615.8,759.8 L616.8,756.8 C616.0,753.2 616.2,747.7 616.2,738.6 C616.2,729.6 616.8,722.9 618.5,718.7 L617.6,715.0 L620.3,713.2 C621.1,708.4 622.7,704.4 625.5,704.4 Z" fill="#000" filter="url(#tex)" opacity="0.22"/>
</g>
<rect x="637.4" y="699.0" width="21.5" height="63.9" fill="#121417"/>
<g transform="rotate(4.0 648.2 738.6)">
<path d="M648.2,704.4 C650.9,704.4 652.5,708.4 653.3,713.2 L656.0,715.0 L655.1,718.7 C656.8,722.9 657.4,729.6 657.4,738.6 C657.4,747.7 657.6,753.2 656.8,756.8 L657.8,759.8 L654.9,759.2 C652.5,760.4 650.1,760.7 649.0,760.7 L648.7,766.5 L647.6,766.5 L647.3,760.7 C646.2,760.7 643.8,760.4 641.4,759.2 L638.5,759.8 L639.5,756.8 C638.7,753.2 638.9,747.7 638.9,738.6 C638.9,729.6 639.5,722.9 641.2,718.7 L640.3,715.0 L643.0,713.2 C643.8,708.4 645.4,704.4 648.2,704.4 Z" fill="#d6d6d6"/>
<path d="M648.2,704.4 C650.9,704.4 652.5,708.4 653.3,713.2 L656.0,715.0 L655.1,718.7 C656.8,722.9 657.4,729.6 657.4,738.6 C657.4,747.7 657.6,753.2 656.8,756.8 L657.8,759.8 L654.9,759.2 C652.5,760.4 650.1,760.7 649.0,760.7 L648.7,766.5 L647.6,766.5 L647.3,760.7 C646.2,760.7 643.8,760.4 641.4,759.2 L638.5,759.8 L639.5,756.8 C638.7,753.2 638.9,747.7 638.9,738.6 C638.9,729.6 639.5,722.9 641.2,718.7 L640.3,715.0 L643.0,713.2 C643.8,708.4 645.4,704.4 648.2,704.4 Z" fill="url(#mg)"/>
<path d="M648.2,704.4 C650.9,704.4 652.5,708.4 653.3,713.2 L656.0,715.0 L655.1,718.7 C656.8,722.9 657.4,729.6 657.4,738.6 C657.4,747.7 657.6,753.2 656.8,756.8 L657.8,759.8 L654.9,759.2 C652.5,760.4 650.1,760.7 649.0,760.7 L648.7,766.5 L647.6,766.5 L647.3,760.7 C646.2,760.7 643.8,760.4 641.4,759.2 L638.5,759.8 L639.5,756.8 C638.7,753.2 638.9,747.7 638.9,738.6 C638.9,729.6 639.5,722.9 641.2,718.7 L640.3,715.0 L643.0,713.2 C643.8,708.4 645.4,704.4 648.2,704.4 Z" fill="url(#mh)"/>
<path d="M648.2,704.4 C650.9,704.4 652.5,708.4 653.3,713.2 L656.0,715.0 L655.1,718.7 C656.8,722.9 657.4,729.6 657.4,738.6 C657.4,747.7 657.6,753.2 656.8,756.8 L657.8,759.8 L654.9,759.2 C652.5,760.4 650.1,760.7 649.0,760.7 L648.7,766.5 L647.6,766.5 L647.3,760.7 C646.2,760.7 643.8,760.4 641.4,759.2 L638.5,759.8 L639.5,756.8 C638.7,753.2 638.9,747.7 638.9,738.6 C638.9,729.6 639.5,722.9 641.2,718.7 L640.3,715.0 L643.0,713.2 C643.8,708.4 645.4,704.4 648.2,704.4 Z" fill="#000" filter="url(#tex)" opacity="0.22"/>
</g>
<rect x="660.1" y="699.0" width="21.5" height="63.9" fill="#0d1013"/>
<g transform="rotate(0.0 670.9 738.6)">
<path d="M670.9,704.4 C673.6,704.4 675.2,708.4 676.0,713.2 L678.7,715.0 L677.8,718.7 C679.5,722.9 680.1,729.6 680.1,738.6 C680.1,747.7 680.3,753.2 679.5,756.8 L680.5,759.8 L677.6,759.2 C675.2,760.4 672.8,760.7 671.7,760.7 L671.4,766.5 L670.3,766.5 L670.0,760.7 C668.9,760.7 666.5,760.4 664.1,759.2 L661.2,759.8 L662.2,756.8 C661.4,753.2 661.6,747.7 661.6,738.6 C661.6,729.6 662.2,722.9 663.9,718.7 L663.0,715.0 L665.7,713.2 C666.5,708.4 668.1,704.4 670.9,704.4 Z" fill="#d6d6d6"/>
<path d="M670.9,704.4 C673.6,704.4 675.2,708.4 676.0,713.2 L678.7,715.0 L677.8,718.7 C679.5,722.9 680.1,729.6 680.1,738.6 C680.1,747.7 680.3,753.2 679.5,756.8 L680.5,759.8 L677.6,759.2 C675.2,760.4 672.8,760.7 671.7,760.7 L671.4,766.5 L670.3,766.5 L670.0,760.7 C668.9,760.7 666.5,760.4 664.1,759.2 L661.2,759.8 L662.2,756.8 C661.4,753.2 661.6,747.7 661.6,738.6 C661.6,729.6 662.2,722.9 663.9,718.7 L663.0,715.0 L665.7,713.2 C666.5,708.4 668.1,704.4 670.9,704.4 Z" fill="url(#mg)"/>
<path d="M670.9,704.4 C673.6,704.4 675.2,708.4 676.0,713.2 L678.7,715.0 L677.8,718.7 C679.5,722.9 680.1,729.6 680.1,738.6 C680.1,747.7 680.3,753.2 679.5,756.8 L680.5,759.8 L677.6,759.2 C675.2,760.4 672.8,760.7 671.7,760.7 L671.4,766.5 L670.3,766.5 L670.0,760.7 C668.9,760.7 666.5,760.4 664.1,759.2 L661.2,759.8 L662.2,756.8 C661.4,753.2 661.6,747.7 661.6,738.6 C661.6,729.6 662.2,722.9 663.9,718.7 L663.0,715.0 L665.7,713.2 C666.5,708.4 668.1,704.4 670.9,704.4 Z" fill="url(#mh)"/>
<path d="M670.9,704.4 C673.6,704.4 675.2,708.4 676.0,713.2 L678.7,715.0 L677.8,718.7 C679.5,722.9 680.1,729.6 680.1,738.6 C680.1,747.7 680.3,753.2 679.5,756.8 L680.5,759.8 L677.6,759.2 C675.2,760.4 672.8,760.7 671.7,760.7 L671.4,766.5 L670.3,766.5 L670.0,760.7 C668.9,760.7 666.5,760.4 664.1,759.2 L661.2,759.8 L662.2,756.8 C661.4,753.2 661.6,747.7 661.6,738.6 C661.6,729.6 662.2,722.9 663.9,718.7 L663.0,715.0 L665.7,713.2 C666.5,708.4 668.1,704.4 670.9,704.4 Z" fill="#000" filter="url(#tex)" opacity="0.22"/>
</g>
<rect x="546.6" y="764.1" width="21.5" height="63.1" fill="#0d1013"/>
<g transform="rotate(0.0 557.4 803.2)">
<path d="M557.4,769.5 C560.1,769.5 561.7,773.3 562.5,778.1 L565.2,779.9 L564.3,783.5 C566.0,787.7 566.6,794.3 566.6,803.2 C566.6,812.2 566.8,817.6 566.0,821.2 L567.0,824.2 L564.1,823.6 C561.7,824.8 559.3,825.1 558.2,825.1 L557.9,830.7 L556.8,830.7 L556.5,825.1 C555.4,825.1 553.0,824.8 550.6,823.6 L547.7,824.2 L548.7,821.2 C547.9,817.6 548.1,812.2 548.1,803.2 C548.1,794.3 548.7,787.7 550.4,783.5 L549.5,779.9 L552.2,778.1 C553.0,773.3 554.6,769.5 557.4,769.5 Z" fill="#d6d6d6"/>
<path d="M557.4,769.5 C560.1,769.5 561.7,773.3 562.5,778.1 L565.2,779.9 L564.3,783.5 C566.0,787.7 566.6,794.3 566.6,803.2 C566.6,812.2 566.8,817.6 566.0,821.2 L567.0,824.2 L564.1,823.6 C561.7,824.8 559.3,825.1 558.2,825.1 L557.9,830.7 L556.8,830.7 L556.5,825.1 C555.4,825.1 553.0,824.8 550.6,823.6 L547.7,824.2 L548.7,821.2 C547.9,817.6 548.1,812.2 548.1,803.2 C548.1,794.3 548.7,787.7 550.4,783.5 L549.5,779.9 L552.2,778.1 C553.0,773.3 554.6,769.5 557.4,769.5 Z" fill="url(#mg)"/>
<path d="M557.4,769.5 C560.1,769.5 561.7,773.3 562.5,778.1 L565.2,779.9 L564.3,783.5 C566.0,787.7 566.6,794.3 566.6,803.2 C566.6,812.2 566.8,817.6 566.0,821.2 L567.0,824.2 L564.1,823.6 C561.7,824.8 559.3,825.1 558.2,825.1 L557.9,830.7 L556.8,830.7 L556.5,825.1 C555.4,825.1 553.0,824.8 550.6,823.6 L547.7,824.2 L548.7,821.2 C547.9,817.6 548.1,812.2 548.1,803.2 C548.1,794.3 548.7,787.7 550.4,783.5 L549.5,779.9 L552.2,778.1 C553.0,773.3 554.6,769.5 557.4,769.5 Z" fill="url(#mh)"/>
<path d="M557.4,769.5 C560.1,769.5 561.7,773.3 562.5,778.1 L565.2,779.9 L564.3,783.5 C566.0,787.7 566.6,794.3 566.6,803.2 C566.6,812.2 566.8,817.6 566.0,821.2 L567.0,824.2 L564.1,823.6 C561.7,824.8 559.3,825.1 558.2,825.1 L557.9,830.7 L556.8,830.7 L556.5,825.1 C555.4,825.1 553.0,824.8 550.6,823.6 L547.7,824.2 L548.7,821.2 C547.9,817.6 548.1,812.2 548.1,803.2 C548.1,794.3 548.7,787.7 550.4,783.5 L549.5,779.9 L552.2,778.1 C553.0,773.3 554.6,769.5 557.4,769.5 Z" fill="#000" filter="url(#tex)" opacity="0.22"/>
</g>
<rect x="569.3" y="764.1" width="21.5" height="63.1" fill="#121417"/>
<g transform="rotate(8.0 580.1 803.2)">
<path d="M580.1,769.5 C582.8,769.5 584.4,773.3 585.2,778.1 L587.9,779.9 L587.0,783.5 C588.7,787.7 589.3,794.3 589.3,803.2 C589.3,812.2 589.5,817.6 588.7,821.2 L589.7,824.2 L586.8,823.6 C584.4,824.8 582.0,825.1 580.9,825.1 L580.6,830.7 L579.5,830.7 L579.2,825.1 C578.1,825.1 575.7,824.8 573.3,823.6 L570.4,824.2 L571.4,821.2 C570.6,817.6 570.8,812.2 570.8,803.2 C570.8,794.3 571.4,787.7 573.1,783.5 L572.2,779.9 L574.9,778.1 C575.7,773.3 577.3,769.5 580.1,769.5 Z" fill="#d6d6d6"/>
<path d="M580.1,769.5 C582.8,769.5 584.4,773.3 585.2,778.1 L587.9,779.9 L587.0,783.5 C588.7,787.7 589.3,794.3 589.3,803.2 C589.3,812.2 589.5,817.6 588.7,821.2 L589.7,824.2 L586.8,823.6 C584.4,824.8 582.0,825.1 580.9,825.1 L580.6,830.7 L579.5,830.7 L579.2,825.1 C578.1,825.1 575.7,824.8 573.3,823.6 L570.4,824.2 L571.4,821.2 C570.6,817.6 570.8,812.2 570.8,803.2 C570.8,794.3 571.4,787.7 573.1,783.5 L572.2,779.9 L574.9,778.1 C575.7,773.3 577.3,769.5 580.1,769.5 Z" fill="url(#mg)"/>
<path d="M580.1,769.5 C582.8,769.5 584.4,773.3 585.2,778.1 L587.9,779.9 L587.0,783.5 C588.7,787.7 589.3,794.3 589.3,803.2 C589.3,812.2 589.5,817.6 588.7,821.2 L589.7,824.2 L586.8,823.6 C584.4,824.8 582.0,825.1 580.9,825.1 L580.6,830.7 L579.5,830.7 L579.2,825.1 C578.1,825.1 575.7,824.8 573.3,823.6 L570.4,824.2 L571.4,821.2 C570.6,817.6 570.8,812.2 570.8,803.2 C570.8,794.3 571.4,787.7 573.1,783.5 L572.2,779.9 L574.9,778.1 C575.7,773.3 577.3,769.5 580.1,769.5 Z" fill="url(#mh)"/>
<path d="M580.1,769.5 C582.8,769.5 584.4,773.3 585.2,778.1 L587.9,779.9 L587.0,783.5 C588.7,787.7 589.3,794.3 589.3,803.2 C589.3,812.2 589.5,817.6 588.7,821.2 L589.7,824.2 L586.8,823.6 C584.4,824.8 582.0,825.1 580.9,825.1 L580.6,830.7 L579.5,830.7 L579.2,825.1 C578.1,825.1 575.7,824.8 573.3,823.6 L570.4,824.2 L571.4,821.2 C570.6,817.6 570.8,812.2 570.8,803.2 C570.8,794.3 571.4,787.7 573.1,783.5 L572.2,779.9 L574.9,778.1 C575.7,773.3 577.3,769.5 580.1,769.5 Z" fill="#000" filter="url(#tex)" opacity="0.22"/>
</g>
<rect x="592.0" y="764.1" width="21.5" height="63.1" fill="#0d1013"/>
<g transform="rotate(0.0 602.8 803.2)">
<path d="M602.8,769.5 C605.5,769.5 607.1,773.3 607.9,778.1 L610.6,779.9 L609.7,783.5 C611.4,787.7 612.0,794.3 612.0,803.2 C612.0,812.2 612.2,817.6 611.4,821.2 L612.4,824.2 L609.5,823.6 C607.1,824.8 604.7,825.1 603.6,825.1 L603.3,830.7 L602.2,830.7 L601.9,825.1 C600.8,825.1 598.4,824.8 596.0,823.6 L593.1,824.2 L594.1,821.2 C593.3,817.6 593.5,812.2 593.5,803.2 C593.5,794.3 594.1,787.7 595.8,783.5 L594.9,779.9 L597.6,778.1 C598.4,773.3 600.0,769.5 602.8,769.5 Z" fill="#d6d6d6"/>
<path d="M602.8,769.5 C605.5,769.5 607.1,773.3 607.9,778.1 L610.6,779.9 L609.7,783.5 C611.4,787.7 612.0,794.3 612.0,803.2 C612.0,812.2 612.2,817.6 611.4,821.2 L612.4,824.2 L609.5,823.6 C607.1,824.8 604.7,825.1 603.6,825.1 L603.3,830.7 L602.2,830.7 L601.9,825.1 C600.8,825.1 598.4,824.8 596.0,823.6 L593.1,824.2 L594.1,821.2 C593.3,817.6 593.5,812.2 593.5,803.2 C593.5,794.3 594.1,787.7 595.8,783.5 L594.9,779.9 L597.6,778.1 C598.4,773.3 600.0,769.5 602.8,769.5 Z" fill="url(#mg)"/>
<path d="M602.8,769.5 C605.5,769.5 607.1,773.3 607.9,778.1 L610.6,779.9 L609.7,783.5 C611.4,787.7 612.0,794.3 612.0,803.2 C612.0,812.2 612.2,817.6 611.4,821.2 L612.4,824.2 L609.5,823.6 C607.1,824.8 604.7,825.1 603.6,825.1 L603.3,830.7 L602.2,830.7 L601.9,825.1 C600.8,825.1 598.4,824.8 596.0,823.6 L593.1,824.2 L594.1,821.2 C593.3,817.6 593.5,812.2 593.5,803.2 C593.5,794.3 594.1,787.7 595.8,783.5 L594.9,779.9 L597.6,778.1 C598.4,773.3 600.0,769.5 602.8,769.5 Z" fill="url(#mh)"/>
<path d="M602.8,769.5 C605.5,769.5 607.1,773.3 607.9,778.1 L610.6,779.9 L609.7,783.5 C611.4,787.7 612.0,794.3 612.0,803.2 C612.0,812.2 612.2,817.6 611.4,821.2 L612.4,824.2 L609.5,823.6 C607.1,824.8 604.7,825.1 603.6,825.1 L603.3,830.7 L602.2,830.7 L601.9,825.1 C600.8,825.1 598.4,824.8 596.0,823.6 L593.1,824.2 L594.1,821.2 C593.3,817.6 593.5,812.2 593.5,803.2 C593.5,794.3 594.1,787.7 595.8,783.5 L594.9,779.9 L597.6,778.1 C598.4,773.3 600.0,769.5 602.8,769.5 Z" fill="#000" filter="url(#tex)" opacity="0.22"/>
</g>
<rect x="614.7" y="764.1" width="21.5" height="63.1" fill="#121417"/>
<g transform="rotate(4.0 625.5 803.2)">
<path d="M625.5,769.5 C628.2,769.5 629.8,773.3 630.6,778.1 L633.3,779.9 L632.4,783.5 C634.1,787.7 634.7,794.3 634.7,803.2 C634.7,812.2 634.9,817.6 634.1,821.2 L635.1,824.2 L632.2,823.6 C629.8,824.8 627.4,825.1 626.3,825.1 L626.0,830.7 L624.9,830.7 L624.6,825.1 C623.5,825.1 621.1,824.8 618.7,823.6 L615.8,824.2 L616.8,821.2 C616.0,817.6 616.2,812.2 616.2,803.2 C616.2,794.3 616.8,787.7 618.5,783.5 L617.6,779.9 L620.3,778.1 C621.1,773.3 622.7,769.5 625.5,769.5 Z" fill="#d6d6d6"/>
<path d="M625.5,769.5 C628.2,769.5 629.8,773.3 630.6,778.1 L633.3,779.9 L632.4,783.5 C634.1,787.7 634.7,794.3 634.7,803.2 C634.7,812.2 634.9,817.6 634.1,821.2 L635.1,824.2 L632.2,823.6 C629.8,824.8 627.4,825.1 626.3,825.1 L626.0,830.7 L624.9,830.7 L624.6,825.1 C623.5,825.1 621.1,824.8 618.7,823.6 L615.8,824.2 L616.8,821.2 C616.0,817.6 616.2,812.2 616.2,803.2 C616.2,794.3 616.8,787.7 618.5,783.5 L617.6,779.9 L620.3,778.1 C621.1,773.3 622.7,769.5 625.5,769.5 Z" fill="url(#mg)"/>
<path d="M625.5,769.5 C628.2,769.5 629.8,773.3 630.6,778.1 L633.3,779.9 L632.4,783.5 C634.1,787.7 634.7,794.3 634.7,803.2 C634.7,812.2 634.9,817.6 634.1,821.2 L635.1,824.2 L632.2,823.6 C629.8,824.8 627.4,825.1 626.3,825.1 L626.0,830.7 L624.9,830.7 L624.6,825.1 C623.5,825.1 621.1,824.8 618.7,823.6 L615.8,824.2 L616.8,821.2 C616.0,817.6 616.2,812.2 616.2,803.2 C616.2,794.3 616.8,787.7 618.5,783.5 L617.6,779.9 L620.3,778.1 C621.1,773.3 622.7,769.5 625.5,769.5 Z" fill="url(#mh)"/>
<path d="M625.5,769.5 C628.2,769.5 629.8,773.3 630.6,778.1 L633.3,779.9 L632.4,783.5 C634.1,787.7 634.7,794.3 634.7,803.2 C634.7,812.2 634.9,817.6 634.1,821.2 L635.1,824.2 L632.2,823.6 C629.8,824.8 627.4,825.1 626.3,825.1 L626.0,830.7 L624.9,830.7 L624.6,825.1 C623.5,825.1 621.1,824.8 618.7,823.6 L615.8,824.2 L616.8,821.2 C616.0,817.6 616.2,812.2 616.2,803.2 C616.2,794.3 616.8,787.7 618.5,783.5 L617.6,779.9 L620.3,778.1 C621.1,773.3 622.7,769.5 625.5,769.5 Z" fill="#000" filter="url(#tex)" opacity="0.22"/>
</g>
<rect x="637.4" y="764.1" width="21.5" height="63.1" fill="#0d1013"/>
<g transform="rotate(4.0 648.2 803.2)">
<path d="M648.2,769.5 C650.9,769.5 652.5,773.3 653.3,778.1 L656.0,779.9 L655.1,783.5 C656.8,787.7 657.4,794.3 657.4,803.2 C657.4,812.2 657.6,817.6 656.8,821.2 L657.8,824.2 L654.9,823.6 C652.5,824.8 650.1,825.1 649.0,825.1 L648.7,830.7 L647.6,830.7 L647.3,825.1 C646.2,825.1 643.8,824.8 641.4,823.6 L638.5,824.2 L639.5,821.2 C638.7,817.6 638.9,812.2 638.9,803.2 C638.9,794.3 639.5,787.7 641.2,783.5 L640.3,779.9 L643.0,778.1 C643.8,773.3 645.4,769.5 648.2,769.5 Z" fill="#d6d6d6"/>
<path d="M648.2,769.5 C650.9,769.5 652.5,773.3 653.3,778.1 L656.0,779.9 L655.1,783.5 C656.8,787.7 657.4,794.3 657.4,803.2 C657.4,812.2 657.6,817.6 656.8,821.2 L657.8,824.2 L654.9,823.6 C652.5,824.8 650.1,825.1 649.0,825.1 L648.7,830.7 L647.6,830.7 L647.3,825.1 C646.2,825.1 643.8,824.8 641.4,823.6 L638.5,824.2 L639.5,821.2 C638.7,817.6 638.9,812.2 638.9,803.2 C638.9,794.3 639.5,787.7 641.2,783.5 L640.3,779.9 L643.0,778.1 C643.8,773.3 645.4,769.5 648.2,769.5 Z" fill="url(#mg)"/>
<path d="M648.2,769.5 C650.9,769.5 652.5,773.3 653.3,778.1 L656.0,779.9 L655.1,783.5 C656.8,787.7 657.4,794.3 657.4,803.2 C657.4,812.2 657.6,817.6 656.8,821.2 L657.8,824.2 L654.9,823.6 C652.5,824.8 650.1,825.1 649.0,825.1 L648.7,830.7 L647.6,830.7 L647.3,825.1 C646.2,825.1 643.8,824.8 641.4,823.6 L638.5,824.2 L639.5,821.2 C638.7,817.6 638.9,812.2 638.9,803.2 C638.9,794.3 639.5,787.7 641.2,783.5 L640.3,779.9 L643.0,778.1 C643.8,773.3 645.4,769.5 648.2,769.5 Z" fill="url(#mh)"/>
<path d="M648.2,769.5 C650.9,769.5 652.5,773.3 653.3,778.1 L656.0,779.9 L655.1,783.5 C656.8,787.7 657.4,794.3 657.4,803.2 C657.4,812.2 657.6,817.6 656.8,821.2 L657.8,824.2 L654.9,823.6 C652.5,824.8 650.1,825.1 649.0,825.1 L648.7,830.7 L647.6,830.7 L647.3,825.1 C646.2,825.1 643.8,824.8 641.4,823.6 L638.5,824.2 L639.5,821.2 C638.7,817.6 638.9,812.2 638.9,803.2 C638.9,794.3 639.5,787.7 641.2,783.5 L640.3,779.9 L643.0,778.1 C643.8,773.3 645.4,769.5 648.2,769.5 Z" fill="#000" filter="url(#tex)" opacity="0.22"/>
</g>
<rect x="660.1" y="764.1" width="21.5" height="63.1" fill="#121417"/>
<g transform="rotate(0.0 670.9 803.2)">
<path d="M670.9,769.5 C673.6,769.5 675.2,773.3 676.0,778.1 L678.7,779.9 L677.8,783.5 C679.5,787.7 680.1,794.3 680.1,803.2 C680.1,812.2 680.3,817.6 679.5,821.2 L680.5,824.2 L677.6,823.6 C675.2,824.8 672.8,825.1 671.7,825.1 L671.4,830.7 L670.3,830.7 L670.0,825.1 C668.9,825.1 666.5,824.8 664.1,823.6 L661.2,824.2 L662.2,821.2 C661.4,817.6 661.6,812.2 661.6,803.2 C661.6,794.3 662.2,787.7 663.9,783.5 L663.0,779.9 L665.7,778.1 C666.5,773.3 668.1,769.5 670.9,769.5 Z" fill="#d6d6d6"/>
<path d="M670.9,769.5 C673.6,769.5 675.2,773.3 676.0,778.1 L678.7,779.9 L677.8,783.5 C679.5,787.7 680.1,794.3 680.1,803.2 C680.1,812.2 680.3,817.6 679.5,821.2 L680.5,824.2 L677.6,823.6 C675.2,824.8 672.8,825.1 671.7,825.1 L671.4,830.7 L670.3,830.7 L670.0,825.1 C668.9,825.1 666.5,824.8 664.1,823.6 L661.2,824.2 L662.2,821.2 C661.4,817.6 661.6,812.2 661.6,803.2 C661.6,794.3 662.2,787.7 663.9,783.5 L663.0,779.9 L665.7,778.1 C666.5,773.3 668.1,769.5 670.9,769.5 Z" fill="url(#mg)"/>
<path d="M670.9,769.5 C673.6,769.5 675.2,773.3 676.0,778.1 L678.7,779.9 L677.8,783.5 C679.5,787.7 680.1,794.3 680.1,803.2 C680.1,812.2 680.3,817.6 679.5,821.2 L680.5,824.2 L677.6,823.6 C675.2,824.8 672.8,825.1 671.7,825.1 L671.4,830.7 L670.3,830.7 L670.0,825.1 C668.9,825.1 666.5,824.8 664.1,823.6 L661.2,824.2 L662.2,821.2 C661.4,817.6 661.6,812.2 661.6,803.2 C661.6,794.3 662.2,787.7 663.9,783.5 L663.0,779.9 L665.7,778.1 C666.5,773.3 668.1,769.5 670.9,769.5 Z" fill="url(#mh)"/>
<path d="M670.9,769.5 C673.6,769.5 675.2,773.3 676.0,778.1 L678.7,779.9 L677.8,783.5 C679.5,787.7 680.1,794.3 680.1,803.2 C680.1,812.2 680.3,817.6 679.5,821.2 L680.5,824.2 L677.6,823.6 C675.2,824.8 672.8,825.1 671.7,825.1 L671.4,830.7 L670.3,830.7 L670.0,825.1 C668.9,825.1 666.5,824.8 664.1,823.6 L661.2,824.2 L662.2,821.2 C661.4,817.6 661.6,812.2 661.6,803.2 C661.6,794.3 662.2,787.7 663.9,783.5 L663.0,779.9 L665.7,778.1 C666.5,773.3 668.1,769.5 670.9,769.5 Z" fill="#000" filter="url(#tex)" opacity="0.22"/>
</g>
<rect x="546.6" y="828.4" width="21.5" height="61.8" fill="#121417"/>
<g transform="rotate(0.0 557.4 866.7)">
<path d="M557.4,833.6 C560.1,833.6 561.7,837.4 562.5,842.1 L565.2,843.9 L564.3,847.4 C566.0,851.5 566.6,857.9 566.6,866.7 C566.6,875.5 566.8,880.8 566.0,884.3 L567.0,887.2 L564.1,886.7 C561.7,887.8 559.3,888.1 558.2,888.1 L557.9,893.7 L556.8,893.7 L556.5,888.1 C555.4,888.1 553.0,887.8 550.6,886.7 L547.7,887.2 L548.7,884.3 C547.9,880.8 548.1,875.5 548.1,866.7 C548.1,857.9 548.7,851.5 550.4,847.4 L549.5,843.9 L552.2,842.1 C553.0,837.4 554.6,833.6 557.4,833.6 Z" fill="#d6d6d6"/>
<path d="M557.4,833.6 C560.1,833.6 561.7,837.4 562.5,842.1 L565.2,843.9 L564.3,847.4 C566.0,851.5 566.6,857.9 566.6,866.7 C566.6,875.5 566.8,880.8 566.0,884.3 L567.0,887.2 L564.1,886.7 C561.7,887.8 559.3,888.1 558.2,888.1 L557.9,893.7 L556.8,893.7 L556.5,888.1 C555.4,888.1 553.0,887.8 550.6,886.7 L547.7,887.2 L548.7,884.3 C547.9,880.8 548.1,875.5 548.1,866.7 C548.1,857.9 548.7,851.5 550.4,847.4 L549.5,843.9 L552.2,842.1 C553.0,837.4 554.6,833.6 557.4,833.6 Z" fill="url(#mg)"/>
<path d="M557.4,833.6 C560.1,833.6 561.7,837.4 562.5,842.1 L565.2,843.9 L564.3,847.4 C566.0,851.5 566.6,857.9 566.6,866.7 C566.6,875.5 566.8,880.8 566.0,884.3 L567.0,887.2 L564.1,886.7 C561.7,887.8 559.3,888.1 558.2,888.1 L557.9,893.7 L556.8,893.7 L556.5,888.1 C555.4,888.1 553.0,887.8 550.6,886.7 L547.7,887.2 L548.7,884.3 C547.9,880.8 548.1,875.5 548.1,866.7 C548.1,857.9 548.7,851.5 550.4,847.4 L549.5,843.9 L552.2,842.1 C553.0,837.4 554.6,833.6 557.4,833.6 Z" fill="url(#mh)"/>
<path d="M557.4,833.6 C560.1,833.6 561.7,837.4 562.5,842.1 L565.2,843.9 L564.3,847.4 C566.0,851.5 566.6,857.9 566.6,866.7 C566.6,875.5 566.8,880.8 566.0,884.3 L567.0,887.2 L564.1,886.7 C561.7,887.8 559.3,888.1 558.2,888.1 L557.9,893.7 L556.8,893.7 L556.5,888.1 C555.4,888.1 553.0,887.8 550.6,886.7 L547.7,887.2 L548.7,884.3 C547.9,880.8 548.1,875.5 548.1,866.7 C548.1,857.9 548.7,851.5 550.4,847.4 L549.5,843.9 L552.2,842.1 C553.0,837.4 554.6,833.6 557.4,833.6 Z" fill="#000" filter="url(#tex)" opacity="0.22"/>
</g>
<rect x="569.3" y="828.4" width="21.5" height="61.8" fill="#0d1013"/>
<g transform="rotate(0.0 580.1 866.7)">
<path d="M580.1,833.6 C582.8,833.6 584.4,837.4 585.2,842.1 L587.9,843.9 L587.0,847.4 C588.7,851.5 589.3,857.9 589.3,866.7 C589.3,875.5 589.5,880.8 588.7,884.3 L589.7,887.2 L586.8,886.7 C584.4,887.8 582.0,888.1 580.9,888.1 L580.6,893.7 L579.5,893.7 L579.2,888.1 C578.1,888.1 575.7,887.8 573.3,886.7 L570.4,887.2 L571.4,884.3 C570.6,880.8 570.8,875.5 570.8,866.7 C570.8,857.9 571.4,851.5 573.1,847.4 L572.2,843.9 L574.9,842.1 C575.7,837.4 577.3,833.6 580.1,833.6 Z" fill="#d6d6d6"/>
<path d="M580.1,833.6 C582.8,833.6 584.4,837.4 585.2,842.1 L587.9,843.9 L587.0,847.4 C588.7,851.5 589.3,857.9 589.3,866.7 C589.3,875.5 589.5,880.8 588.7,884.3 L589.7,887.2 L586.8,886.7 C584.4,887.8 582.0,888.1 580.9,888.1 L580.6,893.7 L579.5,893.7 L579.2,888.1 C578.1,888.1 575.7,887.8 573.3,886.7 L570.4,887.2 L571.4,884.3 C570.6,880.8 570.8,875.5 570.8,866.7 C570.8,857.9 571.4,851.5 573.1,847.4 L572.2,843.9 L574.9,842.1 C575.7,837.4 577.3,833.6 580.1,833.6 Z" fill="url(#mg)"/>
<path d="M580.1,833.6 C582.8,833.6 584.4,837.4 585.2,842.1 L587.9,843.9 L587.0,847.4 C588.7,851.5 589.3,857.9 589.3,866.7 C589.3,875.5 589.5,880.8 588.7,884.3 L589.7,887.2 L586.8,886.7 C584.4,887.8 582.0,888.1 580.9,888.1 L580.6,893.7 L579.5,893.7 L579.2,888.1 C578.1,888.1 575.7,887.8 573.3,886.7 L570.4,887.2 L571.4,884.3 C570.6,880.8 570.8,875.5 570.8,866.7 C570.8,857.9 571.4,851.5 573.1,847.4 L572.2,843.9 L574.9,842.1 C575.7,837.4 577.3,833.6 580.1,833.6 Z" fill="url(#mh)"/>
<path d="M580.1,833.6 C582.8,833.6 584.4,837.4 585.2,842.1 L587.9,843.9 L587.0,847.4 C588.7,851.5 589.3,857.9 589.3,866.7 C589.3,875.5 589.5,880.8 588.7,884.3 L589.7,887.2 L586.8,886.7 C584.4,887.8 582.0,888.1 580.9,888.1 L580.6,893.7 L579.5,893.7 L579.2,888.1 C578.1,888.1 575.7,887.8 573.3,886.7 L570.4,887.2 L571.4,884.3 C570.6,880.8 570.8,875.5 570.8,866.7 C570.8,857.9 571.4,851.5 573.1,847.4 L572.2,843.9 L574.9,842.1 C575.7,837.4 577.3,833.6 580.1,833.6 Z" fill="#000" filter="url(#tex)" opacity="0.22"/>
</g>
<rect x="592.0" y="828.4" width="21.5" height="61.8" fill="#121417"/>
<g transform="rotate(0.0 602.8 866.7)">
<path d="M602.8,833.6 C605.5,833.6 607.1,837.4 607.9,842.1 L610.6,843.9 L609.7,847.4 C611.4,851.5 612.0,857.9 612.0,866.7 C612.0,875.5 612.2,880.8 611.4,884.3 L612.4,887.2 L609.5,886.7 C607.1,887.8 604.7,888.1 603.6,888.1 L603.3,893.7 L602.2,893.7 L601.9,888.1 C600.8,888.1 598.4,887.8 596.0,886.7 L593.1,887.2 L594.1,884.3 C593.3,880.8 593.5,875.5 593.5,866.7 C593.5,857.9 594.1,851.5 595.8,847.4 L594.9,843.9 L597.6,842.1 C598.4,837.4 600.0,833.6 602.8,833.6 Z" fill="#d6d6d6"/>
<path d="M602.8,833.6 C605.5,833.6 607.1,837.4 607.9,842.1 L610.6,843.9 L609.7,847.4 C611.4,851.5 612.0,857.9 612.0,866.7 C612.0,875.5 612.2,880.8 611.4,884.3 L612.4,887.2 L609.5,886.7 C607.1,887.8 604.7,888.1 603.6,888.1 L603.3,893.7 L602.2,893.7 L601.9,888.1 C600.8,888.1 598.4,887.8 596.0,886.7 L593.1,887.2 L594.1,884.3 C593.3,880.8 593.5,875.5 593.5,866.7 C593.5,857.9 594.1,851.5 595.8,847.4 L594.9,843.9 L597.6,842.1 C598.4,837.4 600.0,833.6 602.8,833.6 Z" fill="url(#mg)"/>
<path d="M602.8,833.6 C605.5,833.6 607.1,837.4 607.9,842.1 L610.6,843.9 L609.7,847.4 C611.4,851.5 612.0,857.9 612.0,866.7 C612.0,875.5 612.2,880.8 611.4,884.3 L612.4,887.2 L609.5,886.7 C607.1,887.8 604.7,888.1 603.6,888.1 L603.3,893.7 L602.2,893.7 L601.9,888.1 C600.8,888.1 598.4,887.8 596.0,886.7 L593.1,887.2 L594.1,884.3 C593.3,880.8 593.5,875.5 593.5,866.7 C593.5,857.9 594.1,851.5 595.8,847.4 L594.9,843.9 L597.6,842.1 C598.4,837.4 600.0,833.6 602.8,833.6 Z" fill="url(#mh)"/>
<path d="M602.8,833.6 C605.5,833.6 607.1,837.4 607.9,842.1 L610.6,843.9 L609.7,847.4 C611.4,851.5 612.0,857.9 612.0,866.7 C612.0,875.5 612.2,880.8 611.4,884.3 L612.4,887.2 L609.5,886.7 C607.1,887.8 604.7,888.1 603.6,888.1 L603.3,893.7 L602.2,893.7 L601.9,888.1 C600.8,888.1 598.4,887.8 596.0,886.7 L593.1,887.2 L594.1,884.3 C593.3,880.8 593.5,875.5 593.5,866.7 C593.5,857.9 594.1,851.5 595.8,847.4 L594.9,843.9 L597.6,842.1 C598.4,837.4 600.0,833.6 602.8,833.6 Z" fill="#000" filter="url(#tex)" opacity="0.22"/>
</g>
<rect x="614.7" y="828.4" width="21.5" height="61.8" fill="#0d1013"/>
<g transform="rotate(0.0 625.5 866.7)">
<path d="M625.5,833.6 C628.2,833.6 629.8,837.4 630.6,842.1 L633.3,843.9 L632.4,847.4 C634.1,851.5 634.7,857.9 634.7,866.7 C634.7,875.5 634.9,880.8 634.1,884.3 L635.1,887.2 L632.2,886.7 C629.8,887.8 627.4,888.1 626.3,888.1 L626.0,893.7 L624.9,893.7 L624.6,888.1 C623.5,888.1 621.1,887.8 618.7,886.7 L615.8,887.2 L616.8,884.3 C616.0,880.8 616.2,875.5 616.2,866.7 C616.2,857.9 616.8,851.5 618.5,847.4 L617.6,843.9 L620.3,842.1 C621.1,837.4 622.7,833.6 625.5,833.6 Z" fill="#d6d6d6"/>
<path d="M625.5,833.6 C628.2,833.6 629.8,837.4 630.6,842.1 L633.3,843.9 L632.4,847.4 C634.1,851.5 634.7,857.9 634.7,866.7 C634.7,875.5 634.9,880.8 634.1,884.3 L635.1,887.2 L632.2,886.7 C629.8,887.8 627.4,888.1 626.3,888.1 L626.0,893.7 L624.9,893.7 L624.6,888.1 C623.5,888.1 621.1,887.8 618.7,886.7 L615.8,887.2 L616.8,884.3 C616.0,880.8 616.2,875.5 616.2,866.7 C616.2,857.9 616.8,851.5 618.5,847.4 L617.6,843.9 L620.3,842.1 C621.1,837.4 622.7,833.6 625.5,833.6 Z" fill="url(#mg)"/>
<path d="M625.5,833.6 C628.2,833.6 629.8,837.4 630.6,842.1 L633.3,843.9 L632.4,847.4 C634.1,851.5 634.7,857.9 634.7,866.7 C634.7,875.5 634.9,880.8 634.1,884.3 L635.1,887.2 L632.2,886.7 C629.8,887.8 627.4,888.1 626.3,888.1 L626.0,893.7 L624.9,893.7 L624.6,888.1 C623.5,888.1 621.1,887.8 618.7,886.7 L615.8,887.2 L616.8,884.3 C616.0,880.8 616.2,875.5 616.2,866.7 C616.2,857.9 616.8,851.5 618.5,847.4 L617.6,843.9 L620.3,842.1 C621.1,837.4 622.7,833.6 625.5,833.6 Z" fill="url(#mh)"/>
<path d="M625.5,833.6 C628.2,833.6 629.8,837.4 630.6,842.1 L633.3,843.9 L632.4,847.4 C634.1,851.5 634.7,857.9 634.7,866.7 C634.7,875.5 634.9,880.8 634.1,884.3 L635.1,887.2 L632.2,886.7 C629.8,887.8 627.4,888.1 626.3,888.1 L626.0,893.7 L624.9,893.7 L624.6,888.1 C623.5,888.1 621.1,887.8 618.7,886.7 L615.8,887.2 L616.8,884.3 C616.0,880.8 616.2,875.5 616.2,866.7 C616.2,857.9 616.8,851.5 618.5,847.4 L617.6,843.9 L620.3,842.1 C621.1,837.4 622.7,833.6 625.5,833.6 Z" fill="#000" filter="url(#tex)" opacity="0.22"/>
</g>
<rect x="637.4" y="828.4" width="21.5" height="61.8" fill="#121417"/>
<g transform="rotate(0.0 648.2 866.7)">
<path d="M648.2,833.6 C650.9,833.6 652.5,837.4 653.3,842.1 L656.0,843.9 L655.1,847.4 C656.8,851.5 657.4,857.9 657.4,866.7 C657.4,875.5 657.6,880.8 656.8,884.3 L657.8,887.2 L654.9,886.7 C652.5,887.8 650.1,888.1 649.0,888.1 L648.7,893.7 L647.6,893.7 L647.3,888.1 C646.2,888.1 643.8,887.8 641.4,886.7 L638.5,887.2 L639.5,884.3 C638.7,880.8 638.9,875.5 638.9,866.7 C638.9,857.9 639.5,851.5 641.2,847.4 L640.3,843.9 L643.0,842.1 C643.8,837.4 645.4,833.6 648.2,833.6 Z" fill="#d6d6d6"/>
<path d="M648.2,833.6 C650.9,833.6 652.5,837.4 653.3,842.1 L656.0,843.9 L655.1,847.4 C656.8,851.5 657.4,857.9 657.4,866.7 C657.4,875.5 657.6,880.8 656.8,884.3 L657.8,887.2 L654.9,886.7 C652.5,887.8 650.1,888.1 649.0,888.1 L648.7,893.7 L647.6,893.7 L647.3,888.1 C646.2,888.1 643.8,887.8 641.4,886.7 L638.5,887.2 L639.5,884.3 C638.7,880.8 638.9,875.5 638.9,866.7 C638.9,857.9 639.5,851.5 641.2,847.4 L640.3,843.9 L643.0,842.1 C643.8,837.4 645.4,833.6 648.2,833.6 Z" fill="url(#mg)"/>
<path d="M648.2,833.6 C650.9,833.6 652.5,837.4 653.3,842.1 L656.0,843.9 L655.1,847.4 C656.8,851.5 657.4,857.9 657.4,866.7 C657.4,875.5 657.6,880.8 656.8,884.3 L657.8,887.2 L654.9,886.7 C652.5,887.8 650.1,888.1 649.0,888.1 L648.7,893.7 L647.6,893.7 L647.3,888.1 C646.2,888.1 643.8,887.8 641.4,886.7 L638.5,887.2 L639.5,884.3 C638.7,880.8 638.9,875.5 638.9,866.7 C638.9,857.9 639.5,851.5 641.2,847.4 L640.3,843.9 L643.0,842.1 C643.8,837.4 645.4,833.6 648.2,833.6 Z" fill="url(#mh)"/>
<path d="M648.2,833.6 C650.9,833.6 652.5,837.4 653.3,842.1 L656.0,843.9 L655.1,847.4 C656.8,851.5 657.4,857.9 657.4,866.7 C657.4,875.5 657.6,880.8 656.8,884.3 L657.8,887.2 L654.9,886.7 C652.5,887.8 650.1,888.1 649.0,888.1 L648.7,893.7 L647.6,893.7 L647.3,888.1 C646.2,888.1 643.8,887.8 641.4,886.7 L638.5,887.2 L639.5,884.3 C638.7,880.8 638.9,875.5 638.9,866.7 C638.9,857.9 639.5,851.5 641.2,847.4 L640.3,843.9 L643.0,842.1 C643.8,837.4 645.4,833.6 648.2,833.6 Z" fill="#000" filter="url(#tex)" opacity="0.22"/>
</g>
<rect x="660.1" y="828.4" width="21.5" height="61.8" fill="#0d1013"/>
<g transform="rotate(4.0 670.9 866.7)">
<path d="M670.9,833.6 C673.6,833.6 675.2,837.4 676.0,842.1 L678.7,843.9 L677.8,847.4 C679.5,851.5 680.1,857.9 680.1,866.7 C680.1,875.5 680.3,880.8 679.5,884.3 L680.5,887.2 L677.6,886.7 C675.2,887.8 672.8,888.1 671.7,888.1 L671.4,893.7 L670.3,893.7 L670.0,888.1 C668.9,888.1 666.5,887.8 664.1,886.7 L661.2,887.2 L662.2,884.3 C661.4,880.8 661.6,875.5 661.6,866.7 C661.6,857.9 662.2,851.5 663.9,847.4 L663.0,843.9 L665.7,842.1 C666.5,837.4 668.1,833.6 670.9,833.6 Z" fill="#d6d6d6"/>
<path d="M670.9,833.6 C673.6,833.6 675.2,837.4 676.0,842.1 L678.7,843.9 L677.8,847.4 C679.5,851.5 680.1,857.9 680.1,866.7 C680.1,875.5 680.3,880.8 679.5,884.3 L680.5,887.2 L677.6,886.7 C675.2,887.8 672.8,888.1 671.7,888.1 L671.4,893.7 L670.3,893.7 L670.0,888.1 C668.9,888.1 666.5,887.8 664.1,886.7 L661.2,887.2 L662.2,884.3 C661.4,880.8 661.6,875.5 661.6,866.7 C661.6,857.9 662.2,851.5 663.9,847.4 L663.0,843.9 L665.7,842.1 C666.5,837.4 668.1,833.6 670.9,833.6 Z" fill="url(#mg)"/>
<path d="M670.9,833.6 C673.6,833.6 675.2,837.4 676.0,842.1 L678.7,843.9 L677.8,847.4 C679.5,851.5 680.1,857.9 680.1,866.7 C680.1,875.5 680.3,880.8 679.5,884.3 L680.5,887.2 L677.6,886.7 C675.2,887.8 672.8,888.1 671.7,888.1 L671.4,893.7 L670.3,893.7 L670.0,888.1 C668.9,888.1 666.5,887.8 664.1,886.7 L661.2,887.2 L662.2,884.3 C661.4,880.8 661.6,875.5 661.6,866.7 C661.6,857.9 662.2,851.5 663.9,847.4 L663.0,843.9 L665.7,842.1 C666.5,837.4 668.1,833.6 670.9,833.6 Z" fill="url(#mh)"/>
<path d="M670.9,833.6 C673.6,833.6 675.2,837.4 676.0,842.1 L678.7,843.9 L677.8,847.4 C679.5,851.5 680.1,857.9 680.1,866.7 C680.1,875.5 680.3,880.8 679.5,884.3 L680.5,887.2 L677.6,886.7 C675.2,887.8 672.8,888.1 671.7,888.1 L671.4,893.7 L670.3,893.7 L670.0,888.1 C668.9,888.1 666.5,887.8 664.1,886.7 L661.2,887.2 L662.2,884.3 C661.4,880.8 661.6,875.5 661.6,866.7 C661.6,857.9 662.2,851.5 663.9,847.4 L663.0,843.9 L665.7,842.1 C666.5,837.4 668.1,833.6 670.9,833.6 Z" fill="#000" filter="url(#tex)" opacity="0.22"/>
</g>
<rect x="546.6" y="891.4" width="21.5" height="61.5" fill="#0d1013"/>
<g transform="rotate(0.0 557.4 929.5)">
<path d="M557.4,896.6 C560.1,896.6 561.7,900.4 562.5,905.1 L565.2,906.8 L564.3,910.3 C566.0,914.4 566.6,920.8 566.6,929.5 C566.6,938.3 566.8,943.5 566.0,947.0 L567.0,950.0 L564.1,949.4 C561.7,950.5 559.3,950.8 558.2,950.8 L557.9,956.4 L556.8,956.4 L556.5,950.8 C555.4,950.8 553.0,950.5 550.6,949.4 L547.7,950.0 L548.7,947.0 C547.9,943.5 548.1,938.3 548.1,929.5 C548.1,920.8 548.7,914.4 550.4,910.3 L549.5,906.8 L552.2,905.1 C553.0,900.4 554.6,896.6 557.4,896.6 Z" fill="#d6d6d6"/>
<path d="M557.4,896.6 C560.1,896.6 561.7,900.4 562.5,905.1 L565.2,906.8 L564.3,910.3 C566.0,914.4 566.6,920.8 566.6,929.5 C566.6,938.3 566.8,943.5 566.0,947.0 L567.0,950.0 L564.1,949.4 C561.7,950.5 559.3,950.8 558.2,950.8 L557.9,956.4 L556.8,956.4 L556.5,950.8 C555.4,950.8 553.0,950.5 550.6,949.4 L547.7,950.0 L548.7,947.0 C547.9,943.5 548.1,938.3 548.1,929.5 C548.1,920.8 548.7,914.4 550.4,910.3 L549.5,906.8 L552.2,905.1 C553.0,900.4 554.6,896.6 557.4,896.6 Z" fill="url(#mg)"/>
<path d="M557.4,896.6 C560.1,896.6 561.7,900.4 562.5,905.1 L565.2,906.8 L564.3,910.3 C566.0,914.4 566.6,920.8 566.6,929.5 C566.6,938.3 566.8,943.5 566.0,947.0 L567.0,950.0 L564.1,949.4 C561.7,950.5 559.3,950.8 558.2,950.8 L557.9,956.4 L556.8,956.4 L556.5,950.8 C555.4,950.8 553.0,950.5 550.6,949.4 L547.7,950.0 L548.7,947.0 C547.9,943.5 548.1,938.3 548.1,929.5 C548.1,920.8 548.7,914.4 550.4,910.3 L549.5,906.8 L552.2,905.1 C553.0,900.4 554.6,896.6 557.4,896.6 Z" fill="url(#mh)"/>
<path d="M557.4,896.6 C560.1,896.6 561.7,900.4 562.5,905.1 L565.2,906.8 L564.3,910.3 C566.0,914.4 566.6,920.8 566.6,929.5 C566.6,938.3 566.8,943.5 566.0,947.0 L567.0,950.0 L564.1,949.4 C561.7,950.5 559.3,950.8 558.2,950.8 L557.9,956.4 L556.8,956.4 L556.5,950.8 C555.4,950.8 553.0,950.5 550.6,949.4 L547.7,950.0 L548.7,947.0 C547.9,943.5 548.1,938.3 548.1,929.5 C548.1,920.8 548.7,914.4 550.4,910.3 L549.5,906.8 L552.2,905.1 C553.0,900.4 554.6,896.6 557.4,896.6 Z" fill="#000" filter="url(#tex)" opacity="0.22"/>
</g>
<rect x="569.3" y="891.4" width="21.5" height="61.5" fill="#121417"/>
<g transform="rotate(0.0 580.1 929.5)">
<path d="M580.1,896.6 C582.8,896.6 584.4,900.4 585.2,905.1 L587.9,906.8 L587.0,910.3 C588.7,914.4 589.3,920.8 589.3,929.5 C589.3,938.3 589.5,943.5 588.7,947.0 L589.7,950.0 L586.8,949.4 C584.4,950.5 582.0,950.8 580.9,950.8 L580.6,956.4 L579.5,956.4 L579.2,950.8 C578.1,950.8 575.7,950.5 573.3,949.4 L570.4,950.0 L571.4,947.0 C570.6,943.5 570.8,938.3 570.8,929.5 C570.8,920.8 571.4,914.4 573.1,910.3 L572.2,906.8 L574.9,905.1 C575.7,900.4 577.3,896.6 580.1,896.6 Z" fill="#d6d6d6"/>
<path d="M580.1,896.6 C582.8,896.6 584.4,900.4 585.2,905.1 L587.9,906.8 L587.0,910.3 C588.7,914.4 589.3,920.8 589.3,929.5 C589.3,938.3 589.5,943.5 588.7,947.0 L589.7,950.0 L586.8,949.4 C584.4,950.5 582.0,950.8 580.9,950.8 L580.6,956.4 L579.5,956.4 L579.2,950.8 C578.1,950.8 575.7,950.5 573.3,949.4 L570.4,950.0 L571.4,947.0 C570.6,943.5 570.8,938.3 570.8,929.5 C570.8,920.8 571.4,914.4 573.1,910.3 L572.2,906.8 L574.9,905.1 C575.7,900.4 577.3,896.6 580.1,896.6 Z" fill="url(#mg)"/>
<path d="M580.1,896.6 C582.8,896.6 584.4,900.4 585.2,905.1 L587.9,906.8 L587.0,910.3 C588.7,914.4 589.3,920.8 589.3,929.5 C589.3,938.3 589.5,943.5 588.7,947.0 L589.7,950.0 L586.8,949.4 C584.4,950.5 582.0,950.8 580.9,950.8 L580.6,956.4 L579.5,956.4 L579.2,950.8 C578.1,950.8 575.7,950.5 573.3,949.4 L570.4,950.0 L571.4,947.0 C570.6,943.5 570.8,938.3 570.8,929.5 C570.8,920.8 571.4,914.4 573.1,910.3 L572.2,906.8 L574.9,905.1 C575.7,900.4 577.3,896.6 580.1,896.6 Z" fill="url(#mh)"/>
<path d="M580.1,896.6 C582.8,896.6 584.4,900.4 585.2,905.1 L587.9,906.8 L587.0,910.3 C588.7,914.4 589.3,920.8 589.3,929.5 C589.3,938.3 589.5,943.5 588.7,947.0 L589.7,950.0 L586.8,949.4 C584.4,950.5 582.0,950.8 580.9,950.8 L580.6,956.4 L579.5,956.4 L579.2,950.8 C578.1,950.8 575.7,950.5 573.3,949.4 L570.4,950.0 L571.4,947.0 C570.6,943.5 570.8,938.3 570.8,929.5 C570.8,920.8 571.4,914.4 573.1,910.3 L572.2,906.8 L574.9,905.1 C575.7,900.4 577.3,896.6 580.1,896.6 Z" fill="#000" filter="url(#tex)" opacity="0.22"/>
</g>
<rect x="592.0" y="891.4" width="21.5" height="61.5" fill="#0d1013"/>
<g transform="rotate(0.0 602.8 929.5)">
<path d="M602.8,896.6 C605.5,896.6 607.1,900.4 607.9,905.1 L610.6,906.8 L609.7,910.3 C611.4,914.4 612.0,920.8 612.0,929.5 C612.0,938.3 612.2,943.5 611.4,947.0 L612.4,950.0 L609.5,949.4 C607.1,950.5 604.7,950.8 603.6,950.8 L603.3,956.4 L602.2,956.4 L601.9,950.8 C600.8,950.8 598.4,950.5 596.0,949.4 L593.1,950.0 L594.1,947.0 C593.3,943.5 593.5,938.3 593.5,929.5 C593.5,920.8 594.1,914.4 595.8,910.3 L594.9,906.8 L597.6,905.1 C598.4,900.4 600.0,896.6 602.8,896.6 Z" fill="#d6d6d6"/>
<path d="M602.8,896.6 C605.5,896.6 607.1,900.4 607.9,905.1 L610.6,906.8 L609.7,910.3 C611.4,914.4 612.0,920.8 612.0,929.5 C612.0,938.3 612.2,943.5 611.4,947.0 L612.4,950.0 L609.5,949.4 C607.1,950.5 604.7,950.8 603.6,950.8 L603.3,956.4 L602.2,956.4 L601.9,950.8 C600.8,950.8 598.4,950.5 596.0,949.4 L593.1,950.0 L594.1,947.0 C593.3,943.5 593.5,938.3 593.5,929.5 C593.5,920.8 594.1,914.4 595.8,910.3 L594.9,906.8 L597.6,905.1 C598.4,900.4 600.0,896.6 602.8,896.6 Z" fill="url(#mg)"/>
<path d="M602.8,896.6 C605.5,896.6 607.1,900.4 607.9,905.1 L610.6,906.8 L609.7,910.3 C611.4,914.4 612.0,920.8 612.0,929.5 C612.0,938.3 612.2,943.5 611.4,947.0 L612.4,950.0 L609.5,949.4 C607.1,950.5 604.7,950.8 603.6,950.8 L603.3,956.4 L602.2,956.4 L601.9,950.8 C600.8,950.8 598.4,950.5 596.0,949.4 L593.1,950.0 L594.1,947.0 C593.3,943.5 593.5,938.3 593.5,929.5 C593.5,920.8 594.1,914.4 595.8,910.3 L594.9,906.8 L597.6,905.1 C598.4,900.4 600.0,896.6 602.8,896.6 Z" fill="url(#mh)"/>
<path d="M602.8,896.6 C605.5,896.6 607.1,900.4 607.9,905.1 L610.6,906.8 L609.7,910.3 C611.4,914.4 612.0,920.8 612.0,929.5 C612.0,938.3 612.2,943.5 611.4,947.0 L612.4,950.0 L609.5,949.4 C607.1,950.5 604.7,950.8 603.6,950.8 L603.3,956.4 L602.2,956.4 L601.9,950.8 C600.8,950.8 598.4,950.5 596.0,949.4 L593.1,950.0 L594.1,947.0 C593.3,943.5 593.5,938.3 593.5,929.5 C593.5,920.8 594.1,914.4 595.8,910.3 L594.9,906.8 L597.6,905.1 C598.4,900.4 600.0,896.6 602.8,896.6 Z" fill="#000" filter="url(#tex)" opacity="0.22"/>
</g>
<rect x="614.7" y="891.4" width="21.5" height="61.5" fill="#121417"/>
<g transform="rotate(0.0 625.5 929.5)">
<path d="M625.5,896.6 C628.2,896.6 629.8,900.4 630.6,905.1 L633.3,906.8 L632.4,910.3 C634.1,914.4 634.7,920.8 634.7,929.5 C634.7,938.3 634.9,943.5 634.1,947.0 L635.1,950.0 L632.2,949.4 C629.8,950.5 627.4,950.8 626.3,950.8 L626.0,956.4 L624.9,956.4 L624.6,950.8 C623.5,950.8 621.1,950.5 618.7,949.4 L615.8,950.0 L616.8,947.0 C616.0,943.5 616.2,938.3 616.2,929.5 C616.2,920.8 616.8,914.4 618.5,910.3 L617.6,906.8 L620.3,905.1 C621.1,900.4 622.7,896.6 625.5,896.6 Z" fill="#d6d6d6"/>
<path d="M625.5,896.6 C628.2,896.6 629.8,900.4 630.6,905.1 L633.3,906.8 L632.4,910.3 C634.1,914.4 634.7,920.8 634.7,929.5 C634.7,938.3 634.9,943.5 634.1,947.0 L635.1,950.0 L632.2,949.4 C629.8,950.5 627.4,950.8 626.3,950.8 L626.0,956.4 L624.9,956.4 L624.6,950.8 C623.5,950.8 621.1,950.5 618.7,949.4 L615.8,950.0 L616.8,947.0 C616.0,943.5 616.2,938.3 616.2,929.5 C616.2,920.8 616.8,914.4 618.5,910.3 L617.6,906.8 L620.3,905.1 C621.1,900.4 622.7,896.6 625.5,896.6 Z" fill="url(#mg)"/>
<path d="M625.5,896.6 C628.2,896.6 629.8,900.4 630.6,905.1 L633.3,906.8 L632.4,910.3 C634.1,914.4 634.7,920.8 634.7,929.5 C634.7,938.3 634.9,943.5 634.1,947.0 L635.1,950.0 L632.2,949.4 C629.8,950.5 627.4,950.8 626.3,950.8 L626.0,956.4 L624.9,956.4 L624.6,950.8 C623.5,950.8 621.1,950.5 618.7,949.4 L615.8,950.0 L616.8,947.0 C616.0,943.5 616.2,938.3 616.2,929.5 C616.2,920.8 616.8,914.4 618.5,910.3 L617.6,906.8 L620.3,905.1 C621.1,900.4 622.7,896.6 625.5,896.6 Z" fill="url(#mh)"/>
<path d="M625.5,896.6 C628.2,896.6 629.8,900.4 630.6,905.1 L633.3,906.8 L632.4,910.3 C634.1,914.4 634.7,920.8 634.7,929.5 C634.7,938.3 634.9,943.5 634.1,947.0 L635.1,950.0 L632.2,949.4 C629.8,950.5 627.4,950.8 626.3,950.8 L626.0,956.4 L624.9,956.4 L624.6,950.8 C623.5,950.8 621.1,950.5 618.7,949.4 L615.8,950.0 L616.8,947.0 C616.0,943.5 616.2,938.3 616.2,929.5 C616.2,920.8 616.8,914.4 618.5,910.3 L617.6,906.8 L620.3,905.1 C621.1,900.4 622.7,896.6 625.5,896.6 Z" fill="#000" filter="url(#tex)" opacity="0.22"/>
</g>
<rect x="637.4" y="891.4" width="21.5" height="61.5" fill="#0d1013"/>
<g transform="rotate(0.0 648.2 929.5)">
<path d="M648.2,896.6 C650.9,896.6 652.5,900.4 653.3,905.1 L656.0,906.8 L655.1,910.3 C656.8,914.4 657.4,920.8 657.4,929.5 C657.4,938.3 657.6,943.5 656.8,947.0 L657.8,950.0 L654.9,949.4 C652.5,950.5 650.1,950.8 649.0,950.8 L648.7,956.4 L647.6,956.4 L647.3,950.8 C646.2,950.8 643.8,950.5 641.4,949.4 L638.5,950.0 L639.5,947.0 C638.7,943.5 638.9,938.3 638.9,929.5 C638.9,920.8 639.5,914.4 641.2,910.3 L640.3,906.8 L643.0,905.1 C643.8,900.4 645.4,896.6 648.2,896.6 Z" fill="#d6d6d6"/>
<path d="M648.2,896.6 C650.9,896.6 652.5,900.4 653.3,905.1 L656.0,906.8 L655.1,910.3 C656.8,914.4 657.4,920.8 657.4,929.5 C657.4,938.3 657.6,943.5 656.8,947.0 L657.8,950.0 L654.9,949.4 C652.5,950.5 650.1,950.8 649.0,950.8 L648.7,956.4 L647.6,956.4 L647.3,950.8 C646.2,950.8 643.8,950.5 641.4,949.4 L638.5,950.0 L639.5,947.0 C638.7,943.5 638.9,938.3 638.9,929.5 C638.9,920.8 639.5,914.4 641.2,910.3 L640.3,906.8 L643.0,905.1 C643.8,900.4 645.4,896.6 648.2,896.6 Z" fill="url(#mg)"/>
<path d="M648.2,896.6 C650.9,896.6 652.5,900.4 653.3,905.1 L656.0,906.8 L655.1,910.3 C656.8,914.4 657.4,920.8 657.4,929.5 C657.4,938.3 657.6,943.5 656.8,947.0 L657.8,950.0 L654.9,949.4 C652.5,950.5 650.1,950.8 649.0,950.8 L648.7,956.4 L647.6,956.4 L647.3,950.8 C646.2,950.8 643.8,950.5 641.4,949.4 L638.5,950.0 L639.5,947.0 C638.7,943.5 638.9,938.3 638.9,929.5 C638.9,920.8 639.5,914.4 641.2,910.3 L640.3,906.8 L643.0,905.1 C643.8,900.4 645.4,896.6 648.2,896.6 Z" fill="url(#mh)"/>
<path d="M648.2,896.6 C650.9,896.6 652.5,900.4 653.3,905.1 L656.0,906.8 L655.1,910.3 C656.8,914.4 657.4,920.8 657.4,929.5 C657.4,938.3 657.6,943.5 656.8,947.0 L657.8,950.0 L654.9,949.4 C652.5,950.5 650.1,950.8 649.0,950.8 L648.7,956.4 L647.6,956.4 L647.3,950.8 C646.2,950.8 643.8,950.5 641.4,949.4 L638.5,950.0 L639.5,947.0 C638.7,943.5 638.9,938.3 638.9,929.5 C638.9,920.8 639.5,914.4 641.2,910.3 L640.3,906.8 L643.0,905.1 C643.8,900.4 645.4,896.6 648.2,896.6 Z" fill="#000" filter="url(#tex)" opacity="0.22"/>
</g>
<rect x="660.1" y="891.4" width="21.5" height="61.5" fill="#121417"/>
<rect x="659.5" y="890.8" width="22.7" height="62.7" fill="#0d1013"/>
<ellipse cx="559.0" cy="723.0" rx="2.0" ry="1.8" fill="url(#hB)"/>
<ellipse cx="559.5" cy="776.0" rx="3.8" ry="3.8" fill="url(#hy)"/>
<ellipse cx="627.0" cy="813.5" rx="1.2" ry="1.2" fill="url(#hc)"/>
<ellipse cx="656.0" cy="806.5" rx="2.0" ry="3.5" fill="url(#hB)"/>
<ellipse cx="562.0" cy="840.0" rx="4.0" ry="4.5" fill="url(#hr)"/>
<ellipse cx="573.0" cy="874.0" rx="1.2" ry="1.2" fill="url(#hb)"/>
<ellipse cx="631.5" cy="845.0" rx="1.0" ry="1.0" fill="url(#hb)"/>
<ellipse cx="617.5" cy="868.0" rx="1.6" ry="1.6" fill="url(#hb)"/>
<ellipse cx="655.0" cy="867.0" rx="2.0" ry="2.5" fill="url(#hc)"/>
<ellipse cx="670.0" cy="843.0" rx="7.0" ry="4.5" fill="url(#hc)"/>
<ellipse cx="667.0" cy="840.0" rx="2.5" ry="2.0" fill="url(#hy)"/>
<ellipse cx="561.0" cy="901.0" rx="4.5" ry="5.0" fill="url(#hr)"/>
<ellipse cx="551.0" cy="932.0" rx="1.5" ry="1.5" fill="url(#hb)"/>
<ellipse cx="570.5" cy="936.0" rx="1.5" ry="1.5" fill="url(#hb)"/>
<ellipse cx="592.0" cy="920.0" rx="3.0" ry="3.0" fill="url(#hy)"/>
<ellipse cx="604.0" cy="924.0" rx="2.5" ry="2.5" fill="url(#hy)"/>
<ellipse cx="607.0" cy="932.0" rx="1.5" ry="1.5" fill="url(#hc)"/>
<ellipse cx="601.5" cy="941.0" rx="8.0" ry="6.5" fill="url(#hr)"/>
<ellipse cx="601.5" cy="941.0" rx="6.9" ry="5.6" fill="url(#hR)"/>
<ellipse cx="627.0" cy="908.0" rx="3.0" ry="3.0" fill="url(#hy)"/>
<ellipse cx="621.0" cy="914.0" rx="1.0" ry="1.0" fill="url(#hb)"/>
<ellipse cx="614.5" cy="936.0" rx="2.8" ry="2.8" fill="url(#hy)"/>
<ellipse cx="631.0" cy="937.0" rx="4.5" ry="2.5" fill="url(#hc)"/>
<ellipse cx="631.5" cy="936.0" rx="2.0" ry="2.0" fill="url(#hr)"/>
<ellipse cx="651.0" cy="931.0" rx="5.0" ry="7.5" fill="url(#hr)"/>
<ellipse cx="651.0" cy="931.0" rx="4.4" ry="6.9" fill="url(#hR)"/>
</g>
<text x="392.30" y="663.60" font-size="13.3" text-anchor="end" font-weight="normal" font-style="normal" fill="#000" >d7</text>
<text x="392.30" y="729.00" font-size="13.3" text-anchor="end" font-weight="normal" font-style="normal" fill="#000" >d14</text>
<text x="392.30" y="796.30" font-size="13.3" text-anchor="end" font-weight="normal" font-style="normal" fill="#000" >d21</text>
<text x="392.30" y="863.50" font-size="13.3" text-anchor="end" font-weight="normal" font-style="normal" fill="#000" >d28</text>
<text x="392.30" y="930.80" font-size="13.3" text-anchor="end" font-weight="normal" font-style="normal" fill="#000" >d34</text>
</svg>
</body></html>
